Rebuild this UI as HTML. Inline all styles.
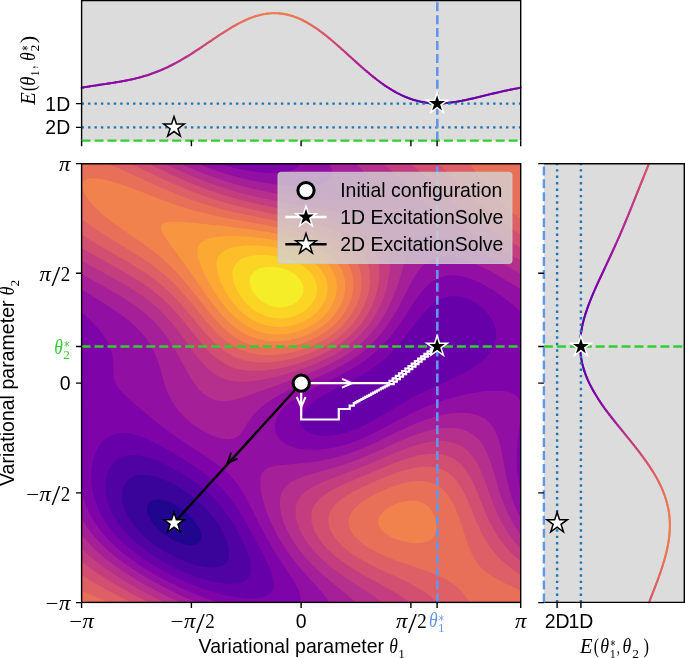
<!DOCTYPE html>
<html><head><meta charset="utf-8"><title>ExcitationSolve energy landscape</title>
<style>html,body{margin:0;padding:0;background:#fff}svg{display:block}</style></head>
<body>
<svg width="685" height="658" viewBox="0 0 685 658">
<rect width="685" height="658" fill="#fff"/>
<g shape-rendering="geometricPrecision"><rect x="81.6" y="163.8" width="439.1" height="438.6" fill="#20068f"/>
<path fill="#3a049a" fill-rule="evenodd" d="M81.6,163.8 83.1,163.8 84.5,163.8 86.0,163.8 87.5,163.8 88.9,163.8 90.4,163.8 91.9,163.8 93.3,163.8 94.8,163.8 96.3,163.8 97.8,163.8 99.2,163.8 100.7,163.8 102.2,163.8 103.6,163.8 105.1,163.8 106.6,163.8 108.0,163.8 109.5,163.8 111.0,163.8 112.4,163.8 113.9,163.8 115.4,163.8 116.8,163.8 118.3,163.8 119.8,163.8 121.3,163.8 122.7,163.8 124.2,163.8 125.7,163.8 127.1,163.8 128.6,163.8 130.1,163.8 131.5,163.8 133.0,163.8 134.5,163.8 135.9,163.8 137.4,163.8 138.9,163.8 140.3,163.8 141.8,163.8 143.3,163.8 144.7,163.8 146.2,163.8 147.7,163.8 149.2,163.8 150.6,163.8 152.1,163.8 153.6,163.8 155.0,163.8 156.5,163.8 158.0,163.8 159.4,163.8 160.9,163.8 162.4,163.8 163.8,163.8 165.3,163.8 166.8,163.8 168.2,163.8 169.7,163.8 171.2,163.8 172.7,163.8 174.1,163.8 175.6,163.8 177.1,163.8 178.5,163.8 180.0,163.8 181.5,163.8 182.9,163.8 184.4,163.8 185.9,163.8 187.3,163.8 188.8,163.8 190.3,163.8 191.7,163.8 193.2,163.8 194.7,163.8 196.1,163.8 197.6,163.8 199.1,163.8 200.6,163.8 202.0,163.8 203.5,163.8 205.0,163.8 206.4,163.8 207.9,163.8 209.4,163.8 210.8,163.8 212.3,163.8 213.8,163.8 215.2,163.8 216.7,163.8 218.2,163.8 219.6,163.8 221.1,163.8 222.6,163.8 224.1,163.8 225.5,163.8 227.0,163.8 228.5,163.8 229.9,163.8 231.4,163.8 232.9,163.8 234.3,163.8 235.8,163.8 237.3,163.8 238.7,163.8 240.2,163.8 241.7,163.8 243.1,163.8 244.6,163.8 246.1,163.8 247.5,163.8 249.0,163.8 250.5,163.8 252.0,163.8 253.4,163.8 254.9,163.8 256.4,163.8 257.8,163.8 259.3,163.8 260.8,163.8 262.2,163.8 263.7,163.8 265.2,163.8 266.6,163.8 268.1,163.8 269.6,163.8 271.0,163.8 272.5,163.8 274.0,163.8 275.5,163.8 276.9,163.8 278.4,163.8 279.9,163.8 281.3,163.8 282.8,163.8 284.3,163.8 285.7,163.8 287.2,163.8 288.7,163.8 290.1,163.8 291.6,163.8 293.1,163.8 294.5,163.8 296.0,163.8 297.5,163.8 298.9,163.8 300.4,163.8 301.9,163.8 303.4,163.8 304.8,163.8 306.3,163.8 307.8,163.8 309.2,163.8 310.7,163.8 312.2,163.8 313.6,163.8 315.1,163.8 316.6,163.8 318.0,163.8 319.5,163.8 321.0,163.8 322.4,163.8 323.9,163.8 325.4,163.8 326.8,163.8 328.3,163.8 329.8,163.8 331.3,163.8 332.7,163.8 334.2,163.8 335.7,163.8 337.1,163.8 338.6,163.8 340.1,163.8 341.5,163.8 343.0,163.8 344.5,163.8 345.9,163.8 347.4,163.8 348.9,163.8 350.3,163.8 351.8,163.8 353.3,163.8 354.8,163.8 356.2,163.8 357.7,163.8 359.2,163.8 360.6,163.8 362.1,163.8 363.6,163.8 365.0,163.8 366.5,163.8 368.0,163.8 369.4,163.8 370.9,163.8 372.4,163.8 373.8,163.8 375.3,163.8 376.8,163.8 378.2,163.8 379.7,163.8 381.2,163.8 382.7,163.8 384.1,163.8 385.6,163.8 387.1,163.8 388.5,163.8 390.0,163.8 391.5,163.8 392.9,163.8 394.4,163.8 395.9,163.8 397.3,163.8 398.8,163.8 400.3,163.8 401.7,163.8 403.2,163.8 404.7,163.8 406.2,163.8 407.6,163.8 409.1,163.8 410.6,163.8 412.0,163.8 413.5,163.8 415.0,163.8 416.4,163.8 417.9,163.8 419.4,163.8 420.8,163.8 422.3,163.8 423.8,163.8 425.2,163.8 426.7,163.8 428.2,163.8 429.6,163.8 431.1,163.8 432.6,163.8 434.1,163.8 435.5,163.8 437.0,163.8 438.5,163.8 439.9,163.8 441.4,163.8 442.9,163.8 444.3,163.8 445.8,163.8 447.3,163.8 448.7,163.8 450.2,163.8 451.7,163.8 453.1,163.8 454.6,163.8 456.1,163.8 457.6,163.8 459.0,163.8 460.5,163.8 462.0,163.8 463.4,163.8 464.9,163.8 466.4,163.8 467.8,163.8 469.3,163.8 470.8,163.8 472.2,163.8 473.7,163.8 475.2,163.8 476.6,163.8 478.1,163.8 479.6,163.8 481.0,163.8 482.5,163.8 484.0,163.8 485.5,163.8 486.9,163.8 488.4,163.8 489.9,163.8 491.3,163.8 492.8,163.8 494.3,163.8 495.7,163.8 497.2,163.8 498.7,163.8 500.1,163.8 501.6,163.8 503.1,163.8 504.5,163.8 506.0,163.8 507.5,163.8 509.0,163.8 510.4,163.8 511.9,163.8 513.4,163.8 514.8,163.8 516.3,163.8 517.8,163.8 519.2,163.8 520.7,163.8 520.7,165.3 520.7,166.7 520.7,168.2 520.7,169.7 520.7,171.1 520.7,172.6 520.7,174.1 520.7,175.5 520.7,177.0 520.7,178.5 520.7,179.9 520.7,181.4 520.7,182.9 520.7,184.3 520.7,185.8 520.7,187.3 520.7,188.7 520.7,190.2 520.7,191.7 520.7,193.1 520.7,194.6 520.7,196.1 520.7,197.5 520.7,199.0 520.7,200.5 520.7,201.9 520.7,203.4 520.7,204.9 520.7,206.3 520.7,207.8 520.7,209.3 520.7,210.7 520.7,212.2 520.7,213.7 520.7,215.1 520.7,216.6 520.7,218.1 520.7,219.5 520.7,221.0 520.7,222.5 520.7,223.9 520.7,225.4 520.7,226.9 520.7,228.3 520.7,229.8 520.7,231.3 520.7,232.7 520.7,234.2 520.7,235.7 520.7,237.1 520.7,238.6 520.7,240.1 520.7,241.5 520.7,243.0 520.7,244.5 520.7,245.9 520.7,247.4 520.7,248.9 520.7,250.3 520.7,251.8 520.7,253.3 520.7,254.7 520.7,256.2 520.7,257.7 520.7,259.1 520.7,260.6 520.7,262.1 520.7,263.5 520.7,265.0 520.7,266.5 520.7,267.9 520.7,269.4 520.7,270.9 520.7,272.3 520.7,273.8 520.7,275.3 520.7,276.8 520.7,278.2 520.7,279.7 520.7,281.2 520.7,282.6 520.7,284.1 520.7,285.6 520.7,287.0 520.7,288.5 520.7,290.0 520.7,291.4 520.7,292.9 520.7,294.4 520.7,295.8 520.7,297.3 520.7,298.8 520.7,300.2 520.7,301.7 520.7,303.2 520.7,304.6 520.7,306.1 520.7,307.6 520.7,309.0 520.7,310.5 520.7,312.0 520.7,313.4 520.7,314.9 520.7,316.4 520.7,317.8 520.7,319.3 520.7,320.8 520.7,322.2 520.7,323.7 520.7,325.2 520.7,326.6 520.7,328.1 520.7,329.6 520.7,331.0 520.7,332.5 520.7,334.0 520.7,335.4 520.7,336.9 520.7,338.4 520.7,339.8 520.7,341.3 520.7,342.8 520.7,344.2 520.7,345.7 520.7,347.2 520.7,348.6 520.7,350.1 520.7,351.6 520.7,353.0 520.7,354.5 520.7,356.0 520.7,357.4 520.7,358.9 520.7,360.4 520.7,361.8 520.7,363.3 520.7,364.8 520.7,366.2 520.7,367.7 520.7,369.2 520.7,370.6 520.7,372.1 520.7,373.6 520.7,375.0 520.7,376.5 520.7,378.0 520.7,379.4 520.7,380.9 520.7,382.4 520.7,383.8 520.7,385.3 520.7,386.8 520.7,388.2 520.7,389.7 520.7,391.2 520.7,392.6 520.7,394.1 520.7,395.6 520.7,397.0 520.7,398.5 520.7,400.0 520.7,401.4 520.7,402.9 520.7,404.4 520.7,405.8 520.7,407.3 520.7,408.8 520.7,410.2 520.7,411.7 520.7,413.2 520.7,414.6 520.7,416.1 520.7,417.6 520.7,419.0 520.7,420.5 520.7,422.0 520.7,423.4 520.7,424.9 520.7,426.4 520.7,427.8 520.7,429.3 520.7,430.8 520.7,432.2 520.7,433.7 520.7,435.2 520.7,436.6 520.7,438.1 520.7,439.6 520.7,441.0 520.7,442.5 520.7,444.0 520.7,445.4 520.7,446.9 520.7,448.4 520.7,449.8 520.7,451.3 520.7,452.8 520.7,454.2 520.7,455.7 520.7,457.2 520.7,458.6 520.7,460.1 520.7,461.6 520.7,463.0 520.7,464.5 520.7,466.0 520.7,467.4 520.7,468.9 520.7,470.4 520.7,471.8 520.7,473.3 520.7,474.8 520.7,476.2 520.7,477.7 520.7,479.2 520.7,480.6 520.7,482.1 520.7,483.6 520.7,485.0 520.7,486.5 520.7,488.0 520.7,489.4 520.7,490.9 520.7,492.4 520.7,493.9 520.7,495.3 520.7,496.8 520.7,498.3 520.7,499.7 520.7,501.2 520.7,502.7 520.7,504.1 520.7,505.6 520.7,507.1 520.7,508.5 520.7,510.0 520.7,511.5 520.7,512.9 520.7,514.4 520.7,515.9 520.7,517.3 520.7,518.8 520.7,520.3 520.7,521.7 520.7,523.2 520.7,524.7 520.7,526.1 520.7,527.6 520.7,529.1 520.7,530.5 520.7,532.0 520.7,533.5 520.7,534.9 520.7,536.4 520.7,537.9 520.7,539.3 520.7,540.8 520.7,542.3 520.7,543.7 520.7,545.2 520.7,546.7 520.7,548.1 520.7,549.6 520.7,551.1 520.7,552.5 520.7,554.0 520.7,555.5 520.7,556.9 520.7,558.4 520.7,559.9 520.7,561.3 520.7,562.8 520.7,564.3 520.7,565.7 520.7,567.2 520.7,568.7 520.7,570.1 520.7,571.6 520.7,573.1 520.7,574.5 520.7,576.0 520.7,577.5 520.7,578.9 520.7,580.4 520.7,581.9 520.7,583.3 520.7,584.8 520.7,586.3 520.7,587.7 520.7,589.2 520.7,590.7 520.7,592.1 520.7,593.6 520.7,595.1 520.7,596.5 520.7,598.0 520.7,599.5 520.7,600.9 520.7,602.4 519.2,602.4 517.8,602.4 516.3,602.4 514.8,602.4 513.4,602.4 511.9,602.4 510.4,602.4 509.0,602.4 507.5,602.4 506.0,602.4 504.5,602.4 503.1,602.4 501.6,602.4 500.1,602.4 498.7,602.4 497.2,602.4 495.7,602.4 494.3,602.4 492.8,602.4 491.3,602.4 489.9,602.4 488.4,602.4 486.9,602.4 485.5,602.4 484.0,602.4 482.5,602.4 481.0,602.4 479.6,602.4 478.1,602.4 476.6,602.4 475.2,602.4 473.7,602.4 472.2,602.4 470.8,602.4 469.3,602.4 467.8,602.4 466.4,602.4 464.9,602.4 463.4,602.4 462.0,602.4 460.5,602.4 459.0,602.4 457.6,602.4 456.1,602.4 454.6,602.4 453.1,602.4 451.7,602.4 450.2,602.4 448.7,602.4 447.3,602.4 445.8,602.4 444.3,602.4 442.9,602.4 441.4,602.4 439.9,602.4 438.5,602.4 437.0,602.4 435.5,602.4 434.1,602.4 432.6,602.4 431.1,602.4 429.6,602.4 428.2,602.4 426.7,602.4 425.2,602.4 423.8,602.4 422.3,602.4 420.8,602.4 419.4,602.4 417.9,602.4 416.4,602.4 415.0,602.4 413.5,602.4 412.0,602.4 410.6,602.4 409.1,602.4 407.6,602.4 406.2,602.4 404.7,602.4 403.2,602.4 401.7,602.4 400.3,602.4 398.8,602.4 397.3,602.4 395.9,602.4 394.4,602.4 392.9,602.4 391.5,602.4 390.0,602.4 388.5,602.4 387.1,602.4 385.6,602.4 384.1,602.4 382.7,602.4 381.2,602.4 379.7,602.4 378.2,602.4 376.8,602.4 375.3,602.4 373.8,602.4 372.4,602.4 370.9,602.4 369.4,602.4 368.0,602.4 366.5,602.4 365.0,602.4 363.6,602.4 362.1,602.4 360.6,602.4 359.2,602.4 357.7,602.4 356.2,602.4 354.8,602.4 353.3,602.4 351.8,602.4 350.3,602.4 348.9,602.4 347.4,602.4 345.9,602.4 344.5,602.4 343.0,602.4 341.5,602.4 340.1,602.4 338.6,602.4 337.1,602.4 335.7,602.4 334.2,602.4 332.7,602.4 331.3,602.4 329.8,602.4 328.3,602.4 326.8,602.4 325.4,602.4 323.9,602.4 322.4,602.4 321.0,602.4 319.5,602.4 318.0,602.4 316.6,602.4 315.1,602.4 313.6,602.4 312.2,602.4 310.7,602.4 309.2,602.4 307.8,602.4 306.3,602.4 304.8,602.4 303.4,602.4 301.9,602.4 300.4,602.4 298.9,602.4 297.5,602.4 296.0,602.4 294.5,602.4 293.1,602.4 291.6,602.4 290.1,602.4 288.7,602.4 287.2,602.4 285.7,602.4 284.3,602.4 282.8,602.4 281.3,602.4 279.9,602.4 278.4,602.4 276.9,602.4 275.5,602.4 274.0,602.4 272.5,602.4 271.0,602.4 269.6,602.4 268.1,602.4 266.6,602.4 265.2,602.4 263.7,602.4 262.2,602.4 260.8,602.4 259.3,602.4 257.8,602.4 256.4,602.4 254.9,602.4 253.4,602.4 252.0,602.4 250.5,602.4 249.0,602.4 247.5,602.4 246.1,602.4 244.6,602.4 243.1,602.4 241.7,602.4 240.2,602.4 238.7,602.4 237.3,602.4 235.8,602.4 234.3,602.4 232.9,602.4 231.4,602.4 229.9,602.4 228.5,602.4 227.0,602.4 225.5,602.4 224.1,602.4 222.6,602.4 221.1,602.4 219.6,602.4 218.2,602.4 216.7,602.4 215.2,602.4 213.8,602.4 212.3,602.4 210.8,602.4 209.4,602.4 207.9,602.4 206.4,602.4 205.0,602.4 203.5,602.4 202.0,602.4 200.6,602.4 199.1,602.4 197.6,602.4 196.1,602.4 194.7,602.4 193.2,602.4 191.7,602.4 190.3,602.4 188.8,602.4 187.3,602.4 185.9,602.4 184.4,602.4 182.9,602.4 181.5,602.4 180.0,602.4 178.5,602.4 177.1,602.4 175.6,602.4 174.1,602.4 172.7,602.4 171.2,602.4 169.7,602.4 168.2,602.4 166.8,602.4 165.3,602.4 163.8,602.4 162.4,602.4 160.9,602.4 159.4,602.4 158.0,602.4 156.5,602.4 155.0,602.4 153.6,602.4 152.1,602.4 150.6,602.4 149.2,602.4 147.7,602.4 146.2,602.4 144.7,602.4 143.3,602.4 141.8,602.4 140.3,602.4 138.9,602.4 137.4,602.4 135.9,602.4 134.5,602.4 133.0,602.4 131.5,602.4 130.1,602.4 128.6,602.4 127.1,602.4 125.7,602.4 124.2,602.4 122.7,602.4 121.3,602.4 119.8,602.4 118.3,602.4 116.8,602.4 115.4,602.4 113.9,602.4 112.4,602.4 111.0,602.4 109.5,602.4 108.0,602.4 106.6,602.4 105.1,602.4 103.6,602.4 102.2,602.4 100.7,602.4 99.2,602.4 97.8,602.4 96.3,602.4 94.8,602.4 93.3,602.4 91.9,602.4 90.4,602.4 88.9,602.4 87.5,602.4 86.0,602.4 84.5,602.4 83.1,602.4 81.6,602.4 81.6,600.9 81.6,599.5 81.6,598.0 81.6,596.5 81.6,595.1 81.6,593.6 81.6,592.1 81.6,590.7 81.6,589.2 81.6,587.7 81.6,586.3 81.6,584.8 81.6,583.3 81.6,581.9 81.6,580.4 81.6,578.9 81.6,577.5 81.6,576.0 81.6,574.5 81.6,573.1 81.6,571.6 81.6,570.1 81.6,568.7 81.6,567.2 81.6,565.7 81.6,564.3 81.6,562.8 81.6,561.3 81.6,559.9 81.6,558.4 81.6,556.9 81.6,555.5 81.6,554.0 81.6,552.5 81.6,551.1 81.6,549.6 81.6,548.1 81.6,546.7 81.6,545.2 81.6,543.7 81.6,542.3 81.6,540.8 81.6,539.3 81.6,537.9 81.6,536.4 81.6,534.9 81.6,533.5 81.6,532.0 81.6,530.5 81.6,529.1 81.6,527.6 81.6,526.1 81.6,524.7 81.6,523.2 81.6,521.7 81.6,520.3 81.6,518.8 81.6,517.3 81.6,515.9 81.6,514.4 81.6,512.9 81.6,511.5 81.6,510.0 81.6,508.5 81.6,507.1 81.6,505.6 81.6,504.1 81.6,502.7 81.6,501.2 81.6,499.7 81.6,498.3 81.6,496.8 81.6,495.3 81.6,493.9 81.6,492.4 81.6,490.9 81.6,489.4 81.6,488.0 81.6,486.5 81.6,485.0 81.6,483.6 81.6,482.1 81.6,480.6 81.6,479.2 81.6,477.7 81.6,476.2 81.6,474.8 81.6,473.3 81.6,471.8 81.6,470.4 81.6,468.9 81.6,467.4 81.6,466.0 81.6,464.5 81.6,463.0 81.6,461.6 81.6,460.1 81.6,458.6 81.6,457.2 81.6,455.7 81.6,454.2 81.6,452.8 81.6,451.3 81.6,449.8 81.6,448.4 81.6,446.9 81.6,445.4 81.6,444.0 81.6,442.5 81.6,441.0 81.6,439.6 81.6,438.1 81.6,436.6 81.6,435.2 81.6,433.7 81.6,432.2 81.6,430.8 81.6,429.3 81.6,427.8 81.6,426.4 81.6,424.9 81.6,423.4 81.6,422.0 81.6,420.5 81.6,419.0 81.6,417.6 81.6,416.1 81.6,414.6 81.6,413.2 81.6,411.7 81.6,410.2 81.6,408.8 81.6,407.3 81.6,405.8 81.6,404.4 81.6,402.9 81.6,401.4 81.6,400.0 81.6,398.5 81.6,397.0 81.6,395.6 81.6,394.1 81.6,392.6 81.6,391.2 81.6,389.7 81.6,388.2 81.6,386.8 81.6,385.3 81.6,383.8 81.6,382.4 81.6,380.9 81.6,379.4 81.6,378.0 81.6,376.5 81.6,375.0 81.6,373.6 81.6,372.1 81.6,370.6 81.6,369.2 81.6,367.7 81.6,366.2 81.6,364.8 81.6,363.3 81.6,361.8 81.6,360.4 81.6,358.9 81.6,357.4 81.6,356.0 81.6,354.5 81.6,353.0 81.6,351.6 81.6,350.1 81.6,348.6 81.6,347.2 81.6,345.7 81.6,344.2 81.6,342.8 81.6,341.3 81.6,339.8 81.6,338.4 81.6,336.9 81.6,335.4 81.6,334.0 81.6,332.5 81.6,331.0 81.6,329.6 81.6,328.1 81.6,326.6 81.6,325.2 81.6,323.7 81.6,322.2 81.6,320.8 81.6,319.3 81.6,317.8 81.6,316.4 81.6,314.9 81.6,313.4 81.6,312.0 81.6,310.5 81.6,309.0 81.6,307.6 81.6,306.1 81.6,304.6 81.6,303.2 81.6,301.7 81.6,300.2 81.6,298.8 81.6,297.3 81.6,295.8 81.6,294.4 81.6,292.9 81.6,291.4 81.6,290.0 81.6,288.5 81.6,287.0 81.6,285.6 81.6,284.1 81.6,282.6 81.6,281.2 81.6,279.7 81.6,278.2 81.6,276.8 81.6,275.3 81.6,273.8 81.6,272.3 81.6,270.9 81.6,269.4 81.6,267.9 81.6,266.5 81.6,265.0 81.6,263.5 81.6,262.1 81.6,260.6 81.6,259.1 81.6,257.7 81.6,256.2 81.6,254.7 81.6,253.3 81.6,251.8 81.6,250.3 81.6,248.9 81.6,247.4 81.6,245.9 81.6,244.5 81.6,243.0 81.6,241.5 81.6,240.1 81.6,238.6 81.6,237.1 81.6,235.7 81.6,234.2 81.6,232.7 81.6,231.3 81.6,229.8 81.6,228.3 81.6,226.9 81.6,225.4 81.6,223.9 81.6,222.5 81.6,221.0 81.6,219.5 81.6,218.1 81.6,216.6 81.6,215.1 81.6,213.7 81.6,212.2 81.6,210.7 81.6,209.3 81.6,207.8 81.6,206.3 81.6,204.9 81.6,203.4 81.6,201.9 81.6,200.5 81.6,199.0 81.6,197.5 81.6,196.1 81.6,194.6 81.6,193.1 81.6,191.7 81.6,190.2 81.6,188.7 81.6,187.3 81.6,185.8 81.6,184.3 81.6,182.9 81.6,181.4 81.6,179.9 81.6,178.5 81.6,177.0 81.6,175.5 81.6,174.1 81.6,172.6 81.6,171.1 81.6,169.7 81.6,168.2 81.6,166.7 81.6,165.3 81.6,163.8ZM156.5,499.6 155.0,499.8 153.6,500.1 152.1,500.7 150.6,501.5 149.4,502.7 148.3,504.1 147.7,505.4 147.3,507.1 147.1,508.5 147.1,510.0 147.3,511.5 147.6,512.9 148.0,514.4 148.6,515.9 149.2,517.2 150.0,518.8 150.6,519.9 151.8,521.7 152.8,523.2 153.6,524.2 155.0,525.9 156.5,527.6 158.0,529.0 159.4,530.4 160.9,531.7 162.4,532.9 163.8,534.0 165.0,534.9 166.8,536.1 168.2,537.1 169.5,537.9 171.2,538.9 172.7,539.7 174.1,540.4 175.6,541.1 177.1,541.8 178.2,542.3 180.0,542.9 181.5,543.5 182.9,543.9 184.4,544.3 185.9,544.6 187.3,544.9 188.8,545.1 190.3,545.3 191.7,545.3 193.2,545.2 194.7,545.0 196.1,544.6 197.6,543.9 199.1,542.8 200.6,540.9 201.1,539.3 201.3,537.9 201.4,536.4 201.2,534.9 200.9,533.5 200.6,532.1 200.0,530.5 199.4,529.1 198.7,527.6 197.9,526.1 197.0,524.7 196.1,523.4 195.0,521.7 193.8,520.3 192.6,518.8 191.7,517.8 190.3,516.2 188.8,514.8 187.3,513.4 185.9,512.1 184.4,510.9 183.2,510.0 181.5,508.7 180.0,507.7 178.5,506.7 177.1,505.8 175.6,505.0 174.1,504.2 172.7,503.5 171.2,502.8 169.7,502.2 168.2,501.6 167.0,501.2 165.3,500.7 163.8,500.3 162.4,500.0 160.9,499.7 159.4,499.6 158.0,499.5 156.5,499.6Z"/>
<path fill="#5102a3" fill-rule="evenodd" d="M81.6,163.8 83.1,163.8 84.5,163.8 86.0,163.8 87.5,163.8 88.9,163.8 90.4,163.8 91.9,163.8 93.3,163.8 94.8,163.8 96.3,163.8 97.8,163.8 99.2,163.8 100.7,163.8 102.2,163.8 103.6,163.8 105.1,163.8 106.6,163.8 108.0,163.8 109.5,163.8 111.0,163.8 112.4,163.8 113.9,163.8 115.4,163.8 116.8,163.8 118.3,163.8 119.8,163.8 121.3,163.8 122.7,163.8 124.2,163.8 125.7,163.8 127.1,163.8 128.6,163.8 130.1,163.8 131.5,163.8 133.0,163.8 134.5,163.8 135.9,163.8 137.4,163.8 138.9,163.8 140.3,163.8 141.8,163.8 143.3,163.8 144.7,163.8 146.2,163.8 147.7,163.8 149.2,163.8 150.6,163.8 152.1,163.8 153.6,163.8 155.0,163.8 156.5,163.8 158.0,163.8 159.4,163.8 160.9,163.8 162.4,163.8 163.8,163.8 165.3,163.8 166.8,163.8 168.2,163.8 169.7,163.8 171.2,163.8 172.7,163.8 174.1,163.8 175.6,163.8 177.1,163.8 178.5,163.8 180.0,163.8 181.5,163.8 182.9,163.8 184.4,163.8 185.9,163.8 187.3,163.8 188.8,163.8 190.3,163.8 191.7,163.8 193.2,163.8 194.7,163.8 196.1,163.8 197.6,163.8 199.1,163.8 200.6,163.8 202.0,163.8 203.5,163.8 205.0,163.8 206.4,163.8 207.9,163.8 209.4,163.8 210.8,163.8 212.3,163.8 213.8,163.8 215.2,163.8 216.7,163.8 218.2,163.8 219.6,163.8 221.1,163.8 222.6,163.8 224.1,163.8 225.5,163.8 227.0,163.8 228.5,163.8 229.9,163.8 231.4,163.8 232.9,163.8 234.3,163.8 235.8,163.8 237.3,163.8 238.7,163.8 240.2,163.8 241.7,163.8 243.1,163.8 244.6,163.8 246.1,163.8 247.5,163.8 249.0,163.8 250.5,163.8 252.0,163.8 253.4,163.8 254.9,163.8 256.4,163.8 257.8,163.8 259.3,163.8 260.8,163.8 262.2,163.8 263.7,163.8 265.2,163.8 266.6,163.8 268.1,163.8 269.6,163.8 271.0,163.8 272.5,163.8 274.0,163.8 275.5,163.8 276.9,163.8 278.4,163.8 279.9,163.8 281.3,163.8 282.8,163.8 284.3,163.8 285.7,163.8 287.2,163.8 288.7,163.8 290.1,163.8 291.6,163.8 293.1,163.8 294.5,163.8 296.0,163.8 297.5,163.8 298.9,163.8 300.4,163.8 301.9,163.8 303.4,163.8 304.8,163.8 306.3,163.8 307.8,163.8 309.2,163.8 310.7,163.8 312.2,163.8 313.6,163.8 315.1,163.8 316.6,163.8 318.0,163.8 319.5,163.8 321.0,163.8 322.4,163.8 323.9,163.8 325.4,163.8 326.8,163.8 328.3,163.8 329.8,163.8 331.3,163.8 332.7,163.8 334.2,163.8 335.7,163.8 337.1,163.8 338.6,163.8 340.1,163.8 341.5,163.8 343.0,163.8 344.5,163.8 345.9,163.8 347.4,163.8 348.9,163.8 350.3,163.8 351.8,163.8 353.3,163.8 354.8,163.8 356.2,163.8 357.7,163.8 359.2,163.8 360.6,163.8 362.1,163.8 363.6,163.8 365.0,163.8 366.5,163.8 368.0,163.8 369.4,163.8 370.9,163.8 372.4,163.8 373.8,163.8 375.3,163.8 376.8,163.8 378.2,163.8 379.7,163.8 381.2,163.8 382.7,163.8 384.1,163.8 385.6,163.8 387.1,163.8 388.5,163.8 390.0,163.8 391.5,163.8 392.9,163.8 394.4,163.8 395.9,163.8 397.3,163.8 398.8,163.8 400.3,163.8 401.7,163.8 403.2,163.8 404.7,163.8 406.2,163.8 407.6,163.8 409.1,163.8 410.6,163.8 412.0,163.8 413.5,163.8 415.0,163.8 416.4,163.8 417.9,163.8 419.4,163.8 420.8,163.8 422.3,163.8 423.8,163.8 425.2,163.8 426.7,163.8 428.2,163.8 429.6,163.8 431.1,163.8 432.6,163.8 434.1,163.8 435.5,163.8 437.0,163.8 438.5,163.8 439.9,163.8 441.4,163.8 442.9,163.8 444.3,163.8 445.8,163.8 447.3,163.8 448.7,163.8 450.2,163.8 451.7,163.8 453.1,163.8 454.6,163.8 456.1,163.8 457.6,163.8 459.0,163.8 460.5,163.8 462.0,163.8 463.4,163.8 464.9,163.8 466.4,163.8 467.8,163.8 469.3,163.8 470.8,163.8 472.2,163.8 473.7,163.8 475.2,163.8 476.6,163.8 478.1,163.8 479.6,163.8 481.0,163.8 482.5,163.8 484.0,163.8 485.5,163.8 486.9,163.8 488.4,163.8 489.9,163.8 491.3,163.8 492.8,163.8 494.3,163.8 495.7,163.8 497.2,163.8 498.7,163.8 500.1,163.8 501.6,163.8 503.1,163.8 504.5,163.8 506.0,163.8 507.5,163.8 509.0,163.8 510.4,163.8 511.9,163.8 513.4,163.8 514.8,163.8 516.3,163.8 517.8,163.8 519.2,163.8 520.7,163.8 520.7,165.3 520.7,166.7 520.7,168.2 520.7,169.7 520.7,171.1 520.7,172.6 520.7,174.1 520.7,175.5 520.7,177.0 520.7,178.5 520.7,179.9 520.7,181.4 520.7,182.9 520.7,184.3 520.7,185.8 520.7,187.3 520.7,188.7 520.7,190.2 520.7,191.7 520.7,193.1 520.7,194.6 520.7,196.1 520.7,197.5 520.7,199.0 520.7,200.5 520.7,201.9 520.7,203.4 520.7,204.9 520.7,206.3 520.7,207.8 520.7,209.3 520.7,210.7 520.7,212.2 520.7,213.7 520.7,215.1 520.7,216.6 520.7,218.1 520.7,219.5 520.7,221.0 520.7,222.5 520.7,223.9 520.7,225.4 520.7,226.9 520.7,228.3 520.7,229.8 520.7,231.3 520.7,232.7 520.7,234.2 520.7,235.7 520.7,237.1 520.7,238.6 520.7,240.1 520.7,241.5 520.7,243.0 520.7,244.5 520.7,245.9 520.7,247.4 520.7,248.9 520.7,250.3 520.7,251.8 520.7,253.3 520.7,254.7 520.7,256.2 520.7,257.7 520.7,259.1 520.7,260.6 520.7,262.1 520.7,263.5 520.7,265.0 520.7,266.5 520.7,267.9 520.7,269.4 520.7,270.9 520.7,272.3 520.7,273.8 520.7,275.3 520.7,276.8 520.7,278.2 520.7,279.7 520.7,281.2 520.7,282.6 520.7,284.1 520.7,285.6 520.7,287.0 520.7,288.5 520.7,290.0 520.7,291.4 520.7,292.9 520.7,294.4 520.7,295.8 520.7,297.3 520.7,298.8 520.7,300.2 520.7,301.7 520.7,303.2 520.7,304.6 520.7,306.1 520.7,307.6 520.7,309.0 520.7,310.5 520.7,312.0 520.7,313.4 520.7,314.9 520.7,316.4 520.7,317.8 520.7,319.3 520.7,320.8 520.7,322.2 520.7,323.7 520.7,325.2 520.7,326.6 520.7,328.1 520.7,329.6 520.7,331.0 520.7,332.5 520.7,334.0 520.7,335.4 520.7,336.9 520.7,338.4 520.7,339.8 520.7,341.3 520.7,342.8 520.7,344.2 520.7,345.7 520.7,347.2 520.7,348.6 520.7,350.1 520.7,351.6 520.7,353.0 520.7,354.5 520.7,356.0 520.7,357.4 520.7,358.9 520.7,360.4 520.7,361.8 520.7,363.3 520.7,364.8 520.7,366.2 520.7,367.7 520.7,369.2 520.7,370.6 520.7,372.1 520.7,373.6 520.7,375.0 520.7,376.5 520.7,378.0 520.7,379.4 520.7,380.9 520.7,382.4 520.7,383.8 520.7,385.3 520.7,386.8 520.7,388.2 520.7,389.7 520.7,391.2 520.7,392.6 520.7,394.1 520.7,395.6 520.7,397.0 520.7,398.5 520.7,400.0 520.7,401.4 520.7,402.9 520.7,404.4 520.7,405.8 520.7,407.3 520.7,408.8 520.7,410.2 520.7,411.7 520.7,413.2 520.7,414.6 520.7,416.1 520.7,417.6 520.7,419.0 520.7,420.5 520.7,422.0 520.7,423.4 520.7,424.9 520.7,426.4 520.7,427.8 520.7,429.3 520.7,430.8 520.7,432.2 520.7,433.7 520.7,435.2 520.7,436.6 520.7,438.1 520.7,439.6 520.7,441.0 520.7,442.5 520.7,444.0 520.7,445.4 520.7,446.9 520.7,448.4 520.7,449.8 520.7,451.3 520.7,452.8 520.7,454.2 520.7,455.7 520.7,457.2 520.7,458.6 520.7,460.1 520.7,461.6 520.7,463.0 520.7,464.5 520.7,466.0 520.7,467.4 520.7,468.9 520.7,470.4 520.7,471.8 520.7,473.3 520.7,474.8 520.7,476.2 520.7,477.7 520.7,479.2 520.7,480.6 520.7,482.1 520.7,483.6 520.7,485.0 520.7,486.5 520.7,488.0 520.7,489.4 520.7,490.9 520.7,492.4 520.7,493.9 520.7,495.3 520.7,496.8 520.7,498.3 520.7,499.7 520.7,501.2 520.7,502.7 520.7,504.1 520.7,505.6 520.7,507.1 520.7,508.5 520.7,510.0 520.7,511.5 520.7,512.9 520.7,514.4 520.7,515.9 520.7,517.3 520.7,518.8 520.7,520.3 520.7,521.7 520.7,523.2 520.7,524.7 520.7,526.1 520.7,527.6 520.7,529.1 520.7,530.5 520.7,532.0 520.7,533.5 520.7,534.9 520.7,536.4 520.7,537.9 520.7,539.3 520.7,540.8 520.7,542.3 520.7,543.7 520.7,545.2 520.7,546.7 520.7,548.1 520.7,549.6 520.7,551.1 520.7,552.5 520.7,554.0 520.7,555.5 520.7,556.9 520.7,558.4 520.7,559.9 520.7,561.3 520.7,562.8 520.7,564.3 520.7,565.7 520.7,567.2 520.7,568.7 520.7,570.1 520.7,571.6 520.7,573.1 520.7,574.5 520.7,576.0 520.7,577.5 520.7,578.9 520.7,580.4 520.7,581.9 520.7,583.3 520.7,584.8 520.7,586.3 520.7,587.7 520.7,589.2 520.7,590.7 520.7,592.1 520.7,593.6 520.7,595.1 520.7,596.5 520.7,598.0 520.7,599.5 520.7,600.9 520.7,602.4 519.2,602.4 517.8,602.4 516.3,602.4 514.8,602.4 513.4,602.4 511.9,602.4 510.4,602.4 509.0,602.4 507.5,602.4 506.0,602.4 504.5,602.4 503.1,602.4 501.6,602.4 500.1,602.4 498.7,602.4 497.2,602.4 495.7,602.4 494.3,602.4 492.8,602.4 491.3,602.4 489.9,602.4 488.4,602.4 486.9,602.4 485.5,602.4 484.0,602.4 482.5,602.4 481.0,602.4 479.6,602.4 478.1,602.4 476.6,602.4 475.2,602.4 473.7,602.4 472.2,602.4 470.8,602.4 469.3,602.4 467.8,602.4 466.4,602.4 464.9,602.4 463.4,602.4 462.0,602.4 460.5,602.4 459.0,602.4 457.6,602.4 456.1,602.4 454.6,602.4 453.1,602.4 451.7,602.4 450.2,602.4 448.7,602.4 447.3,602.4 445.8,602.4 444.3,602.4 442.9,602.4 441.4,602.4 439.9,602.4 438.5,602.4 437.0,602.4 435.5,602.4 434.1,602.4 432.6,602.4 431.1,602.4 429.6,602.4 428.2,602.4 426.7,602.4 425.2,602.4 423.8,602.4 422.3,602.4 420.8,602.4 419.4,602.4 417.9,602.4 416.4,602.4 415.0,602.4 413.5,602.4 412.0,602.4 410.6,602.4 409.1,602.4 407.6,602.4 406.2,602.4 404.7,602.4 403.2,602.4 401.7,602.4 400.3,602.4 398.8,602.4 397.3,602.4 395.9,602.4 394.4,602.4 392.9,602.4 391.5,602.4 390.0,602.4 388.5,602.4 387.1,602.4 385.6,602.4 384.1,602.4 382.7,602.4 381.2,602.4 379.7,602.4 378.2,602.4 376.8,602.4 375.3,602.4 373.8,602.4 372.4,602.4 370.9,602.4 369.4,602.4 368.0,602.4 366.5,602.4 365.0,602.4 363.6,602.4 362.1,602.4 360.6,602.4 359.2,602.4 357.7,602.4 356.2,602.4 354.8,602.4 353.3,602.4 351.8,602.4 350.3,602.4 348.9,602.4 347.4,602.4 345.9,602.4 344.5,602.4 343.0,602.4 341.5,602.4 340.1,602.4 338.6,602.4 337.1,602.4 335.7,602.4 334.2,602.4 332.7,602.4 331.3,602.4 329.8,602.4 328.3,602.4 326.8,602.4 325.4,602.4 323.9,602.4 322.4,602.4 321.0,602.4 319.5,602.4 318.0,602.4 316.6,602.4 315.1,602.4 313.6,602.4 312.2,602.4 310.7,602.4 309.2,602.4 307.8,602.4 306.3,602.4 304.8,602.4 303.4,602.4 301.9,602.4 300.4,602.4 298.9,602.4 297.5,602.4 296.0,602.4 294.5,602.4 293.1,602.4 291.6,602.4 290.1,602.4 288.7,602.4 287.2,602.4 285.7,602.4 284.3,602.4 282.8,602.4 281.3,602.4 279.9,602.4 278.4,602.4 276.9,602.4 275.5,602.4 274.0,602.4 272.5,602.4 271.0,602.4 269.6,602.4 268.1,602.4 266.6,602.4 265.2,602.4 263.7,602.4 262.2,602.4 260.8,602.4 259.3,602.4 257.8,602.4 256.4,602.4 254.9,602.4 253.4,602.4 252.0,602.4 250.5,602.4 249.0,602.4 247.5,602.4 246.1,602.4 244.6,602.4 243.1,602.4 241.7,602.4 240.2,602.4 238.7,602.4 237.3,602.4 235.8,602.4 234.3,602.4 232.9,602.4 231.4,602.4 229.9,602.4 228.5,602.4 227.0,602.4 225.5,602.4 224.1,602.4 222.6,602.4 221.1,602.4 219.6,602.4 218.2,602.4 216.7,602.4 215.2,602.4 213.8,602.4 212.3,602.4 210.8,602.4 209.4,602.4 207.9,602.4 206.4,602.4 205.0,602.4 203.5,602.4 202.0,602.4 200.6,602.4 199.1,602.4 197.6,602.4 196.1,602.4 194.7,602.4 193.2,602.4 191.7,602.4 190.3,602.4 188.8,602.4 187.3,602.4 185.9,602.4 184.4,602.4 182.9,602.4 181.5,602.4 180.0,602.4 178.5,602.4 177.1,602.4 175.6,602.4 174.1,602.4 172.7,602.4 171.2,602.4 169.7,602.4 168.2,602.4 166.8,602.4 165.3,602.4 163.8,602.4 162.4,602.4 160.9,602.4 159.4,602.4 158.0,602.4 156.5,602.4 155.0,602.4 153.6,602.4 152.1,602.4 150.6,602.4 149.2,602.4 147.7,602.4 146.2,602.4 144.7,602.4 143.3,602.4 141.8,602.4 140.3,602.4 138.9,602.4 137.4,602.4 135.9,602.4 134.5,602.4 133.0,602.4 131.5,602.4 130.1,602.4 128.6,602.4 127.1,602.4 125.7,602.4 124.2,602.4 122.7,602.4 121.3,602.4 119.8,602.4 118.3,602.4 116.8,602.4 115.4,602.4 113.9,602.4 112.4,602.4 111.0,602.4 109.5,602.4 108.0,602.4 106.6,602.4 105.1,602.4 103.6,602.4 102.2,602.4 100.7,602.4 99.2,602.4 97.8,602.4 96.3,602.4 94.8,602.4 93.3,602.4 91.9,602.4 90.4,602.4 88.9,602.4 87.5,602.4 86.0,602.4 84.5,602.4 83.1,602.4 81.6,602.4 81.6,600.9 81.6,599.5 81.6,598.0 81.6,596.5 81.6,595.1 81.6,593.6 81.6,592.1 81.6,590.7 81.6,589.2 81.6,587.7 81.6,586.3 81.6,584.8 81.6,583.3 81.6,581.9 81.6,580.4 81.6,578.9 81.6,577.5 81.6,576.0 81.6,574.5 81.6,573.1 81.6,571.6 81.6,570.1 81.6,568.7 81.6,567.2 81.6,565.7 81.6,564.3 81.6,562.8 81.6,561.3 81.6,559.9 81.6,558.4 81.6,556.9 81.6,555.5 81.6,554.0 81.6,552.5 81.6,551.1 81.6,549.6 81.6,548.1 81.6,546.7 81.6,545.2 81.6,543.7 81.6,542.3 81.6,540.8 81.6,539.3 81.6,537.9 81.6,536.4 81.6,534.9 81.6,533.5 81.6,532.0 81.6,530.5 81.6,529.1 81.6,527.6 81.6,526.1 81.6,524.7 81.6,523.2 81.6,521.7 81.6,520.3 81.6,518.8 81.6,517.3 81.6,515.9 81.6,514.4 81.6,512.9 81.6,511.5 81.6,510.0 81.6,508.5 81.6,507.1 81.6,505.6 81.6,504.1 81.6,502.7 81.6,501.2 81.6,499.7 81.6,498.3 81.6,496.8 81.6,495.3 81.6,493.9 81.6,492.4 81.6,490.9 81.6,489.4 81.6,488.0 81.6,486.5 81.6,485.0 81.6,483.6 81.6,482.1 81.6,480.6 81.6,479.2 81.6,477.7 81.6,476.2 81.6,474.8 81.6,473.3 81.6,471.8 81.6,470.4 81.6,468.9 81.6,467.4 81.6,466.0 81.6,464.5 81.6,463.0 81.6,461.6 81.6,460.1 81.6,458.6 81.6,457.2 81.6,455.7 81.6,454.2 81.6,452.8 81.6,451.3 81.6,449.8 81.6,448.4 81.6,446.9 81.6,445.4 81.6,444.0 81.6,442.5 81.6,441.0 81.6,439.6 81.6,438.1 81.6,436.6 81.6,435.2 81.6,433.7 81.6,432.2 81.6,430.8 81.6,429.3 81.6,427.8 81.6,426.4 81.6,424.9 81.6,423.4 81.6,422.0 81.6,420.5 81.6,419.0 81.6,417.6 81.6,416.1 81.6,414.6 81.6,413.2 81.6,411.7 81.6,410.2 81.6,408.8 81.6,407.3 81.6,405.8 81.6,404.4 81.6,402.9 81.6,401.4 81.6,400.0 81.6,398.5 81.6,397.0 81.6,395.6 81.6,394.1 81.6,392.6 81.6,391.2 81.6,389.7 81.6,388.2 81.6,386.8 81.6,385.3 81.6,383.8 81.6,382.4 81.6,380.9 81.6,379.4 81.6,378.0 81.6,376.5 81.6,375.0 81.6,373.6 81.6,372.1 81.6,370.6 81.6,369.2 81.6,367.7 81.6,366.2 81.6,364.8 81.6,363.3 81.6,361.8 81.6,360.4 81.6,358.9 81.6,357.4 81.6,356.0 81.6,354.5 81.6,353.0 81.6,351.6 81.6,350.1 81.6,348.6 81.6,347.2 81.6,345.7 81.6,344.2 81.6,342.8 81.6,341.3 81.6,339.8 81.6,338.4 81.6,336.9 81.6,335.4 81.6,334.0 81.6,332.5 81.6,331.0 81.6,329.6 81.6,328.1 81.6,326.6 81.6,325.2 81.6,323.7 81.6,322.2 81.6,320.8 81.6,319.3 81.6,317.8 81.6,316.4 81.6,314.9 81.6,313.4 81.6,312.0 81.6,310.5 81.6,309.0 81.6,307.6 81.6,306.1 81.6,304.6 81.6,303.2 81.6,301.7 81.6,300.2 81.6,298.8 81.6,297.3 81.6,295.8 81.6,294.4 81.6,292.9 81.6,291.4 81.6,290.0 81.6,288.5 81.6,287.0 81.6,285.6 81.6,284.1 81.6,282.6 81.6,281.2 81.6,279.7 81.6,278.2 81.6,276.8 81.6,275.3 81.6,273.8 81.6,272.3 81.6,270.9 81.6,269.4 81.6,267.9 81.6,266.5 81.6,265.0 81.6,263.5 81.6,262.1 81.6,260.6 81.6,259.1 81.6,257.7 81.6,256.2 81.6,254.7 81.6,253.3 81.6,251.8 81.6,250.3 81.6,248.9 81.6,247.4 81.6,245.9 81.6,244.5 81.6,243.0 81.6,241.5 81.6,240.1 81.6,238.6 81.6,237.1 81.6,235.7 81.6,234.2 81.6,232.7 81.6,231.3 81.6,229.8 81.6,228.3 81.6,226.9 81.6,225.4 81.6,223.9 81.6,222.5 81.6,221.0 81.6,219.5 81.6,218.1 81.6,216.6 81.6,215.1 81.6,213.7 81.6,212.2 81.6,210.7 81.6,209.3 81.6,207.8 81.6,206.3 81.6,204.9 81.6,203.4 81.6,201.9 81.6,200.5 81.6,199.0 81.6,197.5 81.6,196.1 81.6,194.6 81.6,193.1 81.6,191.7 81.6,190.2 81.6,188.7 81.6,187.3 81.6,185.8 81.6,184.3 81.6,182.9 81.6,181.4 81.6,179.9 81.6,178.5 81.6,177.0 81.6,175.5 81.6,174.1 81.6,172.6 81.6,171.1 81.6,169.7 81.6,168.2 81.6,166.7 81.6,165.3 81.6,163.8ZM135.9,475.8 134.6,476.2 133.0,476.9 131.5,477.6 130.1,478.6 128.6,479.7 127.6,480.6 126.3,482.1 125.3,483.6 124.5,485.0 123.8,486.5 123.3,488.0 122.8,489.4 122.5,490.9 122.3,492.4 122.2,493.9 122.1,495.3 122.1,496.8 122.2,498.3 122.3,499.7 122.5,501.2 122.8,502.7 123.1,504.1 123.5,505.6 123.9,507.1 124.4,508.5 125.0,510.0 125.6,511.5 126.3,512.9 127.0,514.4 127.7,515.9 128.6,517.3 129.4,518.8 130.4,520.3 131.3,521.7 132.4,523.2 133.5,524.7 134.5,525.9 135.8,527.6 137.1,529.1 138.4,530.5 139.8,532.0 141.2,533.5 142.7,534.9 144.3,536.4 145.9,537.9 147.6,539.3 149.2,540.6 150.6,541.8 152.1,542.9 153.2,543.7 155.0,545.1 156.5,546.1 158.0,547.1 159.4,548.1 160.9,549.1 162.4,550.0 163.8,550.9 165.3,551.8 166.6,552.5 168.2,553.5 169.7,554.3 171.2,555.1 172.7,555.8 174.1,556.6 175.6,557.3 177.1,558.0 178.5,558.7 180.0,559.3 181.2,559.9 182.9,560.6 184.4,561.2 185.9,561.7 187.3,562.3 188.8,562.8 190.3,563.3 191.7,563.8 193.2,564.2 194.7,564.6 196.1,565.0 197.6,565.4 198.9,565.7 200.6,566.1 202.0,566.4 203.5,566.7 205.0,566.9 206.4,567.1 207.9,567.2 209.4,567.3 210.8,567.4 212.3,567.4 213.8,567.4 215.2,567.3 216.7,567.1 218.2,566.9 219.6,566.5 221.1,566.0 222.6,565.4 224.1,564.5 225.5,563.3 227.0,561.6 228.0,559.9 228.5,558.6 228.9,556.9 229.1,555.5 229.2,554.0 229.2,552.5 229.0,551.1 228.9,549.6 228.6,548.1 228.3,546.7 227.9,545.2 227.5,543.7 227.1,542.3 226.6,540.8 226.0,539.3 225.5,538.1 224.8,536.4 224.1,534.9 223.4,533.5 222.7,532.0 221.9,530.5 221.1,529.1 220.3,527.6 219.6,526.5 218.5,524.7 217.6,523.2 216.7,521.9 215.6,520.3 214.5,518.8 213.8,517.8 212.3,515.9 211.1,514.4 209.9,512.9 208.6,511.5 207.3,510.0 206.4,509.0 205.0,507.5 203.5,506.0 202.0,504.5 200.6,503.2 199.1,501.8 197.6,500.5 196.7,499.7 194.9,498.3 193.2,496.9 191.7,495.8 190.3,494.7 189.1,493.9 187.3,492.6 185.9,491.6 184.4,490.6 182.9,489.6 181.5,488.7 180.3,488.0 178.5,486.9 177.1,486.1 175.6,485.3 174.1,484.5 172.7,483.7 171.2,483.0 169.7,482.3 168.2,481.6 166.8,480.9 165.3,480.3 163.8,479.7 162.6,479.2 160.9,478.6 159.4,478.0 158.0,477.6 156.5,477.1 155.0,476.7 153.6,476.3 152.1,476.0 150.6,475.7 149.2,475.4 147.7,475.2 146.2,475.1 144.7,475.0 143.3,474.9 141.8,475.0 140.3,475.1 138.9,475.2 137.4,475.5 135.9,475.8Z"/>
<path fill="#6700a8" fill-rule="evenodd" d="M81.6,163.8 83.1,163.8 84.5,163.8 86.0,163.8 87.5,163.8 88.9,163.8 90.4,163.8 91.9,163.8 93.3,163.8 94.8,163.8 96.3,163.8 97.8,163.8 99.2,163.8 100.7,163.8 102.2,163.8 103.6,163.8 105.1,163.8 106.6,163.8 108.0,163.8 109.5,163.8 111.0,163.8 112.4,163.8 113.9,163.8 115.4,163.8 116.8,163.8 118.3,163.8 119.8,163.8 121.3,163.8 122.7,163.8 124.2,163.8 125.7,163.8 127.1,163.8 128.6,163.8 130.1,163.8 131.5,163.8 133.0,163.8 134.5,163.8 135.9,163.8 137.4,163.8 138.9,163.8 140.3,163.8 141.8,163.8 143.3,163.8 144.7,163.8 146.2,163.8 147.7,163.8 149.2,163.8 150.6,163.8 152.1,163.8 153.6,163.8 155.0,163.8 156.5,163.8 158.0,163.8 159.4,163.8 160.9,163.8 162.4,163.8 163.8,163.8 165.3,163.8 166.8,163.8 168.2,163.8 169.7,163.8 171.2,163.8 172.7,163.8 174.1,163.8 175.6,163.8 177.1,163.8 178.5,163.8 180.0,163.8 181.5,163.8 182.9,163.8 184.4,163.8 185.9,163.8 187.3,163.8 188.8,163.8 190.3,163.8 191.7,163.8 193.2,163.8 194.7,163.8 196.1,163.8 197.6,163.8 199.1,163.8 200.6,163.8 202.0,163.8 203.5,163.8 205.0,163.8 206.4,163.8 207.9,163.8 209.4,163.8 210.8,163.8 212.3,163.8 213.8,163.8 215.2,163.8 216.7,163.8 218.2,163.8 219.6,163.8 221.1,163.8 222.6,163.8 224.1,163.8 225.5,163.8 227.0,163.8 228.5,163.8 229.9,163.8 231.4,163.8 232.9,163.8 234.3,163.8 235.8,163.8 237.3,163.8 238.7,163.8 240.2,163.8 241.7,163.8 243.1,163.8 244.6,163.8 246.1,163.8 247.5,163.8 249.0,163.8 250.5,163.8 252.0,163.8 253.4,163.8 254.9,163.8 256.4,163.8 257.8,163.8 259.3,163.8 260.8,163.8 262.2,163.8 263.7,163.8 265.2,163.8 266.6,163.8 268.1,163.8 269.6,163.8 271.0,163.8 272.5,163.8 274.0,163.8 275.5,163.8 276.9,163.8 278.4,163.8 279.9,163.8 281.3,163.8 282.8,163.8 284.3,163.8 285.7,163.8 287.2,163.8 288.7,163.8 290.1,163.8 291.6,163.8 293.1,163.8 294.5,163.8 296.0,163.8 297.5,163.8 298.9,163.8 300.4,163.8 301.9,163.8 303.4,163.8 304.8,163.8 306.3,163.8 307.8,163.8 309.2,163.8 310.7,163.8 312.2,163.8 313.6,163.8 315.1,163.8 316.6,163.8 318.0,163.8 319.5,163.8 321.0,163.8 322.4,163.8 323.9,163.8 325.4,163.8 326.8,163.8 328.3,163.8 329.8,163.8 331.3,163.8 332.7,163.8 334.2,163.8 335.7,163.8 337.1,163.8 338.6,163.8 340.1,163.8 341.5,163.8 343.0,163.8 344.5,163.8 345.9,163.8 347.4,163.8 348.9,163.8 350.3,163.8 351.8,163.8 353.3,163.8 354.8,163.8 356.2,163.8 357.7,163.8 359.2,163.8 360.6,163.8 362.1,163.8 363.6,163.8 365.0,163.8 366.5,163.8 368.0,163.8 369.4,163.8 370.9,163.8 372.4,163.8 373.8,163.8 375.3,163.8 376.8,163.8 378.2,163.8 379.7,163.8 381.2,163.8 382.7,163.8 384.1,163.8 385.6,163.8 387.1,163.8 388.5,163.8 390.0,163.8 391.5,163.8 392.9,163.8 394.4,163.8 395.9,163.8 397.3,163.8 398.8,163.8 400.3,163.8 401.7,163.8 403.2,163.8 404.7,163.8 406.2,163.8 407.6,163.8 409.1,163.8 410.6,163.8 412.0,163.8 413.5,163.8 415.0,163.8 416.4,163.8 417.9,163.8 419.4,163.8 420.8,163.8 422.3,163.8 423.8,163.8 425.2,163.8 426.7,163.8 428.2,163.8 429.6,163.8 431.1,163.8 432.6,163.8 434.1,163.8 435.5,163.8 437.0,163.8 438.5,163.8 439.9,163.8 441.4,163.8 442.9,163.8 444.3,163.8 445.8,163.8 447.3,163.8 448.7,163.8 450.2,163.8 451.7,163.8 453.1,163.8 454.6,163.8 456.1,163.8 457.6,163.8 459.0,163.8 460.5,163.8 462.0,163.8 463.4,163.8 464.9,163.8 466.4,163.8 467.8,163.8 469.3,163.8 470.8,163.8 472.2,163.8 473.7,163.8 475.2,163.8 476.6,163.8 478.1,163.8 479.6,163.8 481.0,163.8 482.5,163.8 484.0,163.8 485.5,163.8 486.9,163.8 488.4,163.8 489.9,163.8 491.3,163.8 492.8,163.8 494.3,163.8 495.7,163.8 497.2,163.8 498.7,163.8 500.1,163.8 501.6,163.8 503.1,163.8 504.5,163.8 506.0,163.8 507.5,163.8 509.0,163.8 510.4,163.8 511.9,163.8 513.4,163.8 514.8,163.8 516.3,163.8 517.8,163.8 519.2,163.8 520.7,163.8 520.7,165.3 520.7,166.7 520.7,168.2 520.7,169.7 520.7,171.1 520.7,172.6 520.7,174.1 520.7,175.5 520.7,177.0 520.7,178.5 520.7,179.9 520.7,181.4 520.7,182.9 520.7,184.3 520.7,185.8 520.7,187.3 520.7,188.7 520.7,190.2 520.7,191.7 520.7,193.1 520.7,194.6 520.7,196.1 520.7,197.5 520.7,199.0 520.7,200.5 520.7,201.9 520.7,203.4 520.7,204.9 520.7,206.3 520.7,207.8 520.7,209.3 520.7,210.7 520.7,212.2 520.7,213.7 520.7,215.1 520.7,216.6 520.7,218.1 520.7,219.5 520.7,221.0 520.7,222.5 520.7,223.9 520.7,225.4 520.7,226.9 520.7,228.3 520.7,229.8 520.7,231.3 520.7,232.7 520.7,234.2 520.7,235.7 520.7,237.1 520.7,238.6 520.7,240.1 520.7,241.5 520.7,243.0 520.7,244.5 520.7,245.9 520.7,247.4 520.7,248.9 520.7,250.3 520.7,251.8 520.7,253.3 520.7,254.7 520.7,256.2 520.7,257.7 520.7,259.1 520.7,260.6 520.7,262.1 520.7,263.5 520.7,265.0 520.7,266.5 520.7,267.9 520.7,269.4 520.7,270.9 520.7,272.3 520.7,273.8 520.7,275.3 520.7,276.8 520.7,278.2 520.7,279.7 520.7,281.2 520.7,282.6 520.7,284.1 520.7,285.6 520.7,287.0 520.7,288.5 520.7,290.0 520.7,291.4 520.7,292.9 520.7,294.4 520.7,295.8 520.7,297.3 520.7,298.8 520.7,300.2 520.7,301.7 520.7,303.2 520.7,304.6 520.7,306.1 520.7,307.6 520.7,309.0 520.7,310.5 520.7,312.0 520.7,313.4 520.7,314.9 520.7,316.4 520.7,317.8 520.7,319.3 520.7,320.8 520.7,322.2 520.7,323.7 520.7,325.2 520.7,326.6 520.7,328.1 520.7,329.6 520.7,331.0 520.7,332.5 520.7,334.0 520.7,335.4 520.7,336.9 520.7,338.4 520.7,339.8 520.7,341.3 520.7,342.8 520.7,344.2 520.7,345.7 520.7,347.2 520.7,348.6 520.7,350.1 520.7,351.6 520.7,353.0 520.7,354.5 520.7,356.0 520.7,357.4 520.7,358.9 520.7,360.4 520.7,361.8 520.7,363.3 520.7,364.8 520.7,366.2 520.7,367.7 520.7,369.2 520.7,370.6 520.7,372.1 520.7,373.6 520.7,375.0 520.7,376.5 520.7,378.0 520.7,379.4 520.7,380.9 520.7,382.4 520.7,383.8 520.7,385.3 520.7,386.8 520.7,388.2 520.7,389.7 520.7,391.2 520.7,392.6 520.7,394.1 520.7,395.6 520.7,397.0 520.7,398.5 520.7,400.0 520.7,401.4 520.7,402.9 520.7,404.4 520.7,405.8 520.7,407.3 520.7,408.8 520.7,410.2 520.7,411.7 520.7,413.2 520.7,414.6 520.7,416.1 520.7,417.6 520.7,419.0 520.7,420.5 520.7,422.0 520.7,423.4 520.7,424.9 520.7,426.4 520.7,427.8 520.7,429.3 520.7,430.8 520.7,432.2 520.7,433.7 520.7,435.2 520.7,436.6 520.7,438.1 520.7,439.6 520.7,441.0 520.7,442.5 520.7,444.0 520.7,445.4 520.7,446.9 520.7,448.4 520.7,449.8 520.7,451.3 520.7,452.8 520.7,454.2 520.7,455.7 520.7,457.2 520.7,458.6 520.7,460.1 520.7,461.6 520.7,463.0 520.7,464.5 520.7,466.0 520.7,467.4 520.7,468.9 520.7,470.4 520.7,471.8 520.7,473.3 520.7,474.8 520.7,476.2 520.7,477.7 520.7,479.2 520.7,480.6 520.7,482.1 520.7,483.6 520.7,485.0 520.7,486.5 520.7,488.0 520.7,489.4 520.7,490.9 520.7,492.4 520.7,493.9 520.7,495.3 520.7,496.8 520.7,498.3 520.7,499.7 520.7,501.2 520.7,502.7 520.7,504.1 520.7,505.6 520.7,507.1 520.7,508.5 520.7,510.0 520.7,511.5 520.7,512.9 520.7,514.4 520.7,515.9 520.7,517.3 520.7,518.8 520.7,520.3 520.7,521.7 520.7,523.2 520.7,524.7 520.7,526.1 520.7,527.6 520.7,529.1 520.7,530.5 520.7,532.0 520.7,533.5 520.7,534.9 520.7,536.4 520.7,537.9 520.7,539.3 520.7,540.8 520.7,542.3 520.7,543.7 520.7,545.2 520.7,546.7 520.7,548.1 520.7,549.6 520.7,551.1 520.7,552.5 520.7,554.0 520.7,555.5 520.7,556.9 520.7,558.4 520.7,559.9 520.7,561.3 520.7,562.8 520.7,564.3 520.7,565.7 520.7,567.2 520.7,568.7 520.7,570.1 520.7,571.6 520.7,573.1 520.7,574.5 520.7,576.0 520.7,577.5 520.7,578.9 520.7,580.4 520.7,581.9 520.7,583.3 520.7,584.8 520.7,586.3 520.7,587.7 520.7,589.2 520.7,590.7 520.7,592.1 520.7,593.6 520.7,595.1 520.7,596.5 520.7,598.0 520.7,599.5 520.7,600.9 520.7,602.4 519.2,602.4 517.8,602.4 516.3,602.4 514.8,602.4 513.4,602.4 511.9,602.4 510.4,602.4 509.0,602.4 507.5,602.4 506.0,602.4 504.5,602.4 503.1,602.4 501.6,602.4 500.1,602.4 498.7,602.4 497.2,602.4 495.7,602.4 494.3,602.4 492.8,602.4 491.3,602.4 489.9,602.4 488.4,602.4 486.9,602.4 485.5,602.4 484.0,602.4 482.5,602.4 481.0,602.4 479.6,602.4 478.1,602.4 476.6,602.4 475.2,602.4 473.7,602.4 472.2,602.4 470.8,602.4 469.3,602.4 467.8,602.4 466.4,602.4 464.9,602.4 463.4,602.4 462.0,602.4 460.5,602.4 459.0,602.4 457.6,602.4 456.1,602.4 454.6,602.4 453.1,602.4 451.7,602.4 450.2,602.4 448.7,602.4 447.3,602.4 445.8,602.4 444.3,602.4 442.9,602.4 441.4,602.4 439.9,602.4 438.5,602.4 437.0,602.4 435.5,602.4 434.1,602.4 432.6,602.4 431.1,602.4 429.6,602.4 428.2,602.4 426.7,602.4 425.2,602.4 423.8,602.4 422.3,602.4 420.8,602.4 419.4,602.4 417.9,602.4 416.4,602.4 415.0,602.4 413.5,602.4 412.0,602.4 410.6,602.4 409.1,602.4 407.6,602.4 406.2,602.4 404.7,602.4 403.2,602.4 401.7,602.4 400.3,602.4 398.8,602.4 397.3,602.4 395.9,602.4 394.4,602.4 392.9,602.4 391.5,602.4 390.0,602.4 388.5,602.4 387.1,602.4 385.6,602.4 384.1,602.4 382.7,602.4 381.2,602.4 379.7,602.4 378.2,602.4 376.8,602.4 375.3,602.4 373.8,602.4 372.4,602.4 370.9,602.4 369.4,602.4 368.0,602.4 366.5,602.4 365.0,602.4 363.6,602.4 362.1,602.4 360.6,602.4 359.2,602.4 357.7,602.4 356.2,602.4 354.8,602.4 353.3,602.4 351.8,602.4 350.3,602.4 348.9,602.4 347.4,602.4 345.9,602.4 344.5,602.4 343.0,602.4 341.5,602.4 340.1,602.4 338.6,602.4 337.1,602.4 335.7,602.4 334.2,602.4 332.7,602.4 331.3,602.4 329.8,602.4 328.3,602.4 326.8,602.4 325.4,602.4 323.9,602.4 322.4,602.4 321.0,602.4 319.5,602.4 318.0,602.4 316.6,602.4 315.1,602.4 313.6,602.4 312.2,602.4 310.7,602.4 309.2,602.4 307.8,602.4 306.3,602.4 304.8,602.4 303.4,602.4 301.9,602.4 300.4,602.4 298.9,602.4 297.5,602.4 296.0,602.4 294.5,602.4 293.1,602.4 291.6,602.4 290.1,602.4 288.7,602.4 287.2,602.4 285.7,602.4 284.3,602.4 282.8,602.4 281.3,602.4 279.9,602.4 278.4,602.4 276.9,602.4 275.5,602.4 274.0,602.4 272.5,602.4 271.0,602.4 269.6,602.4 268.1,602.4 266.6,602.4 265.2,602.4 263.7,602.4 262.2,602.4 260.8,602.4 259.3,602.4 257.8,602.4 256.4,602.4 254.9,602.4 253.4,602.4 252.0,602.4 250.5,602.4 249.0,602.4 247.5,602.4 246.1,602.4 244.6,602.4 243.1,602.4 241.7,602.4 240.2,602.4 238.7,602.4 237.3,602.4 235.8,602.4 234.3,602.4 232.9,602.4 231.4,602.4 229.9,602.4 228.5,602.4 227.0,602.4 225.5,602.4 224.1,602.4 222.6,602.4 221.1,602.4 219.6,602.4 218.2,602.4 216.7,602.4 215.2,602.4 213.8,602.4 212.3,602.4 210.8,602.4 209.4,602.4 207.9,602.4 206.4,602.4 205.0,602.4 203.5,602.4 202.0,602.4 200.6,602.4 199.1,602.4 197.6,602.4 196.1,602.4 194.7,602.4 193.2,602.4 191.7,602.4 190.3,602.4 188.8,602.4 187.3,602.4 185.9,602.4 184.4,602.4 182.9,602.4 181.5,602.4 180.0,602.4 178.5,602.4 177.1,602.4 175.6,602.4 174.1,602.4 172.7,602.4 171.2,602.4 169.7,602.4 168.2,602.4 166.8,602.4 165.3,602.4 163.8,602.4 162.4,602.4 160.9,602.4 159.4,602.4 158.0,602.4 156.5,602.4 155.0,602.4 153.6,602.4 152.1,602.4 150.6,602.4 149.2,602.4 147.7,602.4 146.2,602.4 144.7,602.4 143.3,602.4 141.8,602.4 140.3,602.4 138.9,602.4 137.4,602.4 135.9,602.4 134.5,602.4 133.0,602.4 131.5,602.4 130.1,602.4 128.6,602.4 127.1,602.4 125.7,602.4 124.2,602.4 122.7,602.4 121.3,602.4 119.8,602.4 118.3,602.4 116.8,602.4 115.4,602.4 113.9,602.4 112.4,602.4 111.0,602.4 109.5,602.4 108.0,602.4 106.6,602.4 105.1,602.4 103.6,602.4 102.2,602.4 100.7,602.4 99.2,602.4 97.8,602.4 96.3,602.4 94.8,602.4 93.3,602.4 91.9,602.4 90.4,602.4 88.9,602.4 87.5,602.4 86.0,602.4 84.5,602.4 83.1,602.4 81.6,602.4 81.6,600.9 81.6,599.5 81.6,598.0 81.6,596.5 81.6,595.1 81.6,593.6 81.6,592.1 81.6,590.7 81.6,589.2 81.6,587.7 81.6,586.3 81.6,584.8 81.6,583.3 81.6,581.9 81.6,580.4 81.6,578.9 81.6,577.5 81.6,576.0 81.6,574.5 81.6,573.1 81.6,571.6 81.6,570.1 81.6,568.7 81.6,567.2 81.6,565.7 81.6,564.3 81.6,562.8 81.6,561.3 81.6,559.9 81.6,558.4 81.6,556.9 81.6,555.5 81.6,554.0 81.6,552.5 81.6,551.1 81.6,549.6 81.6,548.1 81.6,546.7 81.6,545.2 81.6,543.7 81.6,542.3 81.6,540.8 81.6,539.3 81.6,537.9 81.6,536.4 81.6,534.9 81.6,533.5 81.6,532.0 81.6,530.5 81.6,529.1 81.6,527.6 81.6,526.1 81.6,524.7 81.6,523.2 81.6,521.7 81.6,520.3 81.6,518.8 81.6,517.3 81.6,515.9 81.6,514.4 81.6,512.9 81.6,511.5 81.6,510.0 81.6,508.5 81.6,507.1 81.6,505.6 81.6,504.1 81.6,502.7 81.6,501.2 81.6,499.7 81.6,498.3 81.6,496.8 81.6,495.3 81.6,493.9 81.6,492.4 81.6,490.9 81.6,489.4 81.6,488.0 81.6,486.5 81.6,485.0 81.6,483.6 81.6,482.1 81.6,480.6 81.6,479.2 81.6,477.7 81.6,476.2 81.6,474.8 81.6,473.3 81.6,471.8 81.6,470.4 81.6,468.9 81.6,467.4 81.6,466.0 81.6,464.5 81.6,463.0 81.6,461.6 81.6,460.1 81.6,458.6 81.6,457.2 81.6,455.7 81.6,454.2 81.6,452.8 81.6,451.3 81.6,449.8 81.6,448.4 81.6,446.9 81.6,445.4 81.6,444.0 81.6,442.5 81.6,441.0 81.6,439.6 81.6,438.1 81.6,436.6 81.6,435.2 81.6,433.7 81.6,432.2 81.6,430.8 81.6,429.3 81.6,427.8 81.6,426.4 81.6,424.9 81.6,423.4 81.6,422.0 81.6,420.5 81.6,419.0 81.6,417.6 81.6,416.1 81.6,414.6 81.6,413.2 81.6,411.7 81.6,410.2 81.6,408.8 81.6,407.3 81.6,405.8 81.6,404.4 81.6,402.9 81.6,401.4 81.6,400.0 81.6,398.5 81.6,397.0 81.6,395.6 81.6,394.1 81.6,392.6 81.6,391.2 81.6,389.7 81.6,388.2 81.6,386.8 81.6,385.3 81.6,383.8 81.6,382.4 81.6,380.9 81.6,379.4 81.6,378.0 81.6,376.5 81.6,375.0 81.6,373.6 81.6,372.1 81.6,370.6 81.6,369.2 81.6,367.7 81.6,366.2 81.6,364.8 81.6,363.3 81.6,361.8 81.6,360.4 81.6,358.9 81.6,357.4 81.6,356.0 81.6,354.5 81.6,353.0 81.6,351.6 81.6,350.1 81.6,348.6 81.6,347.2 81.6,345.7 81.6,344.2 81.6,342.8 81.6,341.3 81.6,339.8 81.6,338.4 81.6,336.9 81.6,335.4 81.6,334.0 81.6,332.5 81.6,331.0 81.6,329.6 81.6,328.1 81.6,326.6 81.6,325.2 81.6,323.7 81.6,322.2 81.6,320.8 81.6,319.3 81.6,317.8 81.6,316.4 81.6,314.9 81.6,313.4 81.6,312.0 81.6,310.5 81.6,309.0 81.6,307.6 81.6,306.1 81.6,304.6 81.6,303.2 81.6,301.7 81.6,300.2 81.6,298.8 81.6,297.3 81.6,295.8 81.6,294.4 81.6,292.9 81.6,291.4 81.6,290.0 81.6,288.5 81.6,287.0 81.6,285.6 81.6,284.1 81.6,282.6 81.6,281.2 81.6,279.7 81.6,278.2 81.6,276.8 81.6,275.3 81.6,273.8 81.6,272.3 81.6,270.9 81.6,269.4 81.6,267.9 81.6,266.5 81.6,265.0 81.6,263.5 81.6,262.1 81.6,260.6 81.6,259.1 81.6,257.7 81.6,256.2 81.6,254.7 81.6,253.3 81.6,251.8 81.6,250.3 81.6,248.9 81.6,247.4 81.6,245.9 81.6,244.5 81.6,243.0 81.6,241.5 81.6,240.1 81.6,238.6 81.6,237.1 81.6,235.7 81.6,234.2 81.6,232.7 81.6,231.3 81.6,229.8 81.6,228.3 81.6,226.9 81.6,225.4 81.6,223.9 81.6,222.5 81.6,221.0 81.6,219.5 81.6,218.1 81.6,216.6 81.6,215.1 81.6,213.7 81.6,212.2 81.6,210.7 81.6,209.3 81.6,207.8 81.6,206.3 81.6,204.9 81.6,203.4 81.6,201.9 81.6,200.5 81.6,199.0 81.6,197.5 81.6,196.1 81.6,194.6 81.6,193.1 81.6,191.7 81.6,190.2 81.6,188.7 81.6,187.3 81.6,185.8 81.6,184.3 81.6,182.9 81.6,181.4 81.6,179.9 81.6,178.5 81.6,177.0 81.6,175.5 81.6,174.1 81.6,172.6 81.6,171.1 81.6,169.7 81.6,168.2 81.6,166.7 81.6,165.3 81.6,163.8ZM127.1,455.4 125.8,455.7 124.2,456.1 122.7,456.6 121.3,457.2 119.8,457.9 118.5,458.6 116.8,459.7 115.4,460.9 113.9,462.2 112.4,463.9 111.0,465.8 110.0,467.4 109.2,468.9 108.5,470.4 107.9,471.8 107.3,473.3 106.9,474.8 106.6,476.0 106.2,477.7 105.9,479.2 105.7,480.6 105.6,482.1 105.5,483.6 105.4,485.0 105.4,486.5 105.4,488.0 105.5,489.4 105.6,490.9 105.8,492.4 105.9,493.9 106.2,495.3 106.5,496.8 106.8,498.3 107.1,499.7 107.5,501.2 108.0,502.7 108.4,504.1 108.9,505.6 109.5,507.1 110.1,508.5 110.7,510.0 111.4,511.5 112.1,512.9 112.9,514.4 113.7,515.9 114.5,517.3 115.4,518.8 116.3,520.3 117.3,521.7 118.3,523.2 119.3,524.7 120.4,526.1 121.3,527.2 122.7,529.0 124.0,530.5 125.3,532.0 126.6,533.5 128.0,534.9 129.5,536.4 130.9,537.9 132.5,539.3 134.1,540.8 135.7,542.3 137.4,543.7 138.9,544.9 140.3,546.1 141.8,547.3 142.9,548.1 144.7,549.6 146.2,550.6 147.7,551.7 148.9,552.5 150.6,553.7 152.1,554.7 153.2,555.5 155.0,556.7 156.5,557.6 157.8,558.4 159.4,559.4 160.9,560.3 162.4,561.1 163.8,562.0 165.3,562.8 166.8,563.6 168.0,564.3 169.7,565.2 171.2,565.9 172.7,566.7 174.1,567.4 175.6,568.1 176.7,568.7 178.5,569.5 179.8,570.1 181.5,570.9 182.9,571.5 184.4,572.1 185.9,572.8 187.3,573.4 188.8,574.0 190.3,574.5 191.7,575.1 193.2,575.6 194.7,576.2 196.1,576.7 197.6,577.2 199.1,577.7 200.6,578.2 202.0,578.6 203.5,579.1 205.0,579.5 206.4,579.9 207.9,580.3 209.4,580.7 210.8,581.0 212.3,581.4 213.8,581.7 215.2,582.0 216.7,582.3 218.2,582.5 219.6,582.8 221.1,583.0 222.6,583.2 223.8,583.3 225.5,583.5 227.0,583.6 228.5,583.7 229.9,583.7 231.4,583.7 232.9,583.7 234.3,583.6 235.8,583.5 237.3,583.3 238.7,583.0 240.2,582.7 241.7,582.2 243.1,581.7 244.6,580.9 246.1,580.0 247.4,578.9 248.7,577.5 249.6,576.0 250.2,574.5 250.7,573.1 250.9,571.6 251.1,570.1 251.1,568.7 251.1,567.2 250.9,565.7 250.7,564.3 250.5,563.0 250.1,561.3 249.8,559.9 249.4,558.4 248.9,556.9 248.4,555.5 247.9,554.0 247.4,552.5 246.9,551.1 246.3,549.6 245.7,548.1 245.1,546.7 244.4,545.2 243.8,543.7 243.1,542.4 242.4,540.8 241.7,539.3 241.0,537.9 240.2,536.4 239.5,534.9 238.7,533.5 237.9,532.0 237.3,530.8 236.3,529.1 235.5,527.6 234.6,526.1 233.8,524.7 232.9,523.2 232.0,521.7 231.0,520.3 230.1,518.8 229.1,517.3 228.1,515.9 227.1,514.4 226.0,512.9 225.0,511.5 224.1,510.2 222.7,508.5 221.5,507.1 220.3,505.6 219.1,504.1 218.2,503.1 216.7,501.4 215.2,499.8 213.8,498.3 212.3,496.8 210.8,495.4 209.4,494.0 207.9,492.7 206.4,491.3 205.0,490.1 203.5,488.8 202.5,488.0 200.6,486.5 199.1,485.3 197.6,484.2 196.1,483.1 194.8,482.1 193.2,481.0 191.7,479.9 190.6,479.2 188.8,477.9 187.3,477.0 186.2,476.2 184.4,475.1 182.9,474.2 181.5,473.3 180.0,472.4 178.5,471.5 177.1,470.7 175.6,469.9 174.1,469.0 172.7,468.2 171.2,467.4 169.7,466.7 168.4,466.0 166.8,465.2 165.4,464.5 163.8,463.7 162.4,463.0 160.9,462.4 159.4,461.7 158.0,461.1 156.5,460.5 155.0,459.9 153.6,459.4 152.1,458.8 150.6,458.3 149.2,457.8 147.7,457.4 146.2,457.0 144.7,456.6 143.3,456.2 141.8,455.9 140.3,455.6 138.9,455.4 137.4,455.2 135.9,455.1 134.5,455.0 133.0,455.0 131.5,455.0 130.1,455.1 128.6,455.2 127.1,455.4ZM439.9,339.3 438.5,339.8 437.0,340.8 435.5,342.0 434.1,343.4 432.6,345.2 431.3,347.2 430.7,348.6 430.4,350.1 430.7,351.6 432.6,352.3 434.1,352.1 435.5,351.6 437.0,350.9 438.4,350.1 439.9,349.0 441.4,347.6 442.9,345.9 443.9,344.2 444.3,343.1 444.5,341.3 443.9,339.8 442.9,339.2 441.4,339.0 439.9,339.3Z"/>
<path fill="#7e03a8" fill-rule="evenodd" d="M81.6,163.8 83.1,163.8 84.5,163.8 86.0,163.8 87.5,163.8 88.9,163.8 90.4,163.8 91.9,163.8 93.3,163.8 94.8,163.8 96.3,163.8 97.8,163.8 99.2,163.8 100.7,163.8 102.2,163.8 103.6,163.8 105.1,163.8 106.6,163.8 108.0,163.8 109.5,163.8 111.0,163.8 112.4,163.8 113.9,163.8 115.4,163.8 116.8,163.8 118.3,163.8 119.8,163.8 121.3,163.8 122.7,163.8 124.2,163.8 125.7,163.8 127.1,163.8 128.6,163.8 130.1,163.8 131.5,163.8 133.0,163.8 134.5,163.8 135.9,163.8 137.4,163.8 138.9,163.8 140.3,163.8 141.8,163.8 143.3,163.8 144.7,163.8 146.2,163.8 147.7,163.8 149.2,163.8 150.6,163.8 152.1,163.8 153.6,163.8 155.0,163.8 156.5,163.8 158.0,163.8 159.4,163.8 160.9,163.8 162.4,163.8 163.8,163.8 165.3,163.8 166.8,163.8 168.2,163.8 169.7,163.8 171.2,163.8 172.7,163.8 174.1,163.8 175.6,163.8 177.1,163.8 178.5,163.8 180.0,163.8 181.5,163.8 182.9,163.8 184.4,163.8 185.9,163.8 187.3,163.8 188.8,163.8 190.3,163.8 191.7,163.8 193.2,163.8 194.7,163.8 196.1,163.8 197.6,163.8 199.1,163.8 200.6,163.8 202.0,163.8 203.5,163.8 205.0,163.8 206.4,163.8 207.9,163.8 209.4,163.8 210.8,163.8 212.3,163.8 213.8,163.8 215.2,163.8 216.7,163.8 218.2,163.8 219.6,163.8 221.1,163.8 222.6,163.8 224.1,163.8 225.5,163.8 227.0,163.8 228.5,163.8 229.9,163.8 231.4,163.8 232.9,163.8 234.3,163.8 235.8,163.8 237.3,163.8 238.7,163.8 240.2,163.8 241.7,163.8 243.1,163.8 244.6,163.8 246.1,163.8 247.5,163.8 249.0,163.8 250.5,163.8 252.0,163.8 253.4,163.8 254.9,163.8 256.4,163.8 257.8,163.8 259.3,163.8 260.8,163.8 262.2,163.8 263.7,163.8 265.2,163.8 266.6,163.8 268.1,163.8 269.6,163.8 271.0,163.8 272.5,163.8 274.0,163.8 275.5,163.8 276.9,163.8 278.4,163.8 279.9,163.8 281.3,163.8 282.8,163.8 284.3,163.8 285.7,163.8 287.2,163.8 288.7,163.8 290.1,163.8 291.6,163.8 293.1,163.8 294.5,163.8 296.0,163.8 297.5,163.8 298.9,163.8 300.4,163.8 301.9,163.8 303.4,163.8 304.8,163.8 306.3,163.8 307.8,163.8 309.2,163.8 310.7,163.8 312.2,163.8 313.6,163.8 315.1,163.8 316.6,163.8 318.0,163.8 319.5,163.8 321.0,163.8 322.4,163.8 323.9,163.8 325.4,163.8 326.8,163.8 328.3,163.8 329.8,163.8 331.3,163.8 332.7,163.8 334.2,163.8 335.7,163.8 337.1,163.8 338.6,163.8 340.1,163.8 341.5,163.8 343.0,163.8 344.5,163.8 345.9,163.8 347.4,163.8 348.9,163.8 350.3,163.8 351.8,163.8 353.3,163.8 354.8,163.8 356.2,163.8 357.7,163.8 359.2,163.8 360.6,163.8 362.1,163.8 363.6,163.8 365.0,163.8 366.5,163.8 368.0,163.8 369.4,163.8 370.9,163.8 372.4,163.8 373.8,163.8 375.3,163.8 376.8,163.8 378.2,163.8 379.7,163.8 381.2,163.8 382.7,163.8 384.1,163.8 385.6,163.8 387.1,163.8 388.5,163.8 390.0,163.8 391.5,163.8 392.9,163.8 394.4,163.8 395.9,163.8 397.3,163.8 398.8,163.8 400.3,163.8 401.7,163.8 403.2,163.8 404.7,163.8 406.2,163.8 407.6,163.8 409.1,163.8 410.6,163.8 412.0,163.8 413.5,163.8 415.0,163.8 416.4,163.8 417.9,163.8 419.4,163.8 420.8,163.8 422.3,163.8 423.8,163.8 425.2,163.8 426.7,163.8 428.2,163.8 429.6,163.8 431.1,163.8 432.6,163.8 434.1,163.8 435.5,163.8 437.0,163.8 438.5,163.8 439.9,163.8 441.4,163.8 442.9,163.8 444.3,163.8 445.8,163.8 447.3,163.8 448.7,163.8 450.2,163.8 451.7,163.8 453.1,163.8 454.6,163.8 456.1,163.8 457.6,163.8 459.0,163.8 460.5,163.8 462.0,163.8 463.4,163.8 464.9,163.8 466.4,163.8 467.8,163.8 469.3,163.8 470.8,163.8 472.2,163.8 473.7,163.8 475.2,163.8 476.6,163.8 478.1,163.8 479.6,163.8 481.0,163.8 482.5,163.8 484.0,163.8 485.5,163.8 486.9,163.8 488.4,163.8 489.9,163.8 491.3,163.8 492.8,163.8 494.3,163.8 495.7,163.8 497.2,163.8 498.7,163.8 500.1,163.8 501.6,163.8 503.1,163.8 504.5,163.8 506.0,163.8 507.5,163.8 509.0,163.8 510.4,163.8 511.9,163.8 513.4,163.8 514.8,163.8 516.3,163.8 517.8,163.8 519.2,163.8 520.7,163.8 520.7,165.3 520.7,166.7 520.7,168.2 520.7,169.7 520.7,171.1 520.7,172.6 520.7,174.1 520.7,175.5 520.7,177.0 520.7,178.5 520.7,179.9 520.7,181.4 520.7,182.9 520.7,184.3 520.7,185.8 520.7,187.3 520.7,188.7 520.7,190.2 520.7,191.7 520.7,193.1 520.7,194.6 520.7,196.1 520.7,197.5 520.7,199.0 520.7,200.5 520.7,201.9 520.7,203.4 520.7,204.9 520.7,206.3 520.7,207.8 520.7,209.3 520.7,210.7 520.7,212.2 520.7,213.7 520.7,215.1 520.7,216.6 520.7,218.1 520.7,219.5 520.7,221.0 520.7,222.5 520.7,223.9 520.7,225.4 520.7,226.9 520.7,228.3 520.7,229.8 520.7,231.3 520.7,232.7 520.7,234.2 520.7,235.7 520.7,237.1 520.7,238.6 520.7,240.1 520.7,241.5 520.7,243.0 520.7,244.5 520.7,245.9 520.7,247.4 520.7,248.9 520.7,250.3 520.7,251.8 520.7,253.3 520.7,254.7 520.7,256.2 520.7,257.7 520.7,259.1 520.7,260.6 520.7,262.1 520.7,263.5 520.7,265.0 520.7,266.5 520.7,267.9 520.7,269.4 520.7,270.9 520.7,272.3 520.7,273.8 520.7,275.3 520.7,276.8 520.7,278.2 520.7,279.7 520.7,281.2 520.7,282.6 520.7,284.1 520.7,285.6 520.7,287.0 520.7,288.5 520.7,290.0 520.7,291.4 520.7,292.9 520.7,294.4 520.7,295.8 520.7,297.3 520.7,298.8 520.7,300.2 520.7,301.7 520.7,303.2 520.7,304.6 520.7,306.1 520.7,307.6 520.7,309.0 520.7,310.5 520.7,312.0 520.7,313.4 520.7,314.9 520.7,316.4 520.7,317.8 520.7,319.3 520.7,320.8 520.7,322.2 520.7,323.7 520.7,325.2 520.7,326.6 520.7,328.1 520.7,329.6 520.7,331.0 520.7,332.5 520.7,334.0 520.7,335.4 520.7,336.9 520.7,338.4 520.7,339.8 520.7,341.3 520.7,342.8 520.7,344.2 520.7,345.7 520.7,347.2 520.7,348.6 520.7,350.1 520.7,351.6 520.7,353.0 520.7,354.5 520.7,356.0 520.7,357.4 520.7,358.9 520.7,360.4 520.7,361.8 520.7,363.3 520.7,364.8 520.7,366.2 520.7,367.7 520.7,369.2 520.7,370.6 520.7,372.1 520.7,373.6 520.7,375.0 520.7,376.5 520.7,378.0 520.7,379.4 520.7,380.9 520.7,382.4 520.7,383.8 520.7,385.3 520.7,386.8 520.7,388.2 520.7,389.7 520.7,391.2 520.7,392.6 520.7,394.1 520.7,395.6 520.7,397.0 520.7,398.5 520.7,400.0 520.7,401.4 520.7,402.9 520.7,404.4 520.7,405.8 520.7,407.3 520.7,408.8 520.7,410.2 520.7,411.7 520.7,413.2 520.7,414.6 520.7,416.1 520.7,417.6 520.7,419.0 520.7,420.5 520.7,422.0 520.7,423.4 520.7,424.9 520.7,426.4 520.7,427.8 520.7,429.3 520.7,430.8 520.7,432.2 520.7,433.7 520.7,435.2 520.7,436.6 520.7,438.1 520.7,439.6 520.7,441.0 520.7,442.5 520.7,444.0 520.7,445.4 520.7,446.9 520.7,448.4 520.7,449.8 520.7,451.3 520.7,452.8 520.7,454.2 520.7,455.7 520.7,457.2 520.7,458.6 520.7,460.1 520.7,461.6 520.7,463.0 520.7,464.5 520.7,466.0 520.7,467.4 520.7,468.9 520.7,470.4 520.7,471.8 520.7,473.3 520.7,474.8 520.7,476.2 520.7,477.7 520.7,479.2 520.7,480.6 520.7,482.1 520.7,483.6 520.7,485.0 520.7,486.5 520.7,488.0 520.7,489.4 520.7,490.9 520.7,492.4 520.7,493.9 520.7,495.3 520.7,496.8 520.7,498.3 520.7,499.7 520.7,501.2 520.7,502.7 520.7,504.1 520.7,505.6 520.7,507.1 520.7,508.5 520.7,510.0 520.7,511.5 520.7,512.9 520.7,514.4 520.7,515.9 520.7,517.3 520.7,518.8 520.7,520.3 520.7,521.7 520.7,523.2 520.7,524.7 520.7,526.1 520.7,527.6 520.7,529.1 520.7,530.5 520.7,532.0 520.7,533.5 520.7,534.9 520.7,536.4 520.7,537.9 520.7,539.3 520.7,540.8 520.7,542.3 520.7,543.7 520.7,545.2 520.7,546.7 520.7,548.1 520.7,549.6 520.7,551.1 520.7,552.5 520.7,554.0 520.7,555.5 520.7,556.9 520.7,558.4 520.7,559.9 520.7,561.3 520.7,562.8 520.7,564.3 520.7,565.7 520.7,567.2 520.7,568.7 520.7,570.1 520.7,571.6 520.7,573.1 520.7,574.5 520.7,576.0 520.7,577.5 520.7,578.9 520.7,580.4 520.7,581.9 520.7,583.3 520.7,584.8 520.7,586.3 520.7,587.7 520.7,589.2 520.7,590.7 520.7,592.1 520.7,593.6 520.7,595.1 520.7,596.5 520.7,598.0 520.7,599.5 520.7,600.9 520.7,602.4 519.2,602.4 517.8,602.4 516.3,602.4 514.8,602.4 513.4,602.4 511.9,602.4 510.4,602.4 509.0,602.4 507.5,602.4 506.0,602.4 504.5,602.4 503.1,602.4 501.6,602.4 500.1,602.4 498.7,602.4 497.2,602.4 495.7,602.4 494.3,602.4 492.8,602.4 491.3,602.4 489.9,602.4 488.4,602.4 486.9,602.4 485.5,602.4 484.0,602.4 482.5,602.4 481.0,602.4 479.6,602.4 478.1,602.4 476.6,602.4 475.2,602.4 473.7,602.4 472.2,602.4 470.8,602.4 469.3,602.4 467.8,602.4 466.4,602.4 464.9,602.4 463.4,602.4 462.0,602.4 460.5,602.4 459.0,602.4 457.6,602.4 456.1,602.4 454.6,602.4 453.1,602.4 451.7,602.4 450.2,602.4 448.7,602.4 447.3,602.4 445.8,602.4 444.3,602.4 442.9,602.4 441.4,602.4 439.9,602.4 438.5,602.4 437.0,602.4 435.5,602.4 434.1,602.4 432.6,602.4 431.1,602.4 429.6,602.4 428.2,602.4 426.7,602.4 425.2,602.4 423.8,602.4 422.3,602.4 420.8,602.4 419.4,602.4 417.9,602.4 416.4,602.4 415.0,602.4 413.5,602.4 412.0,602.4 410.6,602.4 409.1,602.4 407.6,602.4 406.2,602.4 404.7,602.4 403.2,602.4 401.7,602.4 400.3,602.4 398.8,602.4 397.3,602.4 395.9,602.4 394.4,602.4 392.9,602.4 391.5,602.4 390.0,602.4 388.5,602.4 387.1,602.4 385.6,602.4 384.1,602.4 382.7,602.4 381.2,602.4 379.7,602.4 378.2,602.4 376.8,602.4 375.3,602.4 373.8,602.4 372.4,602.4 370.9,602.4 369.4,602.4 368.0,602.4 366.5,602.4 365.0,602.4 363.6,602.4 362.1,602.4 360.6,602.4 359.2,602.4 357.7,602.4 356.2,602.4 354.8,602.4 353.3,602.4 351.8,602.4 350.3,602.4 348.9,602.4 347.4,602.4 345.9,602.4 344.5,602.4 343.0,602.4 341.5,602.4 340.1,602.4 338.6,602.4 337.1,602.4 335.7,602.4 334.2,602.4 332.7,602.4 331.3,602.4 329.8,602.4 328.3,602.4 326.8,602.4 325.4,602.4 323.9,602.4 322.4,602.4 321.0,602.4 319.5,602.4 318.0,602.4 316.6,602.4 315.1,602.4 313.6,602.4 312.2,602.4 310.7,602.4 309.2,602.4 307.8,602.4 306.3,602.4 304.8,602.4 303.4,602.4 301.9,602.4 300.4,602.4 298.9,602.4 297.5,602.4 296.0,602.4 294.5,602.4 293.1,602.4 291.6,602.4 290.1,602.4 288.7,602.4 287.2,602.4 285.7,602.4 284.3,602.4 282.8,602.4 281.3,602.4 279.9,602.4 278.4,602.4 276.9,602.4 275.5,602.4 274.0,602.4 272.5,602.4 271.0,602.4 269.6,602.4 268.1,602.4 266.6,602.4 265.2,602.4 263.7,602.4 262.2,602.4 260.8,602.4 259.3,602.4 257.8,602.4 256.4,602.4 254.9,602.4 253.4,602.4 252.0,602.4 250.5,602.4 249.0,602.4 247.5,602.4 246.1,602.4 244.6,602.4 243.1,602.4 241.7,602.4 240.2,602.4 238.7,602.4 237.3,602.4 235.8,602.4 234.3,602.4 232.9,602.4 231.4,602.4 229.9,602.4 228.5,602.4 227.0,602.4 225.5,602.4 224.1,602.4 222.6,602.4 221.1,602.4 219.6,602.4 218.2,602.4 216.7,602.4 215.2,602.4 213.8,602.4 212.3,602.4 210.8,602.4 209.4,602.4 207.9,602.4 206.4,602.4 205.0,602.4 203.5,602.4 202.0,602.4 200.6,602.4 199.1,602.4 197.6,602.4 196.1,602.4 194.7,602.4 193.2,602.4 191.7,602.4 190.3,602.4 188.8,602.4 187.3,602.4 185.9,602.4 184.4,602.4 182.9,602.4 181.5,602.4 180.0,602.4 178.5,602.4 177.1,602.4 175.6,602.4 174.1,602.4 172.7,602.4 171.2,602.4 169.7,602.4 168.2,602.4 166.8,602.4 165.3,602.4 163.8,602.4 162.4,602.4 160.9,602.4 159.4,602.4 158.0,602.4 156.5,602.4 155.0,602.4 153.6,602.4 152.1,602.4 150.6,602.4 149.2,602.4 147.7,602.4 146.2,602.4 144.7,602.4 143.3,602.4 141.8,602.4 140.3,602.4 138.9,602.4 137.4,602.4 135.9,602.4 134.5,602.4 133.0,602.4 131.5,602.4 130.1,602.4 128.6,602.4 127.1,602.4 125.7,602.4 124.2,602.4 122.7,602.4 121.3,602.4 119.8,602.4 118.3,602.4 116.8,602.4 115.4,602.4 113.9,602.4 112.4,602.4 111.0,602.4 109.5,602.4 108.0,602.4 106.6,602.4 105.1,602.4 103.6,602.4 102.2,602.4 100.7,602.4 99.2,602.4 97.8,602.4 96.3,602.4 94.8,602.4 93.3,602.4 91.9,602.4 90.4,602.4 88.9,602.4 87.5,602.4 86.0,602.4 84.5,602.4 83.1,602.4 81.6,602.4 81.6,600.9 81.6,599.5 81.6,598.0 81.6,596.5 81.6,595.1 81.6,593.6 81.6,592.1 81.6,590.7 81.6,589.2 81.6,587.7 81.6,586.3 81.6,584.8 81.6,583.3 81.6,581.9 81.6,580.4 81.6,578.9 81.6,577.5 81.6,576.0 81.6,574.5 81.6,573.1 81.6,571.6 81.6,570.1 81.6,568.7 81.6,567.2 81.6,565.7 81.6,564.3 81.6,562.8 81.6,561.3 81.6,559.9 81.6,558.4 81.6,556.9 81.6,555.5 81.6,554.0 81.6,552.5 81.6,551.1 81.6,549.6 81.6,548.1 81.6,546.7 81.6,545.2 81.6,543.7 81.6,542.3 81.6,540.8 81.6,539.3 81.6,537.9 81.6,536.4 81.6,534.9 81.6,533.5 81.6,532.0 81.6,530.5 81.6,529.1 81.6,527.6 81.6,526.1 81.6,524.7 81.6,523.2 81.6,521.7 81.6,520.3 81.6,518.8 81.6,517.3 81.6,515.9 81.6,514.4 81.6,512.9 81.6,511.5 81.6,510.0 81.6,508.5 81.6,507.1 81.6,505.6 81.6,504.1 81.6,502.7 81.6,501.2 81.6,499.7 81.6,498.3 81.6,496.8 81.6,495.3 81.6,493.9 81.6,492.4 81.6,490.9 81.6,489.4 81.6,488.0 81.6,486.5 81.6,485.0 81.6,483.6 81.6,482.1 81.6,480.6 81.6,479.2 81.6,477.7 81.6,476.2 81.6,474.8 81.6,473.3 81.6,471.8 81.6,470.4 81.6,468.9 81.6,467.4 81.6,466.0 81.6,464.5 81.6,463.0 81.6,461.6 81.6,460.1 81.6,458.6 81.6,457.2 81.6,455.7 81.6,454.2 81.6,452.8 81.6,451.3 81.6,449.8 81.6,448.4 81.6,446.9 81.6,445.4 81.6,444.0 81.6,442.5 81.6,441.0 81.6,439.6 81.6,438.1 81.6,436.6 81.6,435.2 81.6,433.7 81.6,432.2 81.6,430.8 81.6,429.3 81.6,427.8 81.6,426.4 81.6,424.9 81.6,423.4 81.6,422.0 81.6,420.5 81.6,419.0 81.6,417.6 81.6,416.1 81.6,414.6 81.6,413.2 81.6,411.7 81.6,410.2 81.6,408.8 81.6,407.3 81.6,405.8 81.6,404.4 81.6,402.9 81.6,401.4 81.6,400.0 81.6,398.5 81.6,397.0 81.6,395.6 81.6,394.1 81.6,392.6 81.6,391.2 81.6,389.7 81.6,388.2 81.6,386.8 81.6,385.3 81.6,383.8 81.6,382.4 81.6,380.9 81.6,379.4 81.6,378.0 81.6,376.5 81.6,375.0 81.6,373.6 81.6,372.1 81.6,370.6 81.6,369.2 81.6,367.7 81.6,366.2 81.6,364.8 81.6,363.3 81.6,361.8 81.6,360.4 81.6,358.9 81.6,357.4 81.6,356.0 81.6,354.5 81.6,353.0 81.6,351.6 81.6,350.1 81.6,348.6 81.6,347.2 81.6,345.7 81.6,344.2 81.6,342.8 81.6,341.3 81.6,339.8 81.6,338.4 81.6,336.9 81.6,335.4 81.6,334.0 81.6,332.5 81.6,331.0 81.6,329.6 81.6,328.1 81.6,326.6 81.6,325.2 81.6,323.7 81.6,322.2 81.6,320.8 81.6,319.3 81.6,317.8 81.6,316.4 81.6,314.9 81.6,313.4 81.6,312.0 81.6,310.5 81.6,309.0 81.6,307.6 81.6,306.1 81.6,304.6 81.6,303.2 81.6,301.7 81.6,300.2 81.6,298.8 81.6,297.3 81.6,295.8 81.6,294.4 81.6,292.9 81.6,291.4 81.6,290.0 81.6,288.5 81.6,287.0 81.6,285.6 81.6,284.1 81.6,282.6 81.6,281.2 81.6,279.7 81.6,278.2 81.6,276.8 81.6,275.3 81.6,273.8 81.6,272.3 81.6,270.9 81.6,269.4 81.6,267.9 81.6,266.5 81.6,265.0 81.6,263.5 81.6,262.1 81.6,260.6 81.6,259.1 81.6,257.7 81.6,256.2 81.6,254.7 81.6,253.3 81.6,251.8 81.6,250.3 81.6,248.9 81.6,247.4 81.6,245.9 81.6,244.5 81.6,243.0 81.6,241.5 81.6,240.1 81.6,238.6 81.6,237.1 81.6,235.7 81.6,234.2 81.6,232.7 81.6,231.3 81.6,229.8 81.6,228.3 81.6,226.9 81.6,225.4 81.6,223.9 81.6,222.5 81.6,221.0 81.6,219.5 81.6,218.1 81.6,216.6 81.6,215.1 81.6,213.7 81.6,212.2 81.6,210.7 81.6,209.3 81.6,207.8 81.6,206.3 81.6,204.9 81.6,203.4 81.6,201.9 81.6,200.5 81.6,199.0 81.6,197.5 81.6,196.1 81.6,194.6 81.6,193.1 81.6,191.7 81.6,190.2 81.6,188.7 81.6,187.3 81.6,185.8 81.6,184.3 81.6,182.9 81.6,181.4 81.6,179.9 81.6,178.5 81.6,177.0 81.6,175.5 81.6,174.1 81.6,172.6 81.6,171.1 81.6,169.7 81.6,168.2 81.6,166.7 81.6,165.3 81.6,163.8ZM116.8,433.5 115.4,433.9 113.9,434.3 112.4,434.8 111.0,435.4 109.5,436.2 108.0,437.0 106.6,438.0 105.1,439.2 103.6,440.5 102.2,442.0 100.7,443.8 99.5,445.4 98.6,446.9 97.8,448.3 96.9,449.8 96.3,451.2 95.6,452.8 95.0,454.2 94.5,455.7 94.0,457.2 93.6,458.6 93.2,460.1 92.9,461.6 92.6,463.0 92.3,464.5 92.1,466.0 91.9,467.3 91.7,468.9 91.6,470.4 91.5,471.8 91.4,473.3 91.3,474.8 91.3,476.2 91.3,477.7 91.4,479.2 91.4,480.6 91.5,482.1 91.7,483.6 91.8,485.0 92.0,486.5 92.2,488.0 92.4,489.4 92.7,490.9 93.0,492.4 93.3,493.9 93.7,495.3 94.0,496.8 94.4,498.3 94.8,499.5 95.3,501.2 95.8,502.7 96.3,503.9 96.9,505.6 97.5,507.1 98.1,508.5 98.8,510.0 99.5,511.5 100.2,512.9 100.9,514.4 101.7,515.9 102.6,517.3 103.4,518.8 104.3,520.3 105.1,521.4 106.3,523.2 107.3,524.7 108.0,525.7 109.4,527.6 110.6,529.1 111.8,530.5 113.0,532.0 113.9,533.1 115.4,534.7 116.8,536.3 118.3,537.9 119.8,539.3 121.3,540.8 122.7,542.2 124.2,543.5 125.7,544.9 127.1,546.2 128.6,547.4 130.1,548.6 131.2,549.6 133.0,551.0 134.5,552.2 135.9,553.3 137.4,554.4 138.9,555.5 140.3,556.5 141.8,557.5 143.0,558.4 144.7,559.6 146.2,560.5 147.4,561.3 149.2,562.5 150.6,563.4 152.0,564.3 153.6,565.2 155.0,566.1 156.5,567.0 158.0,567.8 159.4,568.7 160.9,569.5 162.0,570.1 163.8,571.1 165.3,571.9 166.8,572.7 168.2,573.5 169.7,574.2 171.2,575.0 172.7,575.7 174.1,576.5 175.6,577.2 177.1,577.9 178.5,578.6 180.0,579.3 181.5,579.9 182.9,580.6 184.4,581.2 185.8,581.9 187.3,582.5 188.8,583.1 190.3,583.7 191.7,584.3 192.9,584.8 194.7,585.5 196.1,586.1 197.6,586.6 199.1,587.2 200.6,587.7 202.0,588.3 203.5,588.8 204.7,589.2 206.4,589.8 207.9,590.3 209.2,590.7 210.8,591.2 212.3,591.6 213.8,592.1 215.2,592.5 216.7,592.9 218.2,593.3 219.6,593.7 221.1,594.1 222.6,594.5 224.1,594.8 225.5,595.2 227.0,595.5 228.5,595.8 229.9,596.1 231.4,596.4 232.9,596.6 234.3,596.9 235.8,597.1 237.3,597.4 238.7,597.6 240.2,597.7 241.7,597.9 243.1,598.1 244.6,598.2 246.1,598.3 247.5,598.4 249.0,598.4 250.5,598.4 252.0,598.4 253.4,598.4 254.9,598.3 256.4,598.2 257.8,598.1 259.3,597.9 260.8,597.6 262.2,597.3 263.7,596.9 265.2,596.4 266.6,595.8 268.1,595.1 269.6,594.1 271.0,592.7 272.5,590.8 273.3,589.2 273.7,587.7 274.0,586.3 274.1,584.8 274.0,583.3 273.9,581.9 273.6,580.4 273.3,578.9 273.0,577.5 272.5,576.0 272.0,574.5 271.5,573.1 271.0,571.8 270.4,570.1 269.8,568.7 269.1,567.2 268.5,565.7 267.8,564.3 267.1,562.8 266.4,561.3 265.7,559.9 264.9,558.4 264.2,556.9 263.5,555.5 262.7,554.0 262.0,552.5 261.2,551.1 260.4,549.6 259.7,548.1 258.9,546.7 258.1,545.2 257.4,543.7 256.6,542.3 255.8,540.8 255.0,539.3 254.3,537.9 253.5,536.4 252.7,534.9 252.0,533.5 251.1,532.0 250.5,530.8 249.5,529.1 248.7,527.6 247.9,526.1 247.1,524.7 246.3,523.2 245.4,521.7 244.6,520.3 243.7,518.8 242.9,517.3 242.0,515.9 241.1,514.4 240.2,512.9 239.3,511.5 238.4,510.0 237.4,508.5 236.4,507.1 235.5,505.6 234.4,504.1 233.4,502.7 232.3,501.2 231.4,499.9 230.1,498.3 229.0,496.8 227.8,495.3 227.0,494.4 225.5,492.7 224.1,491.0 222.6,489.4 221.2,488.0 219.7,486.5 218.2,485.0 216.7,483.6 215.2,482.3 213.8,481.0 212.3,479.7 210.8,478.5 209.9,477.7 208.0,476.2 206.4,475.0 205.0,473.9 203.5,472.8 202.2,471.8 200.6,470.7 199.1,469.6 198.1,468.9 196.1,467.6 194.7,466.6 193.2,465.6 191.7,464.6 190.3,463.7 188.8,462.7 187.3,461.8 185.9,460.8 184.7,460.1 182.9,459.0 181.5,458.1 180.0,457.2 178.5,456.3 177.1,455.4 175.6,454.5 174.1,453.6 172.7,452.8 171.2,451.9 169.7,451.0 168.2,450.1 166.8,449.3 165.3,448.5 163.8,447.6 162.5,446.9 160.9,446.0 159.4,445.2 158.0,444.4 156.5,443.6 155.0,442.9 153.6,442.1 152.1,441.4 150.6,440.7 149.2,440.0 147.7,439.4 146.2,438.7 144.8,438.1 143.3,437.5 141.8,436.9 140.3,436.4 138.9,435.9 137.4,435.4 135.9,434.9 134.5,434.5 133.0,434.2 131.5,433.9 130.1,433.6 128.6,433.3 127.1,433.2 125.7,433.0 124.2,432.9 122.7,432.9 121.3,433.0 119.8,433.1 118.3,433.3 116.8,433.5ZM447.3,297.0 446.1,297.3 444.3,297.8 442.9,298.4 441.4,299.0 439.9,299.7 438.5,300.5 437.0,301.3 435.5,302.3 434.3,303.2 432.6,304.5 431.1,305.7 429.6,307.0 428.2,308.4 426.7,309.9 425.2,311.5 423.8,313.1 422.3,314.8 421.0,316.4 419.8,317.8 418.6,319.3 417.5,320.8 416.4,322.1 415.2,323.7 414.1,325.2 413.0,326.6 412.0,327.9 410.7,329.6 409.6,331.0 408.5,332.5 407.6,333.7 406.3,335.4 405.1,336.9 404.0,338.4 402.8,339.8 401.7,341.1 400.4,342.8 399.1,344.2 397.9,345.7 396.6,347.2 395.3,348.6 394.4,349.6 392.9,351.1 391.5,352.7 390.0,354.1 388.5,355.6 387.1,356.9 385.6,358.3 384.1,359.6 382.7,360.8 381.5,361.8 379.7,363.2 378.2,364.4 376.8,365.5 375.8,366.2 373.8,367.6 372.4,368.6 370.9,369.6 369.4,370.6 368.0,371.5 366.5,372.4 365.0,373.3 363.6,374.2 362.1,375.0 360.6,375.9 359.6,376.5 357.7,377.5 356.2,378.3 354.8,379.1 353.3,379.9 351.8,380.6 350.3,381.4 348.9,382.2 347.4,382.9 345.9,383.6 344.5,384.4 343.0,385.1 341.5,385.8 340.1,386.6 338.6,387.3 337.1,388.0 335.7,388.8 334.2,389.5 332.7,390.3 331.3,391.0 329.8,391.8 328.3,392.6 326.8,393.4 325.5,394.1 323.9,395.0 322.4,395.9 321.0,396.7 319.5,397.7 318.1,398.5 316.6,399.5 315.1,400.6 313.9,401.4 312.2,402.7 310.7,403.9 309.2,405.2 307.8,406.6 306.3,408.1 304.8,409.8 303.4,411.7 302.6,413.2 301.9,414.5 301.2,416.1 300.8,417.6 300.5,419.0 300.4,420.5 300.5,422.0 300.8,423.4 301.3,424.9 301.9,426.2 303.0,427.8 304.3,429.3 306.1,430.8 307.8,431.9 309.2,432.6 310.7,433.3 312.2,433.8 313.6,434.3 315.1,434.7 316.6,435.0 318.0,435.2 319.5,435.4 321.0,435.6 322.4,435.7 323.9,435.7 325.4,435.7 326.8,435.7 328.3,435.7 329.8,435.6 331.3,435.4 332.7,435.3 334.2,435.1 335.7,434.8 337.1,434.6 338.6,434.3 340.1,434.0 341.3,433.7 343.0,433.3 344.5,432.9 345.9,432.4 347.4,432.0 348.9,431.5 350.3,431.0 351.8,430.5 353.3,429.9 354.8,429.4 356.2,428.8 357.7,428.2 359.2,427.5 360.6,426.9 361.7,426.4 363.6,425.5 364.8,424.9 366.5,424.0 367.7,423.4 369.4,422.5 370.9,421.7 372.4,420.9 373.8,420.1 375.3,419.3 376.8,418.4 378.2,417.6 379.7,416.7 380.8,416.1 382.7,415.0 384.1,414.1 385.6,413.2 387.1,412.3 388.1,411.7 390.0,410.6 391.5,409.7 392.9,408.8 394.4,407.9 395.9,407.0 397.3,406.1 398.8,405.3 400.3,404.4 401.7,403.5 402.9,402.9 404.7,401.9 406.2,401.0 407.6,400.2 409.1,399.4 410.6,398.6 412.0,397.8 413.5,397.0 415.0,396.3 416.3,395.6 417.9,394.7 419.2,394.1 420.8,393.3 422.2,392.6 423.8,391.8 425.2,391.2 426.7,390.4 428.2,389.8 429.6,389.1 431.1,388.4 432.6,387.7 434.1,387.1 435.5,386.4 437.0,385.7 438.5,385.1 439.9,384.4 441.2,383.8 442.9,383.1 444.3,382.4 445.8,381.8 447.3,381.1 448.7,380.4 450.2,379.8 451.7,379.1 453.1,378.4 454.6,377.7 456.1,377.0 457.6,376.3 459.0,375.6 460.5,374.8 462.0,374.1 463.4,373.3 464.9,372.5 466.4,371.7 467.8,370.9 469.3,370.0 470.7,369.2 472.2,368.2 473.7,367.3 475.2,366.3 476.6,365.3 478.1,364.2 479.3,363.3 481.0,361.9 482.5,360.6 484.0,359.3 485.5,357.9 486.9,356.3 488.4,354.6 489.6,353.0 490.7,351.6 491.6,350.1 492.5,348.6 493.3,347.2 493.9,345.7 494.5,344.2 495.0,342.8 495.4,341.3 495.7,339.8 496.0,338.4 496.1,336.9 496.2,335.4 496.2,334.0 496.1,332.5 495.9,331.0 495.7,329.6 495.3,328.1 494.9,326.6 494.4,325.2 493.8,323.7 493.2,322.2 492.5,320.8 491.6,319.3 490.7,317.8 489.9,316.5 488.7,314.9 487.5,313.4 486.2,312.0 484.9,310.5 484.0,309.6 482.5,308.3 481.0,307.0 480.0,306.1 478.1,304.7 476.6,303.7 475.2,302.7 473.7,301.9 472.2,301.0 470.8,300.3 469.3,299.6 467.8,299.0 466.4,298.4 464.9,298.0 463.4,297.5 462.0,297.1 460.5,296.8 459.0,296.6 457.6,296.4 456.1,296.3 454.6,296.2 453.1,296.2 451.7,296.3 450.2,296.5 448.7,296.7 447.3,297.0Z"/>
<path fill="#920fa3" fill-rule="evenodd" d="M81.6,163.8 83.1,163.8 84.5,163.8 86.0,163.8 87.5,163.8 88.9,163.8 90.4,163.8 91.9,163.8 93.3,163.8 94.8,163.8 96.3,163.8 97.8,163.8 99.2,163.8 100.7,163.8 102.2,163.8 103.6,163.8 105.1,163.8 106.6,163.8 108.0,163.8 109.5,163.8 111.0,163.8 112.4,163.8 113.9,163.8 115.4,163.8 116.8,163.8 118.3,163.8 119.8,163.8 121.3,163.8 122.7,163.8 124.2,163.8 125.7,163.8 127.1,163.8 128.6,163.8 130.1,163.8 131.5,163.8 133.0,163.8 134.5,163.8 135.9,163.8 137.4,163.8 138.9,163.8 140.3,163.8 141.8,163.8 143.3,163.8 144.7,163.8 146.2,163.8 147.7,163.8 149.2,163.8 150.6,163.8 152.1,163.8 153.6,163.8 155.0,163.8 156.5,163.8 158.0,163.8 159.4,163.8 160.9,163.8 162.4,163.8 163.8,163.8 165.3,163.8 166.8,163.8 168.2,163.8 169.7,163.8 171.2,163.8 172.7,163.8 174.1,163.8 175.6,163.8 177.1,163.8 178.5,163.8 180.0,163.8 181.5,163.8 182.9,163.8 184.4,163.8 185.9,163.8 187.3,163.8 188.8,163.8 190.3,163.8 191.7,163.8 193.2,163.8 194.7,163.8 196.1,163.8 197.6,163.8 199.1,163.8 200.6,163.8 202.0,163.8 203.5,163.8 205.0,163.8 206.4,163.8 207.9,163.8 209.4,163.8 210.8,163.8 212.3,163.8 213.8,163.8 215.2,163.8 216.7,163.8 218.2,163.8 219.6,163.8 221.1,164.1 222.6,164.6 224.1,165.0 225.5,165.4 227.0,165.8 228.5,166.3 229.9,166.6 231.4,167.0 232.9,167.4 234.3,167.8 235.8,168.1 237.3,168.5 238.7,168.8 240.2,169.1 241.7,169.4 243.1,169.7 244.6,170.0 246.1,170.3 247.5,170.6 249.0,170.8 250.5,171.1 252.0,171.3 253.4,171.5 254.9,171.7 256.4,171.9 257.8,172.1 259.3,172.3 260.8,172.4 262.2,172.6 263.7,172.7 265.2,172.8 266.6,172.9 268.1,173.0 269.6,173.0 271.0,173.1 272.5,173.1 274.0,173.1 275.5,173.1 276.9,173.0 278.4,172.9 279.9,172.9 281.3,172.7 282.8,172.6 284.3,172.4 285.7,172.1 287.2,171.8 288.7,171.5 289.9,171.1 291.6,170.6 293.1,170.0 294.5,169.3 296.0,168.4 297.5,167.2 298.9,165.5 299.9,163.8 301.9,163.8 303.4,163.8 304.8,163.8 306.3,163.8 307.8,163.8 309.2,163.8 310.7,163.8 312.2,163.8 313.6,163.8 315.1,163.8 316.6,163.8 318.0,163.8 319.5,163.8 321.0,163.8 322.4,163.8 323.9,163.8 325.4,163.8 326.8,163.8 328.3,163.8 329.8,163.8 331.3,163.8 332.7,163.8 334.2,163.8 335.7,163.8 337.1,163.8 338.6,163.8 340.1,163.8 341.5,163.8 343.0,163.8 344.5,163.8 345.9,163.8 347.4,163.8 348.9,163.8 350.3,163.8 351.8,163.8 353.3,163.8 354.8,163.8 356.2,163.8 357.7,163.8 359.2,163.8 360.6,163.8 362.1,163.8 363.6,163.8 365.0,163.8 366.5,163.8 368.0,163.8 369.4,163.8 370.9,163.8 372.4,163.8 373.8,163.8 375.3,163.8 376.8,163.8 378.2,163.8 379.7,163.8 381.2,163.8 382.7,163.8 384.1,163.8 385.6,163.8 387.1,163.8 388.5,163.8 390.0,163.8 391.5,163.8 392.9,163.8 394.4,163.8 395.9,163.8 397.3,163.8 398.8,163.8 400.3,163.8 401.7,163.8 403.2,163.8 404.7,163.8 406.2,163.8 407.6,163.8 409.1,163.8 410.6,163.8 412.0,163.8 413.5,163.8 415.0,163.8 416.4,163.8 417.9,163.8 419.4,163.8 420.8,163.8 422.3,163.8 423.8,163.8 425.2,163.8 426.7,163.8 428.2,163.8 429.6,163.8 431.1,163.8 432.6,163.8 434.1,163.8 435.5,163.8 437.0,163.8 438.5,163.8 439.9,163.8 441.4,163.8 442.9,163.8 444.3,163.8 445.8,163.8 447.3,163.8 448.7,163.8 450.2,163.8 451.7,163.8 453.1,163.8 454.6,163.8 456.1,163.8 457.6,163.8 459.0,163.8 460.5,163.8 462.0,163.8 463.4,163.8 464.9,163.8 466.4,163.8 467.8,163.8 469.3,163.8 470.8,163.8 472.2,163.8 473.7,163.8 475.2,163.8 476.6,163.8 478.1,163.8 479.6,163.8 481.0,163.8 482.5,163.8 484.0,163.8 485.5,163.8 486.9,163.8 488.4,163.8 489.9,163.8 491.3,163.8 492.8,163.8 494.3,163.8 495.7,163.8 497.2,163.8 498.7,163.8 500.1,163.8 501.6,163.8 503.1,163.8 504.5,163.8 506.0,163.8 507.5,163.8 509.0,163.8 510.4,163.8 511.9,163.8 513.4,163.8 514.8,163.8 516.3,163.8 517.8,163.8 519.2,163.8 520.7,163.8 520.7,165.3 520.7,166.7 520.7,168.2 520.7,169.7 520.7,171.1 520.7,172.6 520.7,174.1 520.7,175.5 520.7,177.0 520.7,178.5 520.7,179.9 520.7,181.4 520.7,182.9 520.7,184.3 520.7,185.8 520.7,187.3 520.7,188.7 520.7,190.2 520.7,191.7 520.7,193.1 520.7,194.6 520.7,196.1 520.7,197.5 520.7,199.0 520.7,200.5 520.7,201.9 520.7,203.4 520.7,204.9 520.7,206.3 520.7,207.8 520.7,209.3 520.7,210.7 520.7,212.2 520.7,213.7 520.7,215.1 520.7,216.6 520.7,218.1 520.7,219.5 520.7,221.0 520.7,222.5 520.7,223.9 520.7,225.4 520.7,226.9 520.7,228.3 520.7,229.8 520.7,231.3 520.7,232.7 520.7,234.2 520.7,235.7 520.7,237.1 520.7,238.6 520.7,240.1 520.7,241.5 520.7,243.0 520.7,244.5 520.7,245.9 520.7,247.4 520.7,248.9 520.7,250.3 520.7,251.8 520.7,253.3 520.7,254.7 520.7,256.2 520.7,257.7 520.7,259.1 520.7,260.6 520.7,262.1 520.7,263.5 520.7,265.0 520.7,266.5 520.7,267.9 520.7,269.4 520.7,270.9 520.7,272.3 520.7,273.8 520.7,275.3 520.7,276.8 520.7,278.2 520.7,279.7 520.7,281.2 520.7,282.6 520.7,284.1 520.7,285.6 520.7,287.0 520.7,288.5 520.7,290.0 520.7,291.4 520.7,292.9 520.7,294.4 520.7,295.8 520.7,297.3 520.7,298.8 520.7,300.2 520.7,301.7 520.7,303.2 520.7,304.6 520.7,306.1 520.7,307.6 520.7,309.0 520.7,310.5 520.7,311.8 519.3,310.5 517.8,309.1 516.3,307.9 514.8,306.6 513.4,305.3 511.9,304.1 510.7,303.2 509.0,301.7 507.5,300.5 506.0,299.4 504.5,298.3 503.3,297.3 501.6,296.1 500.1,295.0 498.7,294.0 497.2,292.9 495.7,292.0 494.3,291.0 492.8,290.0 491.3,289.1 489.9,288.2 488.4,287.3 486.9,286.5 485.5,285.7 484.0,284.9 482.5,284.1 481.0,283.3 479.6,282.6 478.1,281.9 476.6,281.3 475.2,280.7 473.7,280.1 472.2,279.5 470.8,279.0 469.3,278.4 467.8,278.0 466.4,277.5 464.9,277.1 463.4,276.8 462.0,276.5 460.5,276.2 459.0,275.9 457.6,275.7 456.1,275.6 454.6,275.5 453.1,275.4 451.7,275.4 450.2,275.4 448.7,275.5 447.3,275.7 445.8,275.9 444.3,276.2 442.9,276.6 441.4,277.0 439.9,277.5 438.5,278.1 437.0,278.8 435.5,279.5 434.1,280.4 432.8,281.2 431.1,282.4 429.6,283.5 428.2,284.8 426.7,286.2 425.2,287.7 423.8,289.3 422.3,291.0 420.8,292.8 419.6,294.4 418.5,295.8 417.4,297.3 416.4,298.7 415.4,300.2 414.4,301.7 413.5,303.0 412.4,304.6 411.5,306.1 410.6,307.5 409.6,309.0 408.6,310.5 407.7,312.0 406.7,313.4 405.8,314.9 404.8,316.4 403.9,317.8 402.9,319.3 401.9,320.8 400.9,322.2 399.9,323.7 398.9,325.2 397.9,326.6 396.8,328.1 395.9,329.4 394.6,331.0 393.5,332.5 392.4,334.0 391.5,335.1 390.0,336.9 388.8,338.4 387.6,339.8 386.3,341.3 385.0,342.8 384.1,343.7 382.7,345.2 381.2,346.7 379.7,348.2 378.2,349.6 376.8,351.0 375.3,352.3 373.8,353.6 372.7,354.5 371.0,356.0 369.4,357.2 368.0,358.3 366.5,359.4 365.2,360.4 363.6,361.5 362.1,362.6 361.0,363.3 359.2,364.5 357.7,365.5 356.5,366.2 354.8,367.3 353.3,368.2 351.8,369.0 350.3,369.9 349.0,370.6 347.4,371.5 346.3,372.1 344.5,373.1 343.0,373.9 341.5,374.6 340.1,375.4 338.6,376.1 337.1,376.9 335.7,377.6 334.2,378.3 332.7,379.1 331.3,379.8 329.8,380.5 328.3,381.2 326.8,381.9 325.4,382.6 323.9,383.3 322.8,383.8 321.0,384.7 319.8,385.3 318.0,386.1 316.8,386.8 315.1,387.6 313.8,388.2 312.2,389.1 310.9,389.7 309.2,390.6 308.0,391.2 306.3,392.1 304.8,392.9 303.4,393.7 301.9,394.6 300.4,395.4 298.9,396.3 297.7,397.0 296.0,398.1 294.5,399.1 293.3,400.0 291.6,401.2 290.1,402.3 288.7,403.4 287.5,404.4 285.9,405.8 284.4,407.3 283.0,408.8 281.7,410.2 280.5,411.7 279.5,413.2 278.5,414.6 277.7,416.1 277.0,417.6 276.4,419.0 275.9,420.5 275.5,422.0 275.2,423.4 275.0,424.9 274.9,426.4 275.0,427.8 275.1,429.3 275.4,430.8 275.8,432.2 276.3,433.7 276.9,435.1 277.8,436.6 278.9,438.1 279.9,439.3 281.3,440.8 282.8,442.0 284.3,443.0 285.7,443.9 287.2,444.7 288.6,445.4 290.1,446.1 291.6,446.6 293.1,447.1 294.5,447.6 296.0,448.0 297.5,448.3 298.9,448.6 300.4,448.9 301.9,449.1 303.4,449.3 304.8,449.4 306.3,449.6 307.8,449.7 309.2,449.8 310.7,449.8 312.2,449.8 313.6,449.8 315.1,449.8 316.6,449.7 318.0,449.7 319.5,449.6 321.0,449.5 322.4,449.3 323.9,449.2 325.4,449.0 326.8,448.8 328.3,448.6 329.8,448.3 331.3,448.1 332.7,447.8 334.2,447.5 335.7,447.2 336.8,446.9 338.6,446.5 340.1,446.1 341.5,445.7 343.0,445.3 344.5,444.9 345.9,444.5 347.4,444.0 348.9,443.5 350.3,443.0 351.8,442.5 353.3,442.0 354.8,441.4 356.2,440.9 357.7,440.3 359.2,439.7 360.6,439.1 362.1,438.5 363.6,437.8 365.0,437.2 366.2,436.6 368.0,435.8 369.4,435.2 370.9,434.4 372.4,433.7 373.8,433.0 375.3,432.3 376.8,431.5 378.2,430.8 379.7,430.0 381.1,429.3 382.7,428.5 383.9,427.8 385.6,426.9 387.1,426.1 388.5,425.4 390.0,424.6 391.5,423.8 392.9,423.0 394.4,422.2 395.9,421.4 397.3,420.6 398.8,419.8 400.3,419.1 401.7,418.3 403.1,417.6 404.7,416.8 406.0,416.1 407.6,415.3 408.9,414.6 410.6,413.8 411.8,413.2 413.5,412.4 414.9,411.7 416.4,411.0 417.9,410.3 419.4,409.6 420.8,409.0 422.3,408.3 423.8,407.7 425.2,407.1 426.7,406.5 428.2,405.9 429.6,405.3 431.1,404.7 432.6,404.2 434.1,403.6 435.5,403.1 437.0,402.5 438.5,402.0 439.9,401.5 441.4,401.0 442.9,400.5 444.3,400.1 445.8,399.6 447.3,399.2 448.7,398.7 450.2,398.3 451.7,397.9 453.1,397.5 454.6,397.1 456.1,396.7 457.6,396.3 459.0,395.9 460.5,395.6 462.0,395.2 463.4,394.9 464.9,394.6 466.4,394.2 467.8,393.9 469.3,393.7 470.8,393.4 472.2,393.1 473.7,392.8 475.0,392.6 476.6,392.4 478.1,392.1 479.6,391.9 481.0,391.7 482.5,391.6 484.0,391.4 485.5,391.2 486.9,391.1 488.4,391.0 489.9,390.9 491.3,390.8 492.8,390.8 494.3,390.7 495.7,390.7 497.2,390.7 498.7,390.8 500.1,390.8 501.6,390.9 503.1,391.1 504.5,391.3 506.0,391.5 507.5,391.8 509.0,392.1 510.4,392.6 511.9,393.1 513.4,393.8 514.8,394.6 516.2,395.6 517.8,397.0 518.9,398.5 519.7,400.0 520.2,401.4 520.6,402.9 520.7,404.4 520.7,405.8 520.7,407.3 520.7,408.8 520.7,410.2 520.7,411.7 520.7,413.2 520.7,414.6 520.7,416.1 520.5,417.6 520.3,419.0 520.1,420.5 520.0,422.0 519.8,423.4 519.6,424.9 519.4,426.4 519.2,427.8 519.0,429.3 518.8,430.8 518.6,432.2 518.4,433.7 518.3,435.2 518.1,436.6 518.0,438.1 517.8,439.6 517.7,441.0 517.5,442.5 517.4,444.0 517.3,445.4 517.2,446.9 517.1,448.4 517.1,449.8 517.0,451.3 516.9,452.8 516.9,454.2 516.9,455.7 516.8,457.2 516.8,458.6 516.8,460.1 516.9,461.6 516.9,463.0 516.9,464.5 517.0,466.0 517.1,467.4 517.2,468.9 517.3,470.4 517.4,471.8 517.5,473.3 517.7,474.8 517.8,476.2 518.0,477.7 518.2,479.2 518.4,480.6 518.6,482.1 518.9,483.6 519.2,485.0 519.4,486.5 519.8,488.0 520.1,489.4 520.4,490.9 520.7,492.4 520.7,493.9 520.7,495.3 520.7,496.8 520.7,498.3 520.7,499.7 520.7,501.2 520.7,502.7 520.7,504.1 520.7,505.6 520.7,507.1 520.7,508.5 520.7,510.0 520.7,511.5 520.7,512.9 520.7,514.4 520.7,515.9 520.7,517.3 520.7,518.8 520.7,520.3 520.7,521.7 520.7,523.2 520.7,524.7 520.7,526.1 520.7,527.6 520.7,529.1 520.7,530.5 520.7,532.0 520.7,533.5 520.7,534.9 520.7,536.4 520.7,537.9 520.7,539.3 520.7,540.8 520.7,542.3 520.7,543.7 520.7,545.2 520.7,546.7 520.7,548.1 520.7,549.6 520.7,551.1 520.7,552.5 520.7,554.0 520.7,555.5 520.7,556.9 520.7,558.4 520.7,559.9 520.7,561.3 520.7,562.8 520.7,564.3 520.7,565.7 520.7,567.2 520.7,568.7 520.7,570.1 520.7,571.6 520.7,573.1 520.7,574.5 520.7,576.0 520.7,577.5 520.7,578.9 520.7,580.4 520.7,581.9 520.7,583.3 520.7,584.8 520.7,586.3 520.7,587.7 520.7,589.2 520.7,590.7 520.7,592.1 520.7,593.6 520.7,595.1 520.7,596.5 520.7,598.0 520.7,599.5 520.7,600.9 520.7,602.4 519.2,602.4 517.8,602.4 516.3,602.4 514.8,602.4 513.4,602.4 511.9,602.4 510.4,602.4 509.0,602.4 507.5,602.4 506.0,602.4 504.5,602.4 503.1,602.4 501.6,602.4 500.1,602.4 498.7,602.4 497.2,602.4 495.7,602.4 494.3,602.4 492.8,602.4 491.3,602.4 489.9,602.4 488.4,602.4 486.9,602.4 485.5,602.4 484.0,602.4 482.5,602.4 481.0,602.4 479.6,602.4 478.1,602.4 476.6,602.4 475.2,602.4 473.7,602.4 472.2,602.4 470.8,602.4 469.3,602.4 467.8,602.4 466.4,602.4 464.9,602.4 463.4,602.4 462.0,602.4 460.5,602.4 459.0,602.4 457.6,602.4 456.1,602.4 454.6,602.4 453.1,602.4 451.7,602.4 450.2,602.4 448.7,602.4 447.3,602.4 445.8,602.4 444.3,602.4 442.9,602.4 441.4,602.4 439.9,602.4 438.5,602.4 437.0,602.4 435.5,602.4 434.1,602.4 432.6,602.4 431.1,602.4 429.6,602.4 428.2,602.4 426.7,602.4 425.2,602.4 423.8,602.4 422.3,602.4 420.8,602.4 419.4,602.4 417.9,602.4 416.4,602.4 415.0,602.4 413.5,602.4 412.0,602.4 410.6,602.4 409.1,602.4 407.6,602.4 406.2,602.4 404.7,602.4 403.2,602.4 401.7,602.4 400.3,602.4 398.8,602.4 397.3,602.4 395.9,602.4 394.4,602.4 392.9,602.4 391.5,602.4 390.0,602.4 388.5,602.4 387.1,602.4 385.6,602.4 384.1,602.4 382.7,602.4 381.2,602.4 379.7,602.4 378.2,602.4 376.8,602.4 375.3,602.4 373.8,602.4 372.4,602.4 370.9,602.4 369.4,602.4 368.0,602.4 366.5,602.4 365.0,602.4 363.6,602.4 362.1,602.4 360.6,602.4 359.2,602.4 357.7,602.4 356.2,602.4 354.8,602.4 353.3,602.4 351.8,602.4 350.3,602.4 348.9,602.4 347.4,602.4 345.9,602.4 344.5,602.4 343.0,602.4 341.5,602.4 340.1,602.4 338.6,602.4 337.1,602.4 335.7,602.4 334.2,602.4 332.7,602.4 331.3,602.4 329.8,602.4 328.3,602.4 326.8,602.4 325.4,602.4 323.9,602.4 322.4,602.4 321.0,602.4 319.5,602.4 318.0,602.4 316.6,602.4 315.1,602.4 313.6,602.4 312.2,602.4 310.7,602.4 309.2,602.4 307.8,602.4 306.3,602.4 304.8,602.4 303.4,602.4 301.9,602.4 300.4,602.4 300.5,600.9 300.7,599.5 300.7,598.0 300.5,596.5 300.2,595.1 299.8,593.6 299.3,592.1 298.7,590.7 298.1,589.2 297.5,587.9 296.6,586.3 296.0,585.1 295.0,583.3 294.1,581.9 293.2,580.4 292.3,578.9 291.6,577.8 290.4,576.0 289.5,574.5 288.7,573.3 287.5,571.6 286.6,570.1 285.7,568.9 284.6,567.2 283.7,565.7 282.8,564.4 281.7,562.8 280.8,561.3 279.9,559.9 278.9,558.4 278.0,556.9 277.0,555.5 276.1,554.0 275.5,552.9 274.3,551.1 273.4,549.6 272.5,548.1 271.7,546.7 271.0,545.6 270.0,543.7 269.1,542.3 268.3,540.8 267.5,539.3 266.6,537.9 265.8,536.4 265.2,535.2 264.2,533.5 263.4,532.0 262.7,530.5 261.9,529.1 261.1,527.6 260.4,526.1 259.6,524.7 258.9,523.2 258.1,521.7 257.4,520.3 256.6,518.8 255.9,517.3 255.1,515.9 254.4,514.4 253.7,512.9 252.9,511.5 252.2,510.0 251.5,508.5 250.7,507.1 250.0,505.6 249.2,504.1 248.4,502.7 247.7,501.2 246.9,499.7 246.1,498.3 245.3,496.8 244.6,495.6 243.6,493.9 242.7,492.4 241.8,490.9 240.9,489.4 240.2,488.3 239.0,486.5 238.0,485.0 236.9,483.6 235.8,482.1 234.6,480.6 233.4,479.2 232.1,477.7 230.8,476.2 229.9,475.3 228.5,473.8 227.0,472.4 225.5,471.1 224.1,469.8 223.0,468.9 221.2,467.4 219.6,466.2 218.2,465.1 216.7,464.0 215.4,463.0 213.8,461.9 212.3,460.9 211.1,460.1 209.4,458.9 207.9,457.9 206.8,457.2 205.0,456.0 203.5,455.0 202.3,454.2 200.6,453.1 199.1,452.2 197.7,451.3 196.1,450.3 194.7,449.3 193.2,448.4 191.7,447.4 190.3,446.5 188.8,445.5 187.3,444.5 185.9,443.5 184.4,442.5 182.9,441.5 181.5,440.5 180.1,439.6 178.5,438.5 177.1,437.5 175.9,436.6 174.1,435.4 172.7,434.3 171.2,433.3 169.8,432.2 168.2,431.1 166.8,430.0 165.3,428.9 163.9,427.8 162.4,426.6 160.9,425.5 159.4,424.4 158.2,423.4 156.5,422.1 155.0,420.9 153.6,419.7 152.1,418.5 150.9,417.6 149.2,416.1 147.7,414.9 146.2,413.7 144.7,412.5 143.3,411.2 142.1,410.2 140.3,408.8 138.9,407.5 137.4,406.3 135.9,405.0 134.5,403.7 133.5,402.9 131.8,401.4 130.2,400.0 128.6,398.5 127.1,397.2 125.7,395.8 124.2,394.3 122.7,392.9 121.3,391.3 119.9,389.7 118.7,388.2 117.7,386.8 116.8,385.4 116.0,383.8 115.4,382.5 114.8,380.9 114.4,379.4 114.0,378.0 113.8,376.5 113.6,375.0 113.5,373.6 113.4,372.1 113.3,370.6 113.3,369.2 113.2,367.7 113.2,366.2 113.2,364.8 113.1,363.3 113.0,361.8 112.9,360.4 112.8,358.9 112.6,357.4 112.4,356.0 112.1,354.5 111.8,353.0 111.4,351.6 111.0,350.2 110.4,348.6 109.9,347.2 109.3,345.7 108.6,344.2 108.0,343.1 107.1,341.3 106.3,339.8 105.4,338.4 104.4,336.9 103.6,335.8 102.3,334.0 101.2,332.5 100.1,331.0 99.2,330.0 97.8,328.2 96.4,326.6 95.1,325.2 93.7,323.7 92.3,322.2 90.9,320.8 89.5,319.3 88.0,317.8 86.5,316.4 85.0,314.9 83.4,313.4 81.8,312.0 81.6,310.5 81.6,309.0 81.6,307.6 81.6,306.1 81.6,304.6 81.6,303.2 81.6,301.7 81.6,300.2 81.6,298.8 81.6,297.3 81.6,295.8 81.6,294.4 81.6,292.9 81.6,291.4 81.6,290.0 81.6,288.5 81.6,287.0 81.6,285.6 81.6,284.1 81.6,282.6 81.6,281.2 81.6,279.7 81.6,278.2 81.6,276.8 81.6,275.3 81.6,273.8 81.6,272.3 81.6,270.9 81.6,269.4 81.6,267.9 81.6,266.5 81.6,265.0 81.6,263.5 81.6,262.1 81.6,260.6 81.6,259.1 81.6,257.7 81.6,256.2 81.6,254.7 81.6,253.3 81.6,251.8 81.6,250.3 81.6,248.9 81.6,247.4 81.6,245.9 81.6,244.5 81.6,243.0 81.6,241.5 81.6,240.1 81.6,238.6 81.6,237.1 81.6,235.7 81.6,234.2 81.6,232.7 81.6,231.3 81.6,229.8 81.6,228.3 81.6,226.9 81.6,225.4 81.6,223.9 81.6,222.5 81.6,221.0 81.6,219.5 81.6,218.1 81.6,216.6 81.6,215.1 81.6,213.7 81.6,212.2 81.6,210.7 81.6,209.3 81.6,207.8 81.6,206.3 81.6,204.9 81.6,203.4 81.6,201.9 81.6,200.5 81.6,199.0 81.6,197.5 81.6,196.1 81.6,194.6 81.6,193.1 81.6,191.7 81.6,190.2 81.6,188.7 81.6,187.3 81.6,185.8 81.6,184.3 81.6,182.9 81.6,181.4 81.6,179.9 81.6,178.5 81.6,177.0 81.6,175.5 81.6,174.1 81.6,172.6 81.6,171.1 81.6,169.7 81.6,168.2 81.6,166.7 81.6,165.3 81.6,163.8ZM81.6,404.4 81.6,403.1 81.8,404.4 82.0,405.8 82.1,407.3 82.1,408.8 82.1,410.2 82.0,411.7 81.9,413.2 81.7,414.6 81.6,416.1 81.6,414.6 81.6,413.2 81.6,411.7 81.6,410.2 81.6,408.8 81.6,407.3 81.6,405.8 81.6,404.4ZM81.6,492.4 82.1,493.9 82.5,495.3 82.9,496.8 83.4,498.3 83.9,499.7 84.4,501.2 84.9,502.7 85.4,504.1 86.0,505.6 86.6,507.1 87.2,508.5 87.9,510.0 88.6,511.5 89.3,512.9 90.1,514.4 90.8,515.9 91.6,517.3 92.5,518.8 93.3,520.3 94.3,521.7 95.2,523.2 96.2,524.7 97.2,526.1 98.2,527.6 99.2,528.9 100.5,530.5 101.6,532.0 102.8,533.5 103.6,534.4 105.1,536.1 106.6,537.7 108.0,539.3 109.5,540.8 111.0,542.3 112.4,543.7 113.9,545.1 115.4,546.4 116.8,547.8 118.3,549.0 119.8,550.3 121.3,551.5 122.5,552.5 124.2,553.9 125.7,555.1 127.1,556.2 128.6,557.3 130.0,558.4 131.5,559.5 133.0,560.5 134.1,561.3 135.9,562.6 137.4,563.6 138.4,564.3 140.3,565.5 141.8,566.5 142.9,567.2 144.7,568.4 146.2,569.3 147.6,570.1 149.2,571.1 150.6,572.0 152.1,572.8 153.6,573.7 155.0,574.5 156.5,575.4 157.6,576.0 159.4,577.0 160.9,577.8 162.4,578.6 163.8,579.4 165.3,580.2 166.8,580.9 168.2,581.7 169.7,582.4 171.2,583.2 172.7,583.9 174.1,584.6 175.6,585.3 177.1,586.0 178.5,586.7 180.0,587.4 181.5,588.1 182.9,588.7 184.4,589.4 185.9,590.1 187.2,590.7 188.8,591.3 190.3,592.0 191.7,592.6 193.2,593.2 194.7,593.8 196.1,594.4 197.6,595.0 199.1,595.6 200.6,596.1 202.0,596.7 203.5,597.2 205.0,597.8 206.4,598.3 207.9,598.9 209.4,599.4 210.8,599.9 212.3,600.4 213.8,600.9 215.2,601.4 216.7,601.8 218.2,602.3 216.7,602.4 215.2,602.4 213.8,602.4 212.3,602.4 210.8,602.4 209.4,602.4 207.9,602.4 206.4,602.4 205.0,602.4 203.5,602.4 202.0,602.4 200.6,602.4 199.1,602.4 197.6,602.4 196.1,602.4 194.7,602.4 193.2,602.4 191.7,602.4 190.3,602.4 188.8,602.4 187.3,602.4 185.9,602.4 184.4,602.4 182.9,602.4 181.5,602.4 180.0,602.4 178.5,602.4 177.1,602.4 175.6,602.4 174.1,602.4 172.7,602.4 171.2,602.4 169.7,602.4 168.2,602.4 166.8,602.4 165.3,602.4 163.8,602.4 162.4,602.4 160.9,602.4 159.4,602.4 158.0,602.4 156.5,602.4 155.0,602.4 153.6,602.4 152.1,602.4 150.6,602.4 149.2,602.4 147.7,602.4 146.2,602.4 144.7,602.4 143.3,602.4 141.8,602.4 140.3,602.4 138.9,602.4 137.4,602.4 135.9,602.4 134.5,602.4 133.0,602.4 131.5,602.4 130.1,602.4 128.6,602.4 127.1,602.4 125.7,602.4 124.2,602.4 122.7,602.4 121.3,602.4 119.8,602.4 118.3,602.4 116.8,602.4 115.4,602.4 113.9,602.4 112.4,602.4 111.0,602.4 109.5,602.4 108.0,602.4 106.6,602.4 105.1,602.4 103.6,602.4 102.2,602.4 100.7,602.4 99.2,602.4 97.8,602.4 96.3,602.4 94.8,602.4 93.3,602.4 91.9,602.4 90.4,602.4 88.9,602.4 87.5,602.4 86.0,602.4 84.5,602.4 83.1,602.4 81.6,602.4 81.6,600.9 81.6,599.5 81.6,598.0 81.6,596.5 81.6,595.1 81.6,593.6 81.6,592.1 81.6,590.7 81.6,589.2 81.6,587.7 81.6,586.3 81.6,584.8 81.6,583.3 81.6,581.9 81.6,580.4 81.6,578.9 81.6,577.5 81.6,576.0 81.6,574.5 81.6,573.1 81.6,571.6 81.6,570.1 81.6,568.7 81.6,567.2 81.6,565.7 81.6,564.3 81.6,562.8 81.6,561.3 81.6,559.9 81.6,558.4 81.6,556.9 81.6,555.5 81.6,554.0 81.6,552.5 81.6,551.1 81.6,549.6 81.6,548.1 81.6,546.7 81.6,545.2 81.6,543.7 81.6,542.3 81.6,540.8 81.6,539.3 81.6,537.9 81.6,536.4 81.6,534.9 81.6,533.5 81.6,532.0 81.6,530.5 81.6,529.1 81.6,527.6 81.6,526.1 81.6,524.7 81.6,523.2 81.6,521.7 81.6,520.3 81.6,518.8 81.6,517.3 81.6,515.9 81.6,514.4 81.6,512.9 81.6,511.5 81.6,510.0 81.6,508.5 81.6,507.1 81.6,505.6 81.6,504.1 81.6,502.7 81.6,501.2 81.6,499.7 81.6,498.3 81.6,496.8 81.6,495.3 81.6,493.9 81.6,492.4Z"/>
<path fill="#a51f99" fill-rule="evenodd" d="M81.6,163.8 83.1,163.8 84.5,163.8 86.0,163.8 87.5,163.8 88.9,163.8 90.4,163.8 91.9,163.8 93.3,163.8 94.8,163.8 96.3,163.8 97.8,163.8 99.2,163.8 100.7,163.8 102.2,163.8 103.6,163.8 105.1,163.8 106.6,163.8 108.0,163.8 109.5,163.8 111.0,163.8 112.4,163.8 113.9,163.8 115.4,163.8 116.8,163.8 118.3,163.8 119.8,163.8 121.3,163.8 122.7,163.8 124.2,163.8 125.7,163.8 127.1,163.8 128.6,163.8 130.1,163.8 131.5,163.8 133.0,163.8 134.5,163.8 135.9,163.8 137.4,163.8 138.9,163.8 140.3,163.8 141.8,163.8 143.3,163.8 144.7,163.8 146.2,163.8 147.7,163.8 149.2,163.8 150.6,163.8 152.1,163.8 153.6,163.8 155.0,163.8 156.5,163.8 158.0,163.8 159.4,163.8 160.9,163.8 162.4,163.8 163.8,163.8 165.3,163.8 166.8,163.8 168.2,163.8 169.7,163.8 171.2,163.8 172.7,163.8 174.1,163.8 175.6,163.8 177.1,163.8 178.5,163.8 180.0,163.8 181.5,163.8 182.9,163.8 184.4,163.8 185.9,163.8 187.3,163.8 188.8,163.8 190.3,163.8 191.7,163.8 193.2,163.8 194.7,163.8 196.1,163.8 197.6,163.8 199.1,164.3 200.6,164.8 202.0,165.4 203.5,166.0 205.0,166.6 206.4,167.1 207.9,167.7 209.4,168.2 210.8,168.7 212.3,169.3 213.4,169.7 215.2,170.3 216.7,170.8 218.2,171.3 219.6,171.8 221.1,172.3 222.6,172.7 224.1,173.2 225.5,173.7 226.8,174.1 228.5,174.6 229.9,175.0 231.4,175.4 232.9,175.8 234.3,176.2 235.8,176.6 237.1,177.0 238.7,177.4 240.2,177.8 241.7,178.2 242.8,178.5 244.6,178.9 246.1,179.2 247.5,179.6 249.0,179.9 250.5,180.2 252.0,180.5 253.4,180.8 254.9,181.1 256.2,181.4 257.8,181.7 259.3,182.0 260.8,182.2 262.2,182.5 263.7,182.7 265.2,183.0 266.6,183.2 268.1,183.4 269.6,183.6 271.0,183.8 272.5,184.0 274.0,184.2 275.5,184.4 276.9,184.6 278.4,184.7 279.9,184.9 281.3,185.0 282.8,185.2 284.3,185.3 285.7,185.4 287.2,185.5 288.7,185.6 290.1,185.7 291.6,185.8 293.1,185.8 294.5,185.9 296.0,185.9 297.5,185.9 298.9,185.9 300.4,185.9 301.9,185.9 303.4,185.9 304.8,185.8 306.3,185.8 307.8,185.7 309.2,185.6 310.7,185.4 312.2,185.3 313.6,185.1 315.1,184.9 316.6,184.7 318.0,184.4 319.5,184.0 321.0,183.6 322.4,183.2 323.9,182.7 325.4,182.0 326.6,181.4 328.3,180.3 329.8,179.0 331.3,177.0 331.9,175.5 332.2,174.1 332.3,172.6 332.2,171.1 331.9,169.7 331.5,168.2 330.9,166.7 330.3,165.3 329.5,163.8 331.3,163.8 332.7,163.8 334.2,163.8 335.7,163.8 337.1,163.8 338.6,163.8 340.1,163.8 341.5,163.8 343.0,163.8 344.5,163.8 345.9,163.8 347.4,163.8 348.9,163.8 350.3,163.8 351.8,163.8 353.3,163.8 354.8,163.8 356.2,163.8 357.7,163.8 359.2,163.8 360.6,163.8 362.1,163.8 363.6,163.8 365.0,163.8 366.5,163.8 368.0,163.8 369.4,163.8 370.9,163.8 372.4,163.8 373.8,163.8 375.3,163.8 376.8,163.8 378.2,163.8 379.7,163.8 381.2,163.8 382.7,163.8 384.1,163.8 385.6,163.8 387.1,163.8 388.5,163.8 390.0,163.8 391.5,163.8 392.9,163.8 394.4,163.8 395.9,163.8 397.3,163.8 398.8,163.8 400.3,163.8 401.7,163.8 403.2,163.8 404.7,163.8 406.2,163.8 407.6,163.8 409.1,163.8 410.6,163.8 412.0,163.8 413.5,163.8 415.0,163.8 416.4,163.8 417.9,163.8 419.4,163.8 420.8,163.8 422.3,163.8 423.8,163.8 425.2,163.8 426.7,163.8 428.2,163.8 429.6,163.8 431.1,163.8 432.6,163.8 434.1,163.8 435.5,163.8 437.0,163.8 438.5,163.8 439.9,163.8 441.4,163.8 442.9,163.8 444.3,163.8 445.8,163.8 447.3,163.8 448.7,163.8 450.2,163.8 451.7,163.8 453.1,163.8 454.6,163.8 456.1,163.8 457.6,163.8 459.0,163.8 460.5,163.8 462.0,163.8 463.4,163.8 464.9,163.8 466.4,163.8 467.8,163.8 469.3,163.8 470.8,163.8 472.2,163.8 473.7,163.8 475.2,163.8 476.6,163.8 478.1,163.8 479.6,163.8 481.0,163.8 482.5,163.8 484.0,163.8 485.5,163.8 486.9,163.8 488.4,163.8 489.9,163.8 491.3,163.8 492.8,163.8 494.3,163.8 495.7,163.8 497.2,163.8 498.7,163.8 500.1,163.8 501.6,163.8 503.1,163.8 504.5,163.8 506.0,163.8 507.5,163.8 509.0,163.8 510.4,163.8 511.9,163.8 513.4,163.8 514.8,163.8 516.3,163.8 517.8,163.8 519.2,163.8 520.7,163.8 520.7,165.3 520.7,166.7 520.7,168.2 520.7,169.7 520.7,171.1 520.7,172.6 520.7,174.1 520.7,175.5 520.7,177.0 520.7,178.5 520.7,179.9 520.7,181.4 520.7,182.9 520.7,184.3 520.7,185.8 520.7,187.3 520.7,188.7 520.7,190.2 520.7,191.7 520.7,193.1 520.7,194.6 520.7,196.1 520.7,197.5 520.7,199.0 520.7,200.5 520.7,201.9 520.7,203.4 520.7,204.9 520.7,206.3 520.7,207.8 520.7,209.3 520.7,210.7 520.7,212.2 520.7,213.7 520.7,215.1 520.7,216.6 520.7,218.1 520.7,219.5 520.7,221.0 520.7,222.5 520.7,223.9 520.7,225.4 520.7,226.9 520.7,228.3 520.7,229.8 520.7,231.3 520.7,232.7 520.7,234.2 520.7,235.7 520.7,237.1 520.7,238.6 520.7,240.1 520.7,241.5 520.7,243.0 520.7,244.5 520.7,245.9 520.7,247.4 520.7,248.9 520.7,250.3 520.7,251.8 520.7,253.3 520.7,254.7 520.7,256.2 520.7,257.7 520.7,259.1 520.7,260.6 520.7,262.1 520.7,263.5 520.7,265.0 520.7,266.5 520.7,267.9 520.7,269.4 520.7,270.9 520.7,272.3 520.7,273.8 520.7,275.3 520.7,276.8 520.7,278.2 520.7,279.7 520.7,281.2 520.7,282.6 520.7,284.1 520.7,285.6 520.7,287.0 520.7,288.5 519.4,288.5 517.8,287.5 516.3,286.5 514.8,285.6 513.4,284.7 512.3,284.1 510.4,282.9 509.0,282.0 507.5,281.2 506.0,280.2 504.5,279.3 503.1,278.5 501.6,277.6 500.1,276.8 498.7,275.9 497.6,275.3 495.7,274.2 494.3,273.4 492.8,272.6 491.3,271.8 489.9,271.1 488.4,270.3 486.9,269.5 485.5,268.8 484.0,268.1 482.5,267.4 481.0,266.7 479.6,266.0 478.1,265.3 476.6,264.7 475.2,264.1 473.9,263.5 472.2,262.9 470.8,262.3 469.3,261.8 467.8,261.3 466.4,260.8 464.9,260.3 463.4,259.9 462.0,259.4 460.5,259.0 459.0,258.7 457.6,258.3 456.1,258.0 454.6,257.7 453.1,257.5 451.7,257.3 450.2,257.1 448.7,257.0 447.3,256.9 445.8,256.8 444.3,256.8 442.9,256.9 441.4,257.0 439.9,257.2 438.5,257.4 437.1,257.7 435.5,258.1 434.1,258.5 432.6,259.1 431.1,259.7 429.6,260.5 428.2,261.3 427.1,262.1 425.2,263.5 423.8,264.8 422.3,266.2 420.8,267.8 419.5,269.4 418.4,270.9 417.4,272.3 416.4,273.7 415.4,275.3 414.5,276.8 413.7,278.2 412.8,279.7 412.0,281.1 411.2,282.6 410.6,283.8 409.6,285.6 408.9,287.0 408.1,288.5 407.4,290.0 406.6,291.4 405.9,292.9 405.1,294.4 404.4,295.8 403.7,297.3 402.9,298.8 402.1,300.2 401.4,301.7 400.6,303.2 399.8,304.6 399.0,306.1 398.2,307.6 397.4,309.0 396.6,310.5 395.9,311.8 394.9,313.4 394.1,314.9 393.2,316.4 392.3,317.8 391.5,319.1 390.4,320.8 389.4,322.2 388.5,323.5 387.4,325.2 386.4,326.6 385.6,327.7 384.2,329.6 383.1,331.0 381.9,332.5 380.7,334.0 379.7,335.2 378.2,336.9 376.9,338.4 375.6,339.8 374.2,341.3 372.7,342.8 371.2,344.2 369.7,345.7 368.1,347.2 366.5,348.6 365.0,349.8 363.6,351.0 362.1,352.2 361.0,353.0 359.2,354.5 357.7,355.5 356.2,356.6 355.0,357.4 353.3,358.6 351.8,359.6 350.6,360.4 348.9,361.4 347.4,362.3 345.9,363.2 344.5,364.0 343.2,364.8 341.5,365.7 340.1,366.5 338.6,367.3 337.1,368.1 335.7,368.8 334.2,369.6 332.7,370.3 331.3,371.0 329.8,371.8 328.3,372.5 326.8,373.2 325.4,373.8 323.9,374.5 322.8,375.0 321.0,375.9 319.6,376.5 318.0,377.2 316.6,377.8 315.1,378.5 313.6,379.1 312.2,379.8 310.7,380.4 309.2,381.1 307.8,381.7 306.3,382.4 304.8,383.0 303.4,383.6 301.9,384.3 300.4,384.9 298.9,385.6 297.5,386.2 296.3,386.8 294.5,387.6 293.1,388.2 291.6,388.9 290.1,389.6 288.7,390.3 287.2,391.0 285.7,391.8 284.3,392.5 282.8,393.2 281.3,394.0 279.9,394.8 278.4,395.6 276.9,396.4 275.8,397.0 274.0,398.1 272.5,399.0 271.0,399.9 269.6,400.9 268.1,401.9 266.7,402.9 265.2,404.0 263.7,405.2 262.2,406.4 261.1,407.3 259.4,408.8 257.9,410.2 256.4,411.7 255.1,413.2 253.8,414.6 252.5,416.1 251.4,417.6 250.5,418.8 249.3,420.5 248.3,422.0 247.5,423.1 246.4,424.9 245.4,426.4 244.6,427.7 243.6,429.3 242.6,430.8 241.7,432.1 240.4,433.7 239.0,435.2 237.3,436.6 235.8,437.6 234.3,438.3 232.9,438.8 231.4,439.1 229.9,439.3 228.5,439.4 227.0,439.3 225.5,439.2 224.1,439.0 222.6,438.7 221.1,438.4 219.8,438.1 218.2,437.6 216.7,437.2 215.2,436.7 213.8,436.1 212.3,435.5 210.8,434.9 209.4,434.3 208.2,433.7 206.4,432.8 205.3,432.2 203.5,431.3 202.0,430.4 200.6,429.5 199.1,428.6 197.9,427.8 196.1,426.7 194.7,425.7 193.6,424.9 191.7,423.5 190.3,422.3 188.8,421.1 187.3,419.8 185.9,418.5 184.9,417.6 183.4,416.1 182.0,414.6 180.7,413.2 179.4,411.7 178.5,410.7 177.1,408.8 175.9,407.3 174.9,405.8 174.1,404.7 172.9,402.9 172.1,401.4 171.2,400.0 170.4,398.5 169.7,397.1 169.0,395.6 168.3,394.1 167.7,392.6 167.1,391.2 166.5,389.7 166.0,388.2 165.5,386.8 165.0,385.3 164.5,383.8 164.1,382.4 163.7,380.9 163.2,379.4 162.8,378.0 162.4,376.5 162.0,375.0 161.6,373.6 161.2,372.1 160.8,370.6 160.4,369.2 159.9,367.7 159.5,366.2 159.0,364.8 158.5,363.3 158.0,361.8 157.5,360.4 157.0,358.9 156.5,357.6 155.8,356.0 155.2,354.5 154.5,353.0 153.9,351.6 153.1,350.1 152.4,348.6 151.6,347.2 150.8,345.7 149.9,344.2 149.2,343.0 148.0,341.3 147.0,339.8 146.2,338.7 144.9,336.9 143.7,335.4 142.5,334.0 141.3,332.5 140.3,331.5 138.9,329.9 137.4,328.4 135.9,326.9 134.5,325.5 133.0,324.2 131.5,322.9 130.1,321.7 129.0,320.8 127.1,319.3 125.7,318.2 124.2,317.0 122.7,316.0 121.3,314.9 119.8,313.9 118.3,312.8 117.0,312.0 115.4,310.8 113.9,309.8 112.7,309.0 111.0,307.9 109.5,307.0 108.2,306.1 106.6,305.1 105.1,304.1 103.6,303.2 102.2,302.3 100.7,301.3 99.2,300.4 97.8,299.5 96.6,298.8 94.8,297.6 93.3,296.7 92.0,295.8 90.4,294.8 88.9,293.9 87.5,293.0 86.0,292.1 85.0,291.4 83.1,290.2 81.6,289.3 81.6,287.0 81.6,285.6 81.6,284.1 81.6,282.6 81.6,281.2 81.6,279.7 81.6,278.2 81.6,276.8 81.6,275.3 81.6,273.8 81.6,272.3 81.6,270.9 81.6,269.4 81.6,267.9 81.6,266.5 81.6,265.0 81.6,263.5 81.6,262.1 81.6,260.6 81.6,259.1 81.6,257.7 81.6,256.2 81.6,254.7 81.6,253.3 81.6,251.8 81.6,250.3 81.6,248.9 81.6,247.4 81.6,245.9 81.6,244.5 81.6,243.0 81.6,241.5 81.6,240.1 81.6,238.6 81.6,237.1 81.6,235.7 81.6,234.2 81.6,232.7 81.6,231.3 81.6,229.8 81.6,228.3 81.6,226.9 81.6,225.4 81.6,223.9 81.6,222.5 81.6,221.0 81.6,219.5 81.6,218.1 81.6,216.6 81.6,215.1 81.6,213.7 81.6,212.2 81.6,210.7 81.6,209.3 81.6,207.8 81.6,206.3 81.6,204.9 81.6,203.4 81.6,201.9 81.6,200.5 81.6,199.0 81.6,197.5 81.6,196.1 81.6,194.6 81.6,193.1 81.6,191.7 81.6,190.2 81.6,188.7 81.6,187.3 81.6,185.8 81.6,184.3 81.6,182.9 81.6,181.4 81.6,179.9 81.6,178.5 81.6,177.0 81.6,175.5 81.6,174.1 81.6,172.6 81.6,171.1 81.6,169.7 81.6,168.2 81.6,166.7 81.6,165.3 81.6,163.8ZM453.9,413.2 456.1,413.0 457.6,412.9 459.0,412.8 460.5,412.8 462.0,412.8 463.4,412.8 464.9,412.9 466.4,413.0 467.8,413.1 469.3,413.3 470.8,413.5 472.2,413.8 473.7,414.1 475.2,414.5 476.6,414.9 478.1,415.5 479.6,416.0 481.0,416.7 482.5,417.5 484.0,418.3 485.1,419.0 486.9,420.4 488.4,421.7 489.9,423.2 491.3,424.9 492.4,426.4 493.4,427.8 494.3,429.3 495.1,430.8 495.7,432.1 496.5,433.7 497.1,435.2 497.6,436.6 498.1,438.1 498.6,439.6 499.1,441.0 499.5,442.5 499.9,444.0 500.2,445.4 500.6,446.9 500.9,448.4 501.3,449.8 501.6,451.3 501.9,452.8 502.1,454.2 502.4,455.7 502.7,457.2 503.0,458.6 503.2,460.1 503.5,461.6 503.8,463.0 504.0,464.5 504.3,466.0 504.5,467.3 504.8,468.9 505.1,470.4 505.4,471.8 505.7,473.3 506.0,474.8 506.3,476.2 506.6,477.7 506.9,479.2 507.2,480.6 507.5,481.9 507.9,483.6 508.2,485.0 508.6,486.5 509.0,488.0 509.3,489.4 509.8,490.9 510.2,492.4 510.6,493.9 511.0,495.3 511.5,496.8 512.0,498.3 512.5,499.7 513.0,501.2 513.6,502.7 514.1,504.1 514.7,505.6 515.3,507.1 515.9,508.5 516.6,510.0 517.2,511.5 517.8,512.5 518.7,514.4 519.2,515.5 520.2,517.3 520.7,518.8 520.7,520.3 520.7,521.7 520.7,523.2 520.7,524.7 520.7,526.1 520.7,527.6 520.7,529.1 520.7,530.5 520.7,532.0 520.7,533.5 520.7,534.9 520.7,536.4 520.7,537.9 520.7,539.3 520.7,540.8 520.7,542.3 520.7,543.7 520.7,545.2 520.7,546.7 520.7,548.1 520.7,549.6 520.7,551.1 520.7,552.5 520.7,554.0 520.7,555.5 520.7,556.9 520.7,558.4 520.7,559.9 520.7,561.3 520.7,562.8 520.7,564.3 520.7,565.7 520.7,567.2 520.7,568.7 520.7,570.1 520.7,571.6 520.7,573.1 520.7,574.5 520.7,576.0 520.7,577.5 520.7,578.9 520.7,580.4 520.7,581.9 520.7,583.3 520.7,584.8 520.7,586.3 520.7,587.7 520.7,589.2 520.7,590.7 520.7,592.1 520.7,593.6 520.7,595.1 520.7,596.5 520.7,598.0 520.7,599.5 520.7,600.9 520.7,602.4 519.2,602.4 517.8,602.4 516.3,602.4 514.8,602.4 513.4,602.4 511.9,602.4 510.4,602.4 509.0,602.4 507.5,602.4 506.0,602.4 504.5,602.4 503.1,602.4 501.6,602.4 500.1,602.4 498.7,602.4 497.2,602.4 495.7,602.4 494.3,602.4 492.8,602.4 491.3,602.4 489.9,602.4 488.4,602.4 486.9,602.4 485.5,602.4 484.0,602.4 482.5,602.4 481.0,602.4 479.6,602.4 478.1,602.4 476.6,602.4 475.2,602.4 473.7,602.4 472.2,602.4 470.8,602.4 469.3,602.4 467.8,602.4 466.4,602.4 464.9,602.4 463.4,602.4 462.0,602.4 460.5,602.4 459.0,602.4 457.6,602.4 456.1,602.4 454.6,602.4 453.1,602.4 451.7,602.4 450.2,602.4 448.7,602.4 447.3,602.4 445.8,602.4 444.3,602.4 442.9,602.4 441.4,602.4 439.9,602.4 438.5,602.4 437.0,602.4 435.5,602.4 434.1,602.4 432.6,602.4 431.1,602.4 429.6,602.4 428.2,602.4 426.7,602.4 425.2,602.4 423.8,602.4 422.3,602.4 420.8,602.4 419.4,602.4 417.9,602.4 416.4,602.4 415.0,602.4 413.5,602.4 412.0,602.4 410.6,602.4 409.1,602.4 407.6,602.4 406.2,602.4 404.7,602.4 403.2,602.4 401.7,602.4 400.3,602.4 398.8,602.4 397.3,602.4 395.9,602.4 394.4,602.4 392.9,602.4 391.5,602.4 390.0,602.4 388.5,602.4 387.1,602.4 385.6,602.4 384.1,602.4 382.7,602.4 381.2,602.4 379.7,602.4 378.2,602.4 376.8,602.4 375.3,602.4 373.8,602.4 372.4,602.4 370.9,602.4 369.4,602.4 368.0,602.4 366.5,602.4 365.0,602.4 363.6,602.4 362.1,602.4 360.6,602.4 359.2,602.4 357.7,602.4 356.2,602.4 354.8,602.4 353.3,602.4 351.8,602.4 350.3,602.4 348.9,602.4 347.4,602.4 345.9,602.4 344.5,602.4 343.0,602.4 341.5,602.4 340.1,602.4 338.6,602.4 337.1,602.4 335.7,602.4 334.2,602.4 332.7,602.4 331.3,602.4 329.8,602.4 328.3,600.9 327.4,599.5 326.3,598.0 325.4,596.7 324.1,595.1 322.9,593.6 321.7,592.1 320.5,590.7 319.5,589.6 318.0,587.9 316.6,586.3 315.2,584.8 313.9,583.3 312.6,581.9 311.2,580.4 309.9,578.9 308.5,577.5 307.2,576.0 306.3,575.0 304.8,573.3 303.4,571.7 302.0,570.1 300.8,568.7 299.5,567.2 298.3,565.7 297.5,564.8 296.0,563.0 294.7,561.3 293.6,559.9 292.4,558.4 291.6,557.3 290.2,555.5 289.2,554.0 288.1,552.5 287.2,551.2 286.1,549.6 285.1,548.1 284.3,546.9 283.2,545.2 282.3,543.7 281.4,542.3 280.5,540.8 279.9,539.8 278.8,537.9 277.9,536.4 277.1,534.9 276.3,533.5 275.6,532.0 274.8,530.5 274.1,529.1 273.3,527.6 272.6,526.1 272.0,524.7 271.3,523.2 270.6,521.7 270.0,520.3 269.4,518.8 268.8,517.3 268.2,515.9 267.6,514.4 267.1,512.9 266.6,511.7 266.0,510.0 265.5,508.5 265.0,507.1 264.6,505.6 264.1,504.1 263.7,502.7 263.3,501.2 262.9,499.7 262.5,498.3 262.2,496.9 261.9,495.3 261.6,493.9 261.3,492.4 261.0,490.9 260.8,489.4 260.6,488.0 260.5,486.5 260.4,485.0 260.3,483.6 260.3,482.1 260.4,480.6 260.5,479.2 260.7,477.7 261.0,476.2 261.4,474.8 262.1,473.3 263.0,471.8 264.2,470.4 265.2,469.5 266.6,468.6 268.1,467.8 269.6,467.2 271.0,466.8 272.5,466.4 274.0,466.1 275.5,465.8 276.9,465.6 278.4,465.4 279.9,465.2 281.3,465.1 282.8,464.9 284.3,464.8 285.7,464.6 287.2,464.5 288.7,464.4 290.1,464.3 291.6,464.2 293.1,464.1 294.5,463.9 296.0,463.8 297.5,463.7 298.9,463.6 300.4,463.4 301.9,463.3 303.4,463.1 304.8,463.0 306.3,462.8 307.8,462.6 309.2,462.4 310.7,462.3 312.2,462.1 313.6,461.8 315.1,461.6 316.6,461.4 318.0,461.2 319.5,460.9 321.0,460.7 322.4,460.4 323.8,460.1 325.4,459.8 326.8,459.5 328.3,459.2 329.8,458.9 331.3,458.5 332.7,458.2 334.2,457.8 335.7,457.4 337.1,457.0 338.6,456.6 340.1,456.2 341.5,455.8 343.0,455.4 344.5,454.9 345.9,454.4 347.4,454.0 348.9,453.5 350.3,453.0 351.8,452.5 353.3,451.9 354.8,451.4 356.2,450.8 357.7,450.3 358.8,449.8 360.6,449.1 362.1,448.5 363.6,447.9 365.0,447.3 366.5,446.7 368.0,446.0 369.3,445.4 370.9,444.7 372.4,444.1 373.8,443.4 375.3,442.7 376.8,442.0 378.2,441.3 379.7,440.6 381.2,439.9 382.7,439.2 384.1,438.5 385.6,437.8 387.1,437.1 388.5,436.3 390.0,435.6 391.5,434.9 392.9,434.2 394.4,433.5 395.9,432.7 397.3,432.0 398.8,431.3 399.9,430.8 401.7,429.9 403.0,429.3 404.7,428.5 406.1,427.8 407.6,427.2 409.1,426.5 410.6,425.8 412.0,425.2 413.5,424.6 415.0,423.9 416.2,423.4 417.9,422.7 419.4,422.2 420.8,421.6 422.3,421.0 423.7,420.5 425.2,419.9 426.7,419.4 427.9,419.0 429.6,418.5 431.1,418.0 432.5,417.6 434.1,417.1 435.5,416.7 437.0,416.3 438.5,415.9 439.9,415.6 441.4,415.2 442.9,414.9 444.2,414.6 445.8,414.3 447.3,414.1 448.7,413.8 450.2,413.6 451.7,413.4 453.1,413.2ZM81.6,518.8 82.8,520.3 83.6,521.7 84.5,523.2 85.5,524.7 86.4,526.1 87.4,527.6 88.5,529.1 89.6,530.5 90.4,531.7 91.8,533.5 93.0,534.9 94.2,536.4 95.5,537.9 96.3,538.8 97.8,540.4 99.2,541.9 100.7,543.5 102.2,544.9 103.6,546.3 105.1,547.7 106.6,549.1 108.0,550.4 109.5,551.7 110.5,552.5 112.2,554.0 113.9,555.4 115.4,556.6 116.8,557.7 118.3,558.9 119.6,559.9 121.3,561.1 122.7,562.1 124.2,563.2 125.7,564.2 127.1,565.3 128.6,566.3 129.9,567.2 131.5,568.3 133.0,569.2 134.4,570.1 135.9,571.1 137.4,572.1 138.9,573.0 140.3,573.9 141.4,574.5 143.3,575.7 144.7,576.6 146.2,577.4 147.7,578.3 148.8,578.9 150.6,580.0 152.1,580.8 153.6,581.6 155.0,582.4 156.5,583.2 158.0,584.0 159.4,584.8 160.9,585.6 162.2,586.3 163.8,587.1 165.0,587.7 166.8,588.6 167.9,589.2 169.7,590.1 170.8,590.7 172.7,591.6 173.8,592.1 175.6,593.0 176.9,593.6 178.5,594.4 180.0,595.1 181.5,595.7 182.9,596.4 184.4,597.1 185.9,597.7 187.3,598.4 188.8,599.0 190.3,599.7 191.7,600.3 193.2,600.9 194.7,601.5 196.1,602.1 194.7,602.4 193.2,602.4 191.7,602.4 190.3,602.4 188.8,602.4 187.3,602.4 185.9,602.4 184.4,602.4 182.9,602.4 181.5,602.4 180.0,602.4 178.5,602.4 177.1,602.4 175.6,602.4 174.1,602.4 172.7,602.4 171.2,602.4 169.7,602.4 168.2,602.4 166.8,602.4 165.3,602.4 163.8,602.4 162.4,602.4 160.9,602.4 159.4,602.4 158.0,602.4 156.5,602.4 155.0,602.4 153.6,602.4 152.1,602.4 150.6,602.4 149.2,602.4 147.7,602.4 146.2,602.4 144.7,602.4 143.3,602.4 141.8,602.4 140.3,602.4 138.9,602.4 137.4,602.4 135.9,602.4 134.5,602.4 133.0,602.4 131.5,602.4 130.1,602.4 128.6,602.4 127.1,602.4 125.7,602.4 124.2,602.4 122.7,602.4 121.3,602.4 119.8,602.4 118.3,602.4 116.8,602.4 115.4,602.4 113.9,602.4 112.4,602.4 111.0,602.4 109.5,602.4 108.0,602.4 106.6,602.4 105.1,602.4 103.6,602.4 102.2,602.4 100.7,602.4 99.2,602.4 97.8,602.4 96.3,602.4 94.8,602.4 93.3,602.4 91.9,602.4 90.4,602.4 88.9,602.4 87.5,602.4 86.0,602.4 84.5,602.4 83.1,602.4 81.6,602.4 81.6,600.9 81.6,599.5 81.6,598.0 81.6,596.5 81.6,595.1 81.6,593.6 81.6,592.1 81.6,590.7 81.6,589.2 81.6,587.7 81.6,586.3 81.6,584.8 81.6,583.3 81.6,581.9 81.6,580.4 81.6,578.9 81.6,577.5 81.6,576.0 81.6,574.5 81.6,573.1 81.6,571.6 81.6,570.1 81.6,568.7 81.6,567.2 81.6,565.7 81.6,564.3 81.6,562.8 81.6,561.3 81.6,559.9 81.6,558.4 81.6,556.9 81.6,555.5 81.6,554.0 81.6,552.5 81.6,551.1 81.6,549.6 81.6,548.1 81.6,546.7 81.6,545.2 81.6,543.7 81.6,542.3 81.6,540.8 81.6,539.3 81.6,537.9 81.6,536.4 81.6,534.9 81.6,533.5 81.6,532.0 81.6,530.5 81.6,529.1 81.6,527.6 81.6,526.1 81.6,524.7 81.6,523.2 81.6,521.7 81.6,520.3 81.6,518.8Z"/>
<path fill="#b52f8c" fill-rule="evenodd" d="M81.6,163.8 83.1,163.8 84.5,163.8 86.0,163.8 87.5,163.8 88.9,163.8 90.4,163.8 91.9,163.8 93.3,163.8 94.8,163.8 96.3,163.8 97.8,163.8 99.2,163.8 100.7,163.8 102.2,163.8 103.6,163.8 105.1,163.8 106.6,163.8 108.0,163.8 109.5,163.8 111.0,163.8 112.4,163.8 113.9,163.8 115.4,163.8 116.8,163.8 118.3,163.8 119.8,163.8 121.3,163.8 122.7,163.8 124.2,163.8 125.7,163.8 127.1,163.8 128.6,163.8 130.1,163.8 131.5,163.8 133.0,163.8 134.5,163.8 135.9,163.8 137.4,163.8 138.9,163.8 140.3,163.8 141.8,163.8 143.3,163.8 144.7,163.8 146.2,163.8 147.7,163.8 149.2,163.8 150.6,163.8 152.1,163.8 153.6,163.8 155.0,163.8 156.5,163.8 158.0,163.8 159.4,163.8 160.9,163.8 162.4,163.8 163.8,163.8 165.3,163.8 166.8,163.8 168.2,163.8 169.7,163.8 171.2,163.8 172.7,163.8 174.1,163.8 175.6,163.8 177.1,163.8 178.5,163.8 180.0,163.8 181.5,164.1 182.9,164.8 184.4,165.4 185.9,166.1 187.3,166.7 188.8,167.4 190.3,168.0 191.7,168.6 193.2,169.3 194.7,169.9 196.1,170.5 197.6,171.1 199.1,171.7 200.6,172.3 202.0,172.9 203.5,173.4 205.0,174.0 206.4,174.6 207.9,175.1 209.4,175.7 210.8,176.2 212.3,176.8 213.8,177.3 215.2,177.8 216.7,178.3 218.2,178.8 219.6,179.3 221.1,179.8 222.6,180.3 224.1,180.8 225.5,181.3 227.0,181.7 228.5,182.2 229.9,182.6 231.4,183.1 232.9,183.5 234.3,183.9 235.7,184.3 237.3,184.8 238.7,185.2 240.2,185.6 241.7,186.0 243.1,186.4 244.6,186.7 246.1,187.1 247.5,187.5 249.0,187.8 250.5,188.2 252.0,188.5 253.4,188.9 254.9,189.2 256.4,189.5 257.8,189.8 259.3,190.1 260.8,190.4 262.2,190.7 263.7,191.0 265.2,191.3 266.6,191.6 268.1,191.9 269.6,192.2 271.0,192.4 272.5,192.7 274.0,192.9 275.5,193.2 276.9,193.4 278.4,193.7 279.9,193.9 281.3,194.1 282.8,194.4 284.3,194.6 285.7,194.8 287.2,195.0 288.7,195.2 290.1,195.4 291.6,195.6 293.1,195.8 294.5,196.0 296.0,196.2 297.5,196.4 298.9,196.5 300.4,196.7 301.9,196.9 303.4,197.1 304.8,197.2 306.3,197.4 307.6,197.5 309.2,197.7 310.7,197.9 312.2,198.0 313.6,198.1 315.1,198.3 316.6,198.4 318.0,198.6 319.5,198.7 321.0,198.8 322.4,198.9 323.9,199.1 325.4,199.2 326.8,199.3 328.3,199.4 329.8,199.5 331.3,199.6 332.7,199.7 334.2,199.8 335.7,199.8 337.1,199.9 338.6,200.0 340.1,200.1 341.5,200.1 343.0,200.2 344.5,200.2 345.9,200.2 347.4,200.2 348.9,200.2 350.3,200.2 351.8,200.2 353.3,200.1 354.8,200.1 356.2,200.0 357.7,199.8 359.2,199.7 360.6,199.4 362.1,199.2 363.6,198.8 365.0,198.4 366.5,197.8 368.0,197.0 369.3,196.1 370.7,194.6 371.5,193.1 372.0,191.7 372.2,190.2 372.2,188.7 372.0,187.3 371.7,185.8 371.2,184.3 370.7,182.9 370.0,181.4 369.4,180.3 368.4,178.5 367.5,177.0 366.5,175.6 365.4,174.1 364.2,172.6 363.0,171.1 362.1,170.1 360.6,168.4 359.2,166.9 357.7,165.4 356.2,164.0 357.7,163.8 359.2,163.8 360.6,163.8 362.1,163.8 363.6,163.8 365.0,163.8 366.5,163.8 368.0,163.8 369.4,163.8 370.9,163.8 372.4,163.8 373.8,163.8 375.3,163.8 376.8,163.8 378.2,163.8 379.7,163.8 381.2,163.8 382.7,163.8 384.1,163.8 385.6,163.8 387.1,163.8 388.5,163.8 390.0,163.8 391.5,163.8 392.9,163.8 394.4,163.8 395.9,163.8 397.3,163.8 398.8,163.8 400.3,163.8 401.7,163.8 403.2,163.8 404.7,163.8 406.2,163.8 407.6,163.8 409.1,163.8 410.6,163.8 412.0,163.8 413.5,163.8 415.0,163.8 416.4,163.8 417.9,163.8 419.4,163.8 420.8,163.8 422.3,163.8 423.8,163.8 425.2,163.8 426.7,163.8 428.2,163.8 429.6,163.8 431.1,163.8 432.6,163.8 434.1,163.8 435.5,163.8 437.0,163.8 438.5,163.8 439.9,163.8 441.4,163.8 442.9,163.8 444.3,163.8 445.8,163.8 447.3,163.8 448.7,163.8 450.2,163.8 451.7,163.8 453.1,163.8 454.6,163.8 456.1,163.8 457.6,163.8 459.0,163.8 460.5,163.8 462.0,163.8 463.4,163.8 464.9,163.8 466.4,163.8 467.8,163.8 469.3,163.8 470.8,163.8 472.2,163.8 473.7,163.8 475.2,163.8 476.6,163.8 478.1,163.8 479.6,163.8 481.0,163.8 482.5,163.8 484.0,163.8 485.5,163.8 486.9,163.8 488.4,163.8 489.9,163.8 491.3,163.8 492.8,163.8 494.3,163.8 495.7,163.8 497.2,163.8 498.7,163.8 500.1,163.8 501.6,163.8 503.1,163.8 504.5,163.8 506.0,163.8 507.5,163.8 509.0,163.8 510.4,163.8 511.9,163.8 513.4,163.8 514.8,163.8 516.3,163.8 517.8,163.8 519.2,163.8 520.7,163.8 520.7,165.3 520.7,166.7 520.7,168.2 520.7,169.7 520.7,171.1 520.7,172.6 520.7,174.1 520.7,175.5 520.7,177.0 520.7,178.5 520.7,179.9 520.7,181.4 520.7,182.9 520.7,184.3 520.7,185.8 520.7,187.3 520.7,188.7 520.7,190.2 520.7,191.7 520.7,193.1 520.7,194.6 520.7,196.1 520.7,197.5 520.7,199.0 520.7,200.5 520.7,201.9 520.7,203.4 520.7,204.9 520.7,206.3 520.7,207.8 520.7,209.3 520.7,210.7 520.7,212.2 520.7,213.7 520.7,215.1 520.7,216.6 520.7,218.1 520.7,219.5 520.7,221.0 520.7,222.5 520.7,223.9 520.7,225.4 520.7,226.9 520.7,228.3 520.7,229.8 520.7,231.3 520.7,232.7 520.7,234.2 520.7,235.7 520.7,237.1 520.7,238.6 520.7,240.1 520.7,241.5 520.7,243.0 520.7,244.5 520.7,245.9 520.7,247.4 520.7,248.9 520.7,250.3 520.7,251.8 520.7,253.3 520.7,254.7 520.7,256.2 520.7,257.7 520.7,259.1 520.7,260.6 520.7,262.1 520.7,263.5 520.7,265.0 520.7,266.5 520.7,267.9 520.7,269.4 520.7,270.9 520.7,272.3 520.7,273.8 519.2,273.0 518.1,272.3 516.3,271.3 514.8,270.5 513.4,269.6 511.9,268.8 510.4,267.9 509.0,267.1 507.9,266.5 506.0,265.4 504.5,264.6 503.1,263.8 501.6,262.9 500.1,262.1 498.7,261.3 497.4,260.6 495.7,259.7 494.3,258.9 492.8,258.1 491.3,257.3 489.9,256.5 488.4,255.7 486.9,255.0 485.5,254.2 484.0,253.5 482.5,252.7 481.0,252.0 479.6,251.3 478.1,250.6 476.6,249.9 475.2,249.2 473.7,248.5 472.2,247.8 470.8,247.2 469.3,246.5 468.0,245.9 466.4,245.2 464.9,244.6 463.4,244.0 462.0,243.4 460.5,242.9 459.0,242.3 457.6,241.7 456.1,241.2 454.6,240.7 453.1,240.2 451.7,239.7 450.2,239.2 448.7,238.8 447.3,238.3 445.8,237.9 444.3,237.5 442.9,237.1 441.4,236.8 439.9,236.5 438.5,236.2 437.0,235.9 435.8,235.7 434.1,235.4 432.6,235.2 431.1,235.1 429.6,235.0 428.2,235.0 426.7,235.0 425.2,235.1 423.8,235.2 422.3,235.5 420.8,235.8 419.4,236.3 417.9,237.0 416.4,237.9 415.4,238.6 413.8,240.1 412.6,241.5 411.6,243.0 410.7,244.5 410.0,245.9 409.3,247.4 408.7,248.9 408.1,250.3 407.6,251.8 407.1,253.3 406.7,254.7 406.2,256.2 405.8,257.7 405.3,259.1 404.9,260.6 404.5,262.1 404.1,263.5 403.7,265.0 403.3,266.5 402.8,267.9 402.4,269.4 402.0,270.9 401.6,272.3 401.1,273.8 400.7,275.3 400.3,276.7 399.8,278.2 399.3,279.7 398.9,281.2 398.4,282.6 397.9,284.1 397.4,285.6 396.9,287.0 396.4,288.5 395.9,289.8 395.3,291.4 394.7,292.9 394.1,294.4 393.5,295.8 392.9,297.3 392.3,298.8 391.7,300.2 391.0,301.7 390.3,303.2 389.6,304.6 388.9,306.1 388.2,307.6 387.4,309.0 386.7,310.5 385.9,312.0 385.1,313.4 384.2,314.9 383.3,316.4 382.7,317.5 381.5,319.3 380.6,320.8 379.7,322.1 378.6,323.7 377.6,325.2 376.8,326.2 375.4,328.1 374.2,329.6 373.0,331.0 371.8,332.5 370.9,333.5 369.4,335.2 368.0,336.8 366.5,338.3 365.0,339.8 363.6,341.2 362.1,342.5 360.6,343.9 359.2,345.1 357.7,346.4 356.7,347.2 354.9,348.6 353.3,349.8 351.8,350.9 350.3,352.0 348.9,353.0 347.4,354.0 345.9,355.0 344.5,355.9 343.0,356.8 341.5,357.7 340.1,358.6 338.6,359.4 337.1,360.2 335.7,361.1 334.2,361.8 332.7,362.6 331.4,363.3 329.8,364.1 328.5,364.8 326.8,365.6 325.4,366.2 323.9,366.9 322.4,367.6 321.0,368.3 319.5,368.9 318.0,369.6 316.6,370.2 315.1,370.8 313.6,371.4 312.2,372.0 310.7,372.7 309.2,373.2 307.8,373.8 306.3,374.4 304.8,375.0 303.4,375.6 301.9,376.1 300.4,376.7 298.9,377.2 297.5,377.8 296.0,378.3 294.5,378.9 293.1,379.4 291.6,380.0 290.1,380.5 289.0,380.9 287.2,381.6 285.7,382.1 284.3,382.6 282.8,383.1 281.3,383.7 279.9,384.2 278.4,384.7 276.9,385.2 275.5,385.8 274.0,386.3 272.7,386.8 271.0,387.4 269.6,387.9 268.1,388.4 266.6,388.9 265.2,389.5 263.7,390.0 262.2,390.5 260.8,391.1 259.3,391.6 257.8,392.1 256.4,392.6 254.9,393.2 253.4,393.7 252.2,394.1 250.5,394.7 249.0,395.2 247.5,395.7 246.1,396.2 244.6,396.7 243.1,397.2 241.7,397.7 240.2,398.1 238.9,398.5 237.3,399.0 235.8,399.3 234.3,399.7 233.1,400.0 231.4,400.3 229.9,400.6 228.5,400.8 227.0,400.9 225.5,401.0 224.1,401.1 222.6,401.1 221.1,401.0 219.6,400.8 218.2,400.6 216.7,400.3 215.4,400.0 213.8,399.5 212.3,398.9 210.8,398.3 209.4,397.5 207.9,396.7 206.4,395.7 205.0,394.7 203.5,393.5 202.5,392.6 200.9,391.2 199.5,389.7 198.2,388.2 196.9,386.8 196.1,385.8 194.7,383.8 193.6,382.4 192.6,380.9 191.7,379.5 190.8,378.0 189.9,376.5 189.0,375.0 188.2,373.6 187.3,372.1 186.5,370.6 185.9,369.5 184.9,367.7 184.1,366.2 183.3,364.8 182.5,363.3 181.7,361.8 180.9,360.4 180.1,358.9 179.3,357.4 178.5,356.0 177.7,354.5 177.1,353.4 176.0,351.6 175.2,350.1 174.3,348.6 173.4,347.2 172.7,345.9 171.6,344.2 170.7,342.8 169.7,341.3 168.7,339.8 167.7,338.4 166.8,337.0 165.6,335.4 164.6,334.0 163.4,332.5 162.4,331.1 161.1,329.6 159.9,328.1 158.6,326.6 157.3,325.2 156.5,324.2 155.0,322.7 153.6,321.1 152.1,319.7 150.6,318.3 149.2,316.9 147.7,315.6 146.2,314.3 145.2,313.4 143.5,312.0 141.8,310.6 140.3,309.5 138.9,308.4 137.8,307.6 135.9,306.2 134.5,305.2 133.0,304.1 131.5,303.2 130.1,302.2 128.6,301.2 127.1,300.3 125.7,299.3 124.2,298.4 122.7,297.5 121.3,296.6 119.9,295.8 118.3,294.9 116.8,294.0 115.4,293.2 113.9,292.3 112.4,291.5 111.0,290.6 109.8,290.0 108.0,288.9 106.6,288.1 105.1,287.3 103.6,286.4 102.2,285.6 100.7,284.8 99.5,284.1 97.8,283.1 96.3,282.3 94.8,281.4 93.3,280.6 91.9,279.7 90.4,278.9 89.2,278.2 87.5,277.2 86.0,276.4 84.5,275.5 83.1,274.7 81.6,273.8 81.6,272.3 81.6,270.9 81.6,269.4 81.6,267.9 81.6,266.5 81.6,265.0 81.6,263.5 81.6,262.1 81.6,260.6 81.6,259.1 81.6,257.7 81.6,256.2 81.6,254.7 81.6,253.3 81.6,251.8 81.6,250.3 81.6,248.9 81.6,247.4 81.6,245.9 81.6,244.5 81.6,243.0 81.6,241.5 81.6,240.1 81.6,238.6 81.6,237.1 81.6,235.7 81.6,234.2 81.6,232.7 81.6,231.3 81.6,229.8 81.6,228.3 81.6,226.9 81.6,225.4 81.6,223.9 81.6,222.5 81.6,221.0 81.6,219.5 81.6,218.1 81.6,216.6 81.6,215.1 81.6,213.7 81.6,212.2 81.6,210.7 81.6,209.3 81.6,207.8 81.6,206.3 81.6,204.9 81.6,203.4 81.6,201.9 81.6,200.5 81.6,199.0 81.6,197.5 81.6,196.1 81.6,194.6 81.6,193.1 81.6,191.7 81.6,190.2 81.6,188.7 81.6,187.3 81.6,185.8 81.6,184.3 81.6,182.9 81.6,181.4 81.6,179.9 81.6,178.5 81.6,177.0 81.6,175.5 81.6,174.1 81.6,172.6 81.6,171.1 81.6,169.7 81.6,168.2 81.6,166.7 81.6,165.3 81.6,163.8ZM448.5,427.8 450.2,427.8 451.7,427.9 453.1,428.0 454.6,428.1 456.1,428.3 457.6,428.5 459.0,428.8 460.5,429.1 462.0,429.5 463.4,429.9 464.9,430.4 466.4,431.0 467.8,431.6 469.0,432.2 470.8,433.2 472.2,434.1 473.7,435.2 475.2,436.4 476.6,437.7 478.1,439.1 479.6,440.8 480.9,442.5 482.0,444.0 482.9,445.4 483.8,446.9 484.7,448.4 485.5,449.8 486.2,451.3 486.9,452.8 487.5,454.2 488.1,455.7 488.7,457.2 489.3,458.6 489.8,460.1 490.3,461.6 490.8,463.0 491.3,464.5 491.8,466.0 492.3,467.4 492.7,468.9 493.2,470.4 493.6,471.8 494.0,473.3 494.5,474.8 494.9,476.2 495.3,477.7 495.7,479.2 496.2,480.6 496.6,482.1 497.0,483.6 497.4,485.0 497.9,486.5 498.3,488.0 498.8,489.4 499.2,490.9 499.7,492.4 500.1,493.8 500.7,495.3 501.1,496.8 501.6,498.1 502.2,499.7 502.7,501.2 503.3,502.7 503.8,504.1 504.4,505.6 505.0,507.1 505.6,508.5 506.2,510.0 506.9,511.5 507.5,512.7 508.3,514.4 509.0,515.8 509.7,517.3 510.4,518.6 511.3,520.3 511.9,521.3 513.0,523.2 513.9,524.7 514.8,526.1 515.7,527.6 516.7,529.1 517.7,530.5 518.7,532.0 519.8,533.5 520.7,534.6 520.7,536.4 520.7,537.9 520.7,539.3 520.7,540.8 520.7,542.3 520.7,543.7 520.7,545.2 520.7,546.7 520.7,548.1 520.7,549.6 520.7,551.1 520.7,552.5 520.7,554.0 520.7,555.5 520.7,556.9 520.7,558.4 520.7,559.9 520.7,561.3 520.7,562.8 520.7,564.3 520.7,565.7 520.7,567.2 520.7,568.7 520.7,570.1 520.7,571.6 520.7,573.1 520.7,574.5 520.7,576.0 520.7,577.5 520.7,578.9 520.7,580.4 520.7,581.9 520.7,583.3 520.7,584.8 520.7,586.3 520.7,587.7 520.7,589.2 520.7,590.7 520.7,592.1 520.7,593.6 520.7,595.1 520.7,596.5 520.7,598.0 520.7,599.5 520.7,600.9 520.7,602.4 519.2,602.4 517.8,602.4 516.3,602.4 514.8,602.4 513.4,602.4 511.9,602.4 510.4,602.4 509.0,602.4 507.5,602.4 506.0,602.4 504.5,602.4 503.1,602.4 501.6,602.4 500.1,602.4 498.7,602.4 497.2,602.4 495.7,602.4 494.3,602.4 492.8,602.4 491.3,602.4 489.9,602.4 488.4,602.4 486.9,602.4 485.5,602.4 484.0,602.4 482.5,602.4 481.0,602.4 479.6,602.4 478.1,602.4 476.6,602.4 475.2,602.4 473.7,602.4 472.2,602.4 470.8,602.4 469.3,602.4 467.8,602.4 466.4,602.4 464.9,602.4 463.4,602.4 462.0,602.4 460.5,602.4 459.0,602.4 457.6,602.4 456.1,602.4 454.6,602.4 453.1,602.4 451.7,602.4 450.2,602.4 448.7,602.4 447.3,602.4 445.8,602.4 444.3,602.4 442.9,602.4 441.4,602.4 439.9,602.4 438.5,602.4 437.0,602.4 435.5,602.4 434.1,602.4 432.6,602.4 431.1,602.4 429.6,602.4 428.2,602.4 426.7,602.4 425.2,602.4 423.8,602.4 422.3,602.4 420.8,602.4 419.4,602.4 417.9,602.4 416.4,602.4 415.0,602.4 413.5,602.4 412.0,602.4 410.6,602.4 409.1,602.4 407.6,602.4 406.2,602.4 404.7,602.4 403.2,602.4 401.7,602.4 400.3,602.4 398.8,602.4 397.3,602.4 395.9,602.4 394.4,602.4 392.9,602.4 391.5,602.4 390.0,602.4 388.5,602.4 387.1,602.4 385.6,602.4 384.1,602.4 382.7,602.4 381.2,602.4 379.7,602.4 378.2,602.4 376.8,602.4 375.3,602.4 373.8,602.4 372.4,602.4 370.9,602.4 369.4,602.4 368.0,602.4 366.5,602.4 365.0,602.4 363.6,602.4 362.1,602.4 360.6,602.4 359.2,602.4 357.7,602.4 356.2,602.4 354.8,601.7 353.3,600.3 352.4,599.5 350.7,598.0 349.0,596.5 347.4,595.1 345.9,593.9 344.5,592.7 343.0,591.5 342.1,590.7 340.3,589.2 338.6,587.8 337.1,586.6 335.7,585.4 334.2,584.2 333.1,583.3 331.3,581.9 329.8,580.6 328.3,579.4 326.8,578.1 325.4,576.9 324.4,576.0 322.7,574.5 321.1,573.1 319.5,571.7 318.0,570.3 316.6,568.9 315.1,567.5 313.6,566.1 312.2,564.7 310.7,563.2 309.2,561.6 307.8,560.1 306.3,558.4 304.9,556.9 303.7,555.5 302.5,554.0 301.3,552.5 300.4,551.5 299.0,549.6 297.9,548.1 296.8,546.7 296.0,545.5 294.8,543.7 293.8,542.3 293.1,541.1 292.0,539.3 291.1,537.9 290.2,536.4 289.4,534.9 288.7,533.5 287.9,532.0 287.2,530.6 286.5,529.1 285.8,527.6 285.2,526.1 284.6,524.7 284.0,523.2 283.4,521.7 282.9,520.3 282.5,518.8 282.0,517.3 281.6,515.9 281.2,514.4 280.9,512.9 280.6,511.5 280.4,510.0 280.1,508.5 280.0,507.1 279.9,505.6 279.8,504.1 279.8,502.7 279.9,501.2 280.0,499.7 280.2,498.3 280.4,496.8 280.8,495.3 281.3,493.9 281.9,492.4 282.6,490.9 283.5,489.4 284.3,488.3 285.7,486.6 287.2,485.1 288.7,483.9 290.1,482.8 291.2,482.1 293.1,481.0 294.5,480.3 296.0,479.6 297.5,478.9 298.9,478.3 300.4,477.7 301.9,477.2 303.4,476.6 304.8,476.1 306.3,475.7 307.8,475.2 309.1,474.8 310.7,474.3 312.2,473.9 313.6,473.4 315.1,473.0 316.6,472.6 318.0,472.2 319.2,471.8 321.0,471.4 322.4,470.9 323.9,470.5 325.4,470.1 326.8,469.7 328.3,469.3 329.6,468.9 331.3,468.4 332.7,468.0 334.2,467.5 335.7,467.1 337.1,466.6 338.6,466.2 340.1,465.7 341.5,465.2 343.0,464.8 344.5,464.3 345.9,463.8 347.4,463.3 348.9,462.8 350.3,462.2 351.8,461.7 353.3,461.2 354.8,460.6 356.1,460.1 357.7,459.5 359.2,458.9 360.6,458.4 362.1,457.8 363.6,457.2 365.0,456.6 366.5,456.0 368.0,455.4 369.4,454.7 370.6,454.2 372.4,453.5 373.8,452.8 375.3,452.2 376.8,451.5 378.2,450.9 379.7,450.2 381.2,449.6 382.7,448.9 383.8,448.4 385.6,447.6 387.0,446.9 388.5,446.2 390.0,445.6 391.5,444.9 392.9,444.2 394.4,443.6 395.9,442.9 397.3,442.2 398.8,441.6 400.0,441.0 401.7,440.3 403.2,439.7 404.7,439.0 406.2,438.4 407.6,437.8 409.1,437.2 410.6,436.7 412.0,436.1 413.5,435.5 415.0,435.0 416.4,434.4 417.9,433.9 419.4,433.4 420.8,432.9 422.3,432.5 423.8,432.0 425.2,431.6 426.7,431.2 428.2,430.8 429.6,430.4 431.1,430.1 432.6,429.7 434.1,429.4 435.5,429.1 437.0,428.9 438.5,428.7 439.9,428.5 441.4,428.3 442.9,428.1 444.3,428.0 445.8,427.9 447.3,427.9 448.5,427.8ZM81.6,534.9 83.0,536.4 84.2,537.9 85.4,539.3 86.7,540.8 88.0,542.3 88.9,543.3 90.4,544.8 91.9,546.3 93.3,547.8 94.8,549.2 96.3,550.6 97.8,551.9 99.2,553.2 100.7,554.5 101.8,555.5 103.6,556.9 105.1,558.2 106.6,559.4 108.0,560.5 109.1,561.3 111.0,562.7 112.4,563.8 113.9,564.9 115.0,565.7 116.8,567.0 118.3,568.0 119.8,569.0 121.3,570.0 122.7,571.0 124.2,572.0 125.7,572.9 127.1,573.9 128.6,574.8 130.1,575.8 131.5,576.7 132.8,577.5 134.5,578.5 135.9,579.4 137.4,580.2 138.9,581.1 140.2,581.9 141.8,582.8 143.3,583.7 144.7,584.5 146.2,585.3 147.7,586.1 149.2,586.9 150.6,587.7 152.1,588.6 153.3,589.2 155.0,590.1 156.5,590.9 158.0,591.7 159.4,592.4 160.9,593.2 162.4,594.0 163.8,594.7 165.3,595.4 166.8,596.2 168.2,596.9 169.7,597.6 171.2,598.3 172.7,599.1 174.1,599.8 175.6,600.5 177.1,601.1 178.5,601.8 179.8,602.4 178.5,602.4 177.1,602.4 175.6,602.4 174.1,602.4 172.7,602.4 171.2,602.4 169.7,602.4 168.2,602.4 166.8,602.4 165.3,602.4 163.8,602.4 162.4,602.4 160.9,602.4 159.4,602.4 158.0,602.4 156.5,602.4 155.0,602.4 153.6,602.4 152.1,602.4 150.6,602.4 149.2,602.4 147.7,602.4 146.2,602.4 144.7,602.4 143.3,602.4 141.8,602.4 140.3,602.4 138.9,602.4 137.4,602.4 135.9,602.4 134.5,602.4 133.0,602.4 131.5,602.4 130.1,602.4 128.6,602.4 127.1,602.4 125.7,602.4 124.2,602.4 122.7,602.4 121.3,602.4 119.8,602.4 118.3,602.4 116.8,602.4 115.4,602.4 113.9,602.4 112.4,602.4 111.0,602.4 109.5,602.4 108.0,602.4 106.6,602.4 105.1,602.4 103.6,602.4 102.2,602.4 100.7,602.4 99.2,602.4 97.8,602.4 96.3,602.4 94.8,602.4 93.3,602.4 91.9,602.4 90.4,602.4 88.9,602.4 87.5,602.4 86.0,602.4 84.5,602.4 83.1,602.4 81.6,602.4 81.6,600.9 81.6,599.5 81.6,598.0 81.6,596.5 81.6,595.1 81.6,593.6 81.6,592.1 81.6,590.7 81.6,589.2 81.6,587.7 81.6,586.3 81.6,584.8 81.6,583.3 81.6,581.9 81.6,580.4 81.6,578.9 81.6,577.5 81.6,576.0 81.6,574.5 81.6,573.1 81.6,571.6 81.6,570.1 81.6,568.7 81.6,567.2 81.6,565.7 81.6,564.3 81.6,562.8 81.6,561.3 81.6,559.9 81.6,558.4 81.6,556.9 81.6,555.5 81.6,554.0 81.6,552.5 81.6,551.1 81.6,549.6 81.6,548.1 81.6,546.7 81.6,545.2 81.6,543.7 81.6,542.3 81.6,540.8 81.6,539.3 81.6,537.9 81.6,536.4 81.6,534.9Z"/>
<path fill="#c43e7f" fill-rule="evenodd" d="M81.6,163.8 83.1,163.8 84.5,163.8 86.0,163.8 87.5,163.8 88.9,163.8 90.4,163.8 91.9,163.8 93.3,163.8 94.8,163.8 96.3,163.8 97.8,163.8 99.2,163.8 100.7,163.8 102.2,163.8 103.6,163.8 105.1,163.8 106.6,163.8 108.0,163.8 109.5,163.8 111.0,163.8 112.4,163.8 113.9,163.8 115.4,163.8 116.8,163.8 118.3,163.8 119.8,163.8 121.3,163.8 122.7,163.8 124.2,163.8 125.7,163.8 127.1,163.8 128.6,163.8 130.1,163.8 131.5,163.8 133.0,163.8 134.5,163.8 135.9,163.8 137.4,163.8 138.9,163.8 140.3,163.8 141.8,163.8 143.3,163.8 144.7,163.8 146.2,163.8 147.7,163.8 149.2,163.8 150.6,163.8 152.1,163.8 153.6,163.8 155.0,163.8 156.5,163.8 158.0,163.8 159.4,163.8 160.9,163.8 162.4,163.8 163.8,163.8 165.3,163.9 166.8,164.7 168.0,165.3 169.7,166.1 171.1,166.7 172.7,167.5 174.1,168.2 175.6,168.8 177.1,169.5 178.5,170.2 180.0,170.9 181.5,171.5 182.9,172.2 184.4,172.8 185.9,173.5 187.2,174.1 188.8,174.8 190.3,175.4 191.7,176.0 193.2,176.6 194.7,177.2 196.1,177.8 197.6,178.4 199.1,179.0 200.6,179.6 202.0,180.2 203.5,180.8 205.0,181.3 206.4,181.9 207.9,182.4 209.0,182.9 210.8,183.5 212.3,184.1 213.8,184.6 215.2,185.1 216.7,185.6 218.2,186.1 219.6,186.6 221.1,187.1 222.6,187.6 224.1,188.1 225.5,188.5 227.0,189.0 228.5,189.4 229.9,189.9 231.4,190.3 232.9,190.8 234.3,191.2 235.8,191.6 237.3,192.0 238.7,192.4 240.2,192.8 241.4,193.1 243.1,193.6 244.6,194.0 246.1,194.4 247.5,194.7 249.0,195.1 250.5,195.4 252.0,195.8 253.4,196.1 254.9,196.5 256.4,196.8 257.8,197.2 259.3,197.5 260.8,197.8 262.2,198.1 263.7,198.4 265.2,198.7 266.5,199.0 268.1,199.3 269.6,199.6 271.0,199.9 272.5,200.2 273.8,200.5 275.5,200.8 276.9,201.1 278.4,201.3 279.9,201.6 281.3,201.9 282.8,202.2 284.3,202.4 285.7,202.7 287.2,202.9 288.7,203.2 290.1,203.5 291.6,203.7 293.1,204.0 294.5,204.2 296.0,204.5 297.5,204.8 298.9,205.0 300.4,205.3 301.9,205.5 303.4,205.8 304.8,206.0 306.3,206.3 307.8,206.6 309.2,206.8 310.7,207.1 312.2,207.4 313.6,207.6 315.1,207.9 316.6,208.2 318.0,208.4 319.5,208.7 321.0,209.0 322.3,209.3 323.9,209.6 325.4,209.9 326.8,210.2 328.3,210.5 329.5,210.7 331.3,211.1 332.7,211.4 334.2,211.8 335.7,212.1 337.1,212.5 338.6,212.8 340.1,213.2 341.5,213.6 343.0,213.9 344.5,214.3 345.9,214.7 347.3,215.1 348.9,215.6 350.3,216.1 351.8,216.5 353.3,217.0 354.8,217.5 356.2,218.0 357.7,218.6 359.2,219.2 360.6,219.8 362.1,220.4 363.4,221.0 365.0,221.8 366.4,222.5 368.0,223.3 369.1,223.9 370.9,225.0 372.4,226.0 373.6,226.9 375.3,228.2 376.8,229.4 378.2,230.8 379.7,232.3 381.2,234.0 382.5,235.7 383.5,237.1 384.1,238.2 385.1,240.1 385.9,241.5 386.5,243.0 387.1,244.4 387.6,245.9 388.0,247.4 388.4,248.9 388.8,250.3 389.1,251.8 389.3,253.3 389.5,254.7 389.7,256.2 389.9,257.7 390.0,259.1 390.0,260.6 390.1,262.1 390.1,263.5 390.1,265.0 390.0,266.5 390.0,267.9 389.9,269.4 389.7,270.9 389.6,272.3 389.4,273.8 389.2,275.3 389.0,276.8 388.8,278.2 388.5,279.5 388.2,281.2 387.9,282.6 387.6,284.1 387.2,285.6 386.9,287.0 386.5,288.5 386.1,290.0 385.6,291.4 385.2,292.9 384.7,294.4 384.2,295.8 383.7,297.3 383.1,298.8 382.7,299.9 381.9,301.7 381.3,303.2 380.7,304.6 380.0,306.1 379.3,307.6 378.6,309.0 377.8,310.5 377.0,312.0 376.2,313.4 375.4,314.9 374.5,316.4 373.8,317.4 372.7,319.3 371.7,320.8 370.9,321.9 369.6,323.7 368.5,325.2 367.4,326.6 366.5,327.7 365.0,329.5 363.7,331.0 362.4,332.5 361.0,334.0 359.6,335.4 358.1,336.9 356.6,338.4 355.0,339.8 353.3,341.3 351.8,342.5 350.3,343.7 348.9,344.9 347.8,345.7 345.9,347.1 344.5,348.1 343.0,349.1 341.6,350.1 340.1,351.1 338.6,352.0 337.1,352.9 335.7,353.8 334.4,354.5 332.7,355.4 331.3,356.2 329.8,357.0 328.3,357.8 326.8,358.5 325.4,359.2 323.9,360.0 322.4,360.6 321.0,361.3 319.8,361.8 318.0,362.6 316.6,363.3 315.1,363.9 313.6,364.5 312.2,365.1 310.7,365.7 309.2,366.2 307.8,366.8 306.3,367.3 304.8,367.9 303.4,368.4 301.9,368.9 300.4,369.4 298.9,369.9 297.5,370.4 296.0,370.9 294.5,371.4 293.1,371.8 291.6,372.3 290.1,372.8 288.7,373.2 287.4,373.6 285.7,374.0 284.3,374.5 282.8,374.9 281.3,375.3 279.9,375.7 278.4,376.0 276.9,376.4 275.5,376.8 274.0,377.1 272.5,377.5 271.0,377.8 269.6,378.1 268.1,378.5 266.6,378.8 265.2,379.1 263.7,379.4 262.2,379.6 260.8,379.9 259.3,380.1 257.8,380.4 256.4,380.6 254.9,380.8 253.4,381.0 252.0,381.1 250.5,381.3 249.0,381.4 247.5,381.5 246.1,381.6 244.6,381.7 243.1,381.7 241.7,381.7 240.2,381.7 238.7,381.6 237.3,381.5 235.8,381.4 234.3,381.2 232.9,381.0 231.4,380.8 229.9,380.5 228.5,380.1 227.0,379.7 225.5,379.3 224.1,378.7 222.6,378.2 221.1,377.5 219.6,376.8 218.2,376.1 216.7,375.2 215.2,374.3 214.1,373.6 212.3,372.2 210.8,371.1 209.4,369.9 207.9,368.6 207.0,367.7 205.5,366.2 204.1,364.8 202.7,363.3 201.4,361.8 200.6,360.8 199.1,359.1 197.8,357.4 196.6,356.0 195.5,354.5 194.7,353.4 193.3,351.6 192.2,350.1 191.1,348.6 190.3,347.5 189.0,345.7 187.9,344.2 186.9,342.8 185.9,341.3 184.8,339.8 183.7,338.4 182.9,337.3 181.5,335.4 180.5,334.0 179.3,332.5 178.5,331.4 177.1,329.6 175.9,328.1 174.8,326.6 173.6,325.2 172.7,324.0 171.2,322.3 169.9,320.8 168.6,319.3 167.2,317.8 165.9,316.4 164.5,314.9 163.0,313.4 161.6,312.0 160.1,310.5 158.5,309.0 156.9,307.6 155.3,306.1 153.6,304.6 152.1,303.4 150.6,302.2 149.2,301.0 148.1,300.2 146.2,298.8 144.7,297.7 143.3,296.6 142.2,295.8 140.3,294.5 138.9,293.5 137.4,292.6 135.9,291.6 134.5,290.7 133.3,290.0 131.5,288.8 130.1,287.9 128.6,287.0 127.1,286.2 125.7,285.3 124.2,284.4 122.7,283.6 121.3,282.7 119.8,281.9 118.5,281.2 116.8,280.2 115.4,279.4 113.9,278.6 112.4,277.8 111.0,277.0 109.5,276.1 108.0,275.3 106.6,274.5 105.3,273.8 103.6,272.9 102.2,272.1 100.7,271.3 99.2,270.5 97.8,269.6 96.3,268.8 94.8,268.0 93.3,267.2 92.1,266.5 90.4,265.5 88.9,264.7 87.5,263.9 86.0,263.0 84.5,262.2 83.1,261.3 81.8,260.6 81.6,259.1 81.6,257.7 81.6,256.2 81.6,254.7 81.6,253.3 81.6,251.8 81.6,250.3 81.6,248.9 81.6,247.4 81.6,245.9 81.6,244.5 81.6,243.0 81.6,241.5 81.6,240.1 81.6,238.6 81.6,237.1 81.6,235.7 81.6,234.2 81.6,232.7 81.6,231.3 81.6,229.8 81.6,228.3 81.6,226.9 81.6,225.4 81.6,223.9 81.6,222.5 81.6,221.0 81.6,219.5 81.6,218.1 81.6,216.6 81.6,215.1 81.6,213.7 81.6,212.2 81.6,210.7 81.6,209.3 81.6,207.8 81.6,206.3 81.6,204.9 81.6,203.4 81.6,201.9 81.6,200.5 81.6,199.0 81.6,197.5 81.6,196.1 81.6,194.6 81.6,193.1 81.6,191.7 81.6,190.2 81.6,188.7 81.6,187.3 81.6,185.8 81.6,184.3 81.6,182.9 81.6,181.4 81.6,179.9 81.6,178.5 81.6,177.0 81.6,175.5 81.6,174.1 81.6,172.6 81.6,171.1 81.6,169.7 81.6,168.2 81.6,166.7 81.6,165.3 81.6,163.8ZM382.8,163.8 384.1,163.8 385.6,163.8 387.1,163.8 388.5,163.8 390.0,163.8 391.5,163.8 392.9,163.8 394.4,163.8 395.9,163.8 397.3,163.8 398.8,163.8 400.3,163.8 401.7,163.8 403.2,163.8 404.7,163.8 406.2,163.8 407.6,163.8 409.1,163.8 410.6,163.8 412.0,163.8 413.5,163.8 415.0,163.8 416.4,163.8 417.9,163.8 419.4,163.8 420.8,163.8 422.3,163.8 423.8,163.8 425.2,163.8 426.7,163.8 428.2,163.8 429.6,163.8 431.1,163.8 432.6,163.8 434.1,163.8 435.5,163.8 437.0,163.8 438.5,163.8 439.9,163.8 441.4,163.8 442.9,163.8 444.3,163.8 445.8,163.8 447.3,163.8 448.7,163.8 450.2,163.8 451.7,163.8 453.1,163.8 454.6,163.8 456.1,163.8 457.6,163.8 459.0,163.8 460.5,163.8 462.0,163.8 463.4,163.8 464.9,163.8 466.4,163.8 467.8,163.8 469.3,163.8 470.8,163.8 472.2,163.8 473.7,163.8 475.2,163.8 476.6,163.8 478.1,163.8 479.6,163.8 481.0,163.8 482.5,163.8 484.0,163.8 485.5,163.8 486.9,163.8 488.4,163.8 489.9,163.8 491.3,163.8 492.8,163.8 494.3,163.8 495.7,163.8 497.2,163.8 498.7,163.8 500.1,163.8 501.6,163.8 503.1,163.8 504.5,163.8 506.0,163.8 507.5,163.8 509.0,163.8 510.4,163.8 511.9,163.8 513.4,163.8 514.8,163.8 516.3,163.8 517.8,163.8 519.2,163.8 520.7,163.8 520.7,165.3 520.7,166.7 520.7,168.2 520.7,169.7 520.7,171.1 520.7,172.6 520.7,174.1 520.7,175.5 520.7,177.0 520.7,178.5 520.7,179.9 520.7,181.4 520.7,182.9 520.7,184.3 520.7,185.8 520.7,187.3 520.7,188.7 520.7,190.2 520.7,191.7 520.7,193.1 520.7,194.6 520.7,196.1 520.7,197.5 520.7,199.0 520.7,200.5 520.7,201.9 520.7,203.4 520.7,204.9 520.7,206.3 520.7,207.8 520.7,209.3 520.7,210.7 520.7,212.2 520.7,213.7 520.7,215.1 520.7,216.6 520.7,218.1 520.7,219.5 520.7,221.0 520.7,222.5 520.7,223.9 520.7,225.4 520.7,226.9 520.7,228.3 520.7,229.8 520.7,231.3 520.7,232.7 520.7,234.2 520.7,235.7 520.7,237.1 520.7,238.6 520.7,240.1 520.7,241.5 520.7,243.0 520.7,244.5 520.7,245.9 520.7,247.4 520.7,248.9 520.7,250.3 520.7,251.8 520.7,253.3 520.7,254.7 520.7,256.2 520.7,257.7 520.7,259.1 520.7,260.5 519.2,259.7 517.8,258.8 516.3,258.0 514.8,257.2 513.4,256.3 511.9,255.5 510.7,254.7 509.0,253.8 507.5,252.9 506.0,252.1 504.5,251.2 503.1,250.4 501.6,249.5 500.5,248.9 498.7,247.8 497.2,247.0 495.7,246.1 494.3,245.3 492.9,244.5 491.3,243.6 489.9,242.8 488.4,241.9 486.9,241.1 485.5,240.3 484.0,239.4 482.5,238.6 481.0,237.8 479.9,237.1 478.1,236.1 476.6,235.3 475.2,234.5 473.7,233.7 472.2,232.9 470.8,232.0 469.4,231.3 467.8,230.4 466.7,229.8 464.9,228.8 463.4,228.0 462.0,227.2 460.5,226.3 459.0,225.5 457.6,224.7 456.2,223.9 454.6,223.0 453.1,222.2 451.7,221.4 450.2,220.5 448.7,219.7 447.3,218.8 446.0,218.1 444.3,217.1 442.9,216.2 441.4,215.2 439.9,214.3 438.5,213.4 437.0,212.4 435.5,211.4 434.1,210.4 432.6,209.4 431.1,208.3 429.6,207.2 428.5,206.3 426.7,204.9 425.2,203.7 423.8,202.4 422.3,201.2 420.8,199.8 420.0,199.0 418.4,197.5 416.9,196.1 415.4,194.6 414.0,193.1 412.5,191.7 411.1,190.2 409.7,188.7 408.3,187.3 406.9,185.8 405.5,184.3 404.7,183.5 403.2,182.0 401.7,180.5 400.3,179.0 398.8,177.6 397.3,176.2 395.9,174.8 394.4,173.4 393.5,172.6 391.8,171.1 390.1,169.7 388.5,168.3 387.1,167.1 385.6,165.9 384.1,164.8 382.8,163.8ZM426.9,442.5 428.2,442.3 429.6,442.0 431.1,441.8 432.6,441.6 434.1,441.4 435.5,441.3 437.0,441.2 438.5,441.1 439.9,441.1 441.4,441.1 442.9,441.1 444.3,441.2 445.8,441.4 447.3,441.5 448.7,441.8 450.2,442.0 451.7,442.4 453.1,442.8 454.6,443.2 456.1,443.7 457.6,444.3 459.0,445.0 460.5,445.8 462.0,446.6 463.4,447.6 464.6,448.4 466.4,449.8 467.8,451.1 469.3,452.6 470.8,454.2 472.0,455.7 473.1,457.2 474.2,458.6 475.1,460.1 476.0,461.6 476.9,463.0 477.7,464.5 478.5,466.0 479.2,467.4 479.9,468.9 480.6,470.4 481.2,471.8 481.8,473.3 482.4,474.8 483.0,476.2 483.6,477.7 484.2,479.2 484.7,480.6 485.3,482.1 485.8,483.6 486.3,485.0 486.8,486.5 487.4,488.0 487.9,489.4 488.4,490.9 488.9,492.4 489.4,493.9 489.9,495.0 490.5,496.8 491.0,498.3 491.6,499.7 492.1,501.2 492.7,502.7 493.3,504.1 493.8,505.6 494.4,507.1 495.0,508.5 495.6,510.0 496.3,511.5 496.9,512.9 497.6,514.4 498.3,515.9 499.0,517.3 499.7,518.8 500.4,520.3 501.2,521.7 502.0,523.2 502.8,524.7 503.7,526.1 504.5,527.6 505.4,529.1 506.4,530.5 507.3,532.0 508.3,533.5 509.4,534.9 510.4,536.4 511.5,537.9 512.7,539.3 513.9,540.8 514.8,542.0 516.3,543.7 517.7,545.2 519.0,546.7 520.4,548.1 520.7,549.6 520.7,551.1 520.7,552.5 520.7,554.0 520.7,555.5 520.7,556.9 520.7,558.4 520.7,559.9 520.7,561.3 520.7,562.8 520.7,564.3 520.7,565.7 520.7,567.2 520.7,568.7 520.7,570.1 520.7,571.6 520.7,573.1 520.7,574.5 520.7,576.0 520.7,577.5 520.7,578.9 520.7,580.4 520.7,581.9 520.7,583.3 520.7,584.8 520.7,586.3 520.7,587.7 520.7,589.2 520.7,590.7 520.7,592.1 520.7,593.6 520.7,595.1 520.7,596.5 520.7,598.0 520.7,599.5 520.7,600.9 520.7,602.4 519.2,602.4 517.8,602.4 516.3,602.4 514.8,602.4 513.4,602.4 511.9,602.4 510.4,602.4 509.0,602.4 507.5,602.4 506.0,602.4 504.5,602.4 503.1,602.4 501.6,602.4 500.1,602.4 498.7,602.4 497.2,602.4 495.7,602.4 494.3,602.4 492.8,602.4 491.3,602.4 489.9,602.4 488.4,602.4 486.9,602.4 485.5,602.4 484.0,602.4 482.5,602.4 481.0,602.4 479.6,602.4 478.1,602.4 476.6,602.4 475.2,602.4 473.7,602.4 472.2,602.4 470.8,602.4 469.3,602.4 467.8,602.4 466.4,602.4 464.9,602.4 463.4,602.4 462.0,602.4 460.5,602.4 459.0,602.4 457.6,602.4 456.1,602.4 454.6,602.4 453.1,602.4 451.7,602.4 450.2,602.4 448.7,602.4 447.3,602.4 445.8,602.4 444.3,602.4 442.9,602.4 441.4,602.4 439.9,602.4 438.5,602.4 437.0,602.4 435.5,602.4 434.1,602.4 432.6,602.4 431.1,602.4 429.6,602.4 428.2,602.4 426.7,602.4 425.2,602.4 423.8,602.4 422.3,602.4 420.8,602.4 419.4,602.4 417.9,602.4 416.4,602.4 415.0,602.4 413.5,602.4 412.0,602.4 410.6,602.4 409.1,602.4 407.6,602.4 406.2,602.4 404.7,602.4 403.2,602.4 401.7,602.4 400.3,602.4 398.8,602.4 397.3,602.4 395.9,602.4 394.4,602.4 392.9,602.4 391.5,602.4 390.0,602.4 388.5,602.4 387.1,602.4 385.6,602.4 384.1,602.4 382.7,602.4 381.2,601.6 379.7,600.5 378.3,599.5 376.8,598.4 375.3,597.4 374.1,596.5 372.4,595.3 370.9,594.3 369.9,593.6 368.0,592.3 366.5,591.4 365.4,590.7 363.6,589.4 362.1,588.5 361.0,587.7 359.2,586.6 357.7,585.6 356.5,584.8 354.8,583.7 353.3,582.7 352.0,581.9 350.3,580.8 348.9,579.8 347.6,578.9 345.9,577.8 344.5,576.8 343.3,576.0 341.5,574.8 340.1,573.8 338.6,572.7 337.1,571.6 335.7,570.5 334.2,569.4 333.2,568.7 331.3,567.2 329.8,566.0 328.3,564.8 326.8,563.5 325.4,562.3 324.3,561.3 322.7,559.9 321.1,558.4 319.6,556.9 318.1,555.5 316.7,554.0 315.3,552.5 314.0,551.1 312.7,549.6 311.5,548.1 310.3,546.7 309.2,545.3 308.0,543.7 307.0,542.3 306.3,541.3 305.0,539.3 304.1,537.9 303.4,536.6 302.4,534.9 301.6,533.5 300.9,532.0 300.2,530.5 299.5,529.1 298.9,527.7 298.3,526.1 297.8,524.7 297.4,523.2 296.9,521.7 296.6,520.3 296.3,518.8 296.0,517.4 295.8,515.9 295.7,514.4 295.6,512.9 295.6,511.5 295.6,510.0 295.7,508.5 296.0,507.1 296.3,505.6 296.7,504.1 297.2,502.7 297.8,501.2 298.5,499.7 299.4,498.3 300.4,496.8 301.6,495.3 303.0,493.9 304.6,492.4 306.3,491.0 307.8,489.9 309.2,488.9 310.7,488.0 312.2,487.2 313.3,486.5 315.1,485.6 316.6,484.9 318.0,484.2 319.3,483.6 321.0,482.8 322.4,482.2 323.9,481.6 325.4,481.0 326.8,480.4 328.3,479.8 329.8,479.3 331.3,478.7 332.7,478.1 333.9,477.7 335.7,477.0 337.1,476.5 338.6,475.9 340.1,475.4 341.5,474.8 343.0,474.3 344.5,473.7 345.6,473.3 347.4,472.6 348.9,472.1 350.3,471.5 351.8,471.0 353.3,470.4 354.8,469.8 356.2,469.2 357.7,468.7 359.2,468.1 360.6,467.5 362.1,466.9 363.6,466.3 365.0,465.7 366.5,465.1 367.9,464.5 369.4,463.9 370.9,463.3 372.4,462.6 373.8,462.0 375.3,461.4 376.8,460.8 378.2,460.1 379.7,459.5 381.2,458.9 382.7,458.3 384.1,457.6 385.6,457.0 387.1,456.4 388.5,455.7 390.0,455.1 391.5,454.5 392.9,453.9 394.4,453.3 395.5,452.8 397.3,452.0 398.8,451.4 400.3,450.9 401.7,450.3 403.2,449.7 404.7,449.1 406.2,448.6 407.6,448.1 409.1,447.5 410.6,447.0 412.0,446.5 413.5,446.0 415.0,445.6 416.4,445.1 417.9,444.7 419.4,444.3 420.8,443.9 422.3,443.5 423.8,443.2 425.2,442.8 426.7,442.5ZM81.6,549.6 83.1,549.9 84.3,551.1 85.8,552.5 87.4,554.0 88.9,555.4 90.4,556.7 91.9,558.0 93.3,559.2 94.8,560.4 96.0,561.3 97.8,562.7 99.2,563.8 100.7,564.9 101.7,565.7 103.6,567.1 105.1,568.2 106.6,569.2 107.9,570.1 109.5,571.2 111.0,572.2 112.2,573.1 113.9,574.2 115.4,575.1 116.7,576.0 118.3,577.0 119.8,577.9 121.3,578.8 122.7,579.7 123.8,580.4 125.7,581.5 127.1,582.4 128.6,583.3 130.1,584.1 131.2,584.8 133.0,585.9 134.5,586.7 135.9,587.5 137.4,588.4 138.9,589.2 140.3,590.0 141.6,590.7 143.3,591.6 144.7,592.4 146.2,593.2 147.7,594.0 149.2,594.8 150.6,595.5 152.1,596.3 153.6,597.1 155.0,597.8 156.5,598.6 158.0,599.3 159.4,600.1 160.9,600.8 162.4,601.6 163.8,602.3 162.4,602.4 160.9,602.4 159.4,602.4 158.0,602.4 156.5,602.4 155.0,602.4 153.6,602.4 152.1,602.4 150.6,602.4 149.2,602.4 147.7,602.4 146.2,602.4 144.7,602.4 143.3,602.4 141.8,602.4 140.3,602.4 138.9,602.4 137.4,602.4 135.9,602.4 134.5,602.4 133.0,602.4 131.5,602.4 130.1,602.4 128.6,602.4 127.1,602.4 125.7,602.4 124.2,602.4 122.7,602.4 121.3,602.4 119.8,602.4 118.3,602.4 116.8,602.4 115.4,602.4 113.9,602.4 112.4,602.4 111.0,602.4 109.5,602.4 108.0,602.4 106.6,602.4 105.1,602.4 103.6,602.4 102.2,602.4 100.7,602.4 99.2,602.4 97.8,602.4 96.3,602.4 94.8,602.4 93.3,602.4 91.9,602.4 90.4,602.4 88.9,602.4 87.5,602.4 86.0,602.4 84.5,602.4 83.1,602.4 81.6,602.4 81.6,600.9 81.6,599.5 81.6,598.0 81.6,596.5 81.6,595.1 81.6,593.6 81.6,592.1 81.6,590.7 81.6,589.2 81.6,587.7 81.6,586.3 81.6,584.8 81.6,583.3 81.6,581.9 81.6,580.4 81.6,578.9 81.6,577.5 81.6,576.0 81.6,574.5 81.6,573.1 81.6,571.6 81.6,570.1 81.6,568.7 81.6,567.2 81.6,565.7 81.6,564.3 81.6,562.8 81.6,561.3 81.6,559.9 81.6,558.4 81.6,556.9 81.6,555.5 81.6,554.0 81.6,552.5 81.6,551.1 81.6,549.6Z"/>
<path fill="#d24f71" fill-rule="evenodd" d="M81.6,163.8 83.1,163.8 84.5,163.8 86.0,163.8 87.5,163.8 88.9,163.8 90.4,163.8 91.9,163.8 93.3,163.8 94.8,163.8 96.3,163.8 97.8,163.8 99.2,163.8 100.7,163.8 102.2,163.8 103.6,163.8 105.1,163.8 106.6,163.8 108.0,163.8 109.5,163.8 111.0,163.8 112.4,163.8 113.9,163.8 115.4,163.8 116.8,163.8 118.3,163.8 119.8,163.8 121.3,163.8 122.7,163.8 124.2,163.8 125.7,163.8 127.1,163.8 128.6,163.8 130.1,163.8 131.5,163.8 133.0,163.8 134.5,163.8 135.9,163.8 137.4,163.8 138.9,163.8 140.3,163.8 141.8,163.8 143.3,163.8 144.7,163.8 146.2,163.8 147.7,163.8 149.2,163.8 150.6,164.5 152.1,165.3 153.6,166.0 155.0,166.7 156.5,167.5 158.0,168.2 159.4,168.9 160.9,169.6 162.4,170.3 163.8,171.0 165.3,171.7 166.8,172.4 168.2,173.1 169.7,173.8 171.2,174.5 172.7,175.2 174.1,175.8 175.6,176.5 177.1,177.2 178.5,177.8 179.9,178.5 181.5,179.1 182.9,179.8 184.4,180.4 185.9,181.1 187.3,181.7 188.8,182.3 190.2,182.9 191.7,183.5 193.2,184.1 194.7,184.7 196.1,185.3 197.4,185.8 199.1,186.5 200.6,187.0 202.0,187.6 203.5,188.1 205.0,188.7 206.4,189.2 207.9,189.8 209.1,190.2 210.8,190.8 212.3,191.3 213.8,191.8 215.2,192.3 216.7,192.8 218.2,193.3 219.6,193.8 221.1,194.3 222.6,194.7 224.1,195.2 225.5,195.6 227.0,196.1 228.5,196.5 229.9,196.9 231.4,197.4 232.9,197.8 234.3,198.2 235.8,198.6 237.3,199.0 238.7,199.4 240.2,199.8 241.7,200.2 242.9,200.5 244.6,200.9 246.1,201.3 247.5,201.6 248.9,201.9 250.5,202.3 252.0,202.7 253.4,203.0 254.9,203.3 256.4,203.7 257.8,204.0 259.3,204.3 260.8,204.7 262.2,205.0 263.7,205.3 265.2,205.6 266.6,205.9 268.1,206.2 269.6,206.5 271.0,206.8 272.5,207.1 274.0,207.4 275.5,207.7 276.9,208.0 278.4,208.3 279.9,208.6 281.3,208.9 282.8,209.2 284.3,209.5 285.7,209.8 287.2,210.1 288.7,210.4 290.1,210.7 291.6,211.0 293.1,211.3 294.5,211.6 296.0,211.9 297.5,212.2 298.9,212.5 300.4,212.8 301.9,213.1 303.4,213.4 304.5,213.7 306.3,214.1 307.8,214.4 309.2,214.7 310.7,215.1 312.2,215.4 313.6,215.8 315.1,216.1 316.6,216.5 318.0,216.8 319.5,217.2 321.0,217.6 322.4,218.0 323.9,218.4 325.4,218.8 326.8,219.2 328.3,219.7 329.8,220.1 331.3,220.6 332.6,221.0 334.2,221.6 335.7,222.1 336.8,222.5 338.6,223.1 340.1,223.7 341.5,224.3 343.0,224.9 344.3,225.4 345.9,226.1 347.4,226.8 348.9,227.5 350.3,228.3 351.8,229.0 353.2,229.8 354.8,230.7 356.2,231.6 357.7,232.5 359.2,233.6 360.6,234.6 362.0,235.7 363.6,237.0 365.0,238.4 366.5,239.8 368.0,241.4 369.4,243.0 370.5,244.5 371.5,245.9 372.4,247.3 373.3,248.9 374.1,250.3 374.8,251.8 375.5,253.3 376.1,254.7 376.6,256.2 377.1,257.7 377.5,259.1 377.9,260.6 378.2,262.1 378.5,263.5 378.7,265.0 378.9,266.5 379.0,267.9 379.1,269.4 379.2,270.9 379.3,272.3 379.3,273.8 379.2,275.3 379.2,276.8 379.1,278.2 379.0,279.7 378.8,281.2 378.6,282.6 378.4,284.1 378.2,285.6 377.9,287.0 377.6,288.5 377.3,290.0 376.9,291.4 376.5,292.9 376.1,294.4 375.6,295.8 375.2,297.3 374.7,298.8 374.1,300.2 373.6,301.7 373.0,303.2 372.4,304.6 371.7,306.1 371.0,307.6 370.3,309.0 369.6,310.5 368.8,312.0 368.0,313.4 367.1,314.9 366.2,316.4 365.2,317.8 364.3,319.3 363.6,320.3 362.2,322.2 361.1,323.7 359.9,325.2 359.2,326.1 357.7,327.8 356.2,329.5 354.8,331.0 353.3,332.5 351.9,334.0 350.3,335.4 348.9,336.7 347.4,338.0 345.9,339.2 344.5,340.4 343.3,341.3 341.5,342.6 340.1,343.7 338.6,344.7 337.1,345.7 335.7,346.6 334.2,347.5 332.7,348.4 331.3,349.3 329.9,350.1 328.3,351.0 327.2,351.6 325.4,352.5 323.9,353.3 322.4,354.0 321.0,354.7 319.5,355.4 318.2,356.0 316.6,356.7 315.1,357.3 313.6,357.9 312.2,358.5 310.7,359.1 309.2,359.7 307.8,360.2 306.3,360.8 304.8,361.3 303.4,361.8 301.9,362.3 300.4,362.8 298.9,363.2 297.5,363.7 296.0,364.1 294.5,364.5 293.1,365.0 291.6,365.4 290.1,365.8 288.7,366.1 287.2,366.5 285.7,366.8 284.3,367.2 282.8,367.5 281.3,367.8 279.9,368.1 278.4,368.4 276.9,368.7 275.5,368.9 274.1,369.2 272.5,369.4 271.0,369.6 269.6,369.8 268.1,370.0 266.6,370.2 265.2,370.3 263.7,370.5 262.2,370.6 260.8,370.7 259.3,370.8 257.8,370.8 256.4,370.8 254.9,370.9 253.4,370.8 252.0,370.8 250.5,370.7 249.0,370.6 247.5,370.5 246.1,370.4 244.6,370.2 243.1,370.0 241.7,369.7 240.2,369.4 239.0,369.2 237.3,368.7 235.8,368.3 234.3,367.9 232.9,367.4 231.4,366.8 229.9,366.2 228.5,365.6 227.0,364.9 225.5,364.1 224.1,363.3 222.6,362.5 221.1,361.5 219.6,360.6 218.2,359.5 216.7,358.4 215.5,357.4 213.8,356.0 212.3,354.7 210.8,353.3 209.4,351.9 207.9,350.4 206.4,348.9 205.0,347.3 203.5,345.7 202.3,344.2 201.0,342.8 199.8,341.3 198.6,339.8 197.6,338.7 196.2,336.9 195.0,335.4 193.8,334.0 192.6,332.5 191.7,331.4 190.3,329.6 189.1,328.1 188.0,326.6 186.8,325.2 185.9,324.0 184.4,322.2 183.2,320.8 182.0,319.3 180.8,317.8 180.0,316.9 178.5,315.2 177.1,313.5 175.7,312.0 174.3,310.5 173.0,309.0 171.6,307.6 170.2,306.1 168.7,304.6 167.2,303.2 165.7,301.7 164.2,300.2 162.6,298.8 160.9,297.3 159.4,296.0 158.0,294.8 156.5,293.5 155.0,292.4 153.8,291.4 152.1,290.1 150.6,288.9 149.2,287.9 148.0,287.0 146.2,285.8 144.7,284.7 143.3,283.7 141.8,282.8 140.3,281.8 138.9,280.8 137.4,279.9 135.9,279.0 134.7,278.2 133.0,277.2 131.5,276.3 130.1,275.4 128.6,274.6 127.3,273.8 125.7,272.8 124.2,272.0 122.7,271.2 121.3,270.3 119.8,269.5 118.3,268.7 117.0,267.9 115.4,267.0 113.9,266.2 112.4,265.4 111.0,264.6 109.5,263.7 108.0,262.9 106.6,262.1 105.1,261.3 103.9,260.6 102.2,259.6 100.7,258.8 99.2,258.0 97.8,257.1 96.3,256.3 94.8,255.5 93.5,254.7 91.9,253.8 90.4,252.9 88.9,252.1 87.5,251.2 86.0,250.4 84.5,249.5 83.5,248.9 81.6,247.8 81.6,245.9 81.6,244.5 81.6,243.0 81.6,241.5 81.6,240.1 81.6,238.6 81.6,237.1 81.6,235.7 81.6,234.2 81.6,232.7 81.6,231.3 81.6,229.8 81.6,228.3 81.6,226.9 81.6,225.4 81.6,223.9 81.6,222.5 81.6,221.0 81.6,219.5 81.6,218.1 81.6,216.6 81.6,215.1 81.6,213.7 81.6,212.2 81.6,210.7 81.6,209.3 81.6,207.8 81.6,206.3 81.6,204.9 81.6,203.4 81.6,201.9 81.6,200.5 81.6,199.0 81.6,197.5 81.6,196.1 81.6,194.6 81.6,193.1 81.6,191.7 81.6,190.2 81.6,188.7 81.6,187.3 81.6,185.8 81.6,184.3 81.6,182.9 81.6,181.4 81.6,179.9 81.6,178.5 81.6,177.0 81.6,175.5 81.6,174.1 81.6,172.6 81.6,171.1 81.6,169.7 81.6,168.2 81.6,166.7 81.6,165.3 81.6,163.8ZM410.3,163.8 412.0,163.8 413.5,163.8 415.0,163.8 416.4,163.8 417.9,163.8 419.4,163.8 420.8,163.8 422.3,163.8 423.8,163.8 425.2,163.8 426.7,163.8 428.2,163.8 429.6,163.8 431.1,163.8 432.6,163.8 434.1,163.8 435.5,163.8 437.0,163.8 438.5,163.8 439.9,163.8 441.4,163.8 442.9,163.8 444.3,163.8 445.8,163.8 447.3,163.8 448.7,163.8 450.2,163.8 451.7,163.8 453.1,163.8 454.6,163.8 456.1,163.8 457.6,163.8 459.0,163.8 460.5,163.8 462.0,163.8 463.4,163.8 464.9,163.8 466.4,163.8 467.8,163.8 469.3,163.8 470.8,163.8 472.2,163.8 473.7,163.8 475.2,163.8 476.6,163.8 478.1,163.8 479.6,163.8 481.0,163.8 482.5,163.8 484.0,163.8 485.5,163.8 486.9,163.8 488.4,163.8 489.9,163.8 491.3,163.8 492.8,163.8 494.3,163.8 495.7,163.8 497.2,163.8 498.7,163.8 500.1,163.8 501.6,163.8 503.1,163.8 504.5,163.8 506.0,163.8 507.5,163.8 509.0,163.8 510.4,163.8 511.9,163.8 513.4,163.8 514.8,163.8 516.3,163.8 517.8,163.8 519.2,163.8 520.7,163.8 520.7,165.3 520.7,166.7 520.7,168.2 520.7,169.7 520.7,171.1 520.7,172.6 520.7,174.1 520.7,175.5 520.7,177.0 520.7,178.5 520.7,179.9 520.7,181.4 520.7,182.9 520.7,184.3 520.7,185.8 520.7,187.3 520.7,188.7 520.7,190.2 520.7,191.7 520.7,193.1 520.7,194.6 520.7,196.1 520.7,197.5 520.7,199.0 520.7,200.5 520.7,201.9 520.7,203.4 520.7,204.9 520.7,206.3 520.7,207.8 520.7,209.3 520.7,210.7 520.7,212.2 520.7,213.7 520.7,215.1 520.7,216.6 520.7,218.1 520.7,219.5 520.7,221.0 520.7,222.5 520.7,223.9 520.7,225.4 520.7,226.9 520.7,228.3 520.7,229.8 520.7,231.3 520.7,232.7 520.7,234.2 520.7,235.7 520.7,237.1 520.7,238.6 520.7,240.1 520.7,241.5 520.7,243.0 520.7,244.5 520.7,245.9 520.7,247.4 519.2,246.9 517.8,246.0 516.3,245.2 515.2,244.5 513.4,243.4 511.9,242.5 510.4,241.6 509.0,240.7 507.5,239.8 506.0,238.9 504.5,238.0 503.2,237.1 501.6,236.1 500.1,235.2 498.7,234.3 497.2,233.4 495.7,232.4 494.3,231.5 492.8,230.6 491.6,229.8 489.9,228.7 488.4,227.7 487.1,226.9 485.5,225.8 484.0,224.8 482.6,223.9 481.0,222.9 479.6,221.9 478.3,221.0 476.6,219.9 475.2,218.9 474.0,218.1 472.2,216.8 470.8,215.8 469.3,214.8 467.8,213.7 466.4,212.6 464.9,211.5 463.8,210.7 462.0,209.3 460.5,208.2 459.0,207.1 457.6,205.9 456.3,204.9 454.6,203.5 453.1,202.3 451.7,201.1 450.2,199.8 449.3,199.0 447.6,197.5 446.0,196.1 444.4,194.6 442.9,193.2 441.4,191.9 439.9,190.5 438.5,189.1 437.0,187.7 435.5,186.3 434.1,184.9 432.6,183.4 431.1,182.0 429.6,180.6 428.2,179.2 426.7,177.8 425.8,177.0 424.2,175.5 422.6,174.1 421.0,172.6 419.4,171.2 417.9,169.9 416.4,168.7 415.0,167.5 413.5,166.3 412.2,165.3 410.6,164.0ZM425.7,454.2 428.2,454.0 429.6,453.9 431.1,453.8 432.6,453.8 434.1,453.8 435.5,453.8 437.0,453.9 438.5,454.0 439.9,454.2 441.4,454.4 442.9,454.7 444.3,455.1 445.8,455.5 447.3,455.9 448.7,456.5 450.2,457.1 451.7,457.8 453.1,458.6 454.6,459.5 456.1,460.5 457.6,461.5 459.0,462.8 460.5,464.1 462.0,465.6 463.4,467.2 464.8,468.9 465.9,470.4 466.9,471.8 467.8,473.2 468.8,474.8 469.7,476.2 470.5,477.7 471.3,479.2 472.1,480.6 472.8,482.1 473.5,483.6 474.2,485.0 474.8,486.5 475.5,488.0 476.1,489.4 476.6,490.8 477.3,492.4 477.9,493.9 478.5,495.3 479.1,496.8 479.6,498.0 480.2,499.7 480.8,501.2 481.4,502.7 482.0,504.1 482.5,505.5 483.2,507.1 483.7,508.5 484.3,510.0 485.0,511.5 485.5,512.6 486.2,514.4 486.8,515.9 487.5,517.3 488.2,518.8 488.8,520.3 489.5,521.7 490.3,523.2 491.0,524.7 491.8,526.1 492.6,527.6 493.4,529.1 494.2,530.5 495.1,532.0 495.7,533.1 496.9,534.9 497.8,536.4 498.7,537.7 499.8,539.3 500.9,540.8 502.0,542.3 503.1,543.6 504.3,545.2 505.5,546.7 506.8,548.1 508.1,549.6 509.5,551.1 510.4,552.0 511.9,553.5 513.4,554.9 514.8,556.3 516.3,557.7 517.8,559.0 518.8,559.9 520.5,561.3 520.7,562.8 520.7,564.3 520.7,565.7 520.7,567.2 520.7,568.7 520.7,570.1 520.7,571.6 520.7,573.1 520.7,574.5 520.7,576.0 520.7,577.5 520.7,578.9 520.7,580.4 520.7,581.9 520.7,583.3 520.7,584.8 520.7,586.3 520.7,587.7 520.7,589.2 520.7,590.7 520.7,592.1 520.7,593.6 520.7,595.1 520.7,596.5 520.7,598.0 520.7,599.5 520.7,600.9 520.7,602.4 519.2,602.4 517.8,602.4 516.3,602.4 514.8,602.4 513.4,602.4 511.9,602.4 510.4,602.4 509.0,602.4 507.5,602.4 506.0,602.4 504.5,602.4 503.1,602.4 501.6,602.4 500.1,602.4 498.7,602.4 497.2,602.4 495.7,602.4 494.3,602.4 492.8,602.4 491.3,602.4 489.9,602.4 488.4,602.4 486.9,602.4 485.5,602.4 484.0,602.4 482.5,602.4 481.0,602.4 479.6,602.4 478.1,602.4 476.6,602.4 475.2,602.4 473.7,602.4 472.2,602.4 470.8,602.4 469.3,602.4 467.8,602.4 466.4,602.4 464.9,602.4 463.4,602.4 462.0,602.4 460.5,602.4 459.0,602.4 457.6,602.4 456.1,602.4 454.6,602.4 453.1,602.4 451.7,602.4 450.2,602.4 448.7,602.4 447.3,602.4 445.8,602.4 444.3,602.4 442.9,602.4 441.4,602.4 439.9,602.4 438.5,602.4 437.0,602.4 435.5,602.4 434.1,602.4 432.6,602.4 431.1,602.4 429.6,602.4 428.2,602.4 426.7,602.4 425.2,602.4 423.8,602.4 422.3,602.4 420.8,602.4 419.4,602.4 417.9,602.4 416.4,602.4 415.0,602.4 413.5,602.4 412.0,602.4 410.6,602.4 409.1,602.0 407.7,600.9 406.2,599.8 404.7,598.8 403.5,598.0 401.7,596.8 400.3,595.8 399.1,595.1 397.3,594.0 395.9,593.0 394.4,592.1 392.9,591.3 391.5,590.4 390.0,589.5 388.5,588.7 387.1,587.8 385.6,587.0 384.3,586.3 382.7,585.4 381.2,584.5 379.7,583.7 378.2,582.9 376.8,582.1 375.3,581.3 373.8,580.5 372.4,579.7 370.9,578.9 369.4,578.1 368.3,577.5 366.5,576.5 365.0,575.7 363.6,574.9 362.1,574.0 360.6,573.2 359.2,572.3 357.9,571.6 356.2,570.6 354.8,569.7 353.3,568.8 351.8,567.9 350.7,567.2 348.9,566.1 347.4,565.1 346.2,564.3 344.5,563.1 343.0,562.1 342.0,561.3 340.1,559.9 338.6,558.8 337.1,557.7 335.7,556.5 334.4,555.5 332.7,554.0 331.3,552.7 329.8,551.3 328.3,549.9 326.8,548.4 325.4,546.8 323.9,545.2 322.7,543.7 321.5,542.3 320.4,540.8 319.5,539.5 318.4,537.9 317.5,536.4 316.6,534.9 315.8,533.5 315.1,532.1 314.4,530.5 313.8,529.1 313.2,527.6 312.7,526.1 312.3,524.7 311.9,523.2 311.7,521.7 311.4,520.3 311.3,518.8 311.3,517.3 311.3,515.9 311.4,514.4 311.6,512.9 311.9,511.5 312.3,510.0 312.8,508.5 313.5,507.1 314.2,505.6 315.1,504.1 316.1,502.7 317.3,501.2 318.7,499.7 320.2,498.3 321.9,496.8 323.8,495.3 325.4,494.2 326.8,493.3 328.2,492.4 329.8,491.5 331.3,490.6 332.7,489.8 334.2,489.0 335.7,488.3 337.1,487.5 338.6,486.8 340.1,486.1 341.5,485.4 343.0,484.8 344.5,484.1 345.6,483.6 347.4,482.8 348.9,482.1 350.3,481.5 351.8,480.9 353.3,480.2 354.8,479.6 356.2,479.0 357.7,478.3 359.1,477.7 360.6,477.1 362.1,476.5 363.6,475.8 365.0,475.2 366.5,474.6 368.0,474.0 369.4,473.4 370.9,472.7 372.4,472.1 373.8,471.5 375.3,470.9 376.5,470.4 378.2,469.6 379.7,469.0 381.2,468.4 382.7,467.8 384.1,467.2 385.6,466.6 387.1,466.0 388.5,465.4 390.0,464.8 391.5,464.2 392.9,463.6 394.4,463.1 395.9,462.5 397.3,462.0 398.8,461.4 400.3,460.9 401.7,460.4 403.2,459.8 404.7,459.3 406.2,458.9 407.6,458.4 409.1,457.9 410.6,457.5 412.0,457.1 413.5,456.7 415.0,456.3 416.4,455.9 417.9,455.6 419.4,455.3 420.8,455.0 422.3,454.7 423.8,454.5 425.2,454.3ZM81.6,562.8 81.6,561.4 83.1,562.7 84.5,563.8 86.0,565.0 87.0,565.7 88.9,567.2 90.4,568.3 91.9,569.4 93.0,570.1 94.8,571.4 96.3,572.4 97.8,573.4 99.2,574.4 100.7,575.4 102.2,576.3 103.6,577.3 105.1,578.2 106.3,578.9 108.0,580.0 109.5,580.9 111.0,581.8 112.4,582.7 113.5,583.3 115.4,584.4 116.8,585.3 118.3,586.2 119.8,587.0 121.1,587.7 122.7,588.7 124.2,589.5 125.7,590.3 127.1,591.1 128.6,592.0 130.1,592.8 131.5,593.6 133.0,594.4 134.3,595.1 135.9,595.9 137.0,596.5 138.9,597.5 140.3,598.3 141.8,599.1 143.3,599.8 144.7,600.6 146.2,601.3 147.7,602.1 146.2,602.4 144.7,602.4 143.3,602.4 141.8,602.4 140.3,602.4 138.9,602.4 137.4,602.4 135.9,602.4 134.5,602.4 133.0,602.4 131.5,602.4 130.1,602.4 128.6,602.4 127.1,602.4 125.7,602.4 124.2,602.4 122.7,602.4 121.3,602.4 119.8,602.4 118.3,602.4 116.8,602.4 115.4,602.4 113.9,602.4 112.4,602.4 111.0,602.4 109.5,602.4 108.0,602.4 106.6,602.4 105.1,602.4 103.6,602.4 102.2,602.4 100.7,602.4 99.2,602.4 97.8,602.4 96.3,602.4 94.8,602.4 93.3,602.4 91.9,602.4 90.4,602.4 88.9,602.4 87.5,602.4 86.0,602.4 84.5,602.4 83.1,602.4 81.6,602.4 81.6,600.9 81.6,599.5 81.6,598.0 81.6,596.5 81.6,595.1 81.6,593.6 81.6,592.1 81.6,590.7 81.6,589.2 81.6,587.7 81.6,586.3 81.6,584.8 81.6,583.3 81.6,581.9 81.6,580.4 81.6,578.9 81.6,577.5 81.6,576.0 81.6,574.5 81.6,573.1 81.6,571.6 81.6,570.1 81.6,568.7 81.6,567.2 81.6,565.7 81.6,564.3 81.6,562.8Z"/>
<path fill="#de5f65" fill-rule="evenodd" d="M81.6,163.8 83.1,163.8 84.5,163.8 86.0,163.8 87.5,163.8 88.9,163.8 90.4,163.8 91.9,163.8 93.3,163.8 94.8,163.8 96.3,163.8 97.8,163.8 99.2,163.8 100.7,163.8 102.2,163.8 103.6,163.8 105.1,163.8 106.6,163.8 108.0,163.8 109.5,163.8 111.0,163.8 112.4,163.8 113.9,163.8 115.4,163.8 116.8,163.8 118.3,163.8 119.8,163.8 121.3,163.8 122.7,163.8 124.2,163.8 125.7,163.8 127.1,163.8 128.6,163.8 130.1,163.8 131.5,163.8 133.0,164.4 134.5,165.2 135.9,165.9 137.4,166.6 138.9,167.4 140.3,168.1 141.8,168.8 143.3,169.6 144.7,170.3 146.2,171.0 147.7,171.7 149.2,172.4 150.6,173.1 152.1,173.9 153.6,174.6 155.0,175.3 156.5,176.0 158.0,176.6 159.4,177.3 160.9,178.0 162.4,178.7 163.8,179.4 165.0,179.9 166.8,180.7 168.2,181.4 169.7,182.1 171.2,182.7 172.7,183.4 174.1,184.0 175.6,184.7 177.1,185.3 178.2,185.8 180.0,186.6 181.5,187.2 182.9,187.8 184.4,188.4 185.9,189.0 187.3,189.6 188.8,190.2 190.3,190.8 191.7,191.4 193.2,191.9 194.7,192.5 196.1,193.1 197.6,193.6 199.1,194.2 200.3,194.6 202.0,195.2 203.5,195.8 205.0,196.3 206.4,196.8 207.9,197.3 209.4,197.8 210.8,198.3 212.3,198.7 213.8,199.2 215.2,199.7 216.7,200.1 218.2,200.6 219.6,201.0 221.1,201.5 222.6,201.9 224.1,202.3 225.5,202.8 227.0,203.2 228.5,203.6 229.9,204.0 231.4,204.4 232.9,204.7 234.3,205.1 235.8,205.5 237.3,205.9 238.7,206.2 240.2,206.6 241.7,207.0 243.1,207.3 244.6,207.7 246.1,208.0 247.5,208.3 249.0,208.7 250.5,209.0 251.7,209.3 253.4,209.7 254.9,210.0 256.4,210.3 257.8,210.6 259.3,210.9 260.8,211.2 262.2,211.6 263.7,211.9 265.2,212.2 266.6,212.5 268.1,212.8 269.6,213.1 271.0,213.4 272.4,213.7 274.0,214.0 275.5,214.3 276.9,214.6 278.4,214.9 279.9,215.2 281.3,215.5 282.8,215.8 284.3,216.1 285.7,216.5 287.2,216.8 288.7,217.1 290.1,217.4 291.6,217.7 293.1,218.1 294.5,218.4 296.0,218.7 297.5,219.1 298.9,219.4 300.4,219.8 301.9,220.1 303.4,220.5 304.8,220.9 306.3,221.2 307.8,221.6 309.2,222.0 310.7,222.4 312.2,222.8 313.6,223.2 315.1,223.7 316.6,224.1 318.0,224.6 319.5,225.0 320.7,225.4 322.4,226.0 323.9,226.5 325.4,227.0 326.8,227.5 328.3,228.1 329.8,228.7 331.3,229.3 332.6,229.8 334.2,230.5 335.7,231.2 337.1,231.9 338.6,232.6 340.1,233.3 341.5,234.1 343.0,234.9 344.3,235.7 345.9,236.7 347.4,237.6 348.8,238.6 350.3,239.7 351.8,240.8 353.3,242.0 354.4,243.0 356.0,244.5 357.5,245.9 358.8,247.4 360.0,248.9 361.2,250.3 362.1,251.6 363.2,253.3 364.1,254.7 364.9,256.2 365.6,257.7 366.3,259.1 366.9,260.6 367.4,262.1 367.9,263.5 368.4,265.0 368.7,266.5 369.1,267.9 369.3,269.4 369.6,270.9 369.8,272.3 369.9,273.8 370.0,275.3 370.1,276.8 370.1,278.2 370.1,279.7 370.0,281.2 370.0,282.6 369.8,284.1 369.7,285.6 369.5,287.0 369.3,288.5 369.0,290.0 368.7,291.4 368.4,292.9 368.0,294.4 367.6,295.8 367.2,297.3 366.7,298.8 366.2,300.2 365.6,301.7 365.1,303.2 364.4,304.6 363.8,306.1 363.1,307.6 362.4,309.0 361.6,310.5 360.8,312.0 360.0,313.4 359.2,314.7 358.1,316.4 357.1,317.8 356.2,319.1 355.0,320.8 353.9,322.2 352.7,323.7 351.8,324.7 350.3,326.4 348.9,328.0 347.4,329.5 345.9,330.9 344.5,332.3 343.0,333.6 341.5,334.9 340.1,336.1 339.0,336.9 337.1,338.3 335.7,339.4 334.2,340.4 332.9,341.3 331.3,342.4 329.8,343.3 328.3,344.2 326.8,345.0 325.7,345.7 323.9,346.7 322.4,347.4 321.0,348.2 319.5,348.9 318.0,349.6 316.6,350.3 315.1,350.9 313.6,351.6 312.2,352.2 310.7,352.8 309.2,353.3 307.8,353.9 306.3,354.4 304.8,354.9 303.4,355.4 301.9,355.9 300.4,356.4 298.9,356.8 297.5,357.3 296.0,357.7 294.5,358.1 293.1,358.4 291.6,358.8 290.1,359.2 288.7,359.5 287.2,359.8 285.7,360.1 284.4,360.4 282.8,360.7 281.3,360.9 279.9,361.1 278.4,361.4 276.9,361.6 275.5,361.7 274.0,361.9 272.5,362.0 271.0,362.2 269.6,362.3 268.1,362.4 266.6,362.4 265.2,362.5 263.7,362.5 262.2,362.5 260.8,362.4 259.3,362.4 257.8,362.3 256.4,362.2 254.9,362.1 253.4,361.9 252.0,361.7 250.5,361.5 249.0,361.3 247.5,361.0 246.1,360.6 244.9,360.4 243.1,359.9 241.7,359.5 240.2,359.0 238.7,358.5 237.3,357.9 236.1,357.4 234.3,356.7 232.9,356.0 231.4,355.2 230.1,354.5 228.5,353.6 227.0,352.7 225.5,351.7 224.1,350.7 222.6,349.6 221.3,348.6 219.6,347.3 218.2,346.1 216.7,344.8 215.2,343.5 213.8,342.1 212.3,340.6 210.8,339.1 209.4,337.6 207.9,336.0 206.4,334.4 205.0,332.7 203.5,331.0 202.2,329.6 201.0,328.1 199.8,326.6 198.6,325.2 197.6,324.0 196.1,322.2 194.9,320.8 193.7,319.3 192.5,317.8 191.7,316.8 190.3,315.1 188.9,313.4 187.7,312.0 186.4,310.5 185.2,309.0 184.4,308.1 182.9,306.4 181.5,304.7 180.1,303.2 178.7,301.7 177.4,300.2 176.0,298.8 174.6,297.3 173.1,295.8 171.6,294.4 170.1,292.9 168.6,291.4 167.0,290.0 165.4,288.5 163.8,287.1 162.4,285.8 160.9,284.6 159.4,283.4 158.0,282.2 156.7,281.2 155.0,279.9 153.6,278.8 152.1,277.7 150.8,276.8 149.2,275.6 147.7,274.5 146.6,273.8 144.7,272.5 143.3,271.6 142.2,270.9 140.3,269.7 138.9,268.7 137.6,267.9 135.9,266.9 134.5,266.0 133.0,265.1 131.5,264.2 130.4,263.5 128.6,262.5 127.1,261.6 125.7,260.7 124.2,259.9 122.9,259.1 121.3,258.2 119.8,257.3 118.3,256.5 116.8,255.7 115.4,254.8 113.9,254.0 112.7,253.3 111.0,252.3 109.5,251.4 108.0,250.6 106.6,249.7 105.1,248.9 103.6,248.0 102.6,247.4 100.7,246.3 99.2,245.4 97.8,244.5 96.3,243.7 95.2,243.0 93.3,241.9 91.9,241.0 90.4,240.1 88.9,239.2 87.5,238.3 86.0,237.3 84.5,236.4 83.4,235.7 81.6,234.5 81.6,232.7 81.6,231.3 81.6,229.8 81.6,228.3 81.6,226.9 81.6,225.4 81.6,223.9 81.6,222.5 81.6,221.0 81.6,219.5 81.6,218.1 81.6,216.6 81.6,215.1 81.6,213.7 81.6,212.2 81.6,210.7 81.6,209.3 81.6,207.8 81.6,206.3 81.6,204.9 81.6,203.4 81.6,201.9 81.6,200.5 81.6,199.0 81.6,197.5 81.6,196.1 81.6,194.6 81.6,193.1 81.6,191.7 81.6,190.2 81.6,188.7 81.6,187.3 81.6,185.8 81.6,184.3 81.6,182.9 81.6,181.4 81.6,179.9 81.6,178.5 81.6,177.0 81.6,175.5 81.6,174.1 81.6,172.6 81.6,171.1 81.6,169.7 81.6,168.2 81.6,166.7 81.6,165.3 81.6,163.8ZM438.4,163.8 439.9,163.8 441.4,163.8 442.9,163.8 444.3,163.8 445.8,163.8 447.3,163.8 448.7,163.8 450.2,163.8 451.7,163.8 453.1,163.8 454.6,163.8 456.1,163.8 457.6,163.8 459.0,163.8 460.5,163.8 462.0,163.8 463.4,163.8 464.9,163.8 466.4,163.8 467.8,163.8 469.3,163.8 470.8,163.8 472.2,163.8 473.7,163.8 475.2,163.8 476.6,163.8 478.1,163.8 479.6,163.8 481.0,163.8 482.5,163.8 484.0,163.8 485.5,163.8 486.9,163.8 488.4,163.8 489.9,163.8 491.3,163.8 492.8,163.8 494.3,163.8 495.7,163.8 497.2,163.8 498.7,163.8 500.1,163.8 501.6,163.8 503.1,163.8 504.5,163.8 506.0,163.8 507.5,163.8 509.0,163.8 510.4,163.8 511.9,163.8 513.4,163.8 514.8,163.8 516.3,163.8 517.8,163.8 519.2,163.8 520.7,163.8 520.7,165.3 520.7,166.7 520.7,168.2 520.7,169.7 520.7,171.1 520.7,172.6 520.7,174.1 520.7,175.5 520.7,177.0 520.7,178.5 520.7,179.9 520.7,181.4 520.7,182.9 520.7,184.3 520.7,185.8 520.7,187.3 520.7,188.7 520.7,190.2 520.7,191.7 520.7,193.1 520.7,194.6 520.7,196.1 520.7,197.5 520.7,199.0 520.7,200.5 520.7,201.9 520.7,203.4 520.7,204.9 520.7,206.3 520.7,207.8 520.7,209.3 520.7,210.7 520.7,212.2 520.7,213.7 520.7,215.1 520.7,216.6 520.7,218.1 520.7,219.5 520.7,221.0 520.7,222.5 520.7,223.9 520.7,225.4 520.7,226.9 520.7,228.3 520.7,229.8 520.7,231.3 520.7,232.7 520.7,234.2 519.2,233.6 517.9,232.7 516.3,231.7 514.8,230.7 513.5,229.8 511.9,228.7 510.4,227.7 509.2,226.9 507.5,225.7 506.0,224.7 504.9,223.9 503.1,222.6 501.6,221.6 500.1,220.5 498.8,219.5 497.2,218.4 495.7,217.3 494.3,216.2 492.9,215.1 491.3,213.9 489.9,212.8 488.4,211.6 487.3,210.7 485.5,209.3 484.0,208.1 482.5,206.8 481.0,205.6 479.6,204.3 478.5,203.4 476.8,201.9 475.2,200.5 473.7,199.1 472.2,197.7 470.8,196.4 469.3,195.0 467.8,193.5 466.4,192.1 464.9,190.6 463.4,189.1 462.0,187.6 460.5,186.1 459.0,184.6 457.6,183.1 456.1,181.5 454.6,180.0 453.2,178.5 451.8,177.0 450.4,175.5 449.0,174.1 447.5,172.6 446.1,171.1 444.6,169.7 443.1,168.2 441.6,166.7 440.0,165.3 438.5,163.9ZM417.0,467.4 419.4,467.1 420.8,467.0 422.3,466.8 423.8,466.7 425.2,466.7 426.7,466.7 428.2,466.7 429.6,466.8 431.1,466.9 432.6,467.1 434.1,467.3 435.5,467.6 437.0,467.9 438.5,468.3 439.9,468.8 441.4,469.3 442.9,470.0 444.3,470.7 445.8,471.5 447.3,472.4 448.6,473.3 450.2,474.5 451.7,475.7 453.1,477.1 454.6,478.6 456.1,480.3 457.5,482.1 458.6,483.6 459.6,485.0 460.5,486.4 461.4,488.0 462.3,489.4 463.1,490.9 463.9,492.4 464.6,493.9 465.3,495.3 466.0,496.8 466.7,498.3 467.4,499.7 468.0,501.2 468.6,502.7 469.3,504.1 469.9,505.6 470.5,507.1 471.1,508.5 471.7,510.0 472.2,511.4 472.9,512.9 473.4,514.4 474.0,515.9 474.6,517.3 475.2,518.6 475.8,520.3 476.5,521.7 477.1,523.2 477.7,524.7 478.4,526.1 479.0,527.6 479.6,528.8 480.4,530.5 481.0,531.8 481.9,533.5 482.5,534.7 483.4,536.4 484.2,537.9 485.1,539.3 485.9,540.8 486.8,542.3 487.8,543.7 488.8,545.2 489.8,546.7 490.9,548.1 492.0,549.6 492.8,550.6 494.3,552.4 495.6,554.0 496.9,555.5 498.3,556.9 499.8,558.4 501.3,559.9 502.9,561.3 504.5,562.8 506.0,564.1 507.5,565.3 509.0,566.5 510.4,567.6 511.8,568.7 513.4,569.8 514.8,570.9 516.3,571.9 517.8,573.0 519.2,574.0 520.7,574.9 520.7,577.5 520.7,578.9 520.7,580.4 520.7,581.9 520.7,583.3 520.7,584.8 520.7,586.3 520.7,587.7 520.7,589.2 520.7,590.7 520.7,592.1 520.7,593.6 520.7,595.1 520.7,596.5 520.7,598.0 520.7,599.5 520.7,600.9 520.7,602.4 519.2,602.4 517.8,602.4 516.3,602.4 514.8,602.4 513.4,602.4 511.9,602.4 510.4,602.4 509.0,602.4 507.5,602.4 506.0,602.4 504.5,602.4 503.1,602.4 501.6,602.4 500.1,602.4 498.7,602.4 497.2,602.4 495.7,602.4 494.3,602.4 492.8,602.4 491.3,602.4 489.9,602.4 488.4,602.4 486.9,602.4 485.5,602.4 484.0,602.4 482.5,602.4 481.0,602.4 479.6,602.4 478.1,602.4 476.6,602.4 475.2,602.4 473.7,602.4 472.2,602.4 470.8,602.4 469.3,602.4 467.8,602.4 466.4,602.4 464.9,602.4 463.4,602.4 462.0,602.4 460.5,602.4 459.0,602.4 457.6,602.4 456.1,602.4 454.6,602.4 453.1,602.4 451.7,602.4 450.2,602.4 448.7,602.4 447.3,602.4 445.8,602.4 444.3,602.4 442.9,602.4 441.4,602.4 439.9,602.4 438.5,602.4 437.0,601.7 435.5,600.4 434.4,599.5 432.6,598.0 431.1,596.9 429.6,595.7 428.2,594.7 426.7,593.6 425.2,592.6 423.8,591.6 422.3,590.7 420.8,589.7 419.4,588.8 417.9,588.0 416.4,587.1 415.0,586.3 413.5,585.4 412.3,584.8 410.6,583.8 409.1,583.1 407.6,582.3 406.2,581.6 404.7,580.8 403.2,580.1 401.7,579.4 400.3,578.7 398.8,578.0 397.6,577.5 395.9,576.6 394.5,576.0 392.9,575.3 391.5,574.6 390.0,573.9 388.5,573.3 387.1,572.6 385.6,571.9 384.1,571.2 382.7,570.5 381.2,569.9 379.7,569.2 378.2,568.5 376.8,567.8 375.6,567.2 373.8,566.3 372.6,565.7 370.9,564.9 369.7,564.3 368.0,563.3 366.5,562.6 365.0,561.8 363.6,561.0 362.1,560.1 360.6,559.3 359.2,558.4 357.7,557.5 356.2,556.6 354.8,555.6 353.3,554.7 351.8,553.6 350.3,552.6 348.9,551.5 347.4,550.4 346.4,549.6 344.7,548.1 343.0,546.7 341.5,545.3 340.1,543.8 338.6,542.3 337.3,540.8 336.1,539.3 335.0,537.9 334.2,536.8 333.0,534.9 332.1,533.5 331.3,532.0 330.7,530.5 330.1,529.1 329.5,527.6 329.1,526.1 328.8,524.7 328.5,523.2 328.4,521.7 328.3,520.3 328.4,518.8 328.6,517.3 328.8,515.9 329.2,514.4 329.7,512.9 330.4,511.5 331.1,510.0 332.0,508.5 332.7,507.5 334.2,505.7 335.6,504.1 337.1,502.7 338.6,501.3 340.1,500.1 341.5,499.0 342.6,498.3 344.5,497.0 345.9,496.0 347.1,495.3 348.9,494.2 350.3,493.4 351.8,492.6 353.3,491.8 354.8,491.0 356.2,490.2 357.7,489.5 359.2,488.7 360.6,488.0 362.1,487.3 363.6,486.6 365.0,485.9 366.5,485.2 368.0,484.6 369.4,483.9 370.9,483.2 372.4,482.6 373.8,481.9 375.3,481.3 376.8,480.6 378.2,480.0 379.7,479.4 381.2,478.8 382.7,478.2 383.8,477.7 385.6,477.0 387.1,476.4 388.5,475.8 390.0,475.3 391.2,474.8 392.9,474.2 394.4,473.6 395.9,473.1 397.3,472.6 398.8,472.1 400.3,471.6 401.7,471.1 403.2,470.7 404.7,470.2 406.2,469.8 407.6,469.4 409.1,469.1 410.6,468.7 412.0,468.4 413.5,468.1 415.0,467.8 416.4,467.5ZM81.6,576.0 83.1,575.9 84.5,576.8 85.6,577.5 87.5,578.7 88.9,579.6 90.3,580.4 91.9,581.3 93.3,582.2 94.8,583.1 96.3,583.9 97.8,584.7 99.2,585.6 100.4,586.3 102.2,587.2 103.6,588.1 105.1,588.9 106.6,589.7 108.0,590.5 109.5,591.3 111.0,592.1 112.4,592.8 113.9,593.6 115.4,594.4 116.6,595.1 118.3,596.0 119.4,596.5 121.3,597.5 122.7,598.2 124.2,599.0 125.7,599.8 127.1,600.5 128.6,601.3 130.1,602.0 128.6,602.4 127.1,602.4 125.7,602.4 124.2,602.4 122.7,602.4 121.3,602.4 119.8,602.4 118.3,602.4 116.8,602.4 115.4,602.4 113.9,602.4 112.4,602.4 111.0,602.4 109.5,602.4 108.0,602.4 106.6,602.4 105.1,602.4 103.6,602.4 102.2,602.4 100.7,602.4 99.2,602.4 97.8,602.4 96.3,602.4 94.8,602.4 93.3,602.4 91.9,602.4 90.4,602.4 88.9,602.4 87.5,602.4 86.0,602.4 84.5,602.4 83.1,602.4 81.6,602.4 81.6,600.9 81.6,599.5 81.6,598.0 81.6,596.5 81.6,595.1 81.6,593.6 81.6,592.1 81.6,590.7 81.6,589.2 81.6,587.7 81.6,586.3 81.6,584.8 81.6,583.3 81.6,581.9 81.6,580.4 81.6,578.9 81.6,577.5 81.6,576.0Z"/>
<path fill="#e87059" fill-rule="evenodd" d="M81.6,163.8 83.1,163.8 84.5,163.8 86.0,163.8 87.5,163.8 88.9,163.8 90.4,163.8 91.9,163.8 93.3,163.8 94.8,163.8 96.3,163.8 97.8,163.8 99.2,163.8 100.7,163.8 102.2,163.8 103.6,163.8 105.1,163.8 106.6,163.8 108.0,163.8 109.5,164.1 111.0,164.8 112.4,165.5 113.9,166.1 115.2,166.7 116.8,167.5 118.3,168.1 119.8,168.8 121.3,169.5 122.7,170.2 124.2,170.8 125.7,171.5 127.1,172.2 128.6,172.9 130.1,173.5 131.2,174.1 133.0,174.9 134.4,175.5 135.9,176.3 137.4,176.9 138.9,177.6 140.3,178.3 141.8,178.9 143.3,179.6 144.7,180.3 146.2,181.0 147.7,181.6 149.2,182.3 150.5,182.9 152.1,183.6 153.6,184.3 155.0,184.9 156.5,185.6 158.0,186.2 159.4,186.9 160.9,187.5 162.4,188.2 163.7,188.7 165.3,189.4 166.8,190.1 168.2,190.7 169.7,191.3 171.2,191.9 172.7,192.5 174.1,193.1 175.6,193.7 177.1,194.3 178.5,194.9 180.0,195.5 181.5,196.1 182.9,196.6 184.4,197.2 185.9,197.8 187.3,198.3 188.8,198.9 190.3,199.4 191.7,199.9 193.2,200.4 194.7,201.0 196.1,201.5 197.6,201.9 199.1,202.5 200.6,202.9 202.0,203.4 203.5,203.9 205.0,204.3 206.4,204.8 207.9,205.2 209.4,205.7 210.8,206.1 212.3,206.5 213.8,207.0 215.2,207.4 216.7,207.8 218.2,208.2 219.6,208.6 221.1,208.9 222.4,209.3 224.1,209.7 225.5,210.1 227.0,210.4 228.3,210.7 229.9,211.1 231.4,211.5 232.9,211.8 234.3,212.2 235.8,212.5 237.3,212.8 238.7,213.2 240.2,213.5 241.7,213.8 243.1,214.1 244.6,214.4 246.1,214.7 247.5,215.0 249.0,215.3 250.5,215.6 252.0,215.9 253.4,216.2 254.9,216.5 256.4,216.8 257.8,217.1 259.3,217.4 260.8,217.7 262.2,218.0 263.7,218.3 265.2,218.6 266.6,218.9 268.1,219.2 269.6,219.5 271.0,219.8 272.5,220.1 274.0,220.4 275.5,220.7 276.9,221.0 278.4,221.3 279.9,221.6 281.3,221.9 282.8,222.2 284.3,222.6 285.7,222.9 287.2,223.2 288.7,223.6 290.1,223.9 291.6,224.2 293.1,224.6 294.5,225.0 296.0,225.3 297.5,225.7 298.9,226.1 300.4,226.5 301.9,226.9 303.4,227.3 304.8,227.7 306.3,228.1 307.8,228.6 309.2,229.0 310.7,229.5 312.2,229.9 313.6,230.4 315.1,230.9 316.6,231.5 318.0,232.0 319.5,232.5 321.0,233.1 322.4,233.7 323.7,234.2 325.4,234.9 326.8,235.6 328.3,236.3 329.8,237.0 331.3,237.7 332.7,238.5 334.2,239.3 335.5,240.1 337.1,241.1 338.6,242.0 340.1,243.0 341.5,244.0 343.0,245.1 344.0,245.9 345.8,247.4 347.4,248.9 348.9,250.3 350.2,251.8 351.5,253.3 352.7,254.7 353.8,256.2 354.7,257.7 355.6,259.1 356.5,260.6 357.2,262.1 357.9,263.5 358.5,265.0 359.1,266.5 359.6,267.9 360.0,269.4 360.4,270.9 360.7,272.3 361.0,273.8 361.2,275.3 361.4,276.8 361.5,278.2 361.6,279.7 361.6,281.2 361.6,282.6 361.6,284.1 361.5,285.6 361.4,287.0 361.2,288.5 361.0,290.0 360.8,291.4 360.5,292.9 360.1,294.4 359.8,295.8 359.3,297.3 358.9,298.8 358.4,300.2 357.9,301.7 357.3,303.2 356.7,304.6 356.0,306.1 355.3,307.6 354.8,308.7 353.8,310.5 352.9,312.0 352.0,313.4 351.1,314.9 350.3,316.0 349.0,317.8 347.9,319.3 346.8,320.8 345.9,321.7 344.5,323.4 343.0,325.0 341.5,326.5 340.1,327.9 338.6,329.3 337.1,330.6 335.7,331.8 334.2,333.0 332.9,334.0 331.3,335.2 329.8,336.2 328.8,336.9 326.8,338.2 325.4,339.1 324.1,339.8 322.4,340.8 321.0,341.6 319.5,342.4 318.0,343.1 316.6,343.8 315.1,344.5 313.6,345.2 312.5,345.7 310.7,346.4 309.2,347.0 307.8,347.6 306.3,348.2 305.0,348.6 303.4,349.2 301.9,349.7 300.5,350.1 298.9,350.6 297.5,351.0 296.0,351.4 294.5,351.8 293.1,352.1 291.6,352.5 290.1,352.8 288.9,353.0 287.2,353.4 285.7,353.6 284.3,353.9 282.8,354.1 281.3,354.3 279.9,354.5 278.4,354.6 276.9,354.8 275.5,354.9 274.0,355.0 272.5,355.0 271.0,355.1 269.6,355.1 268.1,355.1 266.6,355.1 265.2,355.0 263.7,355.0 262.2,354.9 260.8,354.7 259.3,354.6 257.8,354.4 256.4,354.2 254.9,353.9 253.4,353.6 252.0,353.3 250.7,353.0 249.0,352.6 247.5,352.2 246.1,351.7 244.6,351.2 243.1,350.7 241.7,350.1 240.2,349.4 238.7,348.8 237.3,348.1 235.8,347.3 234.3,346.5 233.0,345.7 231.4,344.7 229.9,343.7 228.5,342.8 227.0,341.6 225.5,340.5 224.1,339.3 222.9,338.4 221.2,336.9 219.6,335.5 218.2,334.1 216.7,332.7 215.2,331.2 213.8,329.7 212.3,328.1 211.0,326.6 209.6,325.2 208.4,323.7 207.1,322.2 205.8,320.8 205.0,319.7 203.5,317.9 202.2,316.4 201.0,314.9 199.8,313.4 198.6,312.0 197.6,310.8 196.2,309.0 195.0,307.6 193.8,306.1 192.6,304.6 191.7,303.6 190.3,301.8 189.0,300.2 187.7,298.8 186.5,297.3 185.2,295.8 184.4,294.9 182.9,293.2 181.5,291.6 180.0,290.0 178.6,288.5 177.2,287.0 175.8,285.6 174.3,284.1 172.9,282.6 171.4,281.2 169.8,279.7 168.2,278.2 166.8,276.9 165.3,275.6 163.8,274.3 162.4,273.1 160.9,271.9 159.7,270.9 158.0,269.5 156.5,268.4 155.0,267.2 154.0,266.5 152.1,265.0 150.6,264.0 149.2,262.9 147.9,262.1 146.2,260.9 144.7,259.9 143.6,259.1 141.8,258.0 140.3,257.0 139.1,256.2 137.4,255.1 135.9,254.2 134.5,253.3 133.0,252.4 131.5,251.4 130.1,250.5 128.6,249.6 127.3,248.9 125.7,247.9 124.2,247.0 122.7,246.1 121.3,245.2 120.1,244.5 118.3,243.4 116.8,242.5 115.4,241.6 113.9,240.7 112.9,240.1 111.0,238.9 109.5,238.0 108.2,237.1 106.6,236.1 105.1,235.2 103.6,234.3 102.2,233.3 100.7,232.4 99.2,231.4 97.8,230.4 96.3,229.5 94.8,228.5 93.3,227.5 91.9,226.4 90.4,225.4 88.9,224.4 87.5,223.3 86.3,222.5 84.5,221.2 83.1,220.1 81.6,219.0 81.6,216.6 81.6,215.1 81.6,213.7 81.6,212.2 81.6,210.7 81.6,209.3 81.6,207.8 81.6,206.3 81.6,204.9 81.6,203.4 81.6,201.9 81.6,200.5 81.6,199.0 81.6,197.5 81.6,196.1 81.6,194.6 81.6,193.1 81.6,191.7 81.6,190.2 81.6,188.7 81.6,187.3 81.6,185.8 81.6,184.3 81.6,182.9 81.6,181.4 81.6,179.9 81.6,178.5 81.6,177.0 81.6,175.5 81.6,174.1 81.6,172.6 81.6,171.1 81.6,169.7 81.6,168.2 81.6,166.7 81.6,165.3 81.6,163.8ZM470.2,163.8 472.2,163.8 473.7,163.8 475.2,163.8 476.6,163.8 478.1,163.8 479.6,163.8 481.0,163.8 482.5,163.8 484.0,163.8 485.5,163.8 486.9,163.8 488.4,163.8 489.9,163.8 491.3,163.8 492.8,163.8 494.3,163.8 495.7,163.8 497.2,163.8 498.7,163.8 500.1,163.8 501.6,163.8 503.1,163.8 504.5,163.8 506.0,163.8 507.5,163.8 509.0,163.8 510.4,163.8 511.9,163.8 513.4,163.8 514.8,163.8 516.3,163.8 517.8,163.8 519.2,163.8 520.7,163.8 520.7,165.3 520.7,166.7 520.7,168.2 520.7,169.7 520.7,171.1 520.7,172.6 520.7,174.1 520.7,175.5 520.7,177.0 520.7,178.5 520.7,179.9 520.7,181.4 520.7,182.9 520.7,184.3 520.7,185.8 520.7,187.3 520.7,188.7 520.7,190.2 520.7,191.7 520.7,193.1 520.7,194.6 520.7,196.1 520.7,197.5 520.7,199.0 520.7,200.5 520.7,201.9 520.7,203.4 520.7,204.9 520.7,206.3 520.7,207.8 520.7,209.3 520.7,210.7 520.7,212.2 520.7,213.7 520.7,215.1 520.7,216.6 520.7,218.1 519.4,218.1 517.8,216.8 516.3,215.6 514.8,214.4 513.9,213.7 512.1,212.2 510.4,210.8 509.0,209.6 507.5,208.3 506.0,207.0 504.5,205.7 503.1,204.3 502.1,203.4 500.5,201.9 499.0,200.5 497.6,199.0 496.1,197.5 494.7,196.1 493.4,194.6 492.0,193.1 490.7,191.7 489.9,190.7 488.4,189.0 487.0,187.3 485.8,185.8 484.6,184.3 483.5,182.9 482.5,181.6 481.3,179.9 480.2,178.5 479.2,177.0 478.1,175.5 477.1,174.1 476.1,172.6 475.2,171.2 474.1,169.7 473.1,168.2 472.2,166.9 471.2,165.3 470.2,163.8ZM408.5,482.1 410.6,481.8 412.0,481.5 413.5,481.4 415.0,481.2 416.4,481.1 417.9,481.0 419.4,481.0 420.8,481.0 422.3,481.1 423.8,481.2 425.2,481.4 426.7,481.6 428.2,481.9 429.6,482.3 431.1,482.7 432.6,483.2 434.1,483.8 435.5,484.5 437.0,485.3 438.5,486.2 439.9,487.2 441.0,488.0 442.7,489.4 444.3,490.9 445.7,492.4 446.9,493.9 448.0,495.3 449.1,496.8 450.1,498.3 451.0,499.7 451.7,500.9 452.6,502.7 453.4,504.1 454.1,505.6 454.8,507.1 455.5,508.5 456.1,509.9 456.7,511.5 457.3,512.9 457.9,514.4 458.4,515.9 459.0,517.3 459.5,518.8 460.0,520.3 460.5,521.7 461.0,523.2 461.5,524.7 461.9,526.1 462.4,527.6 462.9,529.1 463.4,530.5 463.8,532.0 464.3,533.5 464.8,534.9 465.2,536.4 465.7,537.9 466.2,539.3 466.7,540.8 467.2,542.3 467.7,543.7 468.3,545.2 468.8,546.7 469.3,547.9 470.0,549.6 470.6,551.1 471.3,552.5 471.9,554.0 472.7,555.5 473.4,556.9 474.3,558.4 475.2,559.9 476.1,561.3 477.1,562.8 478.1,564.1 479.5,565.7 480.8,567.2 482.2,568.7 483.8,570.1 485.5,571.5 486.9,572.7 488.4,573.8 489.5,574.5 491.3,575.7 492.8,576.7 494.1,577.5 495.7,578.4 497.2,579.2 498.7,580.0 500.1,580.8 501.6,581.6 503.1,582.3 504.5,583.0 506.0,583.8 507.5,584.5 509.0,585.2 510.4,585.9 511.9,586.6 513.4,587.3 514.8,587.9 516.3,588.6 517.6,589.2 519.2,589.9 520.7,590.6 520.7,592.1 520.7,593.6 520.7,595.1 520.7,596.5 520.7,598.0 520.7,599.5 520.7,600.9 520.7,602.4 519.2,602.4 517.8,602.4 516.3,602.4 514.8,602.4 513.4,602.4 511.9,602.4 510.4,602.4 509.0,602.4 507.5,602.4 506.0,602.4 504.5,602.4 503.1,602.4 501.6,602.4 500.1,602.4 498.7,602.4 497.2,602.4 495.7,602.4 494.3,602.4 492.8,602.4 491.3,602.4 489.9,602.4 488.4,602.4 486.9,602.4 485.5,602.4 484.0,602.4 482.5,602.4 481.0,602.4 479.6,602.4 478.1,602.4 476.6,602.4 475.2,602.4 473.7,602.4 472.2,602.4 470.8,602.4 469.3,601.6 467.8,599.5 466.7,598.0 465.7,596.5 464.9,595.5 463.4,593.7 462.1,592.1 460.8,590.7 459.3,589.2 457.8,587.7 456.1,586.3 454.6,585.0 453.1,583.9 451.7,582.9 450.2,581.9 448.7,581.0 447.3,580.1 445.8,579.3 444.3,578.5 442.9,577.8 441.4,577.1 439.9,576.4 438.5,575.7 437.0,575.1 435.7,574.5 434.1,573.9 432.6,573.3 431.1,572.7 429.6,572.2 428.2,571.6 426.7,571.1 425.2,570.6 424.0,570.1 422.3,569.5 420.8,569.0 419.4,568.5 417.9,568.0 416.4,567.5 415.0,567.0 413.5,566.5 412.0,566.0 410.6,565.5 409.1,565.0 407.6,564.5 406.2,564.0 404.7,563.5 403.2,563.0 401.7,562.5 400.3,562.0 398.8,561.4 397.3,560.9 395.9,560.4 394.5,559.9 392.9,559.3 391.5,558.7 390.0,558.1 388.5,557.5 387.1,556.9 385.6,556.3 384.1,555.7 382.7,555.0 381.2,554.4 379.7,553.7 378.2,553.0 376.8,552.3 375.3,551.5 373.8,550.8 372.4,550.0 370.9,549.1 369.4,548.3 368.0,547.4 366.9,546.7 365.0,545.4 363.6,544.4 362.1,543.3 360.8,542.3 359.2,540.8 357.7,539.5 356.2,538.0 354.8,536.4 353.6,534.9 352.6,533.5 351.8,532.2 350.9,530.5 350.3,529.4 349.7,527.6 349.2,526.1 348.9,524.7 348.8,523.2 348.7,521.7 348.8,520.3 349.0,518.8 349.4,517.3 349.9,515.9 350.5,514.4 351.3,512.9 352.3,511.5 353.3,510.1 354.6,508.5 356.0,507.1 357.6,505.6 359.2,504.2 360.6,503.1 362.1,502.0 363.2,501.2 365.0,500.0 366.5,499.1 367.8,498.3 369.4,497.3 370.9,496.5 372.4,495.7 373.8,494.9 375.3,494.1 376.8,493.4 378.2,492.7 379.7,492.0 381.2,491.3 382.7,490.6 384.1,490.0 385.4,489.4 387.1,488.8 388.5,488.2 390.0,487.6 391.5,487.0 392.9,486.5 394.4,486.0 395.9,485.5 397.2,485.0 398.8,484.5 400.3,484.1 401.7,483.7 403.2,483.3 404.7,482.9 406.2,482.6 407.6,482.3ZM81.6,590.7 83.1,591.3 84.5,591.9 86.0,592.6 87.5,593.2 88.9,593.9 90.4,594.6 91.5,595.1 93.3,595.9 94.8,596.5 96.3,597.2 97.8,597.9 99.2,598.5 100.7,599.2 102.2,599.9 103.6,600.5 105.1,601.2 106.6,601.9 107.8,602.4 105.1,602.4 103.6,602.4 102.2,602.4 100.7,602.4 99.2,602.4 97.8,602.4 96.3,602.4 94.8,602.4 93.3,602.4 91.9,602.4 90.4,602.4 88.9,602.4 87.5,602.4 86.0,602.4 84.5,602.4 83.1,602.4 81.6,602.4 81.6,600.9 81.6,599.5 81.6,598.0 81.6,596.5 81.6,595.1 81.6,593.6 81.6,592.1 81.6,590.7Z"/>
<path fill="#f1814d" fill-rule="evenodd" d="M89.3,178.5 91.9,178.2 93.3,178.2 94.8,178.3 96.3,178.4 97.8,178.5 99.2,178.7 100.7,179.0 102.2,179.2 103.6,179.5 105.1,179.8 106.6,180.2 108.0,180.5 109.5,180.9 111.0,181.3 112.4,181.7 113.9,182.2 115.4,182.6 116.8,183.1 118.3,183.5 119.8,184.0 121.3,184.5 122.7,185.0 124.2,185.5 125.7,186.0 127.1,186.6 128.6,187.1 130.1,187.6 131.5,188.2 133.0,188.7 134.5,189.3 135.9,189.8 137.4,190.4 138.9,190.9 140.3,191.5 141.8,192.1 143.3,192.6 144.6,193.1 146.2,193.8 147.7,194.3 149.2,194.9 150.6,195.5 152.1,196.0 153.6,196.6 155.0,197.2 156.5,197.7 158.0,198.3 159.4,198.9 160.9,199.4 162.4,200.0 163.8,200.5 165.3,201.1 166.8,201.6 168.2,202.1 169.7,202.6 171.2,203.2 172.7,203.7 174.1,204.2 175.6,204.7 177.1,205.2 178.5,205.7 180.0,206.2 181.5,206.6 182.9,207.1 184.4,207.6 185.9,208.0 187.3,208.5 188.8,208.9 190.0,209.3 191.7,209.8 193.2,210.2 194.7,210.6 196.1,211.0 197.6,211.4 199.1,211.8 200.6,212.2 202.0,212.6 203.5,212.9 205.0,213.3 206.4,213.7 207.9,214.0 209.4,214.4 210.8,214.7 212.3,215.0 213.8,215.4 215.2,215.7 216.7,216.0 218.2,216.3 219.6,216.6 221.1,216.9 222.6,217.2 224.1,217.5 225.5,217.8 226.9,218.1 228.5,218.4 229.9,218.7 231.4,218.9 232.9,219.2 234.3,219.5 235.8,219.8 237.3,220.0 238.7,220.3 240.2,220.6 241.7,220.8 243.1,221.1 244.6,221.3 246.1,221.6 247.5,221.9 249.0,222.1 250.5,222.4 252.0,222.6 253.4,222.9 254.9,223.2 256.4,223.4 257.8,223.7 259.2,223.9 260.8,224.2 262.2,224.5 263.7,224.8 265.2,225.0 266.6,225.3 268.1,225.6 269.6,225.9 271.0,226.2 272.5,226.5 274.0,226.7 275.5,227.0 276.9,227.3 278.4,227.7 279.9,228.0 281.3,228.3 282.8,228.6 284.3,228.9 285.7,229.3 287.2,229.6 288.7,230.0 290.1,230.3 291.6,230.7 293.1,231.1 294.5,231.5 296.0,231.9 297.5,232.3 298.9,232.7 300.4,233.1 301.9,233.6 303.4,234.0 304.8,234.5 306.3,235.0 307.8,235.5 309.2,236.0 310.7,236.5 312.2,237.0 313.6,237.6 315.1,238.2 316.6,238.8 318.0,239.4 319.5,240.1 321.0,240.8 322.4,241.5 323.9,242.2 325.4,243.0 326.8,243.8 328.0,244.5 329.8,245.6 331.3,246.5 332.6,247.4 334.2,248.6 335.7,249.7 337.1,250.9 338.2,251.8 339.9,253.3 341.3,254.7 342.7,256.2 343.9,257.7 345.1,259.1 345.9,260.3 347.1,262.1 348.0,263.5 348.8,265.0 349.6,266.5 350.2,267.9 350.8,269.4 351.3,270.9 351.8,272.3 352.2,273.8 352.5,275.3 352.8,276.8 353.1,278.2 353.2,279.7 353.4,281.2 353.4,282.6 353.5,284.1 353.4,285.6 353.4,287.0 353.3,288.5 353.1,290.0 352.9,291.4 352.6,292.9 352.3,294.4 352.0,295.8 351.6,297.3 351.1,298.8 350.6,300.2 350.1,301.7 349.5,303.2 348.9,304.6 348.2,306.1 347.5,307.6 346.7,309.0 345.9,310.3 344.9,312.0 344.0,313.4 343.0,314.8 341.9,316.4 340.7,317.8 339.5,319.3 338.6,320.3 337.1,321.9 335.7,323.4 334.2,324.8 332.7,326.2 331.3,327.4 329.8,328.6 328.6,329.6 326.8,330.9 325.4,331.9 323.9,332.9 322.4,333.8 321.0,334.7 319.8,335.4 318.0,336.4 316.6,337.2 315.1,337.9 313.6,338.7 312.2,339.4 310.7,340.0 309.2,340.6 307.8,341.2 306.3,341.8 304.8,342.4 303.7,342.8 301.9,343.4 300.4,343.8 299.1,344.2 297.5,344.7 296.0,345.1 294.5,345.5 293.1,345.8 291.6,346.1 290.1,346.4 288.7,346.7 287.2,347.0 285.9,347.2 284.3,347.4 282.8,347.6 281.3,347.7 279.9,347.9 278.4,348.0 276.9,348.1 275.5,348.1 274.0,348.2 272.5,348.2 271.0,348.2 269.6,348.1 268.1,348.0 266.6,347.9 265.2,347.8 263.7,347.7 262.2,347.5 260.8,347.2 259.3,347.0 257.8,346.7 256.4,346.4 254.9,346.0 253.6,345.7 252.0,345.2 250.5,344.7 249.0,344.2 247.5,343.7 246.1,343.1 244.6,342.5 243.1,341.8 241.7,341.1 240.2,340.3 238.7,339.5 237.3,338.6 235.8,337.7 234.6,336.9 232.9,335.7 231.4,334.6 229.9,333.5 228.7,332.5 227.0,331.1 225.5,329.8 224.1,328.5 222.6,327.1 221.1,325.6 219.6,324.1 218.2,322.6 216.7,321.0 215.2,319.4 213.9,317.8 212.6,316.4 211.4,314.9 210.2,313.4 209.4,312.5 207.9,310.7 206.6,309.0 205.4,307.6 204.3,306.1 203.5,305.1 202.0,303.2 200.8,301.7 199.7,300.2 198.5,298.8 197.6,297.6 196.3,295.8 195.1,294.4 194.0,292.9 193.2,291.9 191.7,290.1 190.5,288.5 189.3,287.0 188.1,285.6 186.9,284.1 185.9,282.9 184.4,281.2 183.2,279.7 181.9,278.2 180.6,276.8 179.3,275.3 177.9,273.8 177.1,272.9 175.6,271.3 174.1,269.8 172.7,268.3 171.2,266.8 169.7,265.4 168.2,264.0 166.8,262.6 165.3,261.3 163.8,260.0 162.9,259.1 161.2,257.7 159.5,256.2 158.0,255.0 156.5,253.8 155.0,252.6 154.0,251.8 152.1,250.3 150.6,249.2 149.2,248.1 147.7,247.0 146.2,246.0 144.7,244.9 143.3,243.8 142.1,243.0 140.3,241.8 138.9,240.8 137.4,239.7 135.9,238.7 134.5,237.7 133.0,236.7 131.5,235.7 130.1,234.7 128.6,233.7 127.2,232.7 125.7,231.7 124.2,230.7 122.9,229.8 121.3,228.6 119.8,227.6 118.8,226.9 116.8,225.5 115.4,224.4 113.9,223.3 112.8,222.5 111.0,221.1 109.5,220.0 108.0,218.8 106.6,217.6 105.3,216.6 103.6,215.2 102.2,213.9 100.7,212.6 99.2,211.3 97.8,209.9 96.3,208.5 94.8,207.0 93.3,205.5 91.9,203.9 90.4,202.2 89.0,200.5 87.9,199.0 86.9,197.5 86.0,196.2 85.1,194.6 84.3,193.1 83.6,191.7 83.1,190.4 82.5,188.7 82.2,187.3 82.1,185.8 82.2,184.3 82.6,182.9 83.4,181.4 84.5,180.3 86.0,179.4 87.5,178.9 88.9,178.5ZM405.3,501.2 407.6,500.9 409.1,500.7 410.6,500.7 412.0,500.6 413.5,500.7 415.0,500.8 416.4,501.0 417.9,501.3 419.4,501.7 420.8,502.2 422.0,502.7 423.8,503.5 425.2,504.4 426.7,505.4 428.2,506.7 429.6,508.1 431.1,509.9 432.2,511.5 433.1,512.9 433.8,514.4 434.5,515.9 435.0,517.3 435.5,518.8 435.9,520.3 436.2,521.7 436.4,523.2 436.5,524.7 436.6,526.1 436.5,527.6 436.4,529.1 436.2,530.5 435.8,532.0 435.3,533.5 434.7,534.9 433.8,536.4 432.6,537.9 431.1,539.2 429.6,540.2 428.2,541.0 426.7,541.6 425.2,542.1 423.8,542.5 422.3,542.8 420.8,543.0 419.4,543.1 417.9,543.2 416.4,543.2 415.0,543.1 413.5,543.1 412.0,542.9 410.6,542.8 409.1,542.6 407.6,542.3 406.2,542.1 404.7,541.7 403.2,541.4 401.7,541.0 400.3,540.6 398.8,540.1 397.3,539.6 395.9,539.1 394.4,538.5 392.9,537.9 391.5,537.1 390.0,536.4 388.5,535.5 387.1,534.6 385.6,533.6 384.1,532.4 382.7,531.0 381.2,529.4 379.9,527.6 379.2,526.1 378.7,524.7 378.4,523.2 378.3,521.7 378.4,520.3 378.7,518.8 379.2,517.3 380.0,515.9 380.9,514.4 382.1,512.9 383.6,511.5 385.2,510.0 387.1,508.6 388.5,507.7 390.0,506.8 391.5,506.0 392.9,505.2 394.4,504.5 395.9,503.9 397.3,503.3 398.8,502.8 400.3,502.4 401.7,502.0 403.2,501.6 404.7,501.3Z"/>
<path fill="#f89540" fill-rule="evenodd" d="M166.0,222.5 168.2,222.1 169.7,221.9 171.2,221.8 172.7,221.7 174.1,221.7 175.6,221.7 177.1,221.7 178.5,221.8 180.0,221.9 181.5,221.9 182.9,222.0 184.4,222.1 185.9,222.2 187.3,222.3 188.8,222.5 190.3,222.6 191.7,222.7 193.2,222.9 194.7,223.0 196.1,223.2 197.6,223.3 199.1,223.5 200.6,223.6 202.0,223.7 203.5,223.9 205.0,224.1 206.4,224.2 207.9,224.4 209.4,224.5 210.8,224.7 212.3,224.8 213.8,225.0 215.2,225.2 216.7,225.3 218.2,225.5 219.6,225.6 221.1,225.8 222.6,226.0 224.1,226.1 225.5,226.3 227.0,226.5 228.5,226.6 229.9,226.8 231.4,227.0 232.9,227.2 234.3,227.3 235.8,227.5 237.3,227.7 238.7,227.9 240.2,228.0 241.7,228.2 243.1,228.4 244.6,228.6 246.1,228.8 247.5,229.0 249.0,229.2 250.5,229.4 252.0,229.6 253.4,229.8 254.9,230.0 256.4,230.2 257.8,230.5 259.3,230.7 260.8,230.9 262.2,231.2 263.7,231.4 265.2,231.6 266.6,231.9 268.1,232.1 269.6,232.4 271.0,232.7 272.5,233.0 274.0,233.2 275.5,233.5 276.9,233.8 278.4,234.1 279.9,234.4 281.3,234.8 282.8,235.1 284.3,235.4 285.7,235.8 287.2,236.1 288.7,236.5 290.1,236.9 291.6,237.3 293.1,237.7 294.5,238.1 296.0,238.5 297.5,239.0 298.9,239.4 300.4,239.9 301.9,240.4 303.4,240.9 304.8,241.4 306.3,242.0 307.8,242.5 308.9,243.0 310.7,243.8 312.2,244.4 313.6,245.1 315.1,245.8 316.6,246.5 318.0,247.2 319.5,248.0 321.0,248.9 322.4,249.8 323.9,250.7 325.4,251.7 326.8,252.7 328.3,253.8 329.5,254.7 331.2,256.2 332.7,257.6 334.2,259.1 335.5,260.6 336.8,262.1 337.9,263.5 338.6,264.6 339.8,266.5 340.7,267.9 341.4,269.4 342.1,270.9 342.7,272.3 343.3,273.8 343.7,275.3 344.1,276.8 344.5,278.2 344.7,279.7 345.0,281.2 345.1,282.6 345.2,284.1 345.2,285.6 345.2,287.0 345.2,288.5 345.0,290.0 344.9,291.4 344.6,292.9 344.4,294.4 344.0,295.8 343.6,297.3 343.2,298.8 342.7,300.2 342.1,301.7 341.5,303.1 340.8,304.6 340.1,306.1 339.3,307.6 338.6,308.8 337.6,310.5 336.6,312.0 335.7,313.2 334.4,314.9 333.2,316.4 331.9,317.8 330.5,319.3 329.0,320.8 327.4,322.2 325.7,323.7 323.9,325.1 322.4,326.2 321.0,327.3 319.8,328.1 318.0,329.2 316.6,330.1 315.1,331.0 313.6,331.8 312.2,332.5 310.7,333.2 309.2,333.9 307.8,334.6 306.3,335.2 304.8,335.8 303.4,336.3 301.9,336.9 300.4,337.3 298.9,337.8 297.5,338.2 296.0,338.6 294.5,339.0 293.1,339.4 291.6,339.7 290.1,340.0 288.7,340.2 287.2,340.5 285.7,340.7 284.3,340.8 282.8,341.0 281.3,341.1 279.9,341.2 278.4,341.3 276.9,341.3 275.5,341.3 274.0,341.3 272.5,341.3 271.0,341.2 269.6,341.1 268.1,341.0 266.6,340.8 265.2,340.6 263.7,340.3 262.2,340.1 260.8,339.8 259.3,339.4 257.8,339.0 256.4,338.6 254.9,338.1 253.4,337.6 252.0,337.1 250.5,336.5 249.0,335.9 247.5,335.2 246.1,334.5 244.6,333.7 243.1,332.9 241.7,332.0 240.2,331.1 238.7,330.1 237.3,329.1 235.9,328.1 234.3,326.9 232.9,325.7 231.4,324.4 229.9,323.1 228.9,322.2 227.4,320.8 225.9,319.3 224.5,317.8 223.1,316.4 221.8,314.9 220.5,313.4 219.6,312.4 218.2,310.7 216.8,309.0 215.6,307.6 214.5,306.1 213.3,304.6 212.3,303.3 211.1,301.7 210.0,300.2 208.9,298.8 207.9,297.3 206.8,295.8 205.8,294.4 205.0,293.2 203.7,291.4 202.7,290.0 201.6,288.5 200.6,287.0 199.6,285.6 198.6,284.1 197.6,282.7 196.6,281.2 195.5,279.7 194.7,278.4 193.5,276.8 192.5,275.3 191.7,274.2 190.4,272.3 189.4,270.9 188.4,269.4 187.3,268.0 186.3,266.5 185.2,265.0 184.4,263.9 183.1,262.1 182.0,260.6 181.0,259.1 180.0,257.8 178.8,256.2 177.7,254.7 176.7,253.3 175.6,251.8 174.5,250.3 173.4,248.9 172.7,247.9 171.2,245.9 170.2,244.5 169.1,243.0 168.2,241.8 167.0,240.1 166.1,238.6 165.3,237.4 164.2,235.7 163.4,234.2 162.6,232.7 162.0,231.3 161.5,229.8 161.1,228.3 161.1,226.9 161.5,225.4 162.4,224.3 163.8,223.3 165.3,222.7Z"/>
<path fill="#fca934" fill-rule="evenodd" d="M215.7,237.1 218.2,236.8 219.6,236.7 221.1,236.5 222.6,236.4 224.1,236.3 225.5,236.3 227.0,236.2 228.5,236.2 229.9,236.2 231.4,236.1 232.9,236.1 234.3,236.2 235.8,236.2 237.3,236.2 238.7,236.3 240.2,236.3 241.7,236.4 243.1,236.4 244.6,236.5 246.1,236.6 247.5,236.7 249.0,236.8 250.5,236.9 252.0,237.1 253.4,237.2 254.9,237.4 256.4,237.5 257.8,237.7 259.3,237.8 260.8,238.0 262.2,238.2 263.7,238.4 265.2,238.6 266.6,238.8 268.1,239.0 269.6,239.3 271.0,239.5 272.5,239.8 274.0,240.0 275.5,240.3 276.9,240.6 278.4,240.9 279.9,241.2 281.3,241.5 282.8,241.8 284.3,242.2 285.7,242.6 287.2,242.9 288.7,243.3 290.1,243.7 291.6,244.1 293.1,244.6 294.5,245.0 296.0,245.5 297.3,245.9 298.9,246.5 300.4,247.1 301.9,247.6 303.4,248.2 304.8,248.8 306.3,249.4 307.8,250.1 309.2,250.8 310.7,251.6 312.2,252.3 313.6,253.1 315.1,254.0 316.3,254.7 318.0,255.9 319.5,256.9 320.5,257.7 322.4,259.1 323.9,260.5 325.4,261.8 326.8,263.3 328.3,265.0 329.5,266.5 330.6,267.9 331.3,269.0 332.4,270.9 333.2,272.3 333.9,273.8 334.5,275.3 335.0,276.8 335.5,278.2 335.9,279.7 336.2,281.2 336.4,282.6 336.6,284.1 336.7,285.6 336.7,287.0 336.7,288.5 336.6,290.0 336.5,291.4 336.3,292.9 336.0,294.4 335.7,295.8 335.3,297.3 334.8,298.8 334.3,300.2 333.7,301.7 333.0,303.2 332.3,304.6 331.5,306.1 330.6,307.6 329.8,308.8 328.6,310.5 327.5,312.0 326.3,313.4 325.4,314.4 323.9,316.0 322.4,317.4 321.0,318.7 319.5,319.9 318.5,320.8 316.6,322.2 315.1,323.2 313.6,324.1 312.2,325.0 310.7,325.8 309.2,326.6 307.8,327.4 306.3,328.1 304.8,328.7 303.4,329.3 301.9,329.9 300.4,330.4 298.9,330.9 297.5,331.4 296.0,331.8 294.5,332.2 293.4,332.5 291.6,332.9 290.1,333.2 288.7,333.4 287.2,333.7 285.7,333.9 284.3,334.0 282.8,334.1 281.3,334.2 279.9,334.3 278.4,334.3 276.9,334.3 275.5,334.3 274.0,334.2 272.5,334.1 271.0,334.0 269.6,333.8 268.1,333.6 266.6,333.4 265.2,333.1 263.7,332.8 262.2,332.4 260.8,332.0 259.3,331.6 257.8,331.1 256.4,330.5 254.9,330.0 253.4,329.3 252.0,328.7 250.8,328.1 249.0,327.2 247.5,326.4 246.1,325.5 244.6,324.6 243.3,323.7 241.7,322.5 240.2,321.4 238.7,320.3 237.6,319.3 235.9,317.8 234.3,316.4 232.9,315.0 231.4,313.5 229.9,312.0 228.6,310.5 227.3,309.0 226.0,307.6 224.8,306.1 224.1,305.1 222.6,303.2 221.4,301.7 220.4,300.2 219.6,299.2 218.3,297.3 217.3,295.8 216.3,294.4 215.4,292.9 214.4,291.4 213.8,290.4 212.6,288.5 211.7,287.0 210.9,285.6 210.0,284.1 209.4,283.0 208.4,281.2 207.6,279.7 206.8,278.2 206.0,276.8 205.3,275.3 204.5,273.8 203.8,272.3 203.1,270.9 202.5,269.4 201.8,267.9 201.2,266.5 200.6,265.0 200.1,263.5 199.5,262.1 199.1,260.7 198.6,259.1 198.2,257.7 197.9,256.2 197.7,254.7 197.5,253.3 197.4,251.8 197.5,250.3 197.7,248.9 198.0,247.4 198.6,245.9 199.5,244.5 200.6,243.2 202.0,241.9 203.5,240.9 205.0,240.1 206.4,239.4 207.9,238.9 209.4,238.5 210.8,238.1 212.3,237.7 213.8,237.5 215.2,237.2Z"/>
<path fill="#febe2a" fill-rule="evenodd" d="M241.3,245.9 243.1,245.8 244.6,245.7 246.1,245.6 247.5,245.5 249.0,245.5 250.5,245.5 252.0,245.5 253.4,245.5 254.9,245.5 256.4,245.6 257.8,245.6 259.3,245.7 260.8,245.8 262.2,245.9 263.7,246.1 265.2,246.2 266.6,246.4 268.1,246.5 269.6,246.7 271.0,246.9 272.5,247.2 274.0,247.4 275.5,247.6 276.9,247.9 278.4,248.2 279.9,248.5 281.3,248.8 282.8,249.2 284.3,249.5 285.7,249.9 287.2,250.3 288.7,250.7 290.1,251.2 291.6,251.6 293.1,252.1 294.5,252.6 296.0,253.2 297.5,253.7 298.9,254.3 300.4,255.0 301.9,255.6 303.1,256.2 304.8,257.1 305.9,257.7 307.8,258.7 309.2,259.6 310.7,260.6 312.2,261.6 313.6,262.7 314.7,263.5 316.4,265.0 318.0,266.5 319.3,267.9 320.6,269.4 321.7,270.9 322.4,271.9 323.6,273.8 324.4,275.3 325.1,276.8 325.7,278.2 326.2,279.7 326.7,281.2 327.0,282.6 327.3,284.1 327.4,285.6 327.5,287.0 327.6,288.5 327.5,290.0 327.4,291.4 327.2,292.9 326.9,294.4 326.6,295.8 326.1,297.3 325.6,298.8 325.0,300.2 324.4,301.7 323.6,303.2 322.8,304.6 321.8,306.1 321.0,307.3 319.6,309.0 318.4,310.5 317.0,312.0 315.4,313.4 313.7,314.9 312.2,316.1 310.7,317.2 309.2,318.2 307.8,319.1 306.3,319.9 304.8,320.7 303.4,321.4 301.9,322.1 300.4,322.7 298.9,323.3 297.5,323.8 296.0,324.3 294.5,324.7 293.1,325.1 291.6,325.5 290.1,325.8 288.7,326.1 287.2,326.3 285.7,326.5 284.4,326.6 282.8,326.7 281.3,326.8 279.9,326.9 278.4,326.9 276.9,326.8 275.5,326.7 274.0,326.6 272.5,326.5 271.0,326.3 269.6,326.0 268.1,325.7 266.6,325.4 265.2,325.0 263.7,324.6 262.2,324.1 260.9,323.7 259.3,323.1 257.8,322.5 256.4,321.8 254.9,321.1 253.4,320.3 252.0,319.5 250.5,318.6 249.3,317.8 247.5,316.6 246.1,315.5 244.6,314.4 243.5,313.4 241.8,312.0 240.2,310.5 238.7,309.0 237.3,307.6 236.0,306.1 234.7,304.6 233.5,303.2 232.4,301.7 231.4,300.4 230.2,298.8 229.2,297.3 228.5,296.2 227.3,294.4 226.4,292.9 225.5,291.5 224.7,290.0 224.1,288.8 223.1,287.0 222.4,285.6 221.7,284.1 221.1,282.9 220.4,281.2 219.8,279.7 219.2,278.2 218.7,276.8 218.3,275.3 217.8,273.8 217.5,272.3 217.1,270.9 216.9,269.4 216.7,267.9 216.5,266.5 216.5,265.0 216.5,263.5 216.6,262.1 216.9,260.6 217.3,259.1 217.9,257.7 218.6,256.2 219.6,254.7 220.9,253.3 222.6,251.9 224.1,250.9 225.5,250.0 227.0,249.3 228.5,248.7 229.9,248.2 231.4,247.8 232.7,247.4 234.3,247.0 235.8,246.7 237.3,246.5 238.7,246.3 240.2,246.1Z"/>
<path fill="#fbd524" fill-rule="evenodd" d="M249.8,256.2 252.0,255.8 253.4,255.6 254.9,255.4 256.4,255.3 257.8,255.2 259.3,255.1 260.8,255.0 262.2,255.0 263.7,255.0 265.2,255.1 266.6,255.1 268.1,255.2 269.6,255.4 271.0,255.5 272.5,255.7 274.0,255.9 275.5,256.1 276.9,256.3 278.4,256.6 279.9,256.9 281.3,257.2 282.8,257.6 284.3,258.0 285.7,258.4 287.2,258.8 288.7,259.3 290.1,259.8 291.6,260.3 293.1,260.9 294.5,261.5 295.8,262.1 297.5,262.9 298.7,263.5 300.4,264.5 301.9,265.4 303.4,266.4 304.8,267.4 306.3,268.6 307.3,269.4 308.9,270.9 310.3,272.3 311.5,273.8 312.6,275.3 313.5,276.8 314.4,278.2 315.1,279.7 315.6,281.2 316.1,282.6 316.5,284.1 316.8,285.6 317.0,287.0 317.0,288.5 317.0,290.0 316.9,291.4 316.7,292.9 316.4,294.4 316.0,295.8 315.5,297.3 314.8,298.8 314.1,300.2 313.3,301.7 312.3,303.2 311.2,304.6 309.9,306.1 308.5,307.6 306.8,309.0 305.0,310.5 303.4,311.6 301.9,312.5 300.4,313.4 298.9,314.1 297.5,314.8 296.0,315.4 294.5,315.9 293.2,316.4 291.6,316.8 290.1,317.2 288.7,317.5 287.2,317.8 285.7,318.0 284.3,318.2 282.8,318.3 281.3,318.3 279.9,318.4 278.4,318.3 276.9,318.2 275.5,318.1 274.0,317.9 272.5,317.7 271.0,317.4 269.6,317.1 268.1,316.7 266.9,316.4 265.2,315.8 263.7,315.2 262.2,314.6 260.8,313.9 259.3,313.2 257.8,312.4 256.4,311.5 254.9,310.6 253.4,309.5 252.0,308.4 250.9,307.6 249.2,306.1 247.6,304.6 246.2,303.2 244.9,301.7 243.6,300.2 242.4,298.8 241.7,297.7 240.3,295.8 239.4,294.4 238.7,293.3 237.7,291.4 236.9,290.0 236.2,288.5 235.5,287.0 234.9,285.6 234.4,284.1 233.9,282.6 233.5,281.2 233.1,279.7 232.9,278.2 232.7,276.8 232.5,275.3 232.5,273.8 232.6,272.3 232.7,270.9 233.0,269.4 233.5,267.9 234.1,266.5 234.9,265.0 235.8,263.8 237.3,262.1 238.7,260.9 240.2,259.9 241.5,259.1 243.1,258.3 244.6,257.7 246.1,257.2 247.5,256.8 249.0,256.4Z"/>
<path fill="#f4ed27" fill-rule="evenodd" d="M261.2,267.9 263.7,267.4 265.2,267.1 266.6,266.9 268.1,266.8 269.6,266.8 271.0,266.8 272.5,266.8 274.0,266.9 275.5,267.1 276.9,267.3 278.4,267.5 279.9,267.8 281.3,268.2 282.8,268.6 284.3,269.0 285.7,269.5 287.2,270.1 288.7,270.8 290.1,271.5 291.6,272.3 293.1,273.2 294.5,274.2 296.0,275.3 297.5,276.7 298.9,278.2 300.1,279.7 301.0,281.2 301.8,282.6 302.4,284.1 302.8,285.6 303.1,287.0 303.2,288.5 303.2,290.0 303.1,291.4 302.7,292.9 302.3,294.4 301.6,295.8 300.8,297.3 299.7,298.8 298.9,299.7 297.5,301.2 296.0,302.4 294.9,303.2 293.1,304.2 291.6,304.9 290.1,305.5 288.7,306.1 287.2,306.5 285.7,306.8 284.3,307.0 282.8,307.2 281.3,307.3 279.9,307.3 278.4,307.3 276.9,307.1 275.5,306.9 274.0,306.7 272.5,306.3 271.0,305.9 269.6,305.4 268.1,304.8 266.6,304.1 265.2,303.4 263.7,302.5 262.4,301.7 260.8,300.5 259.3,299.2 257.8,297.8 256.4,296.2 254.9,294.4 253.8,292.9 252.9,291.4 252.2,290.0 251.5,288.5 251.0,287.0 250.5,285.6 250.2,284.1 250.0,282.6 249.9,281.2 250.0,279.7 250.2,278.2 250.6,276.8 251.3,275.3 252.0,274.1 253.4,272.3 254.9,271.0 256.4,270.0 257.4,269.4 259.3,268.6 260.8,268.1Z"/></g>
<line x1="81.6" y1="346.5" x2="520.7" y2="346.5" stroke="#32cd32" stroke-width="2.43" stroke-dasharray="9,3.94"/>
<line x1="437.3" y1="602.4" x2="437.3" y2="163.8" stroke="#6495ed" stroke-width="2.60" stroke-dasharray="9,3.94"/>
<line x1="301.2" y1="383.2" x2="174.0" y2="523.0" stroke="#000" stroke-width="2.4"/>
<path d="M231.1,452.6 L227.6,463.0 L237.6,458.6" fill="none" stroke="#000" stroke-width="2.0" stroke-linejoin="miter"/>
<polyline points="301.2,383.2 389.5,383.2 389.5,380.8 392.7,380.8 392.7,378.3 395.8,378.3 395.8,375.9 399.0,375.9 399.0,373.4 402.2,373.4 402.2,371.0 405.4,371.0 405.4,368.5 408.5,368.5 408.5,366.1 411.7,366.1 411.7,363.6 414.9,363.6 414.9,361.2 418.1,361.2 418.1,358.7 421.2,358.7 421.2,356.3 424.4,356.3 424.4,353.8 427.6,353.8 427.6,351.4 430.8,351.4 430.8,348.9 433.9,348.9 433.9,346.5 437.1,346.5" fill="none" stroke="#fff" stroke-width="2.2" stroke-linejoin="miter"/>
<polyline points="301.2,383.2 301.2,419.5 338.8,419.5 338.8,409.0 349.7,409.0 349.7,405.7 353.8,405.7 353.8,403.2 355.5,403.2 355.5,402.1 357.4,402.1 357.4,401.1 359.4,401.1 359.4,400.0 361.4,400.0 361.4,399.0 363.3,399.0 363.3,397.9 365.2,397.9 365.2,396.9 367.2,396.9 367.2,395.8 369.2,395.8 369.2,394.8 371.1,394.8 371.1,393.7 373.1,393.7 373.1,392.6 375.0,392.6 375.0,391.6 376.9,391.6 376.9,390.5 378.9,390.5 378.9,389.5 380.9,389.5 380.9,388.4 382.8,388.4 382.8,387.4 384.8,387.4 384.8,386.3 386.7,386.3 386.7,385.3 388.7,385.3 388.7,384.2 390.6,384.2 393.7,384.2 393.7,381.7 396.8,381.7 396.8,379.2 399.9,379.2 399.9,376.7 403.0,376.7 403.0,374.1 406.1,374.1 406.1,371.6 409.2,371.6 409.2,369.1 412.3,369.1 412.3,366.6 415.4,366.6 415.4,364.1 418.5,364.1 418.5,361.6 421.6,361.6 421.6,359.1 424.7,359.1 424.7,356.6 427.8,356.6 427.8,354.0 430.9,354.0 430.9,351.5 434.0,351.5 434.0,349.0 437.1,349.0 437.1,346.5" fill="none" stroke="#fff" stroke-width="2.2" stroke-linejoin="miter"/>
<path d="M342.0,387.6 L352.0,383.2 L342.0,378.8" fill="none" stroke="#fff" stroke-width="2.0" stroke-linejoin="miter"/>
<path d="M296.8,397.0 L301.2,407.0 L305.6,397.0" fill="none" stroke="#fff" stroke-width="2.0" stroke-linejoin="miter"/>
<circle cx="301.2" cy="383.2" r="8.1" fill="#fff" stroke="#000" stroke-width="3.0"/>
<path d="M437.10,335.70 439.52,343.16 447.37,343.16 441.02,347.77 443.45,355.24 437.10,350.63 430.75,355.24 433.18,347.77 426.83,343.16 434.68,343.16Z" fill="#000" stroke="#fff" stroke-width="1.50" stroke-linejoin="miter"/>
<path d="M174.00,512.20 176.42,519.66 184.27,519.66 177.92,524.27 180.35,531.74 174.00,527.13 167.65,531.74 170.08,524.27 163.73,519.66 171.58,519.66Z" fill="#fff" stroke="#000" stroke-width="1.50" stroke-linejoin="miter"/>
<rect x="81.6" y="163.8" width="439.1" height="438.6" fill="none" stroke="#000" stroke-width="1.4"/>
<rect x="81.6" y="0.6" width="439.1" height="140.0" fill="#dcdcdc"/>
<line x1="81.60" y1="87.72" x2="83.60" y2="87.37" stroke="#7f03a7" stroke-width="2.1" stroke-linecap="round"/>
<line x1="83.60" y1="87.37" x2="85.59" y2="87.03" stroke="#8104a7" stroke-width="2.1" stroke-linecap="round"/>
<line x1="85.59" y1="87.03" x2="87.59" y2="86.70" stroke="#8104a7" stroke-width="2.1" stroke-linecap="round"/>
<line x1="87.59" y1="86.70" x2="89.58" y2="86.37" stroke="#8204a7" stroke-width="2.1" stroke-linecap="round"/>
<line x1="89.58" y1="86.37" x2="91.58" y2="86.06" stroke="#8204a7" stroke-width="2.1" stroke-linecap="round"/>
<line x1="91.58" y1="86.06" x2="93.58" y2="85.75" stroke="#8405a6" stroke-width="2.1" stroke-linecap="round"/>
<line x1="93.58" y1="85.75" x2="95.57" y2="85.44" stroke="#8405a6" stroke-width="2.1" stroke-linecap="round"/>
<line x1="95.57" y1="85.44" x2="97.57" y2="85.14" stroke="#8506a6" stroke-width="2.1" stroke-linecap="round"/>
<line x1="97.57" y1="85.14" x2="99.56" y2="84.84" stroke="#8506a6" stroke-width="2.1" stroke-linecap="round"/>
<line x1="99.56" y1="84.84" x2="101.56" y2="84.54" stroke="#8506a6" stroke-width="2.1" stroke-linecap="round"/>
<line x1="101.56" y1="84.54" x2="103.55" y2="84.24" stroke="#8607a6" stroke-width="2.1" stroke-linecap="round"/>
<line x1="103.55" y1="84.24" x2="105.55" y2="83.95" stroke="#8607a6" stroke-width="2.1" stroke-linecap="round"/>
<line x1="105.55" y1="83.95" x2="107.55" y2="83.65" stroke="#8807a5" stroke-width="2.1" stroke-linecap="round"/>
<line x1="107.55" y1="83.65" x2="109.54" y2="83.35" stroke="#8807a5" stroke-width="2.1" stroke-linecap="round"/>
<line x1="109.54" y1="83.35" x2="111.54" y2="83.04" stroke="#8908a5" stroke-width="2.1" stroke-linecap="round"/>
<line x1="111.54" y1="83.04" x2="113.53" y2="82.73" stroke="#8908a5" stroke-width="2.1" stroke-linecap="round"/>
<line x1="113.53" y1="82.73" x2="115.53" y2="82.41" stroke="#8b09a4" stroke-width="2.1" stroke-linecap="round"/>
<line x1="115.53" y1="82.41" x2="117.53" y2="82.08" stroke="#8b09a4" stroke-width="2.1" stroke-linecap="round"/>
<line x1="117.53" y1="82.08" x2="119.52" y2="81.74" stroke="#8b09a4" stroke-width="2.1" stroke-linecap="round"/>
<line x1="119.52" y1="81.74" x2="121.52" y2="81.39" stroke="#8c0aa4" stroke-width="2.1" stroke-linecap="round"/>
<line x1="121.52" y1="81.39" x2="123.51" y2="81.02" stroke="#8e0ca4" stroke-width="2.1" stroke-linecap="round"/>
<line x1="123.51" y1="81.02" x2="125.51" y2="80.65" stroke="#8e0ca4" stroke-width="2.1" stroke-linecap="round"/>
<line x1="125.51" y1="80.65" x2="127.51" y2="80.25" stroke="#8f0da3" stroke-width="2.1" stroke-linecap="round"/>
<line x1="127.51" y1="80.25" x2="129.50" y2="79.84" stroke="#8f0da3" stroke-width="2.1" stroke-linecap="round"/>
<line x1="129.50" y1="79.84" x2="131.50" y2="79.41" stroke="#900ea3" stroke-width="2.1" stroke-linecap="round"/>
<line x1="131.50" y1="79.41" x2="133.49" y2="78.96" stroke="#900ea3" stroke-width="2.1" stroke-linecap="round"/>
<line x1="133.49" y1="78.96" x2="135.49" y2="78.49" stroke="#920fa2" stroke-width="2.1" stroke-linecap="round"/>
<line x1="135.49" y1="78.49" x2="137.49" y2="77.99" stroke="#9310a1" stroke-width="2.1" stroke-linecap="round"/>
<line x1="137.49" y1="77.99" x2="139.48" y2="77.47" stroke="#9511a1" stroke-width="2.1" stroke-linecap="round"/>
<line x1="139.48" y1="77.47" x2="141.48" y2="76.93" stroke="#9511a1" stroke-width="2.1" stroke-linecap="round"/>
<line x1="141.48" y1="76.93" x2="143.47" y2="76.36" stroke="#9612a0" stroke-width="2.1" stroke-linecap="round"/>
<line x1="143.47" y1="76.36" x2="145.47" y2="75.76" stroke="#9713a0" stroke-width="2.1" stroke-linecap="round"/>
<line x1="145.47" y1="75.76" x2="147.47" y2="75.14" stroke="#99149f" stroke-width="2.1" stroke-linecap="round"/>
<line x1="147.47" y1="75.14" x2="149.46" y2="74.48" stroke="#9a159e" stroke-width="2.1" stroke-linecap="round"/>
<line x1="149.46" y1="74.48" x2="151.46" y2="73.80" stroke="#9b179e" stroke-width="2.1" stroke-linecap="round"/>
<line x1="151.46" y1="73.80" x2="153.45" y2="73.09" stroke="#9d189d" stroke-width="2.1" stroke-linecap="round"/>
<line x1="153.45" y1="73.09" x2="155.45" y2="72.34" stroke="#9e199c" stroke-width="2.1" stroke-linecap="round"/>
<line x1="155.45" y1="72.34" x2="157.44" y2="71.57" stroke="#9f1a9b" stroke-width="2.1" stroke-linecap="round"/>
<line x1="157.44" y1="71.57" x2="159.44" y2="70.76" stroke="#a01b9b" stroke-width="2.1" stroke-linecap="round"/>
<line x1="159.44" y1="70.76" x2="161.44" y2="69.92" stroke="#a21c9a" stroke-width="2.1" stroke-linecap="round"/>
<line x1="161.44" y1="69.92" x2="163.43" y2="69.05" stroke="#a41e98" stroke-width="2.1" stroke-linecap="round"/>
<line x1="163.43" y1="69.05" x2="165.43" y2="68.15" stroke="#a51f97" stroke-width="2.1" stroke-linecap="round"/>
<line x1="165.43" y1="68.15" x2="167.42" y2="67.22" stroke="#a72197" stroke-width="2.1" stroke-linecap="round"/>
<line x1="167.42" y1="67.22" x2="169.42" y2="66.26" stroke="#a92395" stroke-width="2.1" stroke-linecap="round"/>
<line x1="169.42" y1="66.26" x2="171.42" y2="65.26" stroke="#aa2494" stroke-width="2.1" stroke-linecap="round"/>
<line x1="171.42" y1="65.26" x2="173.41" y2="64.23" stroke="#ad2692" stroke-width="2.1" stroke-linecap="round"/>
<line x1="173.41" y1="64.23" x2="175.41" y2="63.18" stroke="#ae2791" stroke-width="2.1" stroke-linecap="round"/>
<line x1="175.41" y1="63.18" x2="177.40" y2="62.10" stroke="#b02a8f" stroke-width="2.1" stroke-linecap="round"/>
<line x1="177.40" y1="62.10" x2="179.40" y2="60.98" stroke="#b12b8f" stroke-width="2.1" stroke-linecap="round"/>
<line x1="179.40" y1="60.98" x2="181.40" y2="59.84" stroke="#b42d8d" stroke-width="2.1" stroke-linecap="round"/>
<line x1="181.40" y1="59.84" x2="183.39" y2="58.68" stroke="#b62f8b" stroke-width="2.1" stroke-linecap="round"/>
<line x1="183.39" y1="58.68" x2="185.39" y2="57.49" stroke="#b7308a" stroke-width="2.1" stroke-linecap="round"/>
<line x1="185.39" y1="57.49" x2="187.38" y2="56.27" stroke="#b93388" stroke-width="2.1" stroke-linecap="round"/>
<line x1="187.38" y1="56.27" x2="189.38" y2="55.04" stroke="#bb3586" stroke-width="2.1" stroke-linecap="round"/>
<line x1="189.38" y1="55.04" x2="191.38" y2="53.78" stroke="#bd3784" stroke-width="2.1" stroke-linecap="round"/>
<line x1="191.38" y1="53.78" x2="193.37" y2="52.51" stroke="#bf3982" stroke-width="2.1" stroke-linecap="round"/>
<line x1="193.37" y1="52.51" x2="195.37" y2="51.22" stroke="#c03b81" stroke-width="2.1" stroke-linecap="round"/>
<line x1="195.37" y1="51.22" x2="197.36" y2="49.91" stroke="#c23d80" stroke-width="2.1" stroke-linecap="round"/>
<line x1="197.36" y1="49.91" x2="199.36" y2="48.59" stroke="#c43f7e" stroke-width="2.1" stroke-linecap="round"/>
<line x1="199.36" y1="48.59" x2="201.35" y2="47.26" stroke="#c6417c" stroke-width="2.1" stroke-linecap="round"/>
<line x1="201.35" y1="47.26" x2="203.35" y2="45.92" stroke="#c8447a" stroke-width="2.1" stroke-linecap="round"/>
<line x1="203.35" y1="45.92" x2="205.35" y2="44.57" stroke="#ca4678" stroke-width="2.1" stroke-linecap="round"/>
<line x1="205.35" y1="44.57" x2="207.34" y2="43.22" stroke="#cc4876" stroke-width="2.1" stroke-linecap="round"/>
<line x1="207.34" y1="43.22" x2="209.34" y2="41.87" stroke="#ce4a75" stroke-width="2.1" stroke-linecap="round"/>
<line x1="209.34" y1="41.87" x2="211.33" y2="40.52" stroke="#d04d73" stroke-width="2.1" stroke-linecap="round"/>
<line x1="211.33" y1="40.52" x2="213.33" y2="39.17" stroke="#d14f71" stroke-width="2.1" stroke-linecap="round"/>
<line x1="213.33" y1="39.17" x2="215.33" y2="37.83" stroke="#d3516f" stroke-width="2.1" stroke-linecap="round"/>
<line x1="215.33" y1="37.83" x2="217.32" y2="36.50" stroke="#d5536d" stroke-width="2.1" stroke-linecap="round"/>
<line x1="217.32" y1="36.50" x2="219.32" y2="35.18" stroke="#d7566c" stroke-width="2.1" stroke-linecap="round"/>
<line x1="219.32" y1="35.18" x2="221.31" y2="33.87" stroke="#d8586a" stroke-width="2.1" stroke-linecap="round"/>
<line x1="221.31" y1="33.87" x2="223.31" y2="32.58" stroke="#da5a68" stroke-width="2.1" stroke-linecap="round"/>
<line x1="223.31" y1="32.58" x2="225.31" y2="31.31" stroke="#dc5d66" stroke-width="2.1" stroke-linecap="round"/>
<line x1="225.31" y1="31.31" x2="227.30" y2="30.06" stroke="#dc5e66" stroke-width="2.1" stroke-linecap="round"/>
<line x1="227.30" y1="30.06" x2="229.30" y2="28.83" stroke="#de6064" stroke-width="2.1" stroke-linecap="round"/>
<line x1="229.30" y1="28.83" x2="231.29" y2="27.63" stroke="#df6262" stroke-width="2.1" stroke-linecap="round"/>
<line x1="231.29" y1="27.63" x2="233.29" y2="26.47" stroke="#e16560" stroke-width="2.1" stroke-linecap="round"/>
<line x1="233.29" y1="26.47" x2="235.28" y2="25.33" stroke="#e26660" stroke-width="2.1" stroke-linecap="round"/>
<line x1="235.28" y1="25.33" x2="237.28" y2="24.23" stroke="#e3685e" stroke-width="2.1" stroke-linecap="round"/>
<line x1="237.28" y1="24.23" x2="239.28" y2="23.17" stroke="#e56b5c" stroke-width="2.1" stroke-linecap="round"/>
<line x1="239.28" y1="23.17" x2="241.27" y2="22.15" stroke="#e56c5b" stroke-width="2.1" stroke-linecap="round"/>
<line x1="241.27" y1="22.15" x2="243.27" y2="21.18" stroke="#e76e5a" stroke-width="2.1" stroke-linecap="round"/>
<line x1="243.27" y1="21.18" x2="245.26" y2="20.25" stroke="#e87059" stroke-width="2.1" stroke-linecap="round"/>
<line x1="245.26" y1="20.25" x2="247.26" y2="19.37" stroke="#e87158" stroke-width="2.1" stroke-linecap="round"/>
<line x1="247.26" y1="19.37" x2="249.26" y2="18.53" stroke="#ea7356" stroke-width="2.1" stroke-linecap="round"/>
<line x1="249.26" y1="18.53" x2="251.25" y2="17.76" stroke="#ea7455" stroke-width="2.1" stroke-linecap="round"/>
<line x1="251.25" y1="17.76" x2="253.25" y2="17.03" stroke="#eb7654" stroke-width="2.1" stroke-linecap="round"/>
<line x1="253.25" y1="17.03" x2="255.24" y2="16.36" stroke="#ec7754" stroke-width="2.1" stroke-linecap="round"/>
<line x1="255.24" y1="16.36" x2="257.24" y2="15.76" stroke="#ec7853" stroke-width="2.1" stroke-linecap="round"/>
<line x1="257.24" y1="15.76" x2="259.24" y2="15.21" stroke="#ed7952" stroke-width="2.1" stroke-linecap="round"/>
<line x1="259.24" y1="15.21" x2="261.23" y2="14.72" stroke="#ed7952" stroke-width="2.1" stroke-linecap="round"/>
<line x1="261.23" y1="14.72" x2="263.23" y2="14.30" stroke="#ed7b51" stroke-width="2.1" stroke-linecap="round"/>
<line x1="263.23" y1="14.30" x2="265.22" y2="13.95" stroke="#ee7c50" stroke-width="2.1" stroke-linecap="round"/>
<line x1="265.22" y1="13.95" x2="267.22" y2="13.66" stroke="#ee7c50" stroke-width="2.1" stroke-linecap="round"/>
<line x1="267.22" y1="13.66" x2="269.22" y2="13.44" stroke="#ee7c50" stroke-width="2.1" stroke-linecap="round"/>
<line x1="269.22" y1="13.44" x2="271.21" y2="13.29" stroke="#ef7d4f" stroke-width="2.1" stroke-linecap="round"/>
<line x1="271.21" y1="13.29" x2="273.21" y2="13.20" stroke="#ef7d4f" stroke-width="2.1" stroke-linecap="round"/>
<line x1="273.21" y1="13.20" x2="275.20" y2="13.19" stroke="#ef7d4f" stroke-width="2.1" stroke-linecap="round"/>
<line x1="275.20" y1="13.19" x2="277.20" y2="13.25" stroke="#ef7d4f" stroke-width="2.1" stroke-linecap="round"/>
<line x1="277.20" y1="13.25" x2="279.20" y2="13.38" stroke="#ef7d4f" stroke-width="2.1" stroke-linecap="round"/>
<line x1="279.20" y1="13.38" x2="281.19" y2="13.59" stroke="#ef7d4f" stroke-width="2.1" stroke-linecap="round"/>
<line x1="281.19" y1="13.59" x2="283.19" y2="13.86" stroke="#ee7c50" stroke-width="2.1" stroke-linecap="round"/>
<line x1="283.19" y1="13.86" x2="285.18" y2="14.21" stroke="#ee7c50" stroke-width="2.1" stroke-linecap="round"/>
<line x1="285.18" y1="14.21" x2="287.18" y2="14.63" stroke="#ed7b51" stroke-width="2.1" stroke-linecap="round"/>
<line x1="287.18" y1="14.63" x2="289.17" y2="15.12" stroke="#ed7b51" stroke-width="2.1" stroke-linecap="round"/>
<line x1="289.17" y1="15.12" x2="291.17" y2="15.68" stroke="#ed7952" stroke-width="2.1" stroke-linecap="round"/>
<line x1="291.17" y1="15.68" x2="293.17" y2="16.32" stroke="#ec7853" stroke-width="2.1" stroke-linecap="round"/>
<line x1="293.17" y1="16.32" x2="295.16" y2="17.02" stroke="#ec7754" stroke-width="2.1" stroke-linecap="round"/>
<line x1="295.16" y1="17.02" x2="297.16" y2="17.79" stroke="#eb7654" stroke-width="2.1" stroke-linecap="round"/>
<line x1="297.16" y1="17.79" x2="299.15" y2="18.63" stroke="#ea7455" stroke-width="2.1" stroke-linecap="round"/>
<line x1="299.15" y1="18.63" x2="301.15" y2="19.53" stroke="#e97257" stroke-width="2.1" stroke-linecap="round"/>
<line x1="301.15" y1="19.53" x2="303.15" y2="20.50" stroke="#e87158" stroke-width="2.1" stroke-linecap="round"/>
<line x1="303.15" y1="20.50" x2="305.14" y2="21.54" stroke="#e87059" stroke-width="2.1" stroke-linecap="round"/>
<line x1="305.14" y1="21.54" x2="307.14" y2="22.63" stroke="#e66d5a" stroke-width="2.1" stroke-linecap="round"/>
<line x1="307.14" y1="22.63" x2="309.13" y2="23.79" stroke="#e56b5c" stroke-width="2.1" stroke-linecap="round"/>
<line x1="309.13" y1="23.79" x2="311.13" y2="25.00" stroke="#e46a5d" stroke-width="2.1" stroke-linecap="round"/>
<line x1="311.13" y1="25.00" x2="313.13" y2="26.27" stroke="#e3675f" stroke-width="2.1" stroke-linecap="round"/>
<line x1="313.13" y1="26.27" x2="315.12" y2="27.59" stroke="#e16560" stroke-width="2.1" stroke-linecap="round"/>
<line x1="315.12" y1="27.59" x2="317.12" y2="28.96" stroke="#df6262" stroke-width="2.1" stroke-linecap="round"/>
<line x1="317.12" y1="28.96" x2="319.11" y2="30.39" stroke="#de6064" stroke-width="2.1" stroke-linecap="round"/>
<line x1="319.11" y1="30.39" x2="321.11" y2="31.86" stroke="#dc5e66" stroke-width="2.1" stroke-linecap="round"/>
<line x1="321.11" y1="31.86" x2="323.11" y2="33.37" stroke="#db5b67" stroke-width="2.1" stroke-linecap="round"/>
<line x1="323.11" y1="33.37" x2="325.10" y2="34.92" stroke="#d8586a" stroke-width="2.1" stroke-linecap="round"/>
<line x1="325.10" y1="34.92" x2="327.10" y2="36.51" stroke="#d7566c" stroke-width="2.1" stroke-linecap="round"/>
<line x1="327.10" y1="36.51" x2="329.09" y2="38.14" stroke="#d5536d" stroke-width="2.1" stroke-linecap="round"/>
<line x1="329.09" y1="38.14" x2="331.09" y2="39.80" stroke="#d25070" stroke-width="2.1" stroke-linecap="round"/>
<line x1="331.09" y1="39.80" x2="333.08" y2="41.49" stroke="#d14e72" stroke-width="2.1" stroke-linecap="round"/>
<line x1="333.08" y1="41.49" x2="335.08" y2="43.20" stroke="#ce4a75" stroke-width="2.1" stroke-linecap="round"/>
<line x1="335.08" y1="43.20" x2="337.08" y2="44.94" stroke="#cc4876" stroke-width="2.1" stroke-linecap="round"/>
<line x1="337.08" y1="44.94" x2="339.07" y2="46.70" stroke="#c94579" stroke-width="2.1" stroke-linecap="round"/>
<line x1="339.07" y1="46.70" x2="341.07" y2="48.47" stroke="#c7427b" stroke-width="2.1" stroke-linecap="round"/>
<line x1="341.07" y1="48.47" x2="343.06" y2="50.26" stroke="#c43f7e" stroke-width="2.1" stroke-linecap="round"/>
<line x1="343.06" y1="50.26" x2="345.06" y2="52.06" stroke="#c13c80" stroke-width="2.1" stroke-linecap="round"/>
<line x1="345.06" y1="52.06" x2="347.06" y2="53.87" stroke="#bf3982" stroke-width="2.1" stroke-linecap="round"/>
<line x1="347.06" y1="53.87" x2="349.05" y2="55.68" stroke="#bc3685" stroke-width="2.1" stroke-linecap="round"/>
<line x1="349.05" y1="55.68" x2="351.05" y2="57.49" stroke="#ba3487" stroke-width="2.1" stroke-linecap="round"/>
<line x1="351.05" y1="57.49" x2="353.04" y2="59.30" stroke="#b7308a" stroke-width="2.1" stroke-linecap="round"/>
<line x1="353.04" y1="59.30" x2="355.04" y2="61.10" stroke="#b42d8d" stroke-width="2.1" stroke-linecap="round"/>
<line x1="355.04" y1="61.10" x2="357.04" y2="62.90" stroke="#b12b8f" stroke-width="2.1" stroke-linecap="round"/>
<line x1="357.04" y1="62.90" x2="359.03" y2="64.68" stroke="#ae2791" stroke-width="2.1" stroke-linecap="round"/>
<line x1="359.03" y1="64.68" x2="361.03" y2="66.45" stroke="#aa2494" stroke-width="2.1" stroke-linecap="round"/>
<line x1="361.03" y1="66.45" x2="363.02" y2="68.20" stroke="#a82296" stroke-width="2.1" stroke-linecap="round"/>
<line x1="363.02" y1="68.20" x2="365.02" y2="69.93" stroke="#a41e98" stroke-width="2.1" stroke-linecap="round"/>
<line x1="365.02" y1="69.93" x2="367.01" y2="71.64" stroke="#a21c9a" stroke-width="2.1" stroke-linecap="round"/>
<line x1="367.01" y1="71.64" x2="369.01" y2="73.32" stroke="#9e199c" stroke-width="2.1" stroke-linecap="round"/>
<line x1="369.01" y1="73.32" x2="371.01" y2="74.98" stroke="#9b179e" stroke-width="2.1" stroke-linecap="round"/>
<line x1="371.01" y1="74.98" x2="373.00" y2="76.60" stroke="#9713a0" stroke-width="2.1" stroke-linecap="round"/>
<line x1="373.00" y1="76.60" x2="375.00" y2="78.19" stroke="#9511a1" stroke-width="2.1" stroke-linecap="round"/>
<line x1="375.00" y1="78.19" x2="376.99" y2="79.74" stroke="#920fa2" stroke-width="2.1" stroke-linecap="round"/>
<line x1="376.99" y1="79.74" x2="378.99" y2="81.25" stroke="#8f0da3" stroke-width="2.1" stroke-linecap="round"/>
<line x1="378.99" y1="81.25" x2="380.99" y2="82.73" stroke="#8b09a4" stroke-width="2.1" stroke-linecap="round"/>
<line x1="380.99" y1="82.73" x2="382.98" y2="84.16" stroke="#8807a5" stroke-width="2.1" stroke-linecap="round"/>
<line x1="382.98" y1="84.16" x2="384.98" y2="85.55" stroke="#8506a6" stroke-width="2.1" stroke-linecap="round"/>
<line x1="384.98" y1="85.55" x2="386.97" y2="86.89" stroke="#8204a7" stroke-width="2.1" stroke-linecap="round"/>
<line x1="386.97" y1="86.89" x2="388.97" y2="88.19" stroke="#7f03a7" stroke-width="2.1" stroke-linecap="round"/>
<line x1="388.97" y1="88.19" x2="390.97" y2="89.43" stroke="#7c02a7" stroke-width="2.1" stroke-linecap="round"/>
<line x1="390.97" y1="89.43" x2="392.96" y2="90.63" stroke="#7b02a8" stroke-width="2.1" stroke-linecap="round"/>
<line x1="392.96" y1="90.63" x2="394.96" y2="91.78" stroke="#7801a8" stroke-width="2.1" stroke-linecap="round"/>
<line x1="394.96" y1="91.78" x2="396.95" y2="92.87" stroke="#7500a8" stroke-width="2.1" stroke-linecap="round"/>
<line x1="396.95" y1="92.87" x2="398.95" y2="93.91" stroke="#7300a8" stroke-width="2.1" stroke-linecap="round"/>
<line x1="398.95" y1="93.91" x2="400.95" y2="94.89" stroke="#7000a8" stroke-width="2.1" stroke-linecap="round"/>
<line x1="400.95" y1="94.89" x2="402.94" y2="95.83" stroke="#6f00a8" stroke-width="2.1" stroke-linecap="round"/>
<line x1="402.94" y1="95.83" x2="404.94" y2="96.70" stroke="#6c00a8" stroke-width="2.1" stroke-linecap="round"/>
<line x1="404.94" y1="96.70" x2="406.93" y2="97.52" stroke="#6a00a7" stroke-width="2.1" stroke-linecap="round"/>
<line x1="406.93" y1="97.52" x2="408.93" y2="98.29" stroke="#6800a7" stroke-width="2.1" stroke-linecap="round"/>
<line x1="408.93" y1="98.29" x2="410.93" y2="99.00" stroke="#6700a7" stroke-width="2.1" stroke-linecap="round"/>
<line x1="410.93" y1="99.00" x2="412.92" y2="99.65" stroke="#6500a7" stroke-width="2.1" stroke-linecap="round"/>
<line x1="412.92" y1="99.65" x2="414.92" y2="100.25" stroke="#6400a7" stroke-width="2.1" stroke-linecap="round"/>
<line x1="414.92" y1="100.25" x2="416.91" y2="100.79" stroke="#6200a6" stroke-width="2.1" stroke-linecap="round"/>
<line x1="416.91" y1="100.79" x2="418.91" y2="101.28" stroke="#6200a6" stroke-width="2.1" stroke-linecap="round"/>
<line x1="418.91" y1="101.28" x2="420.90" y2="101.72" stroke="#6100a6" stroke-width="2.1" stroke-linecap="round"/>
<line x1="420.90" y1="101.72" x2="422.90" y2="102.10" stroke="#5f00a6" stroke-width="2.1" stroke-linecap="round"/>
<line x1="422.90" y1="102.10" x2="424.90" y2="102.43" stroke="#5f00a6" stroke-width="2.1" stroke-linecap="round"/>
<line x1="424.90" y1="102.43" x2="426.89" y2="102.71" stroke="#5e00a5" stroke-width="2.1" stroke-linecap="round"/>
<line x1="426.89" y1="102.71" x2="428.89" y2="102.93" stroke="#5e00a5" stroke-width="2.1" stroke-linecap="round"/>
<line x1="428.89" y1="102.93" x2="430.88" y2="103.11" stroke="#5e00a5" stroke-width="2.1" stroke-linecap="round"/>
<line x1="430.88" y1="103.11" x2="432.88" y2="103.24" stroke="#5c00a5" stroke-width="2.1" stroke-linecap="round"/>
<line x1="432.88" y1="103.24" x2="434.88" y2="103.33" stroke="#5c00a5" stroke-width="2.1" stroke-linecap="round"/>
<line x1="434.88" y1="103.33" x2="436.87" y2="103.37" stroke="#5c00a5" stroke-width="2.1" stroke-linecap="round"/>
<line x1="436.87" y1="103.37" x2="438.87" y2="103.37" stroke="#5c00a5" stroke-width="2.1" stroke-linecap="round"/>
<line x1="438.87" y1="103.37" x2="440.86" y2="103.32" stroke="#5c00a5" stroke-width="2.1" stroke-linecap="round"/>
<line x1="440.86" y1="103.32" x2="442.86" y2="103.24" stroke="#5c00a5" stroke-width="2.1" stroke-linecap="round"/>
<line x1="442.86" y1="103.24" x2="444.86" y2="103.11" stroke="#5c00a5" stroke-width="2.1" stroke-linecap="round"/>
<line x1="444.86" y1="103.11" x2="446.85" y2="102.95" stroke="#5e00a5" stroke-width="2.1" stroke-linecap="round"/>
<line x1="446.85" y1="102.95" x2="448.85" y2="102.76" stroke="#5e00a5" stroke-width="2.1" stroke-linecap="round"/>
<line x1="448.85" y1="102.76" x2="450.84" y2="102.53" stroke="#5e00a5" stroke-width="2.1" stroke-linecap="round"/>
<line x1="450.84" y1="102.53" x2="452.84" y2="102.27" stroke="#5f00a6" stroke-width="2.1" stroke-linecap="round"/>
<line x1="452.84" y1="102.27" x2="454.84" y2="101.99" stroke="#5f00a6" stroke-width="2.1" stroke-linecap="round"/>
<line x1="454.84" y1="101.99" x2="456.83" y2="101.67" stroke="#5f00a6" stroke-width="2.1" stroke-linecap="round"/>
<line x1="456.83" y1="101.67" x2="458.83" y2="101.33" stroke="#6100a6" stroke-width="2.1" stroke-linecap="round"/>
<line x1="458.83" y1="101.33" x2="460.82" y2="100.97" stroke="#6100a6" stroke-width="2.1" stroke-linecap="round"/>
<line x1="460.82" y1="100.97" x2="462.82" y2="100.59" stroke="#6200a6" stroke-width="2.1" stroke-linecap="round"/>
<line x1="462.82" y1="100.59" x2="464.81" y2="100.19" stroke="#6200a6" stroke-width="2.1" stroke-linecap="round"/>
<line x1="464.81" y1="100.19" x2="466.81" y2="99.77" stroke="#6400a7" stroke-width="2.1" stroke-linecap="round"/>
<line x1="466.81" y1="99.77" x2="468.81" y2="99.34" stroke="#6500a7" stroke-width="2.1" stroke-linecap="round"/>
<line x1="468.81" y1="99.34" x2="470.80" y2="98.89" stroke="#6500a7" stroke-width="2.1" stroke-linecap="round"/>
<line x1="470.80" y1="98.89" x2="472.80" y2="98.43" stroke="#6700a7" stroke-width="2.1" stroke-linecap="round"/>
<line x1="472.80" y1="98.43" x2="474.79" y2="97.97" stroke="#6800a7" stroke-width="2.1" stroke-linecap="round"/>
<line x1="474.79" y1="97.97" x2="476.79" y2="97.49" stroke="#6800a7" stroke-width="2.1" stroke-linecap="round"/>
<line x1="476.79" y1="97.49" x2="478.79" y2="97.01" stroke="#6a00a7" stroke-width="2.1" stroke-linecap="round"/>
<line x1="478.79" y1="97.01" x2="480.78" y2="96.53" stroke="#6c00a8" stroke-width="2.1" stroke-linecap="round"/>
<line x1="480.78" y1="96.53" x2="482.78" y2="96.04" stroke="#6c00a8" stroke-width="2.1" stroke-linecap="round"/>
<line x1="482.78" y1="96.04" x2="484.77" y2="95.55" stroke="#6d00a8" stroke-width="2.1" stroke-linecap="round"/>
<line x1="484.77" y1="95.55" x2="486.77" y2="95.06" stroke="#6f00a8" stroke-width="2.1" stroke-linecap="round"/>
<line x1="486.77" y1="95.06" x2="488.77" y2="94.57" stroke="#7000a8" stroke-width="2.1" stroke-linecap="round"/>
<line x1="488.77" y1="94.57" x2="490.76" y2="94.09" stroke="#7000a8" stroke-width="2.1" stroke-linecap="round"/>
<line x1="490.76" y1="94.09" x2="492.76" y2="93.61" stroke="#7200a8" stroke-width="2.1" stroke-linecap="round"/>
<line x1="492.76" y1="93.61" x2="494.75" y2="93.13" stroke="#7300a8" stroke-width="2.1" stroke-linecap="round"/>
<line x1="494.75" y1="93.13" x2="496.75" y2="92.66" stroke="#7300a8" stroke-width="2.1" stroke-linecap="round"/>
<line x1="496.75" y1="92.66" x2="498.75" y2="92.20" stroke="#7500a8" stroke-width="2.1" stroke-linecap="round"/>
<line x1="498.75" y1="92.20" x2="500.74" y2="91.75" stroke="#7601a8" stroke-width="2.1" stroke-linecap="round"/>
<line x1="500.74" y1="91.75" x2="502.74" y2="91.30" stroke="#7601a8" stroke-width="2.1" stroke-linecap="round"/>
<line x1="502.74" y1="91.30" x2="504.73" y2="90.86" stroke="#7801a8" stroke-width="2.1" stroke-linecap="round"/>
<line x1="504.73" y1="90.86" x2="506.73" y2="90.43" stroke="#7901a8" stroke-width="2.1" stroke-linecap="round"/>
<line x1="506.73" y1="90.43" x2="508.72" y2="90.01" stroke="#7901a8" stroke-width="2.1" stroke-linecap="round"/>
<line x1="508.72" y1="90.01" x2="510.72" y2="89.61" stroke="#7b02a8" stroke-width="2.1" stroke-linecap="round"/>
<line x1="510.72" y1="89.61" x2="512.72" y2="89.21" stroke="#7c02a7" stroke-width="2.1" stroke-linecap="round"/>
<line x1="512.72" y1="89.21" x2="514.71" y2="88.82" stroke="#7c02a7" stroke-width="2.1" stroke-linecap="round"/>
<line x1="514.71" y1="88.82" x2="516.71" y2="88.44" stroke="#7e03a7" stroke-width="2.1" stroke-linecap="round"/>
<line x1="516.71" y1="88.44" x2="518.70" y2="88.07" stroke="#7e03a7" stroke-width="2.1" stroke-linecap="round"/>
<line x1="518.70" y1="88.07" x2="520.70" y2="87.71" stroke="#7f03a7" stroke-width="2.1" stroke-linecap="round"/>
<line x1="81.6" y1="103.6" x2="520.7" y2="103.6" stroke="#1f77b4" stroke-width="2.43" stroke-dasharray="2.43,4.0"/>
<line x1="81.6" y1="127.4" x2="520.7" y2="127.4" stroke="#1f77b4" stroke-width="2.43" stroke-dasharray="2.43,4.0"/>
<line x1="437.3" y1="140.6" x2="437.3" y2="0.6" stroke="#6495ed" stroke-width="2.60" stroke-dasharray="9,3.94"/>
<path d="M437.10,92.80 439.52,100.26 447.37,100.26 441.02,104.87 443.45,112.34 437.10,107.73 430.75,112.34 433.18,104.87 426.83,100.26 434.68,100.26Z" fill="#000" stroke="#fff" stroke-width="1.50" stroke-linejoin="miter"/>
<path d="M174.00,116.60 176.42,124.06 184.27,124.06 177.92,128.67 180.35,136.14 174.00,131.53 167.65,136.14 170.08,128.67 163.73,124.06 171.58,124.06Z" fill="#fff" stroke="#000" stroke-width="1.50" stroke-linejoin="miter"/>
<path d="M81.6,140.6 V0.6 H520.7 V140.6" fill="none" stroke="#000" stroke-width="1.4"/>
<line x1="81.6" y1="140.6" x2="520.7" y2="140.6" stroke="#32cd32" stroke-width="2.43" stroke-dasharray="9,3.94"/>
<rect x="543.9" y="163.8" width="140.4" height="438.6" fill="#dcdcdc"/>
<line x1="648.84" y1="163.80" x2="648.05" y2="165.79" stroke="#d7566c" stroke-width="2.1" stroke-linecap="round"/>
<line x1="648.05" y1="165.79" x2="647.25" y2="167.79" stroke="#d5536d" stroke-width="2.1" stroke-linecap="round"/>
<line x1="647.25" y1="167.79" x2="646.46" y2="169.78" stroke="#d4526e" stroke-width="2.1" stroke-linecap="round"/>
<line x1="646.46" y1="169.78" x2="645.66" y2="171.77" stroke="#d3516f" stroke-width="2.1" stroke-linecap="round"/>
<line x1="645.66" y1="171.77" x2="644.86" y2="173.77" stroke="#d25070" stroke-width="2.1" stroke-linecap="round"/>
<line x1="644.86" y1="173.77" x2="644.06" y2="175.76" stroke="#d14f71" stroke-width="2.1" stroke-linecap="round"/>
<line x1="644.06" y1="175.76" x2="643.26" y2="177.76" stroke="#d14e72" stroke-width="2.1" stroke-linecap="round"/>
<line x1="643.26" y1="177.76" x2="642.47" y2="179.75" stroke="#cf4b74" stroke-width="2.1" stroke-linecap="round"/>
<line x1="642.47" y1="179.75" x2="641.67" y2="181.74" stroke="#ce4a75" stroke-width="2.1" stroke-linecap="round"/>
<line x1="641.67" y1="181.74" x2="640.87" y2="183.74" stroke="#cd4975" stroke-width="2.1" stroke-linecap="round"/>
<line x1="640.87" y1="183.74" x2="640.07" y2="185.73" stroke="#cc4876" stroke-width="2.1" stroke-linecap="round"/>
<line x1="640.07" y1="185.73" x2="639.28" y2="187.72" stroke="#cb4777" stroke-width="2.1" stroke-linecap="round"/>
<line x1="639.28" y1="187.72" x2="638.48" y2="189.72" stroke="#ca4678" stroke-width="2.1" stroke-linecap="round"/>
<line x1="638.48" y1="189.72" x2="637.68" y2="191.71" stroke="#c8447a" stroke-width="2.1" stroke-linecap="round"/>
<line x1="637.68" y1="191.71" x2="636.89" y2="193.70" stroke="#c7427b" stroke-width="2.1" stroke-linecap="round"/>
<line x1="636.89" y1="193.70" x2="636.09" y2="195.70" stroke="#c6417c" stroke-width="2.1" stroke-linecap="round"/>
<line x1="636.09" y1="195.70" x2="635.29" y2="197.69" stroke="#c5407d" stroke-width="2.1" stroke-linecap="round"/>
<line x1="635.29" y1="197.69" x2="634.49" y2="199.69" stroke="#c43f7e" stroke-width="2.1" stroke-linecap="round"/>
<line x1="634.49" y1="199.69" x2="633.69" y2="201.68" stroke="#c33e7f" stroke-width="2.1" stroke-linecap="round"/>
<line x1="633.69" y1="201.68" x2="632.89" y2="203.67" stroke="#c13c80" stroke-width="2.1" stroke-linecap="round"/>
<line x1="632.89" y1="203.67" x2="632.09" y2="205.67" stroke="#c03b81" stroke-width="2.1" stroke-linecap="round"/>
<line x1="632.09" y1="205.67" x2="631.28" y2="207.66" stroke="#bf3982" stroke-width="2.1" stroke-linecap="round"/>
<line x1="631.28" y1="207.66" x2="630.47" y2="209.65" stroke="#be3883" stroke-width="2.1" stroke-linecap="round"/>
<line x1="630.47" y1="209.65" x2="629.66" y2="211.65" stroke="#bd3784" stroke-width="2.1" stroke-linecap="round"/>
<line x1="629.66" y1="211.65" x2="628.85" y2="213.64" stroke="#bb3586" stroke-width="2.1" stroke-linecap="round"/>
<line x1="628.85" y1="213.64" x2="628.03" y2="215.63" stroke="#ba3487" stroke-width="2.1" stroke-linecap="round"/>
<line x1="628.03" y1="215.63" x2="627.21" y2="217.63" stroke="#b93388" stroke-width="2.1" stroke-linecap="round"/>
<line x1="627.21" y1="217.63" x2="626.38" y2="219.62" stroke="#b83289" stroke-width="2.1" stroke-linecap="round"/>
<line x1="626.38" y1="219.62" x2="625.55" y2="221.62" stroke="#b7308a" stroke-width="2.1" stroke-linecap="round"/>
<line x1="625.55" y1="221.62" x2="624.72" y2="223.61" stroke="#b52e8c" stroke-width="2.1" stroke-linecap="round"/>
<line x1="624.72" y1="223.61" x2="623.88" y2="225.60" stroke="#b42d8d" stroke-width="2.1" stroke-linecap="round"/>
<line x1="623.88" y1="225.60" x2="623.04" y2="227.60" stroke="#b22c8e" stroke-width="2.1" stroke-linecap="round"/>
<line x1="623.04" y1="227.60" x2="622.19" y2="229.59" stroke="#b12b8f" stroke-width="2.1" stroke-linecap="round"/>
<line x1="622.19" y1="229.59" x2="621.33" y2="231.58" stroke="#b02a8f" stroke-width="2.1" stroke-linecap="round"/>
<line x1="621.33" y1="231.58" x2="620.47" y2="233.58" stroke="#ae2791" stroke-width="2.1" stroke-linecap="round"/>
<line x1="620.47" y1="233.58" x2="619.61" y2="235.57" stroke="#ad2692" stroke-width="2.1" stroke-linecap="round"/>
<line x1="619.61" y1="235.57" x2="618.74" y2="237.56" stroke="#ac2593" stroke-width="2.1" stroke-linecap="round"/>
<line x1="618.74" y1="237.56" x2="617.86" y2="239.56" stroke="#a92395" stroke-width="2.1" stroke-linecap="round"/>
<line x1="617.86" y1="239.56" x2="616.97" y2="241.55" stroke="#a82296" stroke-width="2.1" stroke-linecap="round"/>
<line x1="616.97" y1="241.55" x2="616.09" y2="243.55" stroke="#a72197" stroke-width="2.1" stroke-linecap="round"/>
<line x1="616.09" y1="243.55" x2="615.19" y2="245.54" stroke="#a51f97" stroke-width="2.1" stroke-linecap="round"/>
<line x1="615.19" y1="245.54" x2="614.29" y2="247.53" stroke="#a31d99" stroke-width="2.1" stroke-linecap="round"/>
<line x1="614.29" y1="247.53" x2="613.38" y2="249.53" stroke="#a21c9a" stroke-width="2.1" stroke-linecap="round"/>
<line x1="613.38" y1="249.53" x2="612.47" y2="251.52" stroke="#a01b9b" stroke-width="2.1" stroke-linecap="round"/>
<line x1="612.47" y1="251.52" x2="611.56" y2="253.51" stroke="#9e199c" stroke-width="2.1" stroke-linecap="round"/>
<line x1="611.56" y1="253.51" x2="610.64" y2="255.51" stroke="#9d189d" stroke-width="2.1" stroke-linecap="round"/>
<line x1="610.64" y1="255.51" x2="609.71" y2="257.50" stroke="#9b179e" stroke-width="2.1" stroke-linecap="round"/>
<line x1="609.71" y1="257.50" x2="608.79" y2="259.49" stroke="#99149f" stroke-width="2.1" stroke-linecap="round"/>
<line x1="608.79" y1="259.49" x2="607.86" y2="261.49" stroke="#9713a0" stroke-width="2.1" stroke-linecap="round"/>
<line x1="607.86" y1="261.49" x2="606.92" y2="263.48" stroke="#9511a1" stroke-width="2.1" stroke-linecap="round"/>
<line x1="606.92" y1="263.48" x2="605.99" y2="265.48" stroke="#9310a1" stroke-width="2.1" stroke-linecap="round"/>
<line x1="605.99" y1="265.48" x2="605.05" y2="267.47" stroke="#920fa2" stroke-width="2.1" stroke-linecap="round"/>
<line x1="605.05" y1="267.47" x2="604.12" y2="269.46" stroke="#8f0da3" stroke-width="2.1" stroke-linecap="round"/>
<line x1="604.12" y1="269.46" x2="603.18" y2="271.46" stroke="#8e0ca4" stroke-width="2.1" stroke-linecap="round"/>
<line x1="603.18" y1="271.46" x2="602.25" y2="273.45" stroke="#8c0aa4" stroke-width="2.1" stroke-linecap="round"/>
<line x1="602.25" y1="273.45" x2="601.32" y2="275.44" stroke="#8908a5" stroke-width="2.1" stroke-linecap="round"/>
<line x1="601.32" y1="275.44" x2="600.39" y2="277.44" stroke="#8807a5" stroke-width="2.1" stroke-linecap="round"/>
<line x1="600.39" y1="277.44" x2="599.47" y2="279.43" stroke="#8607a6" stroke-width="2.1" stroke-linecap="round"/>
<line x1="599.47" y1="279.43" x2="598.55" y2="281.42" stroke="#8405a6" stroke-width="2.1" stroke-linecap="round"/>
<line x1="598.55" y1="281.42" x2="597.64" y2="283.42" stroke="#8204a7" stroke-width="2.1" stroke-linecap="round"/>
<line x1="597.64" y1="283.42" x2="596.74" y2="285.41" stroke="#8104a7" stroke-width="2.1" stroke-linecap="round"/>
<line x1="596.74" y1="285.41" x2="595.84" y2="287.41" stroke="#7e03a7" stroke-width="2.1" stroke-linecap="round"/>
<line x1="595.84" y1="287.41" x2="594.96" y2="289.40" stroke="#7c02a7" stroke-width="2.1" stroke-linecap="round"/>
<line x1="594.96" y1="289.40" x2="594.09" y2="291.39" stroke="#7b02a8" stroke-width="2.1" stroke-linecap="round"/>
<line x1="594.09" y1="291.39" x2="593.23" y2="293.39" stroke="#7801a8" stroke-width="2.1" stroke-linecap="round"/>
<line x1="593.23" y1="293.39" x2="592.38" y2="295.38" stroke="#7601a8" stroke-width="2.1" stroke-linecap="round"/>
<line x1="592.38" y1="295.38" x2="591.55" y2="297.37" stroke="#7500a8" stroke-width="2.1" stroke-linecap="round"/>
<line x1="591.55" y1="297.37" x2="590.74" y2="299.37" stroke="#7300a8" stroke-width="2.1" stroke-linecap="round"/>
<line x1="590.74" y1="299.37" x2="589.95" y2="301.36" stroke="#7200a8" stroke-width="2.1" stroke-linecap="round"/>
<line x1="589.95" y1="301.36" x2="589.18" y2="303.35" stroke="#6f00a8" stroke-width="2.1" stroke-linecap="round"/>
<line x1="589.18" y1="303.35" x2="588.42" y2="305.35" stroke="#6d00a8" stroke-width="2.1" stroke-linecap="round"/>
<line x1="588.42" y1="305.35" x2="587.70" y2="307.34" stroke="#6c00a8" stroke-width="2.1" stroke-linecap="round"/>
<line x1="587.70" y1="307.34" x2="586.99" y2="309.34" stroke="#6a00a7" stroke-width="2.1" stroke-linecap="round"/>
<line x1="586.99" y1="309.34" x2="586.31" y2="311.33" stroke="#6800a7" stroke-width="2.1" stroke-linecap="round"/>
<line x1="586.31" y1="311.33" x2="585.66" y2="313.32" stroke="#6700a7" stroke-width="2.1" stroke-linecap="round"/>
<line x1="585.66" y1="313.32" x2="585.04" y2="315.32" stroke="#6500a7" stroke-width="2.1" stroke-linecap="round"/>
<line x1="585.04" y1="315.32" x2="584.45" y2="317.31" stroke="#6400a7" stroke-width="2.1" stroke-linecap="round"/>
<line x1="584.45" y1="317.31" x2="583.89" y2="319.30" stroke="#6400a7" stroke-width="2.1" stroke-linecap="round"/>
<line x1="583.89" y1="319.30" x2="583.37" y2="321.30" stroke="#6200a6" stroke-width="2.1" stroke-linecap="round"/>
<line x1="583.37" y1="321.30" x2="582.88" y2="323.29" stroke="#6100a6" stroke-width="2.1" stroke-linecap="round"/>
<line x1="582.88" y1="323.29" x2="582.42" y2="325.28" stroke="#5f00a6" stroke-width="2.1" stroke-linecap="round"/>
<line x1="582.42" y1="325.28" x2="582.01" y2="327.28" stroke="#5f00a6" stroke-width="2.1" stroke-linecap="round"/>
<line x1="582.01" y1="327.28" x2="581.63" y2="329.27" stroke="#5e00a5" stroke-width="2.1" stroke-linecap="round"/>
<line x1="581.63" y1="329.27" x2="581.29" y2="331.27" stroke="#5e00a5" stroke-width="2.1" stroke-linecap="round"/>
<line x1="581.29" y1="331.27" x2="580.99" y2="333.26" stroke="#5c00a5" stroke-width="2.1" stroke-linecap="round"/>
<line x1="580.99" y1="333.26" x2="580.74" y2="335.25" stroke="#5c00a5" stroke-width="2.1" stroke-linecap="round"/>
<line x1="580.74" y1="335.25" x2="580.53" y2="337.25" stroke="#5a00a5" stroke-width="2.1" stroke-linecap="round"/>
<line x1="580.53" y1="337.25" x2="580.36" y2="339.24" stroke="#5a00a5" stroke-width="2.1" stroke-linecap="round"/>
<line x1="580.36" y1="339.24" x2="580.24" y2="341.23" stroke="#5a00a5" stroke-width="2.1" stroke-linecap="round"/>
<line x1="580.24" y1="341.23" x2="580.17" y2="343.23" stroke="#5a00a5" stroke-width="2.1" stroke-linecap="round"/>
<line x1="580.17" y1="343.23" x2="580.15" y2="345.22" stroke="#5a00a5" stroke-width="2.1" stroke-linecap="round"/>
<line x1="580.15" y1="345.22" x2="580.17" y2="347.21" stroke="#5a00a5" stroke-width="2.1" stroke-linecap="round"/>
<line x1="580.17" y1="347.21" x2="580.24" y2="349.21" stroke="#5a00a5" stroke-width="2.1" stroke-linecap="round"/>
<line x1="580.24" y1="349.21" x2="580.36" y2="351.20" stroke="#5a00a5" stroke-width="2.1" stroke-linecap="round"/>
<line x1="580.36" y1="351.20" x2="580.53" y2="353.20" stroke="#5a00a5" stroke-width="2.1" stroke-linecap="round"/>
<line x1="580.53" y1="353.20" x2="580.76" y2="355.19" stroke="#5a00a5" stroke-width="2.1" stroke-linecap="round"/>
<line x1="580.76" y1="355.19" x2="581.03" y2="357.18" stroke="#5c00a5" stroke-width="2.1" stroke-linecap="round"/>
<line x1="581.03" y1="357.18" x2="581.36" y2="359.18" stroke="#5c00a5" stroke-width="2.1" stroke-linecap="round"/>
<line x1="581.36" y1="359.18" x2="581.73" y2="361.17" stroke="#5e00a5" stroke-width="2.1" stroke-linecap="round"/>
<line x1="581.73" y1="361.17" x2="582.16" y2="363.16" stroke="#5e00a5" stroke-width="2.1" stroke-linecap="round"/>
<line x1="582.16" y1="363.16" x2="582.64" y2="365.16" stroke="#5f00a6" stroke-width="2.1" stroke-linecap="round"/>
<line x1="582.64" y1="365.16" x2="583.18" y2="367.15" stroke="#6100a6" stroke-width="2.1" stroke-linecap="round"/>
<line x1="583.18" y1="367.15" x2="583.76" y2="369.14" stroke="#6200a6" stroke-width="2.1" stroke-linecap="round"/>
<line x1="583.76" y1="369.14" x2="584.40" y2="371.14" stroke="#6200a6" stroke-width="2.1" stroke-linecap="round"/>
<line x1="584.40" y1="371.14" x2="585.08" y2="373.13" stroke="#6400a7" stroke-width="2.1" stroke-linecap="round"/>
<line x1="585.08" y1="373.13" x2="585.82" y2="375.13" stroke="#6500a7" stroke-width="2.1" stroke-linecap="round"/>
<line x1="585.82" y1="375.13" x2="586.61" y2="377.12" stroke="#6800a7" stroke-width="2.1" stroke-linecap="round"/>
<line x1="586.61" y1="377.12" x2="587.44" y2="379.11" stroke="#6a00a7" stroke-width="2.1" stroke-linecap="round"/>
<line x1="587.44" y1="379.11" x2="588.33" y2="381.11" stroke="#6c00a8" stroke-width="2.1" stroke-linecap="round"/>
<line x1="588.33" y1="381.11" x2="589.26" y2="383.10" stroke="#6d00a8" stroke-width="2.1" stroke-linecap="round"/>
<line x1="589.26" y1="383.10" x2="590.24" y2="385.09" stroke="#7000a8" stroke-width="2.1" stroke-linecap="round"/>
<line x1="590.24" y1="385.09" x2="591.27" y2="387.09" stroke="#7200a8" stroke-width="2.1" stroke-linecap="round"/>
<line x1="591.27" y1="387.09" x2="592.34" y2="389.08" stroke="#7500a8" stroke-width="2.1" stroke-linecap="round"/>
<line x1="592.34" y1="389.08" x2="593.46" y2="391.07" stroke="#7601a8" stroke-width="2.1" stroke-linecap="round"/>
<line x1="593.46" y1="391.07" x2="594.61" y2="393.07" stroke="#7901a8" stroke-width="2.1" stroke-linecap="round"/>
<line x1="594.61" y1="393.07" x2="595.81" y2="395.06" stroke="#7c02a7" stroke-width="2.1" stroke-linecap="round"/>
<line x1="595.81" y1="395.06" x2="597.05" y2="397.06" stroke="#7e03a7" stroke-width="2.1" stroke-linecap="round"/>
<line x1="597.05" y1="397.06" x2="598.32" y2="399.05" stroke="#8104a7" stroke-width="2.1" stroke-linecap="round"/>
<line x1="598.32" y1="399.05" x2="599.63" y2="401.04" stroke="#8405a6" stroke-width="2.1" stroke-linecap="round"/>
<line x1="599.63" y1="401.04" x2="600.98" y2="403.04" stroke="#8607a6" stroke-width="2.1" stroke-linecap="round"/>
<line x1="600.98" y1="403.04" x2="602.36" y2="405.03" stroke="#8908a5" stroke-width="2.1" stroke-linecap="round"/>
<line x1="602.36" y1="405.03" x2="603.77" y2="407.02" stroke="#8c0aa4" stroke-width="2.1" stroke-linecap="round"/>
<line x1="603.77" y1="407.02" x2="605.20" y2="409.02" stroke="#8f0da3" stroke-width="2.1" stroke-linecap="round"/>
<line x1="605.20" y1="409.02" x2="606.67" y2="411.01" stroke="#920fa2" stroke-width="2.1" stroke-linecap="round"/>
<line x1="606.67" y1="411.01" x2="608.16" y2="413.00" stroke="#9612a0" stroke-width="2.1" stroke-linecap="round"/>
<line x1="608.16" y1="413.00" x2="609.67" y2="415.00" stroke="#99149f" stroke-width="2.1" stroke-linecap="round"/>
<line x1="609.67" y1="415.00" x2="611.21" y2="416.99" stroke="#9b179e" stroke-width="2.1" stroke-linecap="round"/>
<line x1="611.21" y1="416.99" x2="612.76" y2="418.99" stroke="#9e199c" stroke-width="2.1" stroke-linecap="round"/>
<line x1="612.76" y1="418.99" x2="614.33" y2="420.98" stroke="#a21c9a" stroke-width="2.1" stroke-linecap="round"/>
<line x1="614.33" y1="420.98" x2="615.92" y2="422.97" stroke="#a41e98" stroke-width="2.1" stroke-linecap="round"/>
<line x1="615.92" y1="422.97" x2="617.51" y2="424.97" stroke="#a72197" stroke-width="2.1" stroke-linecap="round"/>
<line x1="617.51" y1="424.97" x2="619.12" y2="426.96" stroke="#a92395" stroke-width="2.1" stroke-linecap="round"/>
<line x1="619.12" y1="426.96" x2="620.74" y2="428.95" stroke="#ad2692" stroke-width="2.1" stroke-linecap="round"/>
<line x1="620.74" y1="428.95" x2="622.35" y2="430.95" stroke="#af2890" stroke-width="2.1" stroke-linecap="round"/>
<line x1="622.35" y1="430.95" x2="623.98" y2="432.94" stroke="#b22c8e" stroke-width="2.1" stroke-linecap="round"/>
<line x1="623.98" y1="432.94" x2="625.60" y2="434.93" stroke="#b52e8c" stroke-width="2.1" stroke-linecap="round"/>
<line x1="625.60" y1="434.93" x2="627.22" y2="436.93" stroke="#b7308a" stroke-width="2.1" stroke-linecap="round"/>
<line x1="627.22" y1="436.93" x2="628.84" y2="438.92" stroke="#ba3487" stroke-width="2.1" stroke-linecap="round"/>
<line x1="628.84" y1="438.92" x2="630.45" y2="440.92" stroke="#bc3685" stroke-width="2.1" stroke-linecap="round"/>
<line x1="630.45" y1="440.92" x2="632.05" y2="442.91" stroke="#be3883" stroke-width="2.1" stroke-linecap="round"/>
<line x1="632.05" y1="442.91" x2="633.65" y2="444.90" stroke="#c13c80" stroke-width="2.1" stroke-linecap="round"/>
<line x1="633.65" y1="444.90" x2="635.22" y2="446.90" stroke="#c33e7f" stroke-width="2.1" stroke-linecap="round"/>
<line x1="635.22" y1="446.90" x2="636.79" y2="448.89" stroke="#c5407d" stroke-width="2.1" stroke-linecap="round"/>
<line x1="636.79" y1="448.89" x2="638.34" y2="450.88" stroke="#c8447a" stroke-width="2.1" stroke-linecap="round"/>
<line x1="638.34" y1="450.88" x2="639.86" y2="452.88" stroke="#ca4678" stroke-width="2.1" stroke-linecap="round"/>
<line x1="639.86" y1="452.88" x2="641.37" y2="454.87" stroke="#cc4876" stroke-width="2.1" stroke-linecap="round"/>
<line x1="641.37" y1="454.87" x2="642.85" y2="456.86" stroke="#ce4a75" stroke-width="2.1" stroke-linecap="round"/>
<line x1="642.85" y1="456.86" x2="644.31" y2="458.86" stroke="#d04d73" stroke-width="2.1" stroke-linecap="round"/>
<line x1="644.31" y1="458.86" x2="645.74" y2="460.85" stroke="#d25070" stroke-width="2.1" stroke-linecap="round"/>
<line x1="645.74" y1="460.85" x2="647.14" y2="462.85" stroke="#d4526e" stroke-width="2.1" stroke-linecap="round"/>
<line x1="647.14" y1="462.85" x2="648.51" y2="464.84" stroke="#d6556d" stroke-width="2.1" stroke-linecap="round"/>
<line x1="648.51" y1="464.84" x2="649.85" y2="466.83" stroke="#d7576b" stroke-width="2.1" stroke-linecap="round"/>
<line x1="649.85" y1="466.83" x2="651.15" y2="468.83" stroke="#d95969" stroke-width="2.1" stroke-linecap="round"/>
<line x1="651.15" y1="468.83" x2="652.42" y2="470.82" stroke="#da5a68" stroke-width="2.1" stroke-linecap="round"/>
<line x1="652.42" y1="470.82" x2="653.65" y2="472.81" stroke="#dc5d66" stroke-width="2.1" stroke-linecap="round"/>
<line x1="653.65" y1="472.81" x2="654.84" y2="474.81" stroke="#dd5f65" stroke-width="2.1" stroke-linecap="round"/>
<line x1="654.84" y1="474.81" x2="655.99" y2="476.80" stroke="#df6163" stroke-width="2.1" stroke-linecap="round"/>
<line x1="655.99" y1="476.80" x2="657.10" y2="478.79" stroke="#df6262" stroke-width="2.1" stroke-linecap="round"/>
<line x1="657.10" y1="478.79" x2="658.17" y2="480.79" stroke="#e16560" stroke-width="2.1" stroke-linecap="round"/>
<line x1="658.17" y1="480.79" x2="659.20" y2="482.78" stroke="#e3675f" stroke-width="2.1" stroke-linecap="round"/>
<line x1="659.20" y1="482.78" x2="660.18" y2="484.78" stroke="#e3685e" stroke-width="2.1" stroke-linecap="round"/>
<line x1="660.18" y1="484.78" x2="661.11" y2="486.77" stroke="#e46a5d" stroke-width="2.1" stroke-linecap="round"/>
<line x1="661.11" y1="486.77" x2="662.00" y2="488.76" stroke="#e56c5b" stroke-width="2.1" stroke-linecap="round"/>
<line x1="662.00" y1="488.76" x2="662.85" y2="490.76" stroke="#e66d5a" stroke-width="2.1" stroke-linecap="round"/>
<line x1="662.85" y1="490.76" x2="663.64" y2="492.75" stroke="#e76e5a" stroke-width="2.1" stroke-linecap="round"/>
<line x1="663.64" y1="492.75" x2="664.39" y2="494.74" stroke="#e87059" stroke-width="2.1" stroke-linecap="round"/>
<line x1="664.39" y1="494.74" x2="665.09" y2="496.74" stroke="#e87158" stroke-width="2.1" stroke-linecap="round"/>
<line x1="665.09" y1="496.74" x2="665.75" y2="498.73" stroke="#e97257" stroke-width="2.1" stroke-linecap="round"/>
<line x1="665.75" y1="498.73" x2="666.35" y2="500.72" stroke="#ea7356" stroke-width="2.1" stroke-linecap="round"/>
<line x1="666.35" y1="500.72" x2="666.91" y2="502.72" stroke="#ea7455" stroke-width="2.1" stroke-linecap="round"/>
<line x1="666.91" y1="502.72" x2="667.41" y2="504.71" stroke="#eb7654" stroke-width="2.1" stroke-linecap="round"/>
<line x1="667.41" y1="504.71" x2="667.87" y2="506.71" stroke="#ec7754" stroke-width="2.1" stroke-linecap="round"/>
<line x1="667.87" y1="506.71" x2="668.28" y2="508.70" stroke="#ec7754" stroke-width="2.1" stroke-linecap="round"/>
<line x1="668.28" y1="508.70" x2="668.64" y2="510.69" stroke="#ec7853" stroke-width="2.1" stroke-linecap="round"/>
<line x1="668.64" y1="510.69" x2="668.96" y2="512.69" stroke="#ec7853" stroke-width="2.1" stroke-linecap="round"/>
<line x1="668.96" y1="512.69" x2="669.22" y2="514.68" stroke="#ed7952" stroke-width="2.1" stroke-linecap="round"/>
<line x1="669.22" y1="514.68" x2="669.44" y2="516.67" stroke="#ed7952" stroke-width="2.1" stroke-linecap="round"/>
<line x1="669.44" y1="516.67" x2="669.62" y2="518.67" stroke="#ed7952" stroke-width="2.1" stroke-linecap="round"/>
<line x1="669.62" y1="518.67" x2="669.75" y2="520.66" stroke="#ed7b51" stroke-width="2.1" stroke-linecap="round"/>
<line x1="669.75" y1="520.66" x2="669.83" y2="522.65" stroke="#ed7b51" stroke-width="2.1" stroke-linecap="round"/>
<line x1="669.83" y1="522.65" x2="669.87" y2="524.65" stroke="#ed7b51" stroke-width="2.1" stroke-linecap="round"/>
<line x1="669.87" y1="524.65" x2="669.86" y2="526.64" stroke="#ed7b51" stroke-width="2.1" stroke-linecap="round"/>
<line x1="669.86" y1="526.64" x2="669.82" y2="528.64" stroke="#ed7b51" stroke-width="2.1" stroke-linecap="round"/>
<line x1="669.82" y1="528.64" x2="669.73" y2="530.63" stroke="#ed7b51" stroke-width="2.1" stroke-linecap="round"/>
<line x1="669.73" y1="530.63" x2="669.60" y2="532.62" stroke="#ed7b51" stroke-width="2.1" stroke-linecap="round"/>
<line x1="669.60" y1="532.62" x2="669.43" y2="534.62" stroke="#ed7952" stroke-width="2.1" stroke-linecap="round"/>
<line x1="669.43" y1="534.62" x2="669.23" y2="536.61" stroke="#ed7952" stroke-width="2.1" stroke-linecap="round"/>
<line x1="669.23" y1="536.61" x2="668.98" y2="538.60" stroke="#ed7952" stroke-width="2.1" stroke-linecap="round"/>
<line x1="668.98" y1="538.60" x2="668.70" y2="540.60" stroke="#ec7853" stroke-width="2.1" stroke-linecap="round"/>
<line x1="668.70" y1="540.60" x2="668.39" y2="542.59" stroke="#ec7853" stroke-width="2.1" stroke-linecap="round"/>
<line x1="668.39" y1="542.59" x2="668.04" y2="544.58" stroke="#ec7754" stroke-width="2.1" stroke-linecap="round"/>
<line x1="668.04" y1="544.58" x2="667.66" y2="546.58" stroke="#ec7754" stroke-width="2.1" stroke-linecap="round"/>
<line x1="667.66" y1="546.58" x2="667.25" y2="548.57" stroke="#eb7654" stroke-width="2.1" stroke-linecap="round"/>
<line x1="667.25" y1="548.57" x2="666.81" y2="550.57" stroke="#eb7654" stroke-width="2.1" stroke-linecap="round"/>
<line x1="666.81" y1="550.57" x2="666.34" y2="552.56" stroke="#ea7455" stroke-width="2.1" stroke-linecap="round"/>
<line x1="666.34" y1="552.56" x2="665.84" y2="554.55" stroke="#ea7356" stroke-width="2.1" stroke-linecap="round"/>
<line x1="665.84" y1="554.55" x2="665.32" y2="556.55" stroke="#ea7356" stroke-width="2.1" stroke-linecap="round"/>
<line x1="665.32" y1="556.55" x2="664.78" y2="558.54" stroke="#e97257" stroke-width="2.1" stroke-linecap="round"/>
<line x1="664.78" y1="558.54" x2="664.21" y2="560.53" stroke="#e87158" stroke-width="2.1" stroke-linecap="round"/>
<line x1="664.21" y1="560.53" x2="663.62" y2="562.53" stroke="#e87059" stroke-width="2.1" stroke-linecap="round"/>
<line x1="663.62" y1="562.53" x2="663.01" y2="564.52" stroke="#e76e5a" stroke-width="2.1" stroke-linecap="round"/>
<line x1="663.01" y1="564.52" x2="662.38" y2="566.51" stroke="#e66d5a" stroke-width="2.1" stroke-linecap="round"/>
<line x1="662.38" y1="566.51" x2="661.73" y2="568.51" stroke="#e56c5b" stroke-width="2.1" stroke-linecap="round"/>
<line x1="661.73" y1="568.51" x2="661.06" y2="570.50" stroke="#e56b5c" stroke-width="2.1" stroke-linecap="round"/>
<line x1="661.06" y1="570.50" x2="660.38" y2="572.50" stroke="#e46a5d" stroke-width="2.1" stroke-linecap="round"/>
<line x1="660.38" y1="572.50" x2="659.69" y2="574.49" stroke="#e3685e" stroke-width="2.1" stroke-linecap="round"/>
<line x1="659.69" y1="574.49" x2="658.98" y2="576.48" stroke="#e3675f" stroke-width="2.1" stroke-linecap="round"/>
<line x1="658.98" y1="576.48" x2="658.26" y2="578.48" stroke="#e26660" stroke-width="2.1" stroke-linecap="round"/>
<line x1="658.26" y1="578.48" x2="657.53" y2="580.47" stroke="#e16560" stroke-width="2.1" stroke-linecap="round"/>
<line x1="657.53" y1="580.47" x2="656.79" y2="582.46" stroke="#e06461" stroke-width="2.1" stroke-linecap="round"/>
<line x1="656.79" y1="582.46" x2="656.04" y2="584.46" stroke="#df6262" stroke-width="2.1" stroke-linecap="round"/>
<line x1="656.04" y1="584.46" x2="655.28" y2="586.45" stroke="#df6163" stroke-width="2.1" stroke-linecap="round"/>
<line x1="655.28" y1="586.45" x2="654.52" y2="588.44" stroke="#de6064" stroke-width="2.1" stroke-linecap="round"/>
<line x1="654.52" y1="588.44" x2="653.75" y2="590.44" stroke="#dd5f65" stroke-width="2.1" stroke-linecap="round"/>
<line x1="653.75" y1="590.44" x2="652.97" y2="592.43" stroke="#dc5e66" stroke-width="2.1" stroke-linecap="round"/>
<line x1="652.97" y1="592.43" x2="652.19" y2="594.43" stroke="#dc5d66" stroke-width="2.1" stroke-linecap="round"/>
<line x1="652.19" y1="594.43" x2="651.40" y2="596.42" stroke="#da5a68" stroke-width="2.1" stroke-linecap="round"/>
<line x1="651.40" y1="596.42" x2="650.61" y2="598.41" stroke="#d95969" stroke-width="2.1" stroke-linecap="round"/>
<line x1="650.61" y1="598.41" x2="649.82" y2="600.41" stroke="#d8586a" stroke-width="2.1" stroke-linecap="round"/>
<line x1="649.82" y1="600.41" x2="649.03" y2="602.40" stroke="#d7576b" stroke-width="2.1" stroke-linecap="round"/>
<line x1="580.9" y1="602.4" x2="580.9" y2="163.8" stroke="#1f77b4" stroke-width="2.43" stroke-dasharray="2.43,4.0"/>
<line x1="557.1" y1="602.4" x2="557.1" y2="163.8" stroke="#1f77b4" stroke-width="2.43" stroke-dasharray="2.43,4.0"/>
<line x1="543.9" y1="346.5" x2="684.3" y2="346.5" stroke="#32cd32" stroke-width="2.43" stroke-dasharray="9,3.94"/>
<path d="M580.90,335.70 583.32,343.16 591.17,343.16 584.82,347.77 587.25,355.24 580.90,350.63 574.55,355.24 576.98,347.77 570.63,343.16 578.48,343.16Z" fill="#000" stroke="#fff" stroke-width="1.50" stroke-linejoin="miter"/>
<path d="M557.10,512.20 559.52,519.66 567.37,519.66 561.02,524.27 563.45,531.74 557.10,527.13 550.75,531.74 553.18,524.27 546.83,519.66 554.68,519.66Z" fill="#fff" stroke="#000" stroke-width="1.50" stroke-linejoin="miter"/>
<path d="M543.9,163.8 H684.3 V602.4 H543.9" fill="none" stroke="#000" stroke-width="1.4"/>
<line x1="543.9" y1="602.4" x2="543.9" y2="163.8" stroke="#6495ed" stroke-width="2.43" stroke-dasharray="9,3.94"/>
<path d="M81.6,602.4 v5.7 M81.6,140.6 v5.7 M191.4,602.4 v5.7 M191.4,140.6 v5.7 M301.1,602.4 v5.7 M301.1,140.6 v5.7 M410.9,602.4 v5.7 M410.9,140.6 v5.7 M437.1,602.4 v5.7 M437.1,140.6 v5.7 M520.7,602.4 v5.7 M520.7,140.6 v5.7 M81.6,602.6 h-5.7 M543.9,602.6 h-5.7 M81.6,492.9 h-5.7 M543.9,492.9 h-5.7 M81.6,383.1 h-5.7 M543.9,383.1 h-5.7 M81.6,273.3 h-5.7 M543.9,273.3 h-5.7 M81.6,346.5 h-5.7 M543.9,346.5 h-5.7 M81.6,163.6 h-5.7 M543.9,163.6 h-5.7 M81.6,103.6 h-5.7 M580.9,602.4 v5.7 M81.6,127.4 h-5.7 M557.1,602.4 v5.7" stroke="#000" stroke-width="1.4" fill="none"/>
<text x="69.22" y="628.00" font-family="Liberation Serif, DejaVu Serif, serif" font-size="20.30" fill="#000" textLength="13.00" lengthAdjust="spacingAndGlyphs">−</text><text x="82.62" y="628.00" font-family="Liberation Serif, DejaVu Serif, serif" font-size="20.30" font-style="italic" fill="#000" textLength="11.40" lengthAdjust="spacingAndGlyphs">π</text>
<text x="170.53" y="628.00" font-family="Liberation Serif, DejaVu Serif, serif" font-size="20.30" fill="#000" textLength="13.00" lengthAdjust="spacingAndGlyphs">−</text><text x="183.93" y="628.00" font-family="Liberation Serif, DejaVu Serif, serif" font-size="20.30" font-style="italic" fill="#000" textLength="11.40" lengthAdjust="spacingAndGlyphs">π</text><text x="195.93" y="632.60" font-family="Liberation Serif, DejaVu Serif, serif" font-size="28.5" fill="#000" textLength="8.80" lengthAdjust="spacingAndGlyphs">/</text><text x="205.13" y="628.00" font-family="Liberation Serif, DejaVu Serif, serif" font-size="20.30" fill="#000" textLength="9.50" lengthAdjust="spacingAndGlyphs">2</text>
<text x="301.1" y="628.3" font-family="Liberation Sans, sans-serif" font-size="19.44" text-anchor="middle">0</text>
<text x="396.07" y="628.00" font-family="Liberation Serif, DejaVu Serif, serif" font-size="20.30" font-style="italic" fill="#000" textLength="11.40" lengthAdjust="spacingAndGlyphs">π</text><text x="408.07" y="632.60" font-family="Liberation Serif, DejaVu Serif, serif" font-size="28.5" fill="#000" textLength="8.80" lengthAdjust="spacingAndGlyphs">/</text><text x="417.27" y="628.00" font-family="Liberation Serif, DejaVu Serif, serif" font-size="20.30" fill="#000" textLength="9.50" lengthAdjust="spacingAndGlyphs">2</text>
<text x="429.00" y="627.40" font-family="Liberation Serif, DejaVu Serif, serif" font-size="20.30" font-style="italic" fill="#6495ed" textLength="8.60" lengthAdjust="spacingAndGlyphs">θ</text><text x="437.90" y="632.20" font-family="Liberation Serif, DejaVu Serif, serif" font-size="13.20" fill="#6495ed" textLength="6.60" lengthAdjust="spacingAndGlyphs">1</text><text x="438.10" y="621.80" font-family="Liberation Serif, DejaVu Serif, serif" font-size="13.20" fill="#6495ed" textLength="6.60" lengthAdjust="spacingAndGlyphs">∗</text>
<text x="514.98" y="628.00" font-family="Liberation Serif, DejaVu Serif, serif" font-size="20.30" font-style="italic" fill="#000" textLength="11.40" lengthAdjust="spacingAndGlyphs">π</text>
<text x="45.50" y="610.33" font-family="Liberation Serif, DejaVu Serif, serif" font-size="20.30" fill="#000" textLength="13.00" lengthAdjust="spacingAndGlyphs">−</text><text x="58.90" y="610.33" font-family="Liberation Serif, DejaVu Serif, serif" font-size="20.30" font-style="italic" fill="#000" textLength="11.40" lengthAdjust="spacingAndGlyphs">π</text>
<text x="26.20" y="500.57" font-family="Liberation Serif, DejaVu Serif, serif" font-size="20.30" fill="#000" textLength="13.00" lengthAdjust="spacingAndGlyphs">−</text><text x="39.60" y="500.57" font-family="Liberation Serif, DejaVu Serif, serif" font-size="20.30" font-style="italic" fill="#000" textLength="11.40" lengthAdjust="spacingAndGlyphs">π</text><text x="51.60" y="505.17" font-family="Liberation Serif, DejaVu Serif, serif" font-size="28.5" fill="#000" textLength="8.80" lengthAdjust="spacingAndGlyphs">/</text><text x="60.80" y="500.57" font-family="Liberation Serif, DejaVu Serif, serif" font-size="20.30" fill="#000" textLength="9.50" lengthAdjust="spacingAndGlyphs">2</text>
<text x="70.5" y="390.1" font-family="Liberation Sans, sans-serif" font-size="19.44" text-anchor="end">0</text>
<text x="39.60" y="281.03" font-family="Liberation Serif, DejaVu Serif, serif" font-size="20.30" font-style="italic" fill="#000" textLength="11.40" lengthAdjust="spacingAndGlyphs">π</text><text x="51.60" y="285.63" font-family="Liberation Serif, DejaVu Serif, serif" font-size="28.5" fill="#000" textLength="8.80" lengthAdjust="spacingAndGlyphs">/</text><text x="60.80" y="281.03" font-family="Liberation Serif, DejaVu Serif, serif" font-size="20.30" fill="#000" textLength="9.50" lengthAdjust="spacingAndGlyphs">2</text>
<text x="54.30" y="353.70" font-family="Liberation Serif, DejaVu Serif, serif" font-size="20.30" font-style="italic" fill="#32cd32" textLength="8.60" lengthAdjust="spacingAndGlyphs">θ</text><text x="63.20" y="358.50" font-family="Liberation Serif, DejaVu Serif, serif" font-size="13.20" fill="#32cd32" textLength="6.60" lengthAdjust="spacingAndGlyphs">2</text><text x="63.40" y="348.10" font-family="Liberation Serif, DejaVu Serif, serif" font-size="13.20" fill="#32cd32" textLength="6.60" lengthAdjust="spacingAndGlyphs">∗</text>
<text x="58.90" y="171.27" font-family="Liberation Serif, DejaVu Serif, serif" font-size="20.30" font-style="italic" fill="#000" textLength="11.40" lengthAdjust="spacingAndGlyphs">π</text>
<text x="70.2" y="110.6" font-family="Liberation Sans, sans-serif" font-size="19.44" text-anchor="end">1D</text>
<text x="70.2" y="134.4" font-family="Liberation Sans, sans-serif" font-size="19.44" text-anchor="end">2D</text>
<text x="557.1" y="627.7" font-family="Liberation Sans, sans-serif" font-size="19.44" text-anchor="middle">2D</text>
<text x="580.9" y="627.7" font-family="Liberation Sans, sans-serif" font-size="19.44" text-anchor="middle">1D</text>
<text x="198.6" y="653.1" font-family="Liberation Sans, sans-serif" font-size="19.44" textLength="185.5" lengthAdjust="spacing">Variational parameter</text>
<text x="389.30" y="653.10" font-family="Liberation Serif, DejaVu Serif, serif" font-size="20.30" font-style="italic" fill="#000" textLength="8.60" lengthAdjust="spacingAndGlyphs">θ</text><text x="398.20" y="657.90" font-family="Liberation Serif, DejaVu Serif, serif" font-size="13.20" fill="#000" textLength="6.60" lengthAdjust="spacingAndGlyphs">1</text>
<text transform="translate(14.4,486) rotate(-90)" font-family="Liberation Sans, sans-serif" font-size="19.44" textLength="185.5" lengthAdjust="spacing">Variational parameter</text>
<g transform="translate(14.4,486) rotate(-90)"><text x="190.70" y="0.00" font-family="Liberation Serif, DejaVu Serif, serif" font-size="20.30" font-style="italic" fill="#000" textLength="8.60" lengthAdjust="spacingAndGlyphs">θ</text><text x="199.60" y="4.80" font-family="Liberation Serif, DejaVu Serif, serif" font-size="13.20" fill="#000" textLength="6.60" lengthAdjust="spacingAndGlyphs">2</text></g>
<g transform="translate(34.5,104.8) rotate(-90)"><text x="0.00" y="0.00" font-family="Liberation Serif, DejaVu Serif, serif" font-size="20.30" font-style="italic" fill="#000" textLength="12.50" lengthAdjust="spacingAndGlyphs">E</text><text x="13.80" y="0.00" font-family="Liberation Serif, DejaVu Serif, serif" font-size="20.30" fill="#000" textLength="5.20" lengthAdjust="spacingAndGlyphs">(</text><text x="19.00" y="0.00" font-family="Liberation Serif, DejaVu Serif, serif" font-size="20.30" font-style="italic" fill="#000" textLength="9.10" lengthAdjust="spacingAndGlyphs">θ</text><text x="28.90" y="4.80" font-family="Liberation Serif, DejaVu Serif, serif" font-size="13.20" fill="#000" textLength="5.30" lengthAdjust="spacingAndGlyphs">1</text><text x="36.50" y="0.00" font-family="Liberation Serif, DejaVu Serif, serif" font-size="20.30" fill="#000" textLength="2.30" lengthAdjust="spacingAndGlyphs">,</text><text x="44.10" y="0.00" font-family="Liberation Serif, DejaVu Serif, serif" font-size="20.30" font-style="italic" fill="#000" textLength="8.30" lengthAdjust="spacingAndGlyphs">θ</text><text x="53.20" y="4.80" font-family="Liberation Serif, DejaVu Serif, serif" font-size="13.20" fill="#000" textLength="6.80" lengthAdjust="spacingAndGlyphs">2</text><text x="53.20" y="-5.60" font-family="Liberation Serif, DejaVu Serif, serif" font-size="13.20" fill="#000" textLength="6.80" lengthAdjust="spacingAndGlyphs">∗</text><text x="61.60" y="0.00" font-family="Liberation Serif, DejaVu Serif, serif" font-size="20.30" fill="#000" textLength="7.60" lengthAdjust="spacingAndGlyphs">)</text></g>
<g transform="translate(579.9,652.7)"><text x="0.00" y="0.00" font-family="Liberation Serif, DejaVu Serif, serif" font-size="20.30" font-style="italic" fill="#000" textLength="12.50" lengthAdjust="spacingAndGlyphs">E</text><text x="13.80" y="0.00" font-family="Liberation Serif, DejaVu Serif, serif" font-size="20.30" fill="#000" textLength="5.20" lengthAdjust="spacingAndGlyphs">(</text><text x="20.30" y="0.00" font-family="Liberation Serif, DejaVu Serif, serif" font-size="20.30" font-style="italic" fill="#000" textLength="8.80" lengthAdjust="spacingAndGlyphs">θ</text><text x="29.80" y="4.80" font-family="Liberation Serif, DejaVu Serif, serif" font-size="13.20" fill="#000" textLength="6.00" lengthAdjust="spacingAndGlyphs">1</text><text x="29.80" y="-5.60" font-family="Liberation Serif, DejaVu Serif, serif" font-size="13.20" fill="#000" textLength="6.30" lengthAdjust="spacingAndGlyphs">∗</text><text x="37.00" y="0.00" font-family="Liberation Serif, DejaVu Serif, serif" font-size="20.30" fill="#000" textLength="2.60" lengthAdjust="spacingAndGlyphs">,</text><text x="42.70" y="0.00" font-family="Liberation Serif, DejaVu Serif, serif" font-size="20.30" font-style="italic" fill="#000" textLength="8.70" lengthAdjust="spacingAndGlyphs">θ</text><text x="52.30" y="4.80" font-family="Liberation Serif, DejaVu Serif, serif" font-size="13.20" fill="#000" textLength="6.70" lengthAdjust="spacingAndGlyphs">2</text><text x="63.50" y="0.00" font-family="Liberation Serif, DejaVu Serif, serif" font-size="20.30" fill="#000" textLength="5.50" lengthAdjust="spacingAndGlyphs">)</text></g>
<rect x="278" y="172.3" width="234" height="91.2" rx="3.5" fill="#d3d3d3" fill-opacity="0.8" stroke="#ccc" stroke-opacity="0.8" stroke-width="1.1"/>
<circle cx="306" cy="190.5" r="8.1" fill="#fff" stroke="#000" stroke-width="3.0"/>
<line x1="285.3" y1="217" x2="326.6" y2="217" stroke="#fff" stroke-width="2.4"/>
<path d="M306.00,206.20 308.42,213.66 316.27,213.66 309.92,218.27 312.35,225.74 306.00,221.13 299.65,225.74 302.08,218.27 295.73,213.66 303.58,213.66Z" fill="#000" stroke="#fff" stroke-width="1.50" stroke-linejoin="miter"/>
<line x1="285.3" y1="244.2" x2="326.6" y2="244.2" stroke="#000" stroke-width="2.4"/>
<path d="M306.00,233.40 308.42,240.86 316.27,240.86 309.92,245.47 312.35,252.94 306.00,248.33 299.65,252.94 302.08,245.47 295.73,240.86 303.58,240.86Z" fill="#fff" stroke="#000" stroke-width="1.50" stroke-linejoin="miter"/>
<text x="340.2" y="196.5" font-family="Liberation Sans, sans-serif" font-size="19.44">Initial configuration</text>
<text x="340.2" y="223.7" font-family="Liberation Sans, sans-serif" font-size="19.44">1D ExcitationSolve</text>
<text x="340.2" y="251.0" font-family="Liberation Sans, sans-serif" font-size="19.44">2D ExcitationSolve</text>
</svg>
</body></html>
